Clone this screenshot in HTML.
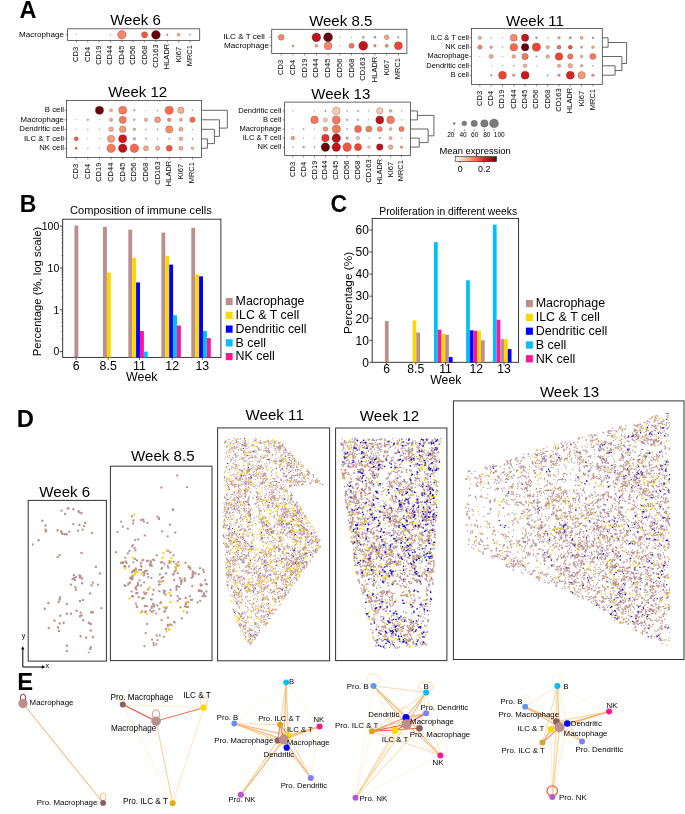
<!DOCTYPE html><html><head><meta charset="utf-8"><style>html,body{margin:0;padding:0;background:#fff;}svg{display:block;will-change:transform;}</style></head><body><svg width="685" height="814" viewBox="0 0 685 814"><g font-family="'Liberation Sans', sans-serif">
<text x="19.5" y="17.8" font-size="23.5" font-weight="bold">A</text>
<text x="135.5" y="24.7" font-size="15" text-anchor="middle">Week 6</text>
<rect x="67.6" y="28.8" width="132.1" height="11.7" fill="none" stroke="#444" stroke-width="0.8"/>
<line x1="65.6" y1="34.8" x2="67.6" y2="34.8" stroke="#444" stroke-width="0.6"/>
<text x="64" y="36.91" font-size="8.1" text-anchor="end">Macrophage</text>
<line x1="76.4" y1="40.5" x2="76.4" y2="42.5" stroke="#444" stroke-width="0.6"/>
<text x="78.4" y="54.4" font-size="7.5" text-anchor="middle" transform="rotate(-90 78.4 54.4)">CD3</text>
<line x1="87.76" y1="40.5" x2="87.76" y2="42.5" stroke="#444" stroke-width="0.6"/>
<text x="89.76" y="54.4" font-size="7.5" text-anchor="middle" transform="rotate(-90 89.76 54.4)">CD4</text>
<line x1="99.12" y1="40.5" x2="99.12" y2="42.5" stroke="#444" stroke-width="0.6"/>
<text x="101.12" y="55.23" font-size="7.5" text-anchor="middle" transform="rotate(-90 101.12 55.23)">CD19</text>
<line x1="110.48" y1="40.5" x2="110.48" y2="42.5" stroke="#444" stroke-width="0.6"/>
<text x="112.48" y="55.23" font-size="7.5" text-anchor="middle" transform="rotate(-90 112.48 55.23)">CD44</text>
<line x1="121.84" y1="40.5" x2="121.84" y2="42.5" stroke="#444" stroke-width="0.6"/>
<text x="123.84" y="55.23" font-size="7.5" text-anchor="middle" transform="rotate(-90 123.84 55.23)">CD45</text>
<line x1="133.2" y1="40.5" x2="133.2" y2="42.5" stroke="#444" stroke-width="0.6"/>
<text x="135.2" y="55.23" font-size="7.5" text-anchor="middle" transform="rotate(-90 135.2 55.23)">CD56</text>
<line x1="144.56" y1="40.5" x2="144.56" y2="42.5" stroke="#444" stroke-width="0.6"/>
<text x="146.56" y="55.23" font-size="7.5" text-anchor="middle" transform="rotate(-90 146.56 55.23)">CD68</text>
<line x1="155.92" y1="40.5" x2="155.92" y2="42.5" stroke="#444" stroke-width="0.6"/>
<text x="157.92" y="56.07" font-size="7.5" text-anchor="middle" transform="rotate(-90 157.92 56.07)">CD163</text>
<line x1="167.28" y1="40.5" x2="167.28" y2="42.5" stroke="#444" stroke-width="0.6"/>
<text x="169.28" y="56.48" font-size="7.5" text-anchor="middle" transform="rotate(-90 169.28 56.48)">HLADR</text>
<line x1="178.64" y1="40.5" x2="178.64" y2="42.5" stroke="#444" stroke-width="0.6"/>
<text x="180.64" y="54.49" font-size="7.5" text-anchor="middle" transform="rotate(-90 180.64 54.49)">KI67</text>
<line x1="190" y1="40.5" x2="190" y2="42.5" stroke="#444" stroke-width="0.6"/>
<text x="192" y="55.65" font-size="7.5" text-anchor="middle" transform="rotate(-90 192 55.65)">MRC1</text>
<circle cx="76.4" cy="34.8" r="0.3" fill="#fcab8f" stroke="#3a3a3a" stroke-width="0.3"/>
<circle cx="110.48" cy="34.8" r="0.4" fill="#fcab8f" stroke="#3a3a3a" stroke-width="0.3"/>
<circle cx="121.84" cy="34.8" r="4.3" fill="#fc8464" stroke="#3a3a3a" stroke-width="0.3"/>
<circle cx="144.56" cy="34.8" r="3.1" fill="#f6583e" stroke="#3a3a3a" stroke-width="0.3"/>
<circle cx="155.92" cy="34.8" r="4.4" fill="#67000d" stroke="#3a3a3a" stroke-width="0.3"/>
<circle cx="167.28" cy="34.8" r="0.8" fill="#fb7a5a" stroke="#3a3a3a" stroke-width="0.3"/>
<circle cx="178.64" cy="34.8" r="1.45" fill="#fcb296" stroke="#3a3a3a" stroke-width="0.3"/>
<circle cx="190" cy="34.8" r="0.55" fill="#fcab8f" stroke="#3a3a3a" stroke-width="0.3"/>
<text x="340.7" y="25.7" font-size="15" text-anchor="middle">Week 8.5</text>
<rect x="271.7" y="29.3" width="135.2" height="24.2" fill="none" stroke="#444" stroke-width="0.8"/>
<line x1="269.7" y1="37.3" x2="271.7" y2="37.3" stroke="#444" stroke-width="0.6"/>
<text x="264.9" y="39.41" font-size="8.1" text-anchor="end">ILC &amp; T cell</text>
<line x1="269.7" y1="45.8" x2="271.7" y2="45.8" stroke="#444" stroke-width="0.6"/>
<text x="269.1" y="47.91" font-size="8.1" text-anchor="end">Macrophage</text>
<line x1="281.2" y1="53.5" x2="281.2" y2="55.5" stroke="#444" stroke-width="0.6"/>
<text x="283.2" y="67.4" font-size="7.5" text-anchor="middle" transform="rotate(-90 283.2 67.4)">CD3</text>
<line x1="292.92" y1="53.5" x2="292.92" y2="55.5" stroke="#444" stroke-width="0.6"/>
<text x="294.92" y="67.4" font-size="7.5" text-anchor="middle" transform="rotate(-90 294.92 67.4)">CD4</text>
<line x1="304.64" y1="53.5" x2="304.64" y2="55.5" stroke="#444" stroke-width="0.6"/>
<text x="306.64" y="68.23" font-size="7.5" text-anchor="middle" transform="rotate(-90 306.64 68.23)">CD19</text>
<line x1="316.36" y1="53.5" x2="316.36" y2="55.5" stroke="#444" stroke-width="0.6"/>
<text x="318.36" y="68.23" font-size="7.5" text-anchor="middle" transform="rotate(-90 318.36 68.23)">CD44</text>
<line x1="328.08" y1="53.5" x2="328.08" y2="55.5" stroke="#444" stroke-width="0.6"/>
<text x="330.08" y="68.23" font-size="7.5" text-anchor="middle" transform="rotate(-90 330.08 68.23)">CD45</text>
<line x1="339.8" y1="53.5" x2="339.8" y2="55.5" stroke="#444" stroke-width="0.6"/>
<text x="341.8" y="68.23" font-size="7.5" text-anchor="middle" transform="rotate(-90 341.8 68.23)">CD56</text>
<line x1="351.52" y1="53.5" x2="351.52" y2="55.5" stroke="#444" stroke-width="0.6"/>
<text x="353.52" y="68.23" font-size="7.5" text-anchor="middle" transform="rotate(-90 353.52 68.23)">CD68</text>
<line x1="363.24" y1="53.5" x2="363.24" y2="55.5" stroke="#444" stroke-width="0.6"/>
<text x="365.24" y="69.07" font-size="7.5" text-anchor="middle" transform="rotate(-90 365.24 69.07)">CD163</text>
<line x1="374.96" y1="53.5" x2="374.96" y2="55.5" stroke="#444" stroke-width="0.6"/>
<text x="376.96" y="69.48" font-size="7.5" text-anchor="middle" transform="rotate(-90 376.96 69.48)">HLADR</text>
<line x1="386.68" y1="53.5" x2="386.68" y2="55.5" stroke="#444" stroke-width="0.6"/>
<text x="388.68" y="67.49" font-size="7.5" text-anchor="middle" transform="rotate(-90 388.68 67.49)">KI67</text>
<line x1="398.4" y1="53.5" x2="398.4" y2="55.5" stroke="#444" stroke-width="0.6"/>
<text x="400.4" y="68.65" font-size="7.5" text-anchor="middle" transform="rotate(-90 400.4 68.65)">MRC1</text>
<circle cx="281.2" cy="37.3" r="2.9" fill="#fc8464" stroke="#3a3a3a" stroke-width="0.3"/>
<circle cx="316.36" cy="37.3" r="4.4" fill="#bc141a" stroke="#3a3a3a" stroke-width="0.3"/>
<circle cx="328.08" cy="37.3" r="4.5" fill="#67000d" stroke="#3a3a3a" stroke-width="0.3"/>
<circle cx="339.8" cy="37.3" r="0.35" fill="#fcab8f" stroke="#3a3a3a" stroke-width="0.3"/>
<circle cx="351.52" cy="37.3" r="0.35" fill="#fcab8f" stroke="#3a3a3a" stroke-width="0.3"/>
<circle cx="363.24" cy="37.3" r="1.1" fill="#fcab8f" stroke="#3a3a3a" stroke-width="0.3"/>
<circle cx="374.96" cy="37.3" r="1" fill="#fc8464" stroke="#3a3a3a" stroke-width="0.3"/>
<circle cx="386.68" cy="37.3" r="2.4" fill="#fca183" stroke="#3a3a3a" stroke-width="0.3"/>
<circle cx="398.4" cy="37.3" r="0.7" fill="#fc8a6a" stroke="#3a3a3a" stroke-width="0.3"/>
<circle cx="292.92" cy="45.8" r="0.9" fill="#fb7a5a" stroke="#3a3a3a" stroke-width="0.3"/>
<circle cx="316.36" cy="45.8" r="1.4" fill="#fca183" stroke="#3a3a3a" stroke-width="0.3"/>
<circle cx="328.08" cy="45.8" r="3.9" fill="#fc8464" stroke="#3a3a3a" stroke-width="0.3"/>
<circle cx="339.8" cy="45.8" r="0.35" fill="#fcab8f" stroke="#3a3a3a" stroke-width="0.3"/>
<circle cx="351.52" cy="45.8" r="2.5" fill="#fb7151" stroke="#3a3a3a" stroke-width="0.3"/>
<circle cx="363.24" cy="45.8" r="4.5" fill="#c2161b" stroke="#3a3a3a" stroke-width="0.3"/>
<circle cx="374.96" cy="45.8" r="1.3" fill="#fc9070" stroke="#3a3a3a" stroke-width="0.3"/>
<circle cx="386.68" cy="45.8" r="1.6" fill="#fc9070" stroke="#3a3a3a" stroke-width="0.3"/>
<circle cx="398.4" cy="45.8" r="4" fill="#f14432" stroke="#3a3a3a" stroke-width="0.3"/>
<text x="535" y="26.3" font-size="15" text-anchor="middle">Week 11</text>
<rect x="471.5" y="28.4" width="130.8" height="56.1" fill="none" stroke="#444" stroke-width="0.8"/>
<line x1="469.5" y1="37.8" x2="471.5" y2="37.8" stroke="#444" stroke-width="0.6"/>
<text x="468.9" y="39.74" font-size="7.45" text-anchor="end">ILC &amp; T cell</text>
<line x1="469.5" y1="47.2" x2="471.5" y2="47.2" stroke="#444" stroke-width="0.6"/>
<text x="468.9" y="49.14" font-size="7.45" text-anchor="end">NK cell</text>
<line x1="469.5" y1="56.5" x2="471.5" y2="56.5" stroke="#444" stroke-width="0.6"/>
<text x="468.9" y="58.44" font-size="7.45" text-anchor="end">Macrophage</text>
<line x1="469.5" y1="65.8" x2="471.5" y2="65.8" stroke="#444" stroke-width="0.6"/>
<text x="468.9" y="67.74" font-size="7.45" text-anchor="end">Dendritic cell</text>
<line x1="469.5" y1="75.2" x2="471.5" y2="75.2" stroke="#444" stroke-width="0.6"/>
<text x="468.9" y="77.14" font-size="7.45" text-anchor="end">B cell</text>
<line x1="479.9" y1="84.5" x2="479.9" y2="86.5" stroke="#444" stroke-width="0.6"/>
<text x="481.9" y="98.4" font-size="7.5" text-anchor="middle" transform="rotate(-90 481.9 98.4)">CD3</text>
<line x1="491.2" y1="84.5" x2="491.2" y2="86.5" stroke="#444" stroke-width="0.6"/>
<text x="493.2" y="98.4" font-size="7.5" text-anchor="middle" transform="rotate(-90 493.2 98.4)">CD4</text>
<line x1="502.5" y1="84.5" x2="502.5" y2="86.5" stroke="#444" stroke-width="0.6"/>
<text x="504.5" y="99.23" font-size="7.5" text-anchor="middle" transform="rotate(-90 504.5 99.23)">CD19</text>
<line x1="513.8" y1="84.5" x2="513.8" y2="86.5" stroke="#444" stroke-width="0.6"/>
<text x="515.8" y="99.23" font-size="7.5" text-anchor="middle" transform="rotate(-90 515.8 99.23)">CD44</text>
<line x1="525.1" y1="84.5" x2="525.1" y2="86.5" stroke="#444" stroke-width="0.6"/>
<text x="527.1" y="99.23" font-size="7.5" text-anchor="middle" transform="rotate(-90 527.1 99.23)">CD45</text>
<line x1="536.4" y1="84.5" x2="536.4" y2="86.5" stroke="#444" stroke-width="0.6"/>
<text x="538.4" y="99.23" font-size="7.5" text-anchor="middle" transform="rotate(-90 538.4 99.23)">CD56</text>
<line x1="547.7" y1="84.5" x2="547.7" y2="86.5" stroke="#444" stroke-width="0.6"/>
<text x="549.7" y="99.23" font-size="7.5" text-anchor="middle" transform="rotate(-90 549.7 99.23)">CD68</text>
<line x1="559" y1="84.5" x2="559" y2="86.5" stroke="#444" stroke-width="0.6"/>
<text x="561" y="100.07" font-size="7.5" text-anchor="middle" transform="rotate(-90 561 100.07)">CD163</text>
<line x1="570.3" y1="84.5" x2="570.3" y2="86.5" stroke="#444" stroke-width="0.6"/>
<text x="572.3" y="100.48" font-size="7.5" text-anchor="middle" transform="rotate(-90 572.3 100.48)">HLADR</text>
<line x1="581.6" y1="84.5" x2="581.6" y2="86.5" stroke="#444" stroke-width="0.6"/>
<text x="583.6" y="98.49" font-size="7.5" text-anchor="middle" transform="rotate(-90 583.6 98.49)">KI67</text>
<line x1="592.9" y1="84.5" x2="592.9" y2="86.5" stroke="#444" stroke-width="0.6"/>
<text x="594.9" y="99.65" font-size="7.5" text-anchor="middle" transform="rotate(-90 594.9 99.65)">MRC1</text>
<circle cx="479.9" cy="37.8" r="1.6" fill="#fcab8f" stroke="#3a3a3a" stroke-width="0.3"/>
<circle cx="491.2" cy="37.8" r="0.4" fill="#fcab8f" stroke="#3a3a3a" stroke-width="0.3"/>
<circle cx="502.5" cy="37.8" r="0.3" fill="#fdcab5" stroke="#3a3a3a" stroke-width="0.3"/>
<circle cx="513.8" cy="37.8" r="3.5" fill="#fc8a6a" stroke="#3a3a3a" stroke-width="0.3"/>
<circle cx="525.1" cy="37.8" r="3.7" fill="#c2161b" stroke="#3a3a3a" stroke-width="0.3"/>
<circle cx="536.4" cy="37.8" r="0.9" fill="#fb7a5a" stroke="#3a3a3a" stroke-width="0.3"/>
<circle cx="547.7" cy="37.8" r="0.4" fill="#fdcab5" stroke="#3a3a3a" stroke-width="0.3"/>
<circle cx="559" cy="37.8" r="1.3" fill="#fcab8f" stroke="#3a3a3a" stroke-width="0.3"/>
<circle cx="570.3" cy="37.8" r="1.2" fill="#fca183" stroke="#3a3a3a" stroke-width="0.3"/>
<circle cx="581.6" cy="37.8" r="1.5" fill="#fcab8f" stroke="#3a3a3a" stroke-width="0.3"/>
<circle cx="592.9" cy="37.8" r="0.9" fill="#fc9070" stroke="#3a3a3a" stroke-width="0.3"/>
<circle cx="479.9" cy="47.2" r="2.1" fill="#fc8464" stroke="#3a3a3a" stroke-width="0.3"/>
<circle cx="491.2" cy="47.2" r="1.3" fill="#fcab8f" stroke="#3a3a3a" stroke-width="0.3"/>
<circle cx="502.5" cy="47.2" r="0.4" fill="#fdcab5" stroke="#3a3a3a" stroke-width="0.3"/>
<circle cx="513.8" cy="47.2" r="3.8" fill="#fb694a" stroke="#3a3a3a" stroke-width="0.3"/>
<circle cx="525.1" cy="47.2" r="3.8" fill="#67000d" stroke="#3a3a3a" stroke-width="0.3"/>
<circle cx="536.4" cy="47.2" r="4.1" fill="#f14432" stroke="#3a3a3a" stroke-width="0.3"/>
<circle cx="547.7" cy="47.2" r="1.6" fill="#fcab8f" stroke="#3a3a3a" stroke-width="0.3"/>
<circle cx="559" cy="47.2" r="2" fill="#fb7151" stroke="#3a3a3a" stroke-width="0.3"/>
<circle cx="570.3" cy="47.2" r="2" fill="#f34c37" stroke="#3a3a3a" stroke-width="0.3"/>
<circle cx="581.6" cy="47.2" r="1.1" fill="#fcab8f" stroke="#3a3a3a" stroke-width="0.3"/>
<circle cx="592.9" cy="47.2" r="1.3" fill="#fcab8f" stroke="#3a3a3a" stroke-width="0.3"/>
<circle cx="479.9" cy="56.5" r="0.3" fill="#fdcab5" stroke="#3a3a3a" stroke-width="0.3"/>
<circle cx="491.2" cy="56.5" r="2" fill="#fcab8f" stroke="#3a3a3a" stroke-width="0.3"/>
<circle cx="502.5" cy="56.5" r="0.3" fill="#fdcab5" stroke="#3a3a3a" stroke-width="0.3"/>
<circle cx="513.8" cy="56.5" r="1.8" fill="#fcab8f" stroke="#3a3a3a" stroke-width="0.3"/>
<circle cx="525.1" cy="56.5" r="3.2" fill="#fb7a5a" stroke="#3a3a3a" stroke-width="0.3"/>
<circle cx="536.4" cy="56.5" r="0.6" fill="#fc9b7c" stroke="#3a3a3a" stroke-width="0.3"/>
<circle cx="547.7" cy="56.5" r="1.8" fill="#fcab8f" stroke="#3a3a3a" stroke-width="0.3"/>
<circle cx="559" cy="56.5" r="3.8" fill="#f14432" stroke="#3a3a3a" stroke-width="0.3"/>
<circle cx="570.3" cy="56.5" r="2.7" fill="#fb7a5a" stroke="#3a3a3a" stroke-width="0.3"/>
<circle cx="581.6" cy="56.5" r="1.3" fill="#fcab8f" stroke="#3a3a3a" stroke-width="0.3"/>
<circle cx="592.9" cy="56.5" r="3" fill="#fb7a5a" stroke="#3a3a3a" stroke-width="0.3"/>
<circle cx="491.2" cy="65.8" r="0.3" fill="#fdcab5" stroke="#3a3a3a" stroke-width="0.3"/>
<circle cx="502.5" cy="65.8" r="0.4" fill="#fdcab5" stroke="#3a3a3a" stroke-width="0.3"/>
<circle cx="513.8" cy="65.8" r="0.6" fill="#fcbba1" stroke="#3a3a3a" stroke-width="0.3"/>
<circle cx="525.1" cy="65.8" r="1.8" fill="#fcab8f" stroke="#3a3a3a" stroke-width="0.3"/>
<circle cx="536.4" cy="65.8" r="0.3" fill="#fdcab5" stroke="#3a3a3a" stroke-width="0.3"/>
<circle cx="559" cy="65.8" r="1.6" fill="#fcab8f" stroke="#3a3a3a" stroke-width="0.3"/>
<circle cx="570.3" cy="65.8" r="2.3" fill="#fcab8f" stroke="#3a3a3a" stroke-width="0.3"/>
<circle cx="581.6" cy="65.8" r="1.2" fill="#fca183" stroke="#3a3a3a" stroke-width="0.3"/>
<circle cx="592.9" cy="65.8" r="0.5" fill="#fcbba1" stroke="#3a3a3a" stroke-width="0.3"/>
<circle cx="491.2" cy="75.2" r="0.8" fill="#fc8a6a" stroke="#3a3a3a" stroke-width="0.3"/>
<circle cx="502.5" cy="75.2" r="4" fill="#f14432" stroke="#3a3a3a" stroke-width="0.3"/>
<circle cx="513.8" cy="75.2" r="1.3" fill="#fcab8f" stroke="#3a3a3a" stroke-width="0.3"/>
<circle cx="525.1" cy="75.2" r="4" fill="#ca181d" stroke="#3a3a3a" stroke-width="0.3"/>
<circle cx="547.7" cy="75.2" r="0.6" fill="#fcab8f" stroke="#3a3a3a" stroke-width="0.3"/>
<circle cx="559" cy="75.2" r="1.3" fill="#fca183" stroke="#3a3a3a" stroke-width="0.3"/>
<circle cx="570.3" cy="75.2" r="4" fill="#d92523" stroke="#3a3a3a" stroke-width="0.3"/>
<circle cx="581.6" cy="75.2" r="3.7" fill="#fc9b7c" stroke="#3a3a3a" stroke-width="0.3"/>
<circle cx="592.9" cy="75.2" r="1.3" fill="#fc9b7c" stroke="#3a3a3a" stroke-width="0.3"/>
<path d="M602.3 37.8H608.1V47.2H602.3 M602.3 65.8H615.1V75.2H602.3 M602.3 56.5H621.9 M615.1 70.5H621.9V56.5 M608.1 42.5H626.6V63.5H621.9" fill="none" stroke="#555" stroke-width="0.9"/>
<text x="137.7" y="97.4" font-size="15" text-anchor="middle">Week 12</text>
<rect x="66.5" y="100.5" width="134.9" height="57" fill="none" stroke="#444" stroke-width="0.8"/>
<line x1="64.5" y1="110.3" x2="66.5" y2="110.3" stroke="#444" stroke-width="0.6"/>
<text x="63.9" y="112.33" font-size="7.8" text-anchor="end">B cell</text>
<line x1="64.5" y1="119.8" x2="66.5" y2="119.8" stroke="#444" stroke-width="0.6"/>
<text x="63.9" y="121.83" font-size="7.8" text-anchor="end">Macrophage</text>
<line x1="64.5" y1="129.3" x2="66.5" y2="129.3" stroke="#444" stroke-width="0.6"/>
<text x="63.9" y="131.33" font-size="7.8" text-anchor="end">Dendritic cell</text>
<line x1="64.5" y1="138.8" x2="66.5" y2="138.8" stroke="#444" stroke-width="0.6"/>
<text x="63.9" y="140.83" font-size="7.8" text-anchor="end">ILC &amp; T cell</text>
<line x1="64.5" y1="148.3" x2="66.5" y2="148.3" stroke="#444" stroke-width="0.6"/>
<text x="63.9" y="150.33" font-size="7.8" text-anchor="end">NK cell</text>
<line x1="76.2" y1="157.5" x2="76.2" y2="159.5" stroke="#444" stroke-width="0.6"/>
<text x="78.2" y="171.4" font-size="7.5" text-anchor="middle" transform="rotate(-90 78.2 171.4)">CD3</text>
<line x1="87.83" y1="157.5" x2="87.83" y2="159.5" stroke="#444" stroke-width="0.6"/>
<text x="89.83" y="171.4" font-size="7.5" text-anchor="middle" transform="rotate(-90 89.83 171.4)">CD4</text>
<line x1="99.46" y1="157.5" x2="99.46" y2="159.5" stroke="#444" stroke-width="0.6"/>
<text x="101.46" y="172.23" font-size="7.5" text-anchor="middle" transform="rotate(-90 101.46 172.23)">CD19</text>
<line x1="111.09" y1="157.5" x2="111.09" y2="159.5" stroke="#444" stroke-width="0.6"/>
<text x="113.09" y="172.23" font-size="7.5" text-anchor="middle" transform="rotate(-90 113.09 172.23)">CD44</text>
<line x1="122.72" y1="157.5" x2="122.72" y2="159.5" stroke="#444" stroke-width="0.6"/>
<text x="124.72" y="172.23" font-size="7.5" text-anchor="middle" transform="rotate(-90 124.72 172.23)">CD45</text>
<line x1="134.35" y1="157.5" x2="134.35" y2="159.5" stroke="#444" stroke-width="0.6"/>
<text x="136.35" y="172.23" font-size="7.5" text-anchor="middle" transform="rotate(-90 136.35 172.23)">CD56</text>
<line x1="145.98" y1="157.5" x2="145.98" y2="159.5" stroke="#444" stroke-width="0.6"/>
<text x="147.98" y="172.23" font-size="7.5" text-anchor="middle" transform="rotate(-90 147.98 172.23)">CD68</text>
<line x1="157.61" y1="157.5" x2="157.61" y2="159.5" stroke="#444" stroke-width="0.6"/>
<text x="159.61" y="173.07" font-size="7.5" text-anchor="middle" transform="rotate(-90 159.61 173.07)">CD163</text>
<line x1="169.24" y1="157.5" x2="169.24" y2="159.5" stroke="#444" stroke-width="0.6"/>
<text x="171.24" y="173.48" font-size="7.5" text-anchor="middle" transform="rotate(-90 171.24 173.48)">HLADR</text>
<line x1="180.87" y1="157.5" x2="180.87" y2="159.5" stroke="#444" stroke-width="0.6"/>
<text x="182.87" y="171.49" font-size="7.5" text-anchor="middle" transform="rotate(-90 182.87 171.49)">KI67</text>
<line x1="192.5" y1="157.5" x2="192.5" y2="159.5" stroke="#444" stroke-width="0.6"/>
<text x="194.5" y="172.65" font-size="7.5" text-anchor="middle" transform="rotate(-90 194.5 172.65)">MRC1</text>
<circle cx="99.46" cy="110.3" r="4.1" fill="#67000d" stroke="#3a3a3a" stroke-width="0.3"/>
<circle cx="111.09" cy="110.3" r="1.5" fill="#fcbba1" stroke="#3a3a3a" stroke-width="0.3"/>
<circle cx="122.72" cy="110.3" r="4" fill="#fb7a5a" stroke="#3a3a3a" stroke-width="0.3"/>
<circle cx="134.35" cy="110.3" r="0.8" fill="#fc9b7c" stroke="#3a3a3a" stroke-width="0.3"/>
<circle cx="145.98" cy="110.3" r="0.3" fill="#fdcab5" stroke="#3a3a3a" stroke-width="0.3"/>
<circle cx="157.61" cy="110.3" r="0.5" fill="#fcbba1" stroke="#3a3a3a" stroke-width="0.3"/>
<circle cx="169.24" cy="110.3" r="4.1" fill="#fb694a" stroke="#3a3a3a" stroke-width="0.3"/>
<circle cx="180.87" cy="110.3" r="3.2" fill="#fcab8f" stroke="#3a3a3a" stroke-width="0.3"/>
<circle cx="192.5" cy="110.3" r="0.5" fill="#fcbba1" stroke="#3a3a3a" stroke-width="0.3"/>
<circle cx="76.2" cy="119.8" r="0.3" fill="#fdcab5" stroke="#3a3a3a" stroke-width="0.3"/>
<circle cx="87.83" cy="119.8" r="0.8" fill="#fc9b7c" stroke="#3a3a3a" stroke-width="0.3"/>
<circle cx="99.46" cy="119.8" r="0.3" fill="#fdcab5" stroke="#3a3a3a" stroke-width="0.3"/>
<circle cx="111.09" cy="119.8" r="1.6" fill="#fcab8f" stroke="#3a3a3a" stroke-width="0.3"/>
<circle cx="122.72" cy="119.8" r="3.6" fill="#fb7a5a" stroke="#3a3a3a" stroke-width="0.3"/>
<circle cx="134.35" cy="119.8" r="0.8" fill="#fc8a6a" stroke="#3a3a3a" stroke-width="0.3"/>
<circle cx="145.98" cy="119.8" r="1.7" fill="#fcbba1" stroke="#3a3a3a" stroke-width="0.3"/>
<circle cx="157.61" cy="119.8" r="3" fill="#fc9b7c" stroke="#3a3a3a" stroke-width="0.3"/>
<circle cx="169.24" cy="119.8" r="1.8" fill="#fc8a6a" stroke="#3a3a3a" stroke-width="0.3"/>
<circle cx="180.87" cy="119.8" r="1.5" fill="#fcab8f" stroke="#3a3a3a" stroke-width="0.3"/>
<circle cx="192.5" cy="119.8" r="2.7" fill="#fb694a" stroke="#3a3a3a" stroke-width="0.3"/>
<circle cx="76.2" cy="129.3" r="0.3" fill="#fdcab5" stroke="#3a3a3a" stroke-width="0.3"/>
<circle cx="87.83" cy="129.3" r="0.4" fill="#fdcab5" stroke="#3a3a3a" stroke-width="0.3"/>
<circle cx="99.46" cy="129.3" r="0.4" fill="#fdcab5" stroke="#3a3a3a" stroke-width="0.3"/>
<circle cx="111.09" cy="129.3" r="2.3" fill="#fcab8f" stroke="#3a3a3a" stroke-width="0.3"/>
<circle cx="122.72" cy="129.3" r="3.3" fill="#fc9b7c" stroke="#3a3a3a" stroke-width="0.3"/>
<circle cx="134.35" cy="129.3" r="1.2" fill="#fcab8f" stroke="#3a3a3a" stroke-width="0.3"/>
<circle cx="145.98" cy="129.3" r="0.5" fill="#fdcab5" stroke="#3a3a3a" stroke-width="0.3"/>
<circle cx="157.61" cy="129.3" r="0.6" fill="#fcbba1" stroke="#3a3a3a" stroke-width="0.3"/>
<circle cx="169.24" cy="129.3" r="3.6" fill="#fc8a6a" stroke="#3a3a3a" stroke-width="0.3"/>
<circle cx="180.87" cy="129.3" r="2" fill="#fcab8f" stroke="#3a3a3a" stroke-width="0.3"/>
<circle cx="192.5" cy="129.3" r="0.4" fill="#fdcab5" stroke="#3a3a3a" stroke-width="0.3"/>
<circle cx="76.2" cy="138.8" r="2" fill="#f6583e" stroke="#3a3a3a" stroke-width="0.3"/>
<circle cx="87.83" cy="138.8" r="0.3" fill="#fdcab5" stroke="#3a3a3a" stroke-width="0.3"/>
<circle cx="99.46" cy="138.8" r="0.3" fill="#fdcab5" stroke="#3a3a3a" stroke-width="0.3"/>
<circle cx="111.09" cy="138.8" r="3.6" fill="#fc9b7c" stroke="#3a3a3a" stroke-width="0.3"/>
<circle cx="122.72" cy="138.8" r="4.1" fill="#ca181d" stroke="#3a3a3a" stroke-width="0.3"/>
<circle cx="134.35" cy="138.8" r="1.3" fill="#fcab8f" stroke="#3a3a3a" stroke-width="0.3"/>
<circle cx="145.98" cy="138.8" r="0.7" fill="#fcbba1" stroke="#3a3a3a" stroke-width="0.3"/>
<circle cx="157.61" cy="138.8" r="0.5" fill="#fcbba1" stroke="#3a3a3a" stroke-width="0.3"/>
<circle cx="169.24" cy="138.8" r="0.6" fill="#fcbba1" stroke="#3a3a3a" stroke-width="0.3"/>
<circle cx="180.87" cy="138.8" r="1.8" fill="#fcab8f" stroke="#3a3a3a" stroke-width="0.3"/>
<circle cx="192.5" cy="138.8" r="0.6" fill="#fcbba1" stroke="#3a3a3a" stroke-width="0.3"/>
<circle cx="76.2" cy="148.3" r="1.1" fill="#f6583e" stroke="#3a3a3a" stroke-width="0.3"/>
<circle cx="87.83" cy="148.3" r="0.4" fill="#fdcab5" stroke="#3a3a3a" stroke-width="0.3"/>
<circle cx="99.46" cy="148.3" r="0.4" fill="#fdcab5" stroke="#3a3a3a" stroke-width="0.3"/>
<circle cx="111.09" cy="148.3" r="4.3" fill="#fb7a5a" stroke="#3a3a3a" stroke-width="0.3"/>
<circle cx="122.72" cy="148.3" r="4.3" fill="#bc141a" stroke="#3a3a3a" stroke-width="0.3"/>
<circle cx="134.35" cy="148.3" r="4.3" fill="#fb694a" stroke="#3a3a3a" stroke-width="0.3"/>
<circle cx="145.98" cy="148.3" r="2.5" fill="#fcab8f" stroke="#3a3a3a" stroke-width="0.3"/>
<circle cx="157.61" cy="148.3" r="2.2" fill="#fcab8f" stroke="#3a3a3a" stroke-width="0.3"/>
<circle cx="169.24" cy="148.3" r="3" fill="#f6583e" stroke="#3a3a3a" stroke-width="0.3"/>
<circle cx="180.87" cy="148.3" r="2" fill="#fcab8f" stroke="#3a3a3a" stroke-width="0.3"/>
<circle cx="192.5" cy="148.3" r="1.3" fill="#fcbba1" stroke="#3a3a3a" stroke-width="0.3"/>
<path d="M201.4 138.9H207.4V148.3H201.4 M201.4 129.3H214.4V143.6H207.4 M201.4 119.8H219.4V136.4H214.4 M201.4 110.3H227.3V128.1H219.4" fill="none" stroke="#555" stroke-width="0.9"/>
<text x="340.8" y="98.8" font-size="15" text-anchor="middle">Week 13</text>
<rect x="284.6" y="102.1" width="125.9" height="53.4" fill="none" stroke="#444" stroke-width="0.8"/>
<line x1="282.6" y1="110.9" x2="284.6" y2="110.9" stroke="#444" stroke-width="0.6"/>
<text x="281.4" y="112.86" font-size="7.55" text-anchor="end">Dendritic cell</text>
<line x1="282.6" y1="119.9" x2="284.6" y2="119.9" stroke="#444" stroke-width="0.6"/>
<text x="281.4" y="121.86" font-size="7.55" text-anchor="end">B cell</text>
<line x1="282.6" y1="129" x2="284.6" y2="129" stroke="#444" stroke-width="0.6"/>
<text x="281.4" y="130.96" font-size="7.55" text-anchor="end">Macrophage</text>
<line x1="282.6" y1="138.1" x2="284.6" y2="138.1" stroke="#444" stroke-width="0.6"/>
<text x="281.4" y="140.06" font-size="7.55" text-anchor="end">ILC &amp; T cell</text>
<line x1="282.6" y1="147.1" x2="284.6" y2="147.1" stroke="#444" stroke-width="0.6"/>
<text x="281.4" y="149.06" font-size="7.55" text-anchor="end">NK cell</text>
<line x1="292.8" y1="155.5" x2="292.8" y2="157.5" stroke="#444" stroke-width="0.6"/>
<text x="294.8" y="169.4" font-size="7.5" text-anchor="middle" transform="rotate(-90 294.8 169.4)">CD3</text>
<line x1="303.67" y1="155.5" x2="303.67" y2="157.5" stroke="#444" stroke-width="0.6"/>
<text x="305.67" y="169.4" font-size="7.5" text-anchor="middle" transform="rotate(-90 305.67 169.4)">CD4</text>
<line x1="314.54" y1="155.5" x2="314.54" y2="157.5" stroke="#444" stroke-width="0.6"/>
<text x="316.54" y="170.23" font-size="7.5" text-anchor="middle" transform="rotate(-90 316.54 170.23)">CD19</text>
<line x1="325.41" y1="155.5" x2="325.41" y2="157.5" stroke="#444" stroke-width="0.6"/>
<text x="327.41" y="170.23" font-size="7.5" text-anchor="middle" transform="rotate(-90 327.41 170.23)">CD44</text>
<line x1="336.28" y1="155.5" x2="336.28" y2="157.5" stroke="#444" stroke-width="0.6"/>
<text x="338.28" y="170.23" font-size="7.5" text-anchor="middle" transform="rotate(-90 338.28 170.23)">CD45</text>
<line x1="347.15" y1="155.5" x2="347.15" y2="157.5" stroke="#444" stroke-width="0.6"/>
<text x="349.15" y="170.23" font-size="7.5" text-anchor="middle" transform="rotate(-90 349.15 170.23)">CD56</text>
<line x1="358.02" y1="155.5" x2="358.02" y2="157.5" stroke="#444" stroke-width="0.6"/>
<text x="360.02" y="170.23" font-size="7.5" text-anchor="middle" transform="rotate(-90 360.02 170.23)">CD68</text>
<line x1="368.89" y1="155.5" x2="368.89" y2="157.5" stroke="#444" stroke-width="0.6"/>
<text x="370.89" y="171.07" font-size="7.5" text-anchor="middle" transform="rotate(-90 370.89 171.07)">CD163</text>
<line x1="379.76" y1="155.5" x2="379.76" y2="157.5" stroke="#444" stroke-width="0.6"/>
<text x="381.76" y="171.48" font-size="7.5" text-anchor="middle" transform="rotate(-90 381.76 171.48)">HLADR</text>
<line x1="390.63" y1="155.5" x2="390.63" y2="157.5" stroke="#444" stroke-width="0.6"/>
<text x="392.63" y="169.49" font-size="7.5" text-anchor="middle" transform="rotate(-90 392.63 169.49)">KI67</text>
<line x1="401.5" y1="155.5" x2="401.5" y2="157.5" stroke="#444" stroke-width="0.6"/>
<text x="403.5" y="170.65" font-size="7.5" text-anchor="middle" transform="rotate(-90 403.5 170.65)">MRC1</text>
<circle cx="292.8" cy="110.9" r="0.3" fill="#fdcab5" stroke="#3a3a3a" stroke-width="0.3"/>
<circle cx="314.54" cy="110.9" r="0.3" fill="#fdcab5" stroke="#3a3a3a" stroke-width="0.3"/>
<circle cx="325.41" cy="110.9" r="0.6" fill="#fc8a6a" stroke="#3a3a3a" stroke-width="0.3"/>
<circle cx="336.28" cy="110.9" r="3.8" fill="#fdcab5" stroke="#3a3a3a" stroke-width="0.3"/>
<circle cx="347.15" cy="110.9" r="0.5" fill="#fcab8f" stroke="#3a3a3a" stroke-width="0.3"/>
<circle cx="358.02" cy="110.9" r="0.6" fill="#fc8a6a" stroke="#3a3a3a" stroke-width="0.3"/>
<circle cx="368.89" cy="110.9" r="0.4" fill="#fdcab5" stroke="#3a3a3a" stroke-width="0.3"/>
<circle cx="379.76" cy="110.9" r="3.2" fill="#fdcab5" stroke="#3a3a3a" stroke-width="0.3"/>
<circle cx="390.63" cy="110.9" r="1.4" fill="#fcbba1" stroke="#3a3a3a" stroke-width="0.3"/>
<circle cx="401.5" cy="110.9" r="0.4" fill="#fdcab5" stroke="#3a3a3a" stroke-width="0.3"/>
<circle cx="314.54" cy="119.9" r="3.8" fill="#fb7a5a" stroke="#3a3a3a" stroke-width="0.3"/>
<circle cx="325.41" cy="119.9" r="2" fill="#fdcab5" stroke="#3a3a3a" stroke-width="0.3"/>
<circle cx="336.28" cy="119.9" r="4" fill="#fb7a5a" stroke="#3a3a3a" stroke-width="0.3"/>
<circle cx="347.15" cy="119.9" r="0.8" fill="#fcab8f" stroke="#3a3a3a" stroke-width="0.3"/>
<circle cx="358.02" cy="119.9" r="0.7" fill="#fc9b7c" stroke="#3a3a3a" stroke-width="0.3"/>
<circle cx="368.89" cy="119.9" r="0.3" fill="#fdcab5" stroke="#3a3a3a" stroke-width="0.3"/>
<circle cx="379.76" cy="119.9" r="4" fill="#bc141a" stroke="#3a3a3a" stroke-width="0.3"/>
<circle cx="390.63" cy="119.9" r="3.8" fill="#fb7a5a" stroke="#3a3a3a" stroke-width="0.3"/>
<circle cx="401.5" cy="119.9" r="0.4" fill="#fdcab5" stroke="#3a3a3a" stroke-width="0.3"/>
<circle cx="292.8" cy="129" r="0.3" fill="#fdcab5" stroke="#3a3a3a" stroke-width="0.3"/>
<circle cx="303.67" cy="129" r="0.6" fill="#fc9b7c" stroke="#3a3a3a" stroke-width="0.3"/>
<circle cx="314.54" cy="129" r="0.3" fill="#fdcab5" stroke="#3a3a3a" stroke-width="0.3"/>
<circle cx="325.41" cy="129" r="2.3" fill="#fc9b7c" stroke="#3a3a3a" stroke-width="0.3"/>
<circle cx="336.28" cy="129" r="4.2" fill="#fb7a5a" stroke="#3a3a3a" stroke-width="0.3"/>
<circle cx="347.15" cy="129" r="0.6" fill="#fcab8f" stroke="#3a3a3a" stroke-width="0.3"/>
<circle cx="358.02" cy="129" r="3.5" fill="#fb694a" stroke="#3a3a3a" stroke-width="0.3"/>
<circle cx="368.89" cy="129" r="3" fill="#fb7a5a" stroke="#3a3a3a" stroke-width="0.3"/>
<circle cx="379.76" cy="129" r="2.6" fill="#fc8a6a" stroke="#3a3a3a" stroke-width="0.3"/>
<circle cx="390.63" cy="129" r="1.5" fill="#fcbba1" stroke="#3a3a3a" stroke-width="0.3"/>
<circle cx="401.5" cy="129" r="2.6" fill="#fb7a5a" stroke="#3a3a3a" stroke-width="0.3"/>
<circle cx="292.8" cy="138.1" r="1.8" fill="#fc9b7c" stroke="#3a3a3a" stroke-width="0.3"/>
<circle cx="303.67" cy="138.1" r="0.4" fill="#fdcab5" stroke="#3a3a3a" stroke-width="0.3"/>
<circle cx="314.54" cy="138.1" r="0.3" fill="#fdcab5" stroke="#3a3a3a" stroke-width="0.3"/>
<circle cx="325.41" cy="138.1" r="3.8" fill="#e83429" stroke="#3a3a3a" stroke-width="0.3"/>
<circle cx="336.28" cy="138.1" r="4.3" fill="#ac1117" stroke="#3a3a3a" stroke-width="0.3"/>
<circle cx="347.15" cy="138.1" r="1.3" fill="#fcbba1" stroke="#3a3a3a" stroke-width="0.3"/>
<circle cx="358.02" cy="138.1" r="1.7" fill="#fdcab5" stroke="#3a3a3a" stroke-width="0.3"/>
<circle cx="368.89" cy="138.1" r="0.4" fill="#fdcab5" stroke="#3a3a3a" stroke-width="0.3"/>
<circle cx="379.76" cy="138.1" r="0.8" fill="#fc9b7c" stroke="#3a3a3a" stroke-width="0.3"/>
<circle cx="390.63" cy="138.1" r="1.6" fill="#fcbba1" stroke="#3a3a3a" stroke-width="0.3"/>
<circle cx="401.5" cy="138.1" r="0.5" fill="#fdcab5" stroke="#3a3a3a" stroke-width="0.3"/>
<circle cx="292.8" cy="147.1" r="0.5" fill="#fdcab5" stroke="#3a3a3a" stroke-width="0.3"/>
<circle cx="303.67" cy="147.1" r="0.9" fill="#fc8a6a" stroke="#3a3a3a" stroke-width="0.3"/>
<circle cx="314.54" cy="147.1" r="0.6" fill="#fcbba1" stroke="#3a3a3a" stroke-width="0.3"/>
<circle cx="325.41" cy="147.1" r="4.3" fill="#67000d" stroke="#3a3a3a" stroke-width="0.3"/>
<circle cx="336.28" cy="147.1" r="4.3" fill="#bc141a" stroke="#3a3a3a" stroke-width="0.3"/>
<circle cx="347.15" cy="147.1" r="4.3" fill="#f6583e" stroke="#3a3a3a" stroke-width="0.3"/>
<circle cx="358.02" cy="147.1" r="3.6" fill="#f14432" stroke="#3a3a3a" stroke-width="0.3"/>
<circle cx="368.89" cy="147.1" r="1.4" fill="#fdcab5" stroke="#3a3a3a" stroke-width="0.3"/>
<circle cx="379.76" cy="147.1" r="3.3" fill="#bc141a" stroke="#3a3a3a" stroke-width="0.3"/>
<circle cx="390.63" cy="147.1" r="2.3" fill="#fcab8f" stroke="#3a3a3a" stroke-width="0.3"/>
<circle cx="401.5" cy="147.1" r="1.2" fill="#fc8a6a" stroke="#3a3a3a" stroke-width="0.3"/>
<path d="M410.5 110.9H417.4V119.9H410.5 M410.5 138.1H419.2V147.1H410.5 M410.5 129.0H428.1V142.6H419.2 M417.4 115.4H433.9V135.8H428.1" fill="none" stroke="#555" stroke-width="0.9"/>
<circle cx="454.2" cy="123.4" r="1" fill="#7a7a7a" stroke="#444" stroke-width="0.3"/>
<line x1="454.2" y1="129.3" x2="454.2" y2="131" stroke="#333" stroke-width="0.6"/>
<text x="450.8" y="136.6" font-size="6.5" text-anchor="middle">20</text>
<circle cx="464.3" cy="123.4" r="2.4" fill="#7a7a7a" stroke="#444" stroke-width="0.3"/>
<line x1="464.3" y1="129.3" x2="464.3" y2="131" stroke="#333" stroke-width="0.6"/>
<text x="463" y="136.6" font-size="6.5" text-anchor="middle">40</text>
<circle cx="474.2" cy="123.4" r="3.2" fill="#7a7a7a" stroke="#444" stroke-width="0.3"/>
<line x1="474.2" y1="129.3" x2="474.2" y2="131" stroke="#333" stroke-width="0.6"/>
<text x="474.7" y="136.6" font-size="6.5" text-anchor="middle">60</text>
<circle cx="484.4" cy="123.4" r="3.75" fill="#7a7a7a" stroke="#444" stroke-width="0.3"/>
<line x1="484.4" y1="129.3" x2="484.4" y2="131" stroke="#333" stroke-width="0.6"/>
<text x="486.8" y="136.6" font-size="6.5" text-anchor="middle">80</text>
<circle cx="494" cy="123.4" r="4.45" fill="#7a7a7a" stroke="#444" stroke-width="0.3"/>
<line x1="494" y1="129.3" x2="494" y2="131" stroke="#333" stroke-width="0.6"/>
<text x="499.2" y="136.6" font-size="6.5" text-anchor="middle">100</text>
<text x="475.1" y="154" font-size="9.4" text-anchor="middle">Mean expression</text>
<defs><linearGradient id="rg" x1="0" x2="1" y1="0" y2="0"><stop offset="0.0" stop-color="#fff5f0"/><stop offset="0.1" stop-color="#fee5d8"/><stop offset="0.2" stop-color="#fdcab5"/><stop offset="0.3" stop-color="#fcab8f"/><stop offset="0.4" stop-color="#fc8a6a"/><stop offset="0.5" stop-color="#fb694a"/><stop offset="0.6" stop-color="#f14432"/><stop offset="0.7" stop-color="#d92523"/><stop offset="0.8" stop-color="#bc141a"/><stop offset="0.9" stop-color="#980c13"/><stop offset="1.0" stop-color="#67000d"/></linearGradient></defs>
<rect x="455.2" y="156.6" width="41.3" height="5" fill="url(#rg)" stroke="#222" stroke-width="0.6"/>
<line x1="460.1" y1="161.6" x2="460.1" y2="163.2" stroke="#222" stroke-width="0.6"/>
<line x1="484.2" y1="161.6" x2="484.2" y2="163.2" stroke="#222" stroke-width="0.6"/>
<text x="460.1" y="171.6" font-size="8.9" text-anchor="middle">0</text>
<text x="484.2" y="171.6" font-size="8.9" text-anchor="middle">0.2</text>
<text x="19.8" y="211.9" font-size="23" font-weight="bold">B</text>
<text x="140.9" y="213.6" font-size="11.1" text-anchor="middle">Composition of immune cells</text>
<rect x="62.7" y="219.2" width="158.2" height="138.2" fill="none" stroke="#222" stroke-width="0.9"/>
<line x1="59.8" y1="226.11" x2="62.7" y2="226.11" stroke="#222" stroke-width="0.8"/>
<text x="59.3" y="229.91" font-size="10.5" text-anchor="end">100</text>
<line x1="59.8" y1="267.94" x2="62.7" y2="267.94" stroke="#222" stroke-width="0.8"/>
<text x="59.3" y="271.74" font-size="10.5" text-anchor="end">10</text>
<line x1="59.8" y1="309.77" x2="62.7" y2="309.77" stroke="#222" stroke-width="0.8"/>
<text x="59.3" y="313.57" font-size="10.5" text-anchor="end">1</text>
<line x1="59.8" y1="351.6" x2="62.7" y2="351.6" stroke="#222" stroke-width="0.8"/>
<text x="59.3" y="355.4" font-size="10.5" text-anchor="end">0</text>
<line x1="61.3" y1="339.01" x2="62.7" y2="339.01" stroke="#222" stroke-width="0.5"/>
<line x1="61.3" y1="331.64" x2="62.7" y2="331.64" stroke="#222" stroke-width="0.5"/>
<line x1="61.3" y1="326.42" x2="62.7" y2="326.42" stroke="#222" stroke-width="0.5"/>
<line x1="61.3" y1="322.36" x2="62.7" y2="322.36" stroke="#222" stroke-width="0.5"/>
<line x1="61.3" y1="319.05" x2="62.7" y2="319.05" stroke="#222" stroke-width="0.5"/>
<line x1="61.3" y1="316.25" x2="62.7" y2="316.25" stroke="#222" stroke-width="0.5"/>
<line x1="61.3" y1="313.82" x2="62.7" y2="313.82" stroke="#222" stroke-width="0.5"/>
<line x1="61.3" y1="311.68" x2="62.7" y2="311.68" stroke="#222" stroke-width="0.5"/>
<line x1="61.3" y1="297.18" x2="62.7" y2="297.18" stroke="#222" stroke-width="0.5"/>
<line x1="61.3" y1="289.81" x2="62.7" y2="289.81" stroke="#222" stroke-width="0.5"/>
<line x1="61.3" y1="284.59" x2="62.7" y2="284.59" stroke="#222" stroke-width="0.5"/>
<line x1="61.3" y1="280.53" x2="62.7" y2="280.53" stroke="#222" stroke-width="0.5"/>
<line x1="61.3" y1="277.22" x2="62.7" y2="277.22" stroke="#222" stroke-width="0.5"/>
<line x1="61.3" y1="274.42" x2="62.7" y2="274.42" stroke="#222" stroke-width="0.5"/>
<line x1="61.3" y1="271.99" x2="62.7" y2="271.99" stroke="#222" stroke-width="0.5"/>
<line x1="61.3" y1="269.85" x2="62.7" y2="269.85" stroke="#222" stroke-width="0.5"/>
<line x1="61.3" y1="255.35" x2="62.7" y2="255.35" stroke="#222" stroke-width="0.5"/>
<line x1="61.3" y1="247.98" x2="62.7" y2="247.98" stroke="#222" stroke-width="0.5"/>
<line x1="61.3" y1="242.76" x2="62.7" y2="242.76" stroke="#222" stroke-width="0.5"/>
<line x1="61.3" y1="238.7" x2="62.7" y2="238.7" stroke="#222" stroke-width="0.5"/>
<line x1="61.3" y1="235.39" x2="62.7" y2="235.39" stroke="#222" stroke-width="0.5"/>
<line x1="61.3" y1="232.59" x2="62.7" y2="232.59" stroke="#222" stroke-width="0.5"/>
<line x1="61.3" y1="230.16" x2="62.7" y2="230.16" stroke="#222" stroke-width="0.5"/>
<line x1="61.3" y1="228.02" x2="62.7" y2="228.02" stroke="#222" stroke-width="0.5"/>
<rect x="74.4" y="225.57" width="3.9" height="131.83" fill="#bc8f8f"/>
<rect x="103" y="226.85" width="3.9" height="130.55" fill="#bc8f8f"/>
<rect x="106.9" y="272.45" width="3.9" height="84.95" fill="#ffd700"/>
<rect x="128.3" y="229.72" width="3.9" height="127.68" fill="#bc8f8f"/>
<rect x="132.2" y="257.77" width="3.9" height="99.63" fill="#ffd700"/>
<rect x="136.1" y="282.45" width="3.9" height="74.95" fill="#0000ff"/>
<rect x="140" y="331.05" width="3.9" height="26.35" fill="#ff1493"/>
<rect x="143.9" y="351.6" width="3.9" height="5.8" fill="#00bfff"/>
<rect x="161.4" y="232.59" width="3.9" height="124.81" fill="#bc8f8f"/>
<rect x="165.3" y="255.81" width="3.9" height="101.59" fill="#ffd700"/>
<rect x="169.2" y="264.63" width="3.9" height="92.77" fill="#0000ff"/>
<rect x="173.1" y="315.24" width="3.9" height="42.16" fill="#00bfff"/>
<rect x="177" y="325.53" width="3.9" height="31.87" fill="#ff1493"/>
<rect x="191.3" y="227.82" width="3.9" height="129.58" fill="#bc8f8f"/>
<rect x="195.2" y="274.42" width="3.9" height="82.98" fill="#ffd700"/>
<rect x="199.1" y="276.33" width="3.9" height="81.07" fill="#0000ff"/>
<rect x="203" y="331.05" width="3.9" height="26.35" fill="#00bfff"/>
<rect x="206.9" y="338.12" width="3.9" height="19.28" fill="#ff1493"/>
<line x1="76.1" y1="357.4" x2="76.1" y2="359.8" stroke="#222" stroke-width="0.8"/>
<text x="76.1" y="369.6" font-size="12.4" text-anchor="middle">6</text>
<line x1="108.2" y1="357.4" x2="108.2" y2="359.8" stroke="#222" stroke-width="0.8"/>
<text x="108.2" y="369.6" font-size="12.4" text-anchor="middle">8.5</text>
<line x1="139.5" y1="357.4" x2="139.5" y2="359.8" stroke="#222" stroke-width="0.8"/>
<text x="139.5" y="369.6" font-size="12.4" text-anchor="middle">11</text>
<line x1="172.2" y1="357.4" x2="172.2" y2="359.8" stroke="#222" stroke-width="0.8"/>
<text x="172.2" y="369.6" font-size="12.4" text-anchor="middle">12</text>
<line x1="202.3" y1="357.4" x2="202.3" y2="359.8" stroke="#222" stroke-width="0.8"/>
<text x="202.3" y="369.6" font-size="12.4" text-anchor="middle">13</text>
<text x="141.8" y="380.9" font-size="12.4" text-anchor="middle">Week</text>
<text x="41.3" y="291.5" font-size="11.3" text-anchor="middle" transform="rotate(-90 41.3 291.5)">Percentage (%, log scale)</text>
<rect x="225.8" y="298" width="6.8" height="7.2" fill="#bc8f8f"/>
<text x="235.6" y="305.3" font-size="12.4">Macrophage</text>
<rect x="225.8" y="311.75" width="6.8" height="7.2" fill="#ffd700"/>
<text x="235.6" y="319.05" font-size="12.4">ILC &amp; T cell</text>
<rect x="225.8" y="325.5" width="6.8" height="7.2" fill="#0000ff"/>
<text x="235.6" y="332.8" font-size="12.4">Dendritic cell</text>
<rect x="225.8" y="339.25" width="6.8" height="7.2" fill="#00bfff"/>
<text x="235.6" y="346.55" font-size="12.4">B cell</text>
<rect x="225.8" y="353" width="6.8" height="7.2" fill="#ff1493"/>
<text x="235.6" y="360.3" font-size="12.4">NK cell</text>
<text x="330.6" y="211.9" font-size="23" font-weight="bold">C</text>
<text x="448.2" y="214.8" font-size="10.3" text-anchor="middle">Proliferation in different weeks</text>
<rect x="372.2" y="218.4" width="146.4" height="143.9" fill="none" stroke="#222" stroke-width="0.9"/>
<line x1="369.4" y1="362.3" x2="372.2" y2="362.3" stroke="#222" stroke-width="0.8"/>
<text x="368.9" y="366.6" font-size="12" text-anchor="end">0</text>
<line x1="369.4" y1="340.25" x2="372.2" y2="340.25" stroke="#222" stroke-width="0.8"/>
<text x="368.9" y="344.55" font-size="12" text-anchor="end">10</text>
<line x1="369.4" y1="318.2" x2="372.2" y2="318.2" stroke="#222" stroke-width="0.8"/>
<text x="368.9" y="322.5" font-size="12" text-anchor="end">20</text>
<line x1="369.4" y1="296.15" x2="372.2" y2="296.15" stroke="#222" stroke-width="0.8"/>
<text x="368.9" y="300.45" font-size="12" text-anchor="end">30</text>
<line x1="369.4" y1="274.1" x2="372.2" y2="274.1" stroke="#222" stroke-width="0.8"/>
<text x="368.9" y="278.4" font-size="12" text-anchor="end">40</text>
<line x1="369.4" y1="252.05" x2="372.2" y2="252.05" stroke="#222" stroke-width="0.8"/>
<text x="368.9" y="256.35" font-size="12" text-anchor="end">50</text>
<line x1="369.4" y1="230" x2="372.2" y2="230" stroke="#222" stroke-width="0.8"/>
<text x="368.9" y="234.3" font-size="12" text-anchor="end">60</text>
<rect x="384.9" y="321.07" width="3.72" height="41.23" fill="#bc8f8f"/>
<rect x="412.6" y="320.41" width="3.72" height="41.89" fill="#ffd700"/>
<rect x="416.32" y="332.53" width="3.72" height="29.77" fill="#bc8f8f"/>
<rect x="434" y="242.13" width="3.72" height="120.17" fill="#00bfff"/>
<rect x="437.72" y="329.67" width="3.72" height="32.63" fill="#ff1493"/>
<rect x="441.44" y="333.63" width="3.72" height="28.67" fill="#ffd700"/>
<rect x="445.16" y="334.74" width="3.72" height="27.56" fill="#bc8f8f"/>
<rect x="448.88" y="357.01" width="3.72" height="5.29" fill="#0000ff"/>
<rect x="466.1" y="280.27" width="3.72" height="82.03" fill="#00bfff"/>
<rect x="469.82" y="330.33" width="3.72" height="31.97" fill="#0000ff"/>
<rect x="473.54" y="330.77" width="3.72" height="31.53" fill="#ff1493"/>
<rect x="477.26" y="330.77" width="3.72" height="31.53" fill="#ffd700"/>
<rect x="480.98" y="340.25" width="3.72" height="22.05" fill="#bc8f8f"/>
<rect x="492.9" y="224.71" width="3.72" height="137.59" fill="#00bfff"/>
<rect x="496.62" y="319.74" width="3.72" height="42.56" fill="#ff1493"/>
<rect x="500.34" y="339.15" width="3.72" height="23.15" fill="#bc8f8f"/>
<rect x="504.06" y="339.15" width="3.72" height="23.15" fill="#ffd700"/>
<rect x="507.78" y="349.07" width="3.72" height="13.23" fill="#0000ff"/>
<line x1="386.6" y1="362.3" x2="386.6" y2="364.7" stroke="#222" stroke-width="0.8"/>
<text x="386.6" y="372.6" font-size="12.2" text-anchor="middle">6</text>
<line x1="415.8" y1="362.3" x2="415.8" y2="364.7" stroke="#222" stroke-width="0.8"/>
<text x="415.8" y="372.6" font-size="12.2" text-anchor="middle">8.5</text>
<line x1="445.5" y1="362.3" x2="445.5" y2="364.7" stroke="#222" stroke-width="0.8"/>
<text x="445.5" y="372.6" font-size="12.2" text-anchor="middle">11</text>
<line x1="476.2" y1="362.3" x2="476.2" y2="364.7" stroke="#222" stroke-width="0.8"/>
<text x="476.2" y="372.6" font-size="12.2" text-anchor="middle">12</text>
<line x1="504" y1="362.3" x2="504" y2="364.7" stroke="#222" stroke-width="0.8"/>
<text x="504" y="372.6" font-size="12.2" text-anchor="middle">13</text>
<text x="445.8" y="383.6" font-size="12.2" text-anchor="middle">Week</text>
<text x="352.3" y="292.9" font-size="11.8" text-anchor="middle" transform="rotate(-90 352.3 292.9)">Percentage (%)</text>
<rect x="525.9" y="300" width="7" height="7.2" fill="#bc8f8f"/>
<text x="535.7" y="307.4" font-size="12.5">Macrophage</text>
<rect x="525.9" y="313.8" width="7" height="7.2" fill="#ffd700"/>
<text x="535.7" y="321.2" font-size="12.5">ILC &amp; T cell</text>
<rect x="525.9" y="327.6" width="7" height="7.2" fill="#0000ff"/>
<text x="535.7" y="335" font-size="12.5">Dendritic cell</text>
<rect x="525.9" y="341.4" width="7" height="7.2" fill="#00bfff"/>
<text x="535.7" y="348.8" font-size="12.5">B cell</text>
<rect x="525.9" y="355.2" width="7" height="7.2" fill="#ff1493"/>
<text x="535.7" y="362.6" font-size="12.5">NK cell</text>
<text x="16.7" y="427.3" font-size="23.8" font-weight="bold">D</text>
<rect x="28.2" y="500.4" width="78.2" height="160.7" fill="none" stroke="#333" stroke-width="1"/>
<text x="64.75" y="497" font-size="15.1" text-anchor="middle">Week 6</text>
<rect x="110.4" y="466.2" width="101.6" height="194.4" fill="none" stroke="#333" stroke-width="1"/>
<text x="162.8" y="461.3" font-size="15.1" text-anchor="middle">Week 8.5</text>
<rect x="217.6" y="427.9" width="112" height="232.9" fill="none" stroke="#333" stroke-width="1"/>
<text x="274.7" y="420.3" font-size="15.1" text-anchor="middle">Week 11</text>
<rect x="335.6" y="428" width="111.3" height="232.6" fill="none" stroke="#333" stroke-width="1"/>
<text x="389.45" y="420.9" font-size="15.1" text-anchor="middle">Week 12</text>
<rect x="453.4" y="400.9" width="230.6" height="258.6" fill="none" stroke="#333" stroke-width="1"/>
<text x="569.55" y="396.8" font-size="15.1" text-anchor="middle">Week 13</text>
<path d="M22.8 667H43.5M22.8 667V648" fill="none" stroke="#000" stroke-width="1"/>
<path d="M22.8 646.2L21.1 649.6H24.5Z M45.3 667L41.9 665.3V668.7Z" fill="#000"/>
<text x="23.6" y="638.2" font-size="7.2" text-anchor="middle">y</text>
<text x="47.4" y="668.4" font-size="7.2" text-anchor="middle">x</text>
<defs><filter id="soft" x="0" y="0" width="1" height="1"><feGaussianBlur stdDeviation="0.35"/></filter></defs><g fill="none" filter="url(#soft)"><path d="M67.8 508.6h0M61.7 510.6h0M73.3 509.2h0M78.6 511.3h0M81.5 513.3h0M65.1 513.9h0M42.3 520.8h0M45.4 525.5h0M45.4 529.6h0M45.8 531.6h0M73.3 524.1h0M79.4 524.9h0M85.1 522.9h0M84.1 526.1h0M82.7 529.6h0M57.6 530.2h0M61.1 531.2h0M62.3 533.7h0M64.7 534.3h0M66.8 534.3h0M69.2 531.6h0M78.0 530.6h0M91.9 533.1h0M38.6 540.2h0M32.5 544.5h0M59.6 555.1h0M57.6 557.1h0M81.5 553.0h0M95.9 566.7h0M99.8 573.4h0M73.9 575.1h0M79.4 575.5h0M75.9 577.1h0M72.5 579.1h0M74.9 580.0h0M80.0 577.5h0M82.1 578.5h0M70.9 584.6h0M75.3 587.1h0M75.9 589.7h0M82.1 583.2h0M92.9 582.6h0M91.6 585.3h0M98.0 584.6h0M90.2 593.4h0M60.0 597.5h0M59.6 599.5h0M58.6 602.0h0M48.4 603.0h0M44.8 608.7h0M66.8 604.0h0M80.0 601.0h0M83.1 599.9h0M101.4 608.1h0M76.6 610.7h0M80.6 612.6h0M81.5 615.2h0M80.0 616.2h0M92.3 612.6h0M92.9 612.2h0M66.8 613.8h0M70.9 613.8h0M60.3 615.8h0M54.5 620.7h0M59.6 623.4h0M63.7 622.8h0M83.1 620.3h0M88.8 622.8h0M90.8 624.0h0M48.8 628.1h0M58.0 627.5h0M59.0 630.9h0M90.8 630.5h0M80.6 636.2h0M86.1 637.7h0M92.9 637.0h0M66.8 645.8h0M90.8 647.2h0M90.2 648.9h0M66.8 650.9h0M88.8 652.9h0M68.4 508.2h0M79.4 512.3h0M46.0 530.6h0M61.7 532.7h0M74.1 577.9h0M80.6 576.3h0M91.2 612.2h0M89.6 623.4h0" stroke="#bc8f8f" stroke-width="2.4" stroke-linecap="round"/>
<path d="M177.2 475.6h0M161.4 487.5h0M186.9 487.2h0M172.7 509.2h0M173.3 510.1h0M132.0 516.3h0M133.5 520.5h0M133.1 523.4h0M121.2 521.7h0M122.7 526.7h0M127.8 528.7h0M117.6 532.1h0M141.3 520.0h0M143.3 519.7h0M143.9 521.6h0M147.5 522.8h0M157.2 516.6h0M158.8 517.9h0M159.1 519.2h0M169.9 524.7h0M162.2 531.3h0M175.3 532.6h0M167.6 536.4h0M144.8 535.5h0M138.2 539.5h0M135.1 540.1h0M132.8 545.2h0M132.0 546.3h0M134.6 548.0h0M135.5 550.4h0M129.4 551.0h0M127.8 553.4h0M116.0 552.2h0M168.0 551.0h0M170.2 552.5h0M173.5 555.3h0M156.9 555.3h0M125.3 557.8h0M135.1 559.0h0M169.9 562.1h0M173.8 561.8h0M143.3 559.9h0M146.7 561.2h0M148.5 560.7h0M151.0 561.5h0M152.9 559.6h0M154.4 560.3h0M140.8 563.0h0M125.8 561.5h0M126.6 563.0h0M147.8 573.9h0M151.5 565.3h0M192.6 571.4h0M190.4 569.1h0M144.8 573.3h0M143.9 575.5h0M143.2 572.4h0M167.7 565.8h0M168.3 567.7h0M145.7 633.1h0M187.0 612.7h0M146.9 624.0h0M178.1 565.6h0M192.2 586.2h0M178.5 562.1h0M134.0 570.8h0M134.0 570.1h0M131.9 572.4h0M132.4 571.3h0M143.8 598.2h0M132.4 576.2h0M132.6 577.7h0M142.4 560.4h0M151.9 612.1h0M180.5 607.4h0M190.0 596.1h0M124.5 566.2h0M125.2 567.2h0M125.3 566.2h0M124.3 566.4h0M173.7 573.7h0M172.9 574.7h0M176.0 570.3h0M162.1 567.9h0M161.5 568.8h0M133.4 562.1h0M166.0 573.5h0M181.0 584.0h0M184.8 580.9h0M150.6 562.7h0M150.5 563.7h0M204.0 593.5h0M204.1 594.4h0M202.0 591.6h0M161.7 620.1h0M185.8 604.0h0M186.0 602.8h0M205.5 596.4h0M134.1 571.7h0M136.1 570.4h0M135.8 568.5h0M150.2 610.5h0M153.6 610.8h0M157.6 640.2h0M137.8 583.2h0M142.1 598.5h0M143.1 597.9h0M156.4 644.4h0M166.3 608.2h0M165.6 608.5h0M166.6 607.4h0M165.1 611.1h0M141.1 585.5h0M164.2 611.7h0M200.2 600.8h0M159.3 609.1h0M142.1 611.5h0M193.8 572.6h0M193.3 572.8h0M195.5 573.5h0M198.8 574.2h0M177.8 573.2h0M205.1 580.2h0M154.4 604.8h0M193.1 574.9h0M164.9 591.2h0M164.0 593.1h0M163.6 590.7h0M164.0 592.8h0M128.3 584.4h0M128.5 583.4h0M125.8 585.8h0M169.8 624.4h0M171.6 625.1h0M159.4 591.2h0M201.5 584.6h0M200.5 584.5h0M201.7 585.0h0M201.1 585.7h0M144.8 606.0h0M144.7 606.2h0M146.9 606.2h0M135.9 603.7h0M157.5 605.5h0M154.0 606.6h0M206.4 591.5h0M181.9 618.5h0M149.9 565.0h0M151.9 565.9h0M150.2 565.5h0M144.1 582.3h0M159.9 574.5h0M146.5 592.8h0M145.5 593.8h0M136.9 606.4h0M136.8 607.0h0M122.7 562.1h0M166.1 629.0h0M153.7 590.0h0M176.2 564.0h0M163.9 636.8h0M180.7 581.2h0M181.5 582.1h0M181.6 579.7h0M174.7 622.6h0M185.6 606.3h0M177.7 566.1h0M141.4 566.8h0M141.3 566.0h0M153.0 604.1h0M169.5 561.1h0M169.3 563.1h0M179.1 586.8h0M160.4 602.9h0M161.0 602.4h0M159.8 635.4h0M159.0 584.7h0M159.8 584.4h0M203.8 572.2h0M181.6 581.3h0M162.3 562.3h0M160.8 562.4h0M131.5 591.6h0M144.8 594.2h0M151.1 599.4h0M151.7 599.6h0M144.4 646.1h0M167.9 626.2h0M167.7 624.8h0M176.4 586.3h0M177.0 586.0h0M205.9 583.9h0M145.8 611.3h0M131.4 577.7h0M131.1 578.2h0M131.3 579.4h0M185.7 598.0h0M165.7 594.7h0M124.5 585.5h0M138.2 584.9h0M137.1 585.8h0M120.9 563.0h0M153.8 645.3h0M141.1 570.0h0M139.2 569.8h0M176.5 587.9h0M176.4 589.8h0M129.0 566.5h0M170.9 595.7h0M170.7 595.6h0M161.3 581.6h0M163.3 581.1h0M179.0 598.6h0M177.6 596.1h0M180.2 598.9h0M179.7 578.2h0M184.8 606.4h0M185.9 606.2h0M139.5 580.4h0M163.1 577.2h0M161.5 578.2h0M132.0 596.2h0M132.7 596.1h0M133.2 596.7h0M148.3 577.1h0M185.4 562.9h0M152.7 594.4h0M143.9 592.3h0M137.5 592.8h0M192.2 599.8h0M190.9 600.0h0M136.2 593.5h0M122.6 563.2h0M123.5 562.7h0M199.0 591.2h0M200.7 590.7h0M198.7 590.1h0M201.2 591.2h0M203.9 595.6h0M202.5 596.2h0M148.2 589.4h0M188.6 567.3h0M188.6 566.3h0M190.2 567.6h0M206.9 584.4h0M158.8 581.5h0M174.2 622.0h0M145.1 612.2h0M184.7 578.3h0M184.7 579.1h0M170.5 590.0h0M145.1 571.0h0M146.8 570.7h0M152.1 639.7h0M203.2 569.7h0M174.2 580.0h0M131.6 578.8h0M130.1 577.7h0M132.7 578.8h0M135.5 588.7h0M135.9 587.1h0M136.5 589.5h0M175.9 568.4h0M175.4 567.1h0M174.7 571.4h0M151.4 578.1h0M137.1 560.5h0M156.7 635.5h0M197.6 602.4h0M200.0 568.2h0M152.0 606.4h0M151.7 608.0h0M153.5 643.2h0M192.4 574.7h0M138.8 597.2h0M192.8 576.8h0M191.5 577.8h0M130.0 582.7h0M168.0 617.7h0M156.4 613.6h0M177.6 601.1h0M188.4 602.2h0M187.8 602.3h0M187.9 602.4h0M164.4 563.8h0M188.2 607.1h0M186.9 607.0h0" stroke="#bc8f8f" stroke-width="2.3" stroke-linecap="round"/>
<path d="M134.3 514.8h0M166.8 550.4h0M163.4 553.0h0M133.1 557.8h0M162.5 557.8h0M171.4 557.9h0M171.4 561.5h0M125.2 568.3h0M147.0 613.9h0M140.7 612.8h0M129.5 598.5h0M170.6 602.0h0M179.2 565.0h0M166.4 631.7h0M183.5 611.2h0M164.0 607.1h0M142.0 573.7h0M176.2 567.1h0M176.2 569.3h0M149.6 587.4h0M133.9 574.9h0M135.2 574.0h0M137.5 572.4h0M187.1 602.1h0M169.4 592.9h0M136.6 571.7h0M169.0 629.7h0M169.4 629.1h0M162.6 581.6h0" stroke="#ffcf00" stroke-width="2.3" stroke-linecap="round"/>
<path d="M244.6 585.2h0M244.3 584.9h0M246.5 534.8h0M297.6 473.3h0M281.2 464.1h0M246.9 478.0h0M307.8 470.2h0M307.2 471.2h0M307.5 470.7h0M266.7 478.9h0M267.0 479.9h0M265.3 480.0h0M280.7 595.7h0M280.3 593.7h0M291.3 573.0h0M291.0 572.7h0M291.6 571.4h0M248.1 527.0h0M306.3 547.7h0M244.1 582.0h0M258.7 449.5h0M259.8 449.5h0M258.4 448.6h0M259.0 451.1h0M262.4 482.3h0M270.2 556.2h0M305.0 536.4h0M235.6 613.6h0M266.1 572.1h0M267.8 571.2h0M267.1 570.2h0M248.1 458.9h0M248.3 458.0h0M249.6 457.9h0M249.2 458.1h0M242.8 583.8h0M230.6 572.0h0M229.4 571.1h0M244.2 529.4h0M306.2 522.8h0M303.5 522.7h0M288.9 515.4h0M279.5 492.0h0M279.0 493.0h0M267.9 440.5h0M270.8 524.6h0M244.3 469.6h0M244.1 469.1h0M247.3 592.4h0M247.6 590.9h0M239.7 619.3h0M238.8 620.3h0M239.4 618.8h0M259.5 573.7h0M258.2 574.9h0M306.5 564.5h0M307.3 563.8h0M246.5 565.7h0M246.7 566.4h0M302.6 534.6h0M312.0 547.7h0M242.0 478.1h0M259.5 556.7h0M259.6 557.0h0M260.6 459.9h0M238.7 563.6h0M239.0 563.7h0M310.0 540.2h0M310.2 539.2h0M283.1 521.4h0M233.6 505.9h0M233.0 506.0h0M234.5 507.1h0M233.5 505.3h0M234.2 505.6h0M237.0 532.0h0M271.0 570.2h0M272.5 570.7h0M290.2 482.1h0M290.1 482.8h0M293.7 481.9h0M228.8 590.9h0M257.3 467.1h0M275.9 476.7h0M244.9 558.2h0M245.1 556.6h0M245.3 558.4h0M281.6 480.2h0M264.0 589.9h0M259.9 472.0h0M255.3 587.7h0M318.9 542.0h0M318.7 542.0h0M245.5 476.0h0M245.6 475.8h0M245.3 475.4h0M244.4 475.3h0M245.3 475.6h0M265.3 614.8h0M266.9 614.2h0M265.3 615.8h0M267.1 614.6h0M265.4 571.1h0M266.4 571.6h0M266.0 571.2h0M285.4 490.4h0M286.2 490.2h0M285.1 490.0h0M280.3 574.9h0M269.3 553.2h0M269.0 553.9h0M268.3 553.2h0M267.2 450.6h0M267.2 450.1h0M268.8 450.2h0M266.7 451.4h0M299.3 537.9h0M300.0 561.2h0M273.2 531.3h0M274.0 532.3h0M275.0 546.7h0M274.2 547.8h0M276.4 546.3h0M275.8 547.3h0M273.8 546.3h0M319.9 540.3h0M276.3 609.8h0M281.9 578.6h0M281.2 578.3h0M280.7 524.3h0M280.8 523.9h0M281.3 525.4h0M281.5 511.2h0M283.5 511.9h0M285.3 490.2h0M261.8 522.7h0M262.2 521.8h0M262.0 523.4h0M263.2 523.0h0M262.6 524.0h0M273.7 485.5h0M273.5 484.8h0M282.1 515.2h0M234.0 556.2h0M233.8 556.5h0M234.0 556.7h0M289.7 511.7h0M286.2 475.9h0M248.6 529.4h0M250.5 529.4h0M284.0 447.5h0M284.2 446.8h0M235.8 598.4h0M287.1 552.4h0M286.4 553.2h0M286.9 552.9h0M247.3 546.3h0M237.3 556.5h0M234.5 498.6h0M235.3 498.9h0M234.2 497.6h0M234.0 499.6h0M234.7 498.9h0M279.6 460.5h0M280.1 461.6h0M280.9 459.8h0M248.3 489.5h0M248.6 487.6h0M248.8 490.8h0M297.6 506.5h0M227.1 557.2h0M318.0 541.9h0M317.6 543.2h0M317.7 541.4h0M318.4 541.8h0M317.4 542.2h0M265.8 497.3h0M265.0 497.8h0M264.8 495.7h0M258.0 478.8h0M255.4 479.4h0M291.0 566.2h0M318.8 539.0h0M317.6 540.8h0M319.3 540.4h0M320.0 539.8h0M317.9 538.5h0M279.8 521.2h0M280.7 520.4h0M280.3 520.6h0M279.0 521.1h0M279.1 521.0h0M228.8 487.5h0M228.2 487.1h0M228.5 486.5h0M283.7 458.5h0M281.4 461.5h0M281.6 460.9h0M252.1 582.6h0M253.0 581.8h0M224.4 509.8h0M225.6 508.5h0M225.1 511.5h0M282.2 446.7h0M280.9 447.0h0M282.2 446.8h0M274.1 571.7h0M263.8 450.3h0M264.9 450.2h0M263.8 451.0h0M263.9 450.4h0M268.5 531.6h0M268.7 531.9h0M268.0 533.1h0M231.0 475.3h0M250.7 491.9h0M250.5 491.2h0M251.1 493.2h0M236.7 477.2h0M244.3 506.5h0M263.7 580.9h0M263.5 581.1h0M265.5 551.3h0M289.1 564.6h0M268.5 496.3h0M236.3 439.4h0M245.9 597.3h0M246.2 597.6h0M245.3 597.1h0M259.7 469.0h0M233.8 592.4h0M245.5 490.7h0M245.6 491.4h0M244.8 557.8h0M239.2 581.7h0M237.4 580.7h0M239.9 581.1h0M238.2 592.9h0M238.0 592.5h0M239.5 592.2h0M226.8 544.1h0M227.0 544.2h0M254.8 623.1h0M255.5 623.9h0M254.6 622.5h0M273.3 461.2h0M274.1 460.8h0M275.4 460.8h0M250.4 474.9h0M251.6 475.2h0M249.5 474.6h0M249.9 473.6h0M249.0 474.5h0M263.1 504.7h0M261.9 518.9h0M262.0 518.9h0M292.8 506.0h0M261.1 587.9h0M259.9 586.9h0M260.2 587.0h0M260.5 587.4h0M238.5 490.6h0M238.9 489.5h0M239.3 491.1h0M292.8 532.4h0M280.3 449.7h0M285.1 516.0h0M284.0 517.2h0M283.9 516.8h0M294.5 516.1h0M296.1 516.9h0M293.4 516.0h0M267.2 541.3h0M234.9 484.1h0M294.5 539.5h0M237.6 508.1h0M238.4 508.1h0M237.3 508.8h0M278.8 545.4h0M278.2 547.3h0M259.8 606.8h0M278.9 448.3h0M277.8 449.0h0M278.6 450.1h0M278.4 446.6h0M267.7 622.9h0M267.5 622.7h0M273.1 579.8h0M273.5 581.7h0M273.7 579.5h0M274.5 580.8h0M291.9 470.2h0M255.6 615.2h0M226.3 517.8h0M225.9 517.6h0M226.2 516.7h0M275.9 498.9h0M283.1 551.7h0M282.8 553.8h0M245.8 632.8h0M228.0 507.9h0M228.0 507.2h0M253.0 452.2h0M251.3 451.6h0M258.5 516.6h0M259.6 518.7h0M259.6 514.9h0M258.7 517.0h0M238.4 493.3h0M237.6 493.2h0M231.5 559.7h0M257.4 608.7h0M264.4 523.5h0M264.2 522.0h0M264.1 523.9h0M264.6 524.4h0M287.0 479.5h0M295.1 511.3h0M242.9 534.2h0M244.2 533.4h0M306.0 523.3h0M272.1 441.0h0M285.2 499.2h0M284.9 498.2h0M242.0 612.9h0M242.7 612.9h0M268.7 608.4h0M269.7 609.2h0M230.6 569.3h0M259.4 577.1h0M257.9 576.9h0M291.7 555.2h0M282.0 559.3h0M282.0 557.9h0M282.1 558.5h0M279.6 560.6h0M294.3 583.4h0M292.7 582.6h0M239.3 593.4h0M240.1 593.7h0M241.8 592.9h0M238.4 595.7h0M238.8 594.4h0M249.2 520.7h0M268.2 614.3h0M270.3 555.5h0M264.5 608.1h0M262.9 606.0h0M297.6 509.7h0M276.4 547.6h0M236.4 509.0h0M234.5 509.0h0M281.1 522.8h0M282.1 521.3h0M238.2 579.3h0M239.9 578.1h0M284.5 495.6h0M244.4 484.8h0M255.7 438.2h0M255.6 438.6h0M263.2 545.7h0M265.4 543.2h0M229.3 480.9h0M295.6 570.6h0M296.3 571.8h0M296.6 518.6h0M236.4 440.2h0M302.0 535.4h0M276.7 452.5h0M312.0 539.8h0M312.1 542.0h0M313.0 540.6h0M312.3 540.9h0M287.0 586.8h0M286.9 586.5h0M285.7 587.7h0M283.2 450.8h0M249.4 469.9h0M239.4 545.7h0M273.5 568.4h0M230.8 449.0h0M230.7 449.0h0M304.6 534.2h0M243.8 528.1h0M277.9 512.0h0M233.2 515.1h0M283.2 547.4h0M282.1 546.4h0M266.3 623.0h0M267.4 586.7h0M266.9 587.4h0M264.8 587.7h0M302.9 549.9h0M254.5 569.9h0M255.1 569.8h0M253.8 568.9h0M232.0 482.4h0M267.0 582.6h0M292.8 501.7h0M293.8 501.8h0M293.7 502.4h0M292.1 495.3h0M292.8 495.8h0M291.7 494.2h0M257.4 613.3h0M290.4 496.1h0M290.9 495.8h0M282.0 577.1h0M284.3 578.8h0M281.2 576.1h0M282.2 577.2h0M259.5 590.1h0M275.7 488.1h0M244.3 455.0h0M269.3 592.0h0M269.0 592.6h0M271.4 475.5h0M274.7 442.7h0M277.0 486.9h0M313.7 475.9h0M244.8 445.1h0M245.4 446.6h0M225.3 516.5h0M246.5 472.9h0M244.8 474.0h0M250.0 636.5h0M250.4 636.2h0M249.8 637.3h0M310.5 526.2h0M274.5 462.1h0M248.7 487.5h0M248.5 487.1h0M224.0 537.9h0M296.9 513.5h0M235.8 484.5h0M236.3 484.6h0M235.5 484.7h0M287.5 571.5h0M242.7 599.3h0M242.9 440.7h0M250.4 452.3h0M250.4 452.2h0M250.2 453.9h0M271.1 492.1h0M271.4 492.5h0M279.3 448.3h0M261.7 588.9h0M279.8 466.7h0M233.8 571.4h0M232.3 571.1h0M233.7 570.7h0M232.9 570.2h0M313.6 480.7h0M249.2 470.7h0M254.1 504.1h0M232.0 447.9h0M233.8 447.0h0M232.1 448.3h0M231.0 447.7h0M276.2 601.3h0M275.3 602.0h0M275.8 600.7h0M274.6 601.5h0M233.5 533.7h0M236.3 534.4h0M236.0 535.9h0M237.5 536.6h0M267.0 455.6h0M267.3 455.5h0M267.0 455.1h0M267.5 455.9h0M267.3 455.1h0M283.7 498.5h0M296.8 464.9h0M233.8 609.3h0M233.7 610.4h0M299.7 565.6h0M249.7 514.8h0M249.4 515.1h0M250.6 514.2h0M236.4 551.4h0M291.0 575.3h0M278.1 533.7h0M244.5 509.4h0M244.4 509.6h0M245.8 452.4h0M296.7 503.3h0M289.9 481.4h0M291.4 481.0h0M290.1 481.3h0M266.5 589.0h0M264.6 588.8h0M243.3 501.2h0M259.4 632.6h0M257.2 632.6h0M265.6 564.7h0M264.5 565.2h0M265.7 564.7h0M265.3 563.0h0M265.6 565.9h0M243.3 561.2h0M243.0 471.6h0M253.5 471.7h0M253.8 472.5h0M253.9 472.7h0M254.6 471.5h0M263.4 528.9h0M278.2 522.5h0M279.6 521.4h0M277.7 523.5h0M276.8 524.1h0M276.0 522.1h0M270.9 507.7h0M260.2 519.4h0M298.7 563.6h0M299.2 563.8h0M298.4 562.2h0M299.1 564.1h0M240.6 475.5h0M240.6 475.1h0M240.5 475.3h0M240.9 474.2h0M241.6 474.6h0M279.4 467.6h0M284.8 504.3h0M286.3 503.3h0M292.1 504.7h0M291.7 504.3h0M288.2 458.1h0M277.4 593.9h0M226.3 538.4h0M235.1 476.8h0M236.3 478.7h0M235.2 476.0h0M291.7 554.5h0M292.5 555.4h0M291.6 555.5h0M290.3 513.6h0M291.1 513.5h0M229.5 439.6h0M229.0 439.6h0M254.5 557.6h0M255.5 556.8h0M224.3 480.3h0M234.1 595.1h0M233.1 596.2h0M285.6 575.5h0M247.3 611.5h0M246.6 612.1h0M283.7 475.7h0M283.5 476.1h0M265.6 502.7h0M247.6 470.2h0M248.9 469.3h0M247.7 470.4h0M248.4 469.0h0M247.3 469.9h0M266.5 577.2h0M263.0 479.4h0M292.2 528.5h0M289.2 527.7h0M270.6 467.3h0M295.7 511.0h0M295.5 510.2h0M309.9 561.7h0M242.8 547.1h0M241.9 547.9h0M274.3 516.7h0M273.9 515.0h0M274.3 516.0h0M273.8 517.4h0M274.4 515.1h0M297.1 540.5h0M295.5 540.6h0M267.1 526.5h0M228.5 517.8h0M232.1 535.0h0M232.5 535.3h0M231.1 535.5h0M231.8 533.9h0M259.0 508.4h0M276.5 506.7h0M259.3 522.4h0M289.8 531.8h0M290.1 530.7h0M273.0 537.3h0M272.0 536.0h0M272.6 536.8h0M240.3 545.1h0M236.5 539.6h0M235.9 541.0h0M280.0 596.6h0M281.8 596.2h0M243.4 627.3h0M243.2 627.6h0M243.0 626.9h0M243.2 628.1h0M296.6 485.6h0M237.4 585.2h0M258.9 481.8h0M262.0 469.0h0M242.1 537.8h0M240.2 537.8h0M242.7 537.5h0M242.2 536.5h0M242.4 539.5h0M296.1 485.7h0M292.5 469.9h0M262.4 503.5h0M274.5 530.6h0M306.5 538.0h0M307.3 537.4h0M296.2 480.7h0M267.4 506.1h0M268.4 507.2h0M267.6 505.3h0M295.8 515.4h0M294.7 515.4h0M294.9 515.2h0M262.5 597.0h0M263.6 597.3h0M250.8 469.7h0M252.7 468.9h0M249.8 469.4h0M248.7 470.5h0M249.4 468.9h0M253.3 588.7h0M254.1 589.5h0M253.7 589.3h0M253.9 589.0h0M254.5 590.1h0M282.1 589.8h0M282.5 590.8h0M281.3 589.3h0M281.8 589.4h0M272.8 485.8h0M271.2 485.8h0M271.0 486.9h0M274.9 485.6h0M240.1 470.4h0M239.9 470.8h0M240.0 469.7h0M256.1 616.8h0M256.0 616.9h0M256.0 616.9h0M292.9 553.6h0M292.1 553.4h0M293.5 555.1h0M301.3 570.2h0M301.2 531.6h0M254.9 460.7h0M235.8 466.2h0M239.0 465.1h0M236.2 464.8h0M236.4 466.1h0M235.6 466.2h0M281.9 487.7h0M280.8 488.6h0M281.3 488.9h0M243.4 508.4h0M244.3 508.7h0M307.1 561.2h0M306.5 561.8h0M303.4 563.8h0M281.0 517.5h0M285.0 507.6h0M225.9 534.6h0M271.0 571.5h0M255.2 622.6h0M226.1 574.4h0M256.1 470.4h0M255.7 469.1h0M256.5 469.3h0M256.9 468.7h0M257.8 469.7h0M280.0 495.7h0M281.3 497.2h0M269.9 609.7h0M268.7 611.4h0M271.4 610.4h0M269.7 609.3h0M268.9 608.0h0M268.2 444.1h0M268.6 442.5h0M276.4 585.2h0M276.2 586.0h0M244.5 506.2h0M300.2 470.6h0M289.3 502.5h0M288.3 502.9h0M305.4 516.5h0M305.4 515.4h0M305.9 518.2h0M245.2 516.7h0M286.6 514.7h0M285.3 514.6h0M287.7 514.6h0M286.1 515.0h0M282.4 552.1h0M281.9 553.2h0M283.7 552.0h0M282.9 552.3h0M282.8 550.1h0M245.6 446.8h0M245.4 445.4h0M244.9 447.0h0M246.3 448.4h0M245.4 445.9h0M290.6 550.0h0M290.2 550.6h0M253.0 590.2h0M278.3 597.1h0M278.4 596.4h0M279.1 597.1h0M290.2 481.0h0M296.2 479.3h0M297.0 479.8h0M234.7 596.2h0M234.7 597.4h0M236.5 594.6h0M234.7 594.6h0M224.3 507.2h0M224.8 506.5h0M225.0 506.7h0M225.0 507.9h0M241.1 490.3h0M240.6 491.5h0M295.8 510.1h0M279.5 537.9h0M280.5 537.0h0M281.3 537.0h0M279.2 537.2h0M279.9 537.1h0M312.5 479.8h0M298.3 564.4h0M231.3 586.2h0M250.2 446.2h0M297.3 481.8h0M289.8 560.6h0M289.9 560.6h0M293.1 561.9h0M291.7 560.1h0M227.2 584.4h0M228.0 585.3h0M244.6 441.0h0M245.4 441.7h0M245.6 440.5h0M296.3 481.0h0M300.9 472.9h0M234.9 481.9h0M297.9 574.4h0M295.8 573.5h0M280.5 464.7h0M279.4 465.3h0M279.7 465.4h0M281.0 464.7h0M280.4 463.8h0M282.5 515.0h0M284.1 513.3h0M281.6 515.2h0M284.0 513.8h0M282.4 516.6h0M294.9 534.5h0M294.8 534.1h0M233.0 561.8h0M234.5 561.1h0M233.1 562.7h0M241.3 589.6h0M287.1 509.9h0M286.6 509.6h0M285.6 508.4h0M287.1 511.2h0M287.3 509.3h0M239.6 478.1h0M239.1 479.0h0M248.0 499.0h0M248.4 497.3h0M258.8 625.2h0M259.4 627.0h0M287.6 581.5h0M290.1 583.0h0M286.9 580.9h0M285.5 582.4h0M288.3 582.7h0M234.1 474.3h0M232.9 474.5h0M312.8 536.4h0M224.9 504.7h0M301.6 464.7h0M302.8 523.8h0M234.8 491.4h0M255.4 523.6h0M260.3 510.0h0M299.4 554.8h0M300.7 553.6h0M300.0 555.1h0M298.1 521.6h0M299.8 521.1h0M235.4 453.6h0M235.3 454.7h0M237.0 452.6h0M235.4 510.5h0M237.3 510.3h0M245.3 484.3h0M246.4 484.8h0M244.7 483.2h0M272.1 474.6h0M223.6 512.1h0M234.3 615.7h0M248.6 515.1h0M248.2 513.7h0M248.9 514.9h0M258.0 467.8h0M303.4 534.4h0M307.7 523.9h0M243.0 618.9h0M242.5 618.6h0M232.3 588.1h0M233.0 586.3h0M283.2 514.5h0M283.3 515.8h0M233.8 484.6h0M255.6 504.2h0M255.3 503.4h0M241.5 458.9h0M241.9 458.7h0M290.3 515.7h0M299.2 537.3h0M229.6 502.2h0M259.0 568.4h0M259.0 568.3h0M258.1 570.3h0M259.8 568.6h0M301.3 520.0h0M298.5 521.1h0M293.4 467.4h0M290.6 570.7h0M291.7 570.1h0M290.1 571.5h0M292.8 570.4h0M223.4 525.7h0M235.1 506.1h0M298.4 485.3h0M298.8 485.3h0M298.1 484.1h0M280.6 523.7h0M281.3 524.2h0M282.1 524.2h0M245.9 556.7h0M247.0 558.4h0M281.0 572.1h0M235.7 461.1h0M236.2 441.7h0M236.1 442.7h0M236.9 441.7h0M235.7 442.6h0M236.1 441.9h0M297.2 541.6h0M298.1 541.0h0M298.1 539.7h0M295.9 541.6h0M296.6 542.9h0M286.2 568.5h0M288.1 568.7h0M300.3 473.8h0M301.5 472.4h0M298.6 481.8h0M298.6 482.4h0M297.4 483.5h0M231.8 483.8h0M232.3 483.8h0M277.1 588.9h0M272.2 527.7h0M258.4 505.0h0M258.4 504.9h0M258.6 505.9h0M256.4 506.7h0M256.1 503.8h0M276.7 560.4h0M245.4 494.7h0M271.0 491.9h0M271.6 492.1h0M239.6 488.2h0M238.6 487.7h0M240.6 489.5h0M238.9 490.0h0M268.3 459.6h0M268.4 459.0h0M268.5 459.6h0M232.5 596.0h0M245.4 622.8h0M245.8 623.0h0M246.4 622.7h0M226.4 546.4h0M225.5 545.9h0M227.2 545.1h0M226.7 546.6h0M224.7 544.5h0M283.2 462.5h0M282.1 461.6h0M313.1 556.3h0M312.0 555.4h0M275.0 461.6h0M231.0 460.1h0M281.4 487.9h0M287.2 475.8h0M285.6 476.0h0M286.3 475.7h0M305.5 536.2h0M305.4 537.4h0M305.8 537.9h0M305.0 536.8h0M281.8 459.3h0M283.2 459.6h0M315.3 536.5h0M313.0 537.0h0M316.2 536.5h0M314.4 535.7h0M316.8 535.8h0M233.6 559.1h0M234.2 560.0h0M232.8 557.9h0M272.5 506.4h0M269.2 495.7h0M246.0 470.8h0M249.8 600.5h0M247.8 600.7h0M227.8 586.1h0M227.2 585.0h0M227.7 585.6h0M228.6 585.0h0M227.5 584.9h0M278.5 442.2h0M280.7 442.1h0M238.9 618.1h0M288.4 565.3h0M289.1 564.2h0M230.0 513.1h0M229.2 513.1h0M229.6 512.3h0M299.6 514.3h0M295.0 553.1h0M286.2 578.8h0M285.3 580.5h0M228.9 450.5h0M229.8 450.2h0M229.7 449.5h0M250.9 548.5h0M251.6 549.4h0M227.5 574.7h0M226.7 575.2h0M227.1 577.1h0M228.4 575.6h0M252.3 533.9h0M288.6 528.1h0M289.0 528.6h0M288.1 527.3h0M246.5 489.4h0M246.0 488.2h0M247.1 488.0h0M245.4 488.5h0M247.3 489.9h0M235.9 582.6h0M285.3 529.7h0M284.5 529.4h0M286.2 528.7h0M252.5 559.3h0M243.4 476.7h0M246.3 571.4h0M246.0 570.3h0M244.0 571.8h0M245.4 571.0h0M248.3 571.9h0M257.9 497.6h0M224.7 442.1h0M289.3 547.8h0M270.8 483.3h0M270.2 482.9h0M240.5 583.2h0M291.6 521.4h0M226.2 440.3h0M318.3 544.7h0M317.0 545.5h0M317.5 542.5h0M277.6 512.1h0M275.6 511.6h0M241.8 508.4h0M262.4 526.1h0M262.1 525.2h0M243.8 451.0h0M244.5 450.0h0M243.6 452.2h0M243.0 453.0h0M243.9 452.3h0M275.3 574.3h0M254.1 594.8h0M284.0 476.2h0M264.9 497.2h0M239.2 596.4h0M239.0 596.7h0M238.3 597.7h0M241.1 595.9h0M241.1 595.3h0M263.8 589.9h0M263.3 591.5h0M263.0 589.0h0M230.3 545.3h0M286.4 461.3h0M286.0 460.5h0M296.9 579.1h0M296.2 579.1h0M297.9 577.5h0M243.7 536.2h0M243.8 536.0h0M248.8 634.2h0M250.0 633.9h0M234.1 438.5h0M302.1 560.2h0M302.7 560.8h0M249.1 639.3h0M248.5 640.6h0M295.6 544.4h0M271.1 494.3h0M269.9 494.6h0M250.6 476.5h0M253.5 451.5h0M254.3 451.6h0M253.3 451.0h0M253.3 451.9h0M255.0 452.6h0M253.1 610.7h0M253.8 610.5h0M290.6 486.4h0M291.6 485.4h0M295.3 481.7h0M235.0 492.2h0M234.2 492.3h0M296.8 515.9h0M264.8 511.5h0M300.0 474.6h0M300.3 475.5h0M299.5 474.7h0M264.3 489.7h0M266.2 489.9h0M298.3 475.5h0M297.9 475.3h0M299.3 477.5h0M251.7 642.5h0M250.4 643.8h0M252.0 641.3h0M256.8 446.4h0M274.0 598.8h0M274.4 600.7h0M291.7 479.2h0M288.3 546.4h0M289.5 546.7h0M287.8 547.3h0M287.7 547.9h0M268.9 616.1h0M268.8 614.3h0M270.1 618.3h0M288.6 510.6h0M298.9 557.8h0M300.3 557.8h0M296.0 578.3h0M296.2 576.9h0M244.0 468.2h0M243.4 465.9h0M234.5 500.8h0M235.0 500.9h0M263.7 457.0h0M264.0 457.0h0M264.8 457.6h0M294.1 565.1h0M293.1 564.9h0M261.3 587.8h0M224.6 478.2h0M224.6 478.0h0M238.0 455.1h0M292.1 475.3h0M290.6 530.5h0M290.9 530.8h0M291.6 532.4h0M291.5 529.6h0M268.1 489.0h0M268.2 488.7h0M285.7 584.3h0M285.3 584.4h0M286.6 584.2h0M285.3 584.4h0M245.9 483.4h0M281.5 540.3h0M280.8 541.3h0M282.4 540.3h0M234.8 485.0h0M232.4 485.7h0M263.8 542.3h0M227.3 478.2h0M256.8 633.7h0M256.1 635.5h0M255.8 631.9h0M248.6 477.9h0M298.0 563.4h0M297.9 562.3h0M297.2 563.1h0M298.9 562.4h0M305.1 529.7h0M304.0 531.1h0M252.9 587.7h0M252.3 586.1h0M254.5 587.7h0M253.1 585.8h0M253.9 587.2h0M261.0 549.1h0M262.3 549.7h0M292.9 521.2h0M293.0 521.4h0M275.6 485.6h0M278.1 486.1h0M230.0 576.0h0M230.7 574.8h0M234.7 611.2h0M298.9 520.0h0M228.8 551.4h0M273.6 591.8h0M272.6 592.6h0M274.9 591.6h0M274.3 591.9h0M273.2 591.3h0M298.4 569.0h0M258.3 617.0h0M267.8 533.5h0M268.0 535.0h0M236.0 485.0h0M235.7 486.5h0M265.3 573.3h0M266.0 530.9h0M276.4 519.4h0M276.4 519.4h0M253.9 634.3h0M254.2 632.9h0M299.5 538.4h0M296.9 508.2h0M296.5 507.3h0M261.3 511.7h0M244.9 543.0h0M243.8 543.0h0M300.5 518.0h0M291.1 515.6h0M289.0 512.9h0M293.3 515.6h0M290.0 514.1h0M264.4 616.6h0M302.5 555.7h0M302.6 553.6h0M301.8 555.7h0M303.3 554.5h0M302.0 555.2h0M258.9 559.0h0M258.5 559.7h0M278.4 560.0h0M258.6 579.0h0M257.1 578.2h0M260.0 579.4h0M259.9 578.3h0M258.3 579.2h0M291.1 484.2h0M290.1 486.1h0M302.5 520.7h0M300.2 521.3h0M302.0 521.1h0M253.3 540.4h0M248.2 563.7h0M300.7 462.3h0M270.2 604.7h0M276.9 561.4h0M248.4 544.1h0M228.6 507.9h0M245.1 443.5h0M244.0 443.2h0M246.3 443.6h0M245.3 443.7h0M244.6 443.8h0M231.5 574.8h0M231.9 574.4h0M266.6 459.8h0M267.6 459.4h0M242.5 457.6h0M244.0 458.8h0M244.1 457.6h0M242.9 458.6h0M290.0 457.4h0M253.8 635.4h0M251.4 635.4h0M255.0 634.4h0M298.3 552.7h0M298.0 552.3h0M293.0 455.2h0M244.4 635.1h0M287.7 479.5h0M284.9 476.6h0M285.1 489.0h0M268.7 499.1h0M270.4 500.0h0M263.9 554.7h0M263.4 555.6h0M232.6 563.9h0M249.7 628.2h0M285.3 521.1h0M291.7 455.5h0M292.7 457.2h0M290.9 455.0h0M290.4 562.7h0M289.1 563.6h0M289.9 560.8h0M292.7 563.0h0M290.8 561.8h0M263.5 525.5h0M262.8 526.4h0M262.0 526.2h0M264.4 525.8h0M255.1 450.2h0M283.2 596.8h0M282.7 595.6h0M239.1 510.0h0M248.8 589.1h0M249.5 589.3h0M250.2 518.1h0M250.9 519.4h0M233.7 484.6h0M231.5 484.7h0M232.4 484.0h0M233.0 485.5h0M301.1 538.8h0M301.5 537.9h0M300.9 538.6h0M291.9 461.3h0M249.4 549.5h0M259.9 581.1h0M259.6 583.3h0M261.1 580.7h0M257.7 580.4h0M253.5 598.6h0M255.3 598.6h0M266.7 543.2h0M306.5 563.1h0M286.5 565.1h0M263.7 599.3h0M263.2 598.2h0M265.3 599.5h0M262.7 598.6h0M241.5 589.6h0M256.4 624.9h0M255.8 624.5h0M256.9 626.5h0M292.0 465.9h0M231.2 588.7h0M306.2 544.7h0M305.7 543.3h0M246.5 590.6h0M245.8 590.7h0M239.0 442.9h0M249.3 522.3h0M249.3 521.5h0M247.2 521.8h0M234.1 528.7h0M286.2 526.5h0M296.0 558.5h0M296.6 559.3h0M297.7 558.7h0M294.5 558.7h0M297.2 559.7h0M274.6 594.2h0M279.1 459.3h0M247.4 601.1h0M275.6 489.1h0M297.5 475.1h0M296.8 474.4h0M296.1 515.2h0M295.0 514.3h0M295.8 514.7h0M284.8 517.4h0M314.4 529.2h0M257.6 477.9h0M258.1 478.5h0M264.0 587.5h0M264.0 587.6h0M277.8 515.5h0M277.0 514.8h0M277.9 514.9h0M265.4 529.8h0M266.0 529.2h0M278.3 482.2h0M265.2 465.0h0M264.9 463.8h0M265.3 466.6h0M258.3 561.1h0M257.6 560.7h0M277.5 446.7h0M278.2 447.7h0M306.2 553.7h0M304.6 553.9h0M260.4 441.4h0M260.5 440.7h0M260.3 440.8h0M279.9 466.2h0M315.8 480.0h0M315.2 480.8h0M316.4 479.5h0M248.7 501.0h0M231.8 484.6h0M254.1 639.5h0M266.6 532.1h0M267.1 531.6h0M291.2 497.9h0M291.1 498.6h0M226.0 555.2h0M225.1 554.4h0M227.4 552.9h0M239.9 485.3h0M240.8 485.3h0M238.3 486.7h0M238.5 485.2h0M291.4 580.1h0M258.3 486.6h0M240.1 497.1h0M237.8 498.4h0M239.1 496.8h0M304.8 547.9h0M305.1 548.5h0M304.8 548.2h0M304.4 547.7h0M291.3 463.0h0M291.3 462.1h0M294.2 463.6h0M291.3 465.3h0M290.4 463.6h0M255.0 455.3h0M254.9 456.7h0M296.9 580.8h0M296.2 580.0h0M276.2 561.2h0M274.7 561.2h0M304.9 554.5h0M303.9 555.1h0M304.8 555.7h0M233.3 576.7h0M234.4 576.9h0M294.0 531.6h0M292.9 530.3h0M294.7 532.0h0M300.5 522.0h0M301.1 522.1h0M276.4 493.2h0M254.3 560.4h0M256.1 561.2h0M301.3 478.7h0M232.9 561.4h0M287.4 500.6h0M287.8 499.3h0M261.6 496.3h0M266.0 520.8h0M266.6 520.3h0M285.8 509.6h0M286.5 511.5h0M286.0 508.9h0M285.9 511.4h0M262.5 518.7h0M262.2 517.9h0M261.7 519.4h0M233.6 538.1h0M263.7 518.3h0M262.3 517.1h0M265.8 518.0h0M262.2 517.9h0M262.6 519.5h0M266.9 556.4h0M266.7 556.9h0M266.6 555.2h0M266.4 555.4h0M244.5 439.2h0M261.4 521.8h0M262.0 519.9h0M260.4 521.4h0M261.3 520.6h0M233.9 582.7h0M256.1 612.9h0M255.0 613.9h0M257.8 612.3h0M273.2 530.7h0M276.1 441.4h0M241.7 449.1h0M241.4 450.3h0M251.7 546.3h0M268.8 553.6h0M266.1 553.4h0M268.7 552.7h0M249.7 589.3h0M249.6 589.4h0M250.0 589.1h0M249.6 589.1h0M266.6 561.3h0M264.9 561.2h0M235.9 523.9h0M235.9 523.5h0M285.3 592.2h0M261.0 483.7h0M261.7 483.4h0M262.4 482.9h0M259.9 484.9h0M260.9 483.0h0M303.5 560.0h0M287.5 466.7h0M284.3 466.7h0M250.5 644.2h0M274.5 546.3h0M274.6 545.1h0M236.4 593.1h0M264.7 487.7h0M265.7 486.2h0M238.0 473.6h0M266.2 474.1h0M265.5 475.0h0M265.5 475.0h0M264.3 474.0h0M304.0 532.4h0M304.7 531.0h0M303.9 531.9h0M304.5 533.5h0M296.7 506.2h0M297.8 505.6h0M299.9 572.3h0M240.2 576.4h0M240.1 577.4h0M286.7 567.9h0M298.0 571.5h0M297.6 569.6h0M298.2 572.6h0M298.9 465.1h0M298.9 464.3h0M264.4 478.3h0M264.5 478.1h0M264.2 478.5h0M266.3 478.1h0M265.9 476.7h0M296.0 557.3h0M267.5 616.6h0M265.1 615.4h0M268.3 615.4h0M278.5 478.1h0M289.7 511.2h0M229.0 488.0h0M229.0 487.2h0M287.7 565.2h0M315.7 549.7h0M315.6 552.3h0M315.5 550.9h0M316.2 548.0h0M317.8 550.1h0M241.5 625.6h0M224.4 478.4h0M256.4 635.6h0M248.7 590.2h0M248.4 588.4h0M249.1 590.8h0M290.7 589.0h0M290.6 589.0h0M290.1 588.5h0M307.2 563.2h0M307.3 563.7h0M306.6 563.8h0M242.3 562.1h0M242.4 562.7h0M244.1 562.3h0M260.7 510.4h0M260.4 510.9h0M260.1 508.3h0M260.9 511.6h0M259.5 510.5h0M253.1 539.7h0M285.3 553.7h0M258.5 465.2h0M260.8 466.8h0M303.2 533.4h0M304.0 532.8h0M303.1 531.4h0M265.7 480.3h0M265.6 482.0h0M265.1 479.7h0M266.0 478.6h0M284.3 474.3h0M301.8 562.3h0M303.6 562.9h0M301.8 563.3h0M248.0 463.3h0M249.3 463.0h0M250.1 464.1h0M248.1 462.6h0M248.8 464.3h0M280.4 588.5h0M279.4 588.4h0M280.0 589.0h0M280.2 587.1h0M276.5 534.2h0M277.6 534.1h0M235.5 564.0h0M235.2 565.0h0M263.9 619.4h0M266.9 604.9h0M268.0 604.0h0M309.4 541.8h0M307.7 540.9h0M310.6 543.1h0M308.9 541.9h0M267.3 452.6h0M267.7 452.6h0M267.3 452.6h0M268.4 451.9h0M284.7 502.2h0M284.6 502.5h0M285.2 502.7h0M285.9 503.0h0M283.2 502.1h0M245.7 624.8h0M317.1 535.9h0M294.1 484.8h0M295.2 484.2h0M259.9 580.3h0M247.2 536.1h0M266.3 494.7h0M266.6 493.8h0M278.2 485.9h0M238.5 492.2h0M237.3 493.3h0M282.4 468.2h0M282.1 469.5h0M282.8 468.9h0M286.4 564.5h0M286.4 564.4h0M241.6 526.6h0M258.4 611.4h0M259.3 611.7h0M259.1 610.5h0M272.0 516.1h0M269.7 516.8h0M267.4 613.6h0M267.6 614.0h0M241.8 576.6h0M242.1 577.0h0M239.9 576.1h0M241.6 576.9h0M225.6 527.8h0M223.5 526.6h0M224.1 527.3h0M240.8 631.1h0M237.7 604.2h0M238.4 604.8h0M236.5 602.2h0M236.8 603.7h0M237.7 604.3h0M291.9 530.6h0M292.1 534.1h0M263.6 550.5h0M262.7 551.0h0M236.7 539.2h0M236.5 539.2h0M235.6 539.2h0M237.5 539.5h0M237.8 540.0h0M239.8 542.3h0M240.5 542.1h0M241.5 543.8h0M240.3 541.6h0M239.8 543.6h0M280.6 560.9h0M288.1 567.9h0M254.7 625.9h0M234.6 595.2h0M234.1 595.4h0M233.0 571.7h0M234.2 571.2h0M249.5 470.0h0M249.8 471.1h0M249.5 469.4h0M248.0 469.8h0M249.6 470.5h0M261.1 605.8h0M261.1 605.1h0M263.3 605.4h0M260.9 606.9h0M261.6 603.8h0M241.5 578.7h0M303.0 524.0h0M304.1 524.5h0M301.1 524.6h0M249.7 482.3h0M250.2 481.9h0M248.8 482.6h0M248.8 483.1h0M249.2 483.4h0M286.5 450.8h0M285.5 450.0h0M285.6 452.1h0M285.8 450.6h0M293.6 536.1h0M265.1 505.7h0M238.3 480.8h0M240.1 479.3h0M257.7 574.7h0M283.6 583.0h0M282.9 582.8h0M273.0 496.8h0M271.8 496.5h0M272.6 496.8h0M272.7 496.3h0M274.4 498.4h0M226.7 466.7h0M228.3 466.1h0M226.8 466.6h0M226.4 467.0h0M261.3 618.0h0M260.6 617.9h0M261.0 616.3h0M288.8 511.5h0M271.0 531.7h0M270.9 531.8h0M271.6 532.3h0M282.1 540.2h0M281.0 540.0h0M229.6 567.0h0M227.5 566.0h0M296.7 561.1h0M295.9 562.3h0M295.8 561.4h0M295.3 559.6h0M296.0 560.1h0M272.2 533.3h0M272.7 533.3h0M271.6 532.9h0M273.4 533.3h0M271.7 533.8h0M296.9 513.5h0M223.7 543.5h0M223.5 542.9h0M240.0 623.0h0M240.4 623.6h0M239.0 625.5h0M238.7 624.1h0M241.8 624.1h0M284.8 575.3h0M286.3 573.0h0M285.1 574.6h0M284.4 575.0h0M274.4 574.1h0M273.4 573.8h0M276.2 571.7h0M230.5 484.5h0M314.0 551.2h0M238.0 600.0h0M238.9 600.9h0M273.1 542.9h0M270.3 541.4h0M272.9 542.7h0M243.3 584.0h0M242.3 584.3h0M243.0 584.3h0M228.3 576.7h0M294.8 458.1h0M295.2 459.8h0M238.2 485.6h0M238.1 483.7h0M255.5 560.0h0M304.2 567.9h0M304.3 569.0h0M302.9 569.1h0M303.8 566.6h0M302.2 567.8h0M252.6 577.9h0M244.5 587.7h0M246.2 586.2h0M243.3 551.1h0M263.3 521.4h0M264.2 522.5h0M261.8 522.1h0M263.7 522.1h0M290.0 571.3h0M290.1 570.0h0M291.0 572.3h0M305.7 562.1h0M306.2 561.5h0M305.5 562.0h0M306.3 563.8h0M239.7 606.4h0M252.4 535.6h0M275.6 458.3h0M274.1 459.0h0M229.9 595.7h0M230.1 595.7h0M238.1 447.5h0M238.8 449.2h0M237.7 447.1h0M249.8 532.8h0M291.7 560.9h0M229.4 552.9h0M304.1 481.2h0M302.4 480.0h0M249.8 590.7h0M251.1 590.8h0M229.1 541.1h0M229.5 542.0h0M229.9 540.8h0M230.0 541.5h0M285.0 573.5h0M269.8 575.3h0M280.8 509.5h0M290.2 500.6h0M236.0 522.9h0M312.4 540.1h0M261.9 502.1h0M303.6 548.8h0M290.2 460.4h0M270.8 527.7h0M271.0 529.2h0M234.4 577.9h0M233.9 579.4h0M233.5 578.9h0M242.2 555.6h0M283.0 518.4h0M274.3 610.0h0M275.4 609.9h0M272.8 608.9h0M275.6 609.1h0M273.7 609.4h0M271.8 447.2h0M239.7 512.1h0M239.9 511.6h0M239.5 513.5h0M237.7 512.2h0M239.8 512.5h0M272.1 591.7h0M272.7 591.8h0M301.9 533.1h0M245.6 491.9h0M286.9 468.3h0M298.8 526.0h0M298.5 526.6h0M298.3 525.8h0M257.9 635.6h0M257.5 634.7h0M280.2 447.6h0M281.2 448.2h0M279.7 449.2h0M246.4 484.2h0M246.8 484.8h0M247.0 482.6h0M246.5 482.7h0M248.4 484.2h0M248.5 501.7h0M308.0 537.2h0M308.3 537.6h0M307.8 537.5h0M308.4 536.6h0M308.1 537.1h0M286.8 482.4h0M265.0 553.2h0M265.6 551.9h0M290.4 500.3h0M290.9 499.1h0M291.4 499.6h0M288.6 592.7h0M271.2 579.8h0M271.6 580.6h0M271.2 579.2h0M270.5 578.9h0M298.9 512.0h0M299.3 512.0h0M299.3 511.6h0M297.4 511.5h0M271.1 442.9h0M271.7 444.7h0M255.0 606.9h0M242.5 629.5h0M270.7 559.2h0M271.1 561.9h0M286.2 582.2h0M302.9 563.6h0M301.5 562.2h0M293.1 468.3h0M292.9 468.1h0M235.1 478.4h0M294.9 465.0h0M294.1 465.2h0M296.8 514.2h0M257.1 537.9h0M254.0 585.8h0M248.8 480.7h0M250.0 479.7h0M247.6 481.2h0M248.4 482.0h0M303.0 484.5h0M303.1 483.8h0M279.7 488.8h0M280.6 524.3h0M280.5 524.2h0M237.0 465.1h0M236.5 466.3h0M264.7 446.8h0M266.5 450.4h0M266.0 451.1h0M230.6 580.1h0M307.8 536.2h0M284.9 512.9h0M284.5 513.0h0M284.4 512.0h0M285.7 512.6h0M284.3 512.9h0M228.1 535.6h0M263.6 594.0h0M323.1 484.5h0M322.2 484.2h0M261.4 577.9h0M263.9 576.6h0M260.4 577.9h0M246.4 586.6h0M246.1 587.3h0M246.2 587.8h0M247.5 587.7h0M247.4 586.3h0M260.2 592.4h0M253.2 445.2h0M252.6 444.7h0M252.4 445.8h0M251.7 444.8h0M253.7 444.7h0M244.9 579.7h0M298.9 563.1h0M239.3 518.4h0M239.3 518.2h0M237.3 519.3h0M240.9 518.5h0M305.8 553.0h0M305.2 552.2h0M305.6 553.3h0M274.6 442.3h0M275.4 442.1h0M274.4 444.5h0M274.3 443.0h0M238.4 507.3h0M264.4 588.4h0M264.7 589.8h0M265.7 587.0h0M263.2 468.2h0M263.5 468.4h0M262.4 467.5h0M262.1 467.1h0M227.1 481.0h0M285.5 458.6h0M250.2 518.8h0M274.7 460.8h0M276.2 461.9h0M274.5 461.0h0M245.9 478.9h0M246.6 481.0h0M252.0 485.3h0M251.0 483.9h0M231.1 478.8h0M231.1 496.8h0M241.7 602.2h0M240.2 602.6h0M242.6 600.9h0M240.7 602.1h0M253.5 475.7h0M254.1 474.2h0M251.7 476.7h0M255.2 639.1h0M310.1 484.2h0M231.9 503.3h0M229.7 503.2h0M240.2 456.7h0M231.6 530.0h0M230.2 529.5h0M255.2 486.6h0M255.2 486.6h0M254.1 486.3h0M246.6 510.5h0M246.5 511.0h0M248.6 508.6h0M251.7 482.4h0M310.6 540.6h0M265.3 475.4h0M274.3 551.2h0M269.3 550.0h0M237.9 498.4h0M238.8 497.1h0M238.7 498.3h0M237.7 499.7h0M238.7 499.2h0M309.7 540.2h0M245.4 493.4h0M245.5 494.0h0M244.1 493.9h0M291.6 567.1h0M307.7 556.2h0M256.3 496.4h0M270.1 513.9h0M271.0 513.5h0M228.6 574.4h0M228.1 575.4h0M229.1 574.8h0M230.4 574.6h0M228.5 575.2h0M283.2 588.5h0M225.4 511.7h0M241.6 514.3h0M265.9 542.3h0M272.0 610.9h0M272.8 609.9h0M283.2 492.0h0M272.7 599.6h0M272.8 598.1h0M247.4 501.4h0M246.9 501.7h0M247.1 501.8h0M283.2 596.8h0M283.1 596.2h0M283.8 598.7h0M262.9 603.5h0M239.7 591.3h0M238.6 592.6h0M242.7 620.2h0M309.5 482.6h0M224.6 520.2h0M224.4 519.4h0M224.1 520.3h0M225.1 521.1h0M267.6 565.1h0M268.1 564.3h0M266.3 565.7h0M267.5 564.2h0M229.3 526.2h0M229.8 527.4h0M229.8 527.1h0M290.6 574.0h0M297.3 537.2h0M226.2 572.7h0M247.9 627.8h0M267.7 598.3h0M267.9 599.2h0M267.7 599.1h0M299.3 566.2h0M299.4 566.4h0M298.1 566.5h0M279.5 591.5h0M278.8 591.1h0M277.5 592.8h0M300.4 537.0h0M288.0 462.4h0M287.9 462.7h0M288.6 462.8h0M308.7 547.7h0M272.6 440.7h0M251.5 642.7h0M251.3 643.6h0M240.9 524.5h0M270.4 612.9h0M298.0 509.7h0M297.3 509.0h0M297.6 510.5h0M297.5 509.4h0M296.1 512.0h0M256.2 605.9h0M243.0 558.6h0M243.8 559.0h0M243.5 560.0h0M306.7 552.9h0M296.2 504.5h0M247.8 513.2h0M297.2 561.6h0M304.5 477.7h0M304.8 478.3h0M230.3 558.1h0M231.9 557.7h0M250.6 516.6h0M241.7 484.3h0M242.2 484.8h0M242.1 483.7h0M241.4 484.2h0M286.4 590.5h0M284.9 590.4h0M286.3 588.9h0M229.0 574.6h0M228.3 574.0h0M230.1 576.0h0M229.3 573.3h0M228.3 575.7h0M255.6 576.6h0M245.8 444.1h0M240.7 537.7h0M240.9 537.9h0M240.9 537.9h0M240.3 536.3h0M240.8 537.4h0M238.0 538.8h0M238.9 537.3h0M264.9 555.1h0M255.2 609.6h0M253.7 608.7h0M254.6 610.8h0M241.3 624.7h0M239.7 624.5h0M241.8 625.7h0M240.9 624.9h0M239.9 626.3h0M274.6 517.8h0M310.3 560.8h0M309.9 561.2h0M249.3 564.4h0M249.9 564.3h0M247.8 565.6h0M268.6 522.8h0M256.2 488.4h0M241.5 620.6h0M256.3 451.5h0M304.2 528.0h0M305.0 527.7h0M303.1 528.1h0M304.1 527.4h0M302.8 526.9h0M303.1 526.3h0M279.0 549.8h0M279.0 549.8h0M278.7 551.4h0M279.6 550.0h0M278.1 548.6h0M227.7 578.1h0M240.6 521.4h0M259.0 494.1h0M257.6 494.2h0M258.0 610.5h0M299.8 549.8h0M269.6 561.1h0M235.6 611.6h0M290.6 492.3h0M303.2 481.4h0M279.8 568.8h0M260.5 482.3h0M261.2 483.3h0M262.3 483.7h0M275.0 495.3h0M263.1 617.7h0M235.2 495.2h0M294.7 569.4h0M295.1 569.5h0M238.7 495.3h0M250.5 630.2h0M249.7 629.5h0M249.8 630.8h0M247.1 572.6h0M248.3 572.9h0M247.2 574.8h0M247.7 572.4h0M249.0 572.9h0M250.4 510.4h0M247.7 596.8h0M232.6 548.6h0M245.5 586.2h0M286.6 463.7h0M286.3 463.6h0M313.4 530.4h0M268.7 552.9h0M297.4 482.6h0M266.4 623.5h0M264.9 557.1h0M264.5 557.5h0M282.2 519.9h0M283.8 520.3h0M281.9 521.1h0M281.2 519.3h0M281.5 518.6h0M256.7 601.4h0M226.7 502.5h0M228.2 503.6h0M226.0 502.2h0M226.1 503.0h0M226.3 504.9h0M235.8 594.2h0M304.9 565.4h0M278.7 541.8h0M280.0 539.8h0M277.1 541.1h0M249.2 528.8h0M250.8 528.7h0M249.0 529.4h0M249.0 529.9h0M263.7 562.8h0M261.8 563.0h0M281.8 597.7h0M281.6 598.2h0M313.5 477.4h0M262.0 599.5h0M261.8 599.7h0M262.1 600.4h0M262.2 599.2h0M262.7 600.3h0M250.0 465.3h0M304.0 562.3h0M304.9 561.6h0M248.7 582.1h0M234.7 486.0h0M262.8 481.3h0M264.4 482.2h0M263.1 480.9h0M264.3 482.6h0M262.6 481.1h0M262.0 586.2h0M236.4 478.4h0M236.0 479.1h0M237.1 477.3h0M260.4 609.5h0M292.6 557.0h0M291.6 557.5h0M279.0 519.8h0M266.6 500.7h0M278.5 587.5h0M280.0 586.8h0M294.8 459.8h0M294.2 460.0h0M294.0 458.5h0M317.4 545.2h0M278.3 442.9h0M279.0 443.6h0M276.1 443.3h0M279.0 442.4h0M266.0 486.4h0M229.3 535.2h0M228.6 534.0h0M229.0 535.9h0M229.1 535.8h0M227.2 535.3h0M242.5 570.8h0M242.1 570.4h0M243.5 569.3h0M242.5 570.9h0M243.0 570.8h0M267.3 591.3h0M301.0 517.8h0M274.5 446.2h0M273.6 446.5h0M260.1 457.9h0M237.0 505.4h0M294.5 505.4h0M238.5 537.4h0M312.4 553.7h0M304.7 515.7h0M304.8 516.5h0M304.3 517.0h0M304.1 517.0h0M302.1 528.5h0M303.5 527.8h0M233.7 524.9h0M243.7 465.8h0M243.9 465.7h0M294.7 504.6h0M226.2 499.3h0M228.1 499.2h0M287.8 570.9h0M248.9 549.2h0M249.2 548.6h0M248.3 550.0h0M248.7 549.6h0M272.4 566.7h0M300.8 554.8h0M266.8 525.6h0M266.4 525.6h0M244.3 577.9h0M243.7 578.3h0M244.6 578.1h0M245.0 578.1h0M243.4 579.0h0M279.2 598.3h0M278.8 598.7h0M250.9 467.0h0M251.5 468.4h0M253.3 467.2h0M252.9 464.8h0M235.0 493.9h0M287.5 511.3h0M287.4 512.6h0M287.0 508.9h0M286.2 511.9h0M298.6 513.4h0M296.7 512.5h0M297.7 513.4h0M298.7 512.8h0M299.7 514.7h0M255.2 585.5h0M254.0 584.4h0M239.8 558.4h0M239.9 557.5h0M237.1 559.3h0M239.6 559.0h0M240.1 557.1h0M284.4 509.5h0M299.6 559.0h0M299.2 559.2h0M299.0 559.1h0M301.6 558.4h0M253.5 486.7h0M231.6 535.1h0M232.2 535.7h0M232.5 534.8h0M225.1 536.2h0M224.7 537.7h0M282.5 508.2h0M282.5 507.1h0M282.1 513.1h0M282.6 513.7h0M289.9 579.0h0M290.4 577.1h0M291.8 579.6h0M287.6 578.5h0M289.5 579.0h0M309.5 529.7h0M310.1 528.0h0M226.4 500.5h0M272.5 582.6h0M276.6 574.0h0M275.2 574.4h0M276.4 572.1h0M276.1 574.0h0M274.9 573.1h0M254.6 568.5h0M253.8 569.6h0M238.6 592.3h0M238.1 593.2h0M236.8 592.4h0M263.2 599.9h0M264.2 598.1h0M228.5 546.5h0M228.0 546.1h0M227.0 546.6h0M230.0 543.2h0M272.9 505.6h0M273.9 503.9h0M271.9 505.5h0M246.7 445.7h0M285.3 592.4h0M266.1 548.4h0M305.9 471.6h0M229.5 534.5h0M228.8 536.5h0M230.7 532.3h0M230.0 533.2h0M229.0 534.4h0M234.9 503.7h0M239.7 556.4h0M271.6 472.1h0M271.8 472.3h0M271.4 471.2h0M285.0 555.0h0M290.8 531.2h0M257.4 593.4h0M258.5 593.2h0M257.5 593.6h0M258.9 592.7h0M256.9 595.1h0M271.0 579.9h0M297.9 511.8h0M280.7 457.2h0M282.3 458.4h0M256.1 572.5h0M254.2 572.3h0M256.2 571.2h0M233.6 500.1h0M232.6 499.8h0M234.0 500.6h0M233.1 450.2h0M233.4 451.1h0M246.2 479.4h0M269.1 485.4h0M267.5 485.2h0M270.8 484.2h0M269.1 485.6h0M269.9 485.8h0M303.1 512.5h0M302.6 513.1h0M303.2 513.2h0M275.5 454.2h0M290.2 486.4h0M289.5 486.9h0M291.8 485.1h0M305.1 482.1h0M305.8 481.8h0M305.2 481.3h0M224.7 523.3h0M291.8 526.3h0M291.1 527.2h0M278.8 549.1h0M280.1 549.4h0M279.3 548.5h0M278.8 550.5h0M233.1 518.9h0M262.2 581.3h0M261.8 582.3h0M262.1 580.7h0M224.3 485.2h0M273.1 498.1h0M273.8 497.6h0M273.9 496.7h0M272.7 489.0h0M272.8 487.0h0M229.9 554.2h0M229.9 554.3h0M250.0 582.4h0M262.1 501.2h0M261.7 499.5h0M230.9 474.9h0M249.7 633.9h0M249.5 632.3h0M224.0 515.7h0M268.4 504.8h0M269.3 505.0h0M268.3 505.7h0M267.4 505.9h0M268.8 504.7h0M296.0 575.6h0M295.8 574.7h0M290.7 486.7h0M257.1 497.6h0M256.4 497.5h0M256.8 497.3h0M258.4 498.4h0M256.8 499.6h0M269.9 506.8h0M259.2 466.6h0M245.2 588.2h0M245.0 587.4h0M244.2 588.6h0M246.2 588.1h0M245.6 588.6h0M230.2 553.3h0M228.8 479.2h0M247.3 471.7h0M249.1 471.1h0M247.2 472.9h0M247.5 471.1h0M300.8 462.0h0M253.8 439.7h0M289.5 472.6h0M289.3 472.6h0M288.6 472.6h0M236.5 546.5h0M238.4 545.3h0M252.9 607.7h0M272.0 583.6h0M230.7 497.1h0M259.7 533.8h0M263.1 574.4h0M263.5 576.1h0M262.3 573.1h0M291.4 478.4h0M291.7 477.8h0M249.9 533.1h0M292.0 546.5h0M291.8 546.3h0M251.3 636.2h0M261.6 615.6h0M257.4 502.5h0M256.7 503.0h0M258.2 502.1h0M286.0 460.7h0M286.1 461.2h0M272.4 469.7h0M307.1 529.4h0M306.0 528.8h0M247.9 448.8h0M253.6 603.1h0M239.0 485.1h0M238.4 485.3h0M264.2 510.5h0M288.3 524.4h0M286.3 526.1h0M227.6 442.3h0M237.0 602.4h0M267.7 608.2h0M268.2 608.2h0M240.5 517.6h0M234.0 534.0h0M233.8 533.3h0M234.9 533.2h0M234.1 533.6h0M232.0 534.1h0M260.6 476.9h0M260.7 478.4h0M260.7 477.0h0M246.2 541.8h0M245.1 541.1h0M269.5 523.6h0M269.7 523.6h0M234.2 565.5h0M233.6 590.1h0M233.5 591.9h0M276.9 483.1h0M278.7 482.4h0M271.4 554.4h0M270.0 555.0h0M271.1 555.6h0M248.7 544.8h0M247.2 543.6h0M247.8 544.0h0M249.0 544.4h0M250.4 584.6h0M267.3 562.6h0M266.4 563.7h0M266.3 562.3h0M255.2 452.5h0M266.6 447.2h0M266.2 447.0h0M266.6 447.2h0M265.1 448.5h0M267.0 447.7h0M259.9 568.3h0M258.6 569.9h0M296.4 467.7h0M296.6 466.5h0M297.5 467.5h0M267.1 581.1h0M268.8 581.1h0M279.1 549.1h0M278.8 549.2h0M292.1 474.2h0M238.8 550.6h0M265.9 495.1h0M309.7 550.4h0M279.6 461.4h0M297.4 579.7h0M269.5 534.1h0M270.1 532.6h0M301.6 466.3h0M302.9 466.5h0M299.9 466.3h0M303.2 465.7h0M302.9 467.2h0M284.7 509.0h0M284.9 510.2h0M284.4 507.0h0M254.1 520.6h0M263.3 612.0h0M272.1 613.0h0M271.1 613.3h0M272.2 613.3h0M272.5 613.6h0M289.8 556.0h0M291.8 555.3h0M259.2 574.7h0M276.6 561.5h0M276.3 562.7h0M275.8 562.4h0M259.0 510.6h0M297.4 570.4h0M296.4 569.2h0M296.5 563.9h0M295.6 563.5h0M296.9 566.3h0M253.8 546.1h0M292.4 563.3h0M277.3 475.7h0M265.2 455.1h0M239.5 541.2h0M250.9 477.3h0M250.0 476.9h0M241.6 549.3h0M242.4 550.3h0M240.5 548.3h0M243.9 548.9h0M242.4 550.9h0M236.5 541.2h0M236.1 539.5h0M237.1 541.2h0M236.5 542.0h0M288.2 465.5h0M289.4 464.9h0M248.1 504.0h0M248.3 503.7h0M248.6 503.6h0M248.3 504.5h0M283.2 481.6h0M227.9 547.9h0M228.7 547.4h0M261.4 536.1h0M260.8 538.6h0M240.8 443.3h0M242.4 442.1h0M234.6 460.8h0M236.1 459.2h0M293.3 528.8h0M293.7 529.0h0M293.0 528.7h0M273.1 501.9h0M274.1 500.5h0M231.6 535.1h0M232.4 535.3h0M315.6 552.4h0M308.7 544.5h0M234.5 448.7h0M236.1 449.1h0M297.5 571.1h0M295.3 571.1h0M253.0 549.9h0M228.1 505.6h0M230.0 504.3h0M316.9 543.2h0M316.8 542.5h0M246.3 545.7h0M275.6 599.4h0M274.7 599.3h0M276.1 599.5h0M275.0 598.2h0M236.7 474.2h0M238.1 472.8h0M240.3 627.0h0M239.9 625.5h0M276.2 452.3h0M299.5 510.6h0M298.0 511.0h0M286.3 562.8h0M270.5 498.6h0M270.9 497.5h0M288.2 553.6h0M287.7 553.6h0M246.6 632.1h0M247.6 630.9h0M245.6 633.2h0M257.9 616.9h0M256.2 554.7h0M257.0 555.1h0M254.6 552.7h0M235.7 587.1h0M237.4 588.4h0M275.2 559.5h0M273.1 559.8h0M275.1 559.1h0M275.4 559.8h0M272.8 560.7h0M267.3 502.2h0M265.1 503.9h0M268.2 500.6h0M266.9 501.0h0M284.5 595.1h0M285.2 593.7h0M285.5 593.1h0M284.6 596.9h0M261.2 456.2h0M260.8 456.4h0M262.3 455.0h0M263.1 457.6h0M291.7 494.6h0M291.5 495.2h0M291.6 493.5h0M313.8 476.7h0M313.6 475.0h0M313.6 477.0h0M283.9 489.6h0M225.3 515.4h0M256.3 616.4h0M249.7 464.6h0M237.3 479.9h0M236.6 478.3h0M231.2 482.9h0M231.2 483.3h0M248.4 566.6h0M249.2 566.5h0M248.7 565.5h0M250.5 566.5h0M248.4 566.7h0M307.7 550.5h0M306.5 548.1h0M245.6 486.6h0M249.8 511.6h0M250.4 513.3h0M284.6 498.7h0M283.5 500.8h0M226.4 495.3h0M226.2 494.4h0M224.9 496.2h0M224.9 496.6h0M226.9 495.3h0M295.5 554.6h0M227.0 581.3h0M226.9 581.1h0M226.9 581.6h0M263.6 509.0h0M262.3 471.4h0M279.6 497.5h0M242.8 445.1h0M245.9 445.1h0M244.4 445.2h0M225.3 471.1h0M225.2 471.3h0M285.9 557.1h0M286.8 556.4h0M284.9 558.4h0M227.4 562.5h0M305.9 562.5h0M305.1 562.2h0M306.6 562.2h0M306.6 561.5h0M240.5 628.0h0M284.4 509.3h0M284.0 509.2h0M248.9 505.0h0M249.3 504.8h0M247.7 504.7h0M277.3 578.5h0M276.7 578.7h0M278.8 578.1h0M277.9 577.6h0M277.5 577.7h0M268.2 504.7h0M290.5 581.2h0M290.4 581.8h0M290.8 583.1h0M284.2 505.5h0M250.5 639.1h0M249.6 640.9h0M284.3 549.3h0M285.2 548.9h0M283.4 548.8h0M285.6 548.8h0M284.8 549.0h0M295.3 505.6h0M226.8 512.0h0M227.0 510.9h0M226.3 511.9h0M248.8 484.5h0M248.7 484.0h0M250.5 484.7h0M282.5 561.2h0M282.5 561.3h0M281.6 561.4h0M287.1 581.8h0M286.8 580.5h0M236.5 440.7h0M252.3 461.7h0M244.7 512.0h0M243.3 510.2h0M245.0 511.3h0M224.6 525.8h0M225.6 527.4h0M223.8 525.0h0M227.0 525.6h0M226.1 525.5h0M226.8 525.9h0M278.9 558.0h0M277.6 558.3h0M280.5 461.1h0M230.1 566.8h0M246.9 549.3h0M315.5 545.8h0M235.3 468.2h0M235.8 468.6h0M235.7 467.8h0M235.3 468.4h0M238.9 595.8h0M260.5 622.4h0M298.7 481.0h0M256.9 534.7h0M297.5 525.6h0M298.5 526.6h0M297.5 525.9h0M298.8 524.9h0M298.5 526.7h0M282.6 445.3h0M263.2 505.3h0M278.7 588.4h0M278.7 588.5h0M277.5 588.2h0M268.2 537.1h0M268.3 538.2h0M243.4 475.4h0M242.2 475.3h0M241.9 595.8h0M241.1 596.2h0M241.1 597.1h0M223.3 527.3h0M266.3 463.2h0M267.1 465.0h0M306.0 561.8h0M265.5 517.2h0M282.6 445.9h0M281.9 445.9h0M280.1 533.1h0M264.9 584.8h0M230.9 574.9h0M231.6 575.7h0M227.7 574.5h0M311.3 533.4h0M310.3 533.0h0M268.3 600.1h0M268.4 599.9h0M260.3 465.3h0M261.7 465.1h0M261.1 465.7h0M261.0 466.2h0M258.8 465.5h0M240.8 448.7h0M240.3 449.5h0M264.3 472.9h0M265.3 473.4h0M264.2 475.0h0M265.4 620.0h0M264.5 621.9h0M282.0 508.2h0M300.9 468.5h0M300.6 470.2h0M300.0 470.1h0M298.5 469.6h0M285.5 524.1h0M285.9 524.1h0M286.3 523.5h0M286.4 525.1h0M247.0 536.1h0M231.7 504.3h0M281.0 480.4h0M280.5 478.9h0M279.5 482.5h0M277.5 561.6h0M278.7 561.1h0M243.7 502.6h0M244.9 504.4h0M243.9 503.1h0M244.7 503.1h0M243.2 502.7h0M315.3 551.3h0M313.4 550.4h0M314.7 549.7h0M315.7 552.4h0M316.4 552.2h0M241.2 458.8h0M239.7 459.4h0M265.3 622.7h0M266.9 623.5h0M263.9 622.1h0M266.3 623.3h0M288.0 474.0h0M288.1 474.0h0M247.1 591.2h0M249.1 591.6h0M251.4 535.8h0M252.3 535.0h0M267.1 466.9h0M293.6 563.3h0M252.2 636.5h0M253.5 636.8h0M253.3 637.1h0M254.2 636.6h0M243.5 548.4h0M256.1 475.9h0M234.1 560.6h0M232.1 560.9h0M291.4 499.0h0M291.5 499.9h0M292.1 498.1h0M290.6 498.2h0M290.6 499.7h0M284.1 449.2h0M305.1 479.3h0M248.3 601.2h0M249.7 600.7h0M250.4 600.7h0M275.9 463.4h0M275.8 464.0h0M233.1 445.1h0M233.2 443.7h0M233.8 443.7h0M283.9 449.4h0M292.4 550.4h0M299.6 481.8h0M299.8 481.1h0M231.7 504.7h0M231.7 504.5h0M249.2 498.2h0M248.8 497.7h0M288.4 564.7h0M290.1 566.1h0M286.7 566.0h0M287.9 565.6h0M287.2 563.6h0M274.3 557.7h0M232.2 537.4h0M237.0 509.5h0M244.9 484.8h0M236.0 535.8h0M236.9 535.0h0M287.4 517.1h0M287.3 515.9h0M287.1 517.4h0M264.9 442.4h0M264.9 444.3h0M266.4 442.0h0M263.8 443.1h0M265.4 442.1h0M231.8 466.9h0M231.8 467.8h0M258.4 577.1h0M291.0 534.2h0M312.2 541.5h0M311.8 543.1h0M312.0 541.3h0M246.2 567.7h0M245.5 566.9h0M285.7 491.2h0M278.1 570.9h0M260.3 442.0h0M264.4 567.7h0M264.7 569.4h0M263.5 567.6h0M263.0 566.5h0M275.8 589.3h0M228.4 508.3h0M228.7 509.1h0M227.6 508.3h0M228.6 508.2h0M228.7 509.5h0M271.5 460.0h0M259.0 468.2h0M259.2 467.7h0M257.4 469.2h0M259.1 468.3h0M258.2 468.9h0M230.5 461.1h0M231.0 461.5h0M287.0 560.1h0M286.1 559.1h0M300.3 541.4h0M300.3 541.9h0M242.3 450.4h0M282.4 498.9h0M282.6 499.3h0M233.6 480.2h0M257.8 492.4h0M257.5 492.7h0M257.8 492.3h0M257.5 493.8h0M256.4 492.6h0M236.9 544.0h0M237.3 544.5h0M237.5 544.0h0M237.6 541.5h0M232.7 457.2h0M233.5 458.0h0M254.2 451.3h0M254.1 451.1h0M263.8 563.4h0M263.1 564.5h0M237.7 472.8h0M265.6 525.0h0M297.1 570.1h0M297.8 568.5h0M295.0 572.1h0M277.5 557.7h0M238.2 576.7h0M237.3 575.6h0M236.4 575.6h0M268.3 446.0h0M269.8 446.3h0M311.5 536.8h0M311.5 534.6h0M311.4 534.8h0M309.4 536.2h0M247.8 617.4h0M249.9 617.6h0M248.3 617.0h0M247.2 616.3h0M247.5 618.3h0M314.6 553.0h0M256.8 466.3h0M225.3 513.9h0M226.5 513.7h0M242.2 613.9h0M241.6 614.2h0M243.1 613.4h0M242.1 613.0h0M268.9 459.3h0M269.8 460.3h0M270.1 458.6h0M258.8 442.8h0M259.5 443.3h0M271.3 500.8h0M311.4 532.1h0M228.9 463.3h0M296.6 558.5h0M297.2 557.6h0M289.5 531.8h0M289.6 532.8h0M288.7 532.3h0M255.3 594.0h0M236.6 496.8h0M263.3 522.6h0M303.8 547.8h0M303.7 547.2h0M300.1 512.6h0M299.9 512.4h0M300.6 513.3h0M227.0 524.7h0M227.6 525.5h0M226.4 525.7h0M224.9 524.4h0M225.9 525.7h0M286.6 468.7h0M306.5 566.0h0M307.3 564.9h0M242.1 524.5h0M244.3 587.2h0M241.9 585.9h0M250.1 461.6h0M238.2 612.4h0M236.4 611.0h0M245.1 612.3h0M244.2 613.1h0M243.8 611.2h0M265.1 560.4h0M265.6 560.0h0M265.9 560.5h0M264.2 560.1h0M225.0 509.5h0M228.3 562.1h0M228.7 561.4h0M228.3 560.9h0M229.6 455.6h0M228.5 457.5h0M227.4 456.9h0M260.0 519.6h0M282.9 588.3h0M283.4 555.7h0M306.0 546.9h0M305.8 547.9h0M304.7 546.5h0M304.5 547.2h0M257.1 453.3h0M251.9 591.0h0M253.0 590.9h0M286.9 504.0h0M285.4 580.7h0M283.6 579.8h0M285.9 579.5h0M301.3 481.2h0M301.0 481.4h0M290.2 451.6h0M289.7 453.2h0M267.9 575.9h0M267.7 574.8h0M266.2 577.5h0M227.0 582.3h0M228.7 581.9h0M293.5 568.6h0M276.9 577.4h0M270.2 563.6h0M294.5 485.5h0M294.6 485.2h0M265.1 625.0h0M265.3 623.4h0M265.5 625.4h0M263.8 624.5h0M315.6 549.8h0M315.9 550.4h0M315.2 549.5h0M317.0 548.3h0M306.5 537.7h0M307.5 537.5h0M307.6 536.4h0M245.1 451.8h0M243.6 451.5h0M246.0 450.0h0M257.4 591.7h0M258.4 591.7h0M256.9 591.5h0M259.5 590.0h0M292.8 526.6h0M292.1 527.1h0M294.5 526.7h0M269.4 550.2h0M268.5 551.0h0M270.2 548.8h0M289.2 508.7h0M290.0 508.2h0M236.5 446.7h0M236.2 447.4h0M236.1 478.3h0M236.7 477.1h0M258.0 496.3h0M257.4 496.0h0M277.9 491.2h0M304.0 476.4h0M306.0 475.7h0M251.5 625.2h0M264.0 620.8h0M248.3 621.9h0M246.2 622.4h0M295.9 532.1h0M295.9 481.9h0M295.7 482.3h0M249.4 452.5h0M249.9 452.0h0M250.5 452.2h0M250.0 451.5h0M248.0 452.6h0M292.1 510.2h0M232.4 466.9h0M280.8 555.9h0M293.6 480.3h0M294.0 480.1h0M294.3 479.3h0M293.0 542.1h0M230.1 524.8h0M229.5 523.6h0M282.7 488.6h0M250.3 572.3h0M310.9 552.1h0M311.8 552.7h0M309.9 552.3h0M310.0 551.8h0M248.8 447.1h0M258.9 576.0h0M258.5 576.6h0M258.5 574.7h0M259.4 575.2h0M259.6 575.1h0M304.3 527.6h0M238.1 555.0h0M238.7 554.5h0M288.4 565.4h0M289.6 564.5h0M254.1 495.6h0M300.5 556.4h0M299.6 556.2h0M300.2 556.6h0M299.9 556.5h0M268.4 507.0h0M267.2 507.5h0M268.8 507.4h0M283.4 558.6h0M282.8 558.6h0M313.4 551.2h0M312.7 550.2h0M247.5 465.5h0M247.5 467.8h0M264.8 586.0h0M236.0 560.2h0M238.8 559.6h0M296.8 532.2h0M236.7 465.6h0M244.8 550.2h0M293.9 555.4h0M286.9 480.5h0M287.7 480.2h0M288.9 480.4h0M286.7 480.1h0M264.2 485.8h0M286.1 456.5h0M287.8 455.1h0M235.9 601.4h0M236.3 599.8h0M237.5 601.3h0M273.1 470.3h0M282.8 503.9h0M285.4 504.7h0M307.6 550.0h0M307.3 553.0h0M306.9 550.3h0M282.9 533.8h0M298.0 521.3h0M297.3 519.7h0M290.2 536.3h0M288.4 549.0h0M291.3 548.5h0M249.7 573.4h0M301.9 570.1h0M301.3 570.9h0M300.6 568.5h0M299.4 516.2h0M268.8 557.1h0M283.0 532.4h0M282.1 533.2h0M312.3 543.0h0M311.6 543.9h0M245.6 542.2h0M244.7 542.5h0M245.7 542.1h0M245.8 542.3h0M245.5 543.9h0M295.2 545.1h0M294.6 545.3h0M247.3 491.6h0M275.4 594.7h0M275.3 594.7h0M282.0 489.3h0M247.7 500.0h0M248.6 500.8h0M247.5 502.1h0M247.9 499.3h0M315.3 538.1h0M315.7 537.8h0M237.0 554.0h0M238.1 553.3h0M290.6 502.2h0M242.0 579.8h0M242.5 580.1h0M260.7 567.8h0M260.0 568.4h0M289.2 556.3h0M228.4 503.0h0M236.1 455.6h0M237.3 456.1h0M228.7 507.8h0M248.8 504.0h0M291.8 575.8h0M291.9 574.3h0M291.0 577.6h0M268.0 438.8h0M282.1 509.7h0M283.4 509.8h0M281.4 509.2h0M270.9 482.7h0M270.5 482.9h0M273.6 555.7h0M230.2 481.5h0M232.1 481.2h0M295.2 578.1h0M277.8 524.6h0M279.2 525.3h0M246.7 502.5h0M241.7 571.0h0M276.2 572.5h0M295.4 469.9h0M293.3 472.3h0M295.4 470.6h0M295.2 469.8h0M295.6 469.6h0M266.1 619.2h0M281.7 516.5h0M279.7 516.7h0M277.1 461.1h0M276.2 460.7h0M297.5 550.9h0M248.3 552.9h0M248.8 555.0h0M248.5 552.2h0M243.5 625.5h0M244.8 625.3h0M244.7 625.9h0M228.2 550.9h0M230.0 549.8h0M287.9 592.6h0M288.2 591.3h0M288.1 593.0h0M288.1 590.6h0M250.8 584.0h0M251.9 585.4h0M251.1 584.7h0M248.9 583.9h0M291.5 565.2h0M292.5 564.5h0M291.7 566.0h0M272.5 596.6h0M288.9 470.0h0M289.2 470.1h0M283.4 466.0h0M240.0 494.2h0M241.0 494.1h0M252.5 543.1h0M251.7 541.5h0M251.6 543.8h0M256.2 456.9h0M256.1 457.1h0M255.0 457.7h0M303.1 530.0h0M303.6 529.3h0M304.8 531.0h0M230.1 566.1h0M227.7 565.2h0M230.9 566.8h0M300.6 561.4h0M299.0 563.1h0M301.3 559.6h0M302.6 560.9h0M313.4 537.6h0M312.0 539.5h0M230.8 452.4h0M228.4 452.0h0M292.9 539.0h0M293.9 537.5h0M293.6 539.5h0M293.5 539.0h0M292.5 538.9h0M244.7 480.0h0M245.2 481.1h0M254.2 619.7h0M279.3 446.3h0M277.5 446.8h0M281.1 446.4h0M280.4 445.4h0M278.8 446.9h0M316.0 480.6h0M315.9 481.8h0M317.3 481.4h0M281.8 580.4h0M281.2 579.7h0M283.7 581.2h0M263.9 611.5h0M266.1 611.1h0M265.8 611.2h0M303.5 477.1h0M303.2 477.9h0M248.1 639.7h0M279.3 523.8h0M278.2 523.9h0M279.7 525.1h0M279.5 524.5h0M280.9 524.0h0M291.3 517.0h0M291.2 516.1h0M268.9 607.0h0M285.4 449.0h0M285.6 450.8h0M285.3 449.6h0M285.6 448.8h0M285.5 448.1h0M266.1 624.2h0M259.8 485.9h0M244.4 510.4h0M245.1 508.8h0M256.2 476.2h0M255.6 475.7h0M298.1 506.7h0M288.6 455.1h0M289.5 455.2h0M267.6 586.1h0M267.2 585.8h0M268.0 586.7h0M266.3 587.0h0M263.2 517.4h0M264.0 516.7h0M270.7 577.5h0M292.7 572.6h0M233.7 512.1h0M232.6 512.4h0M233.5 509.8h0M269.2 606.7h0M248.4 555.3h0M283.6 558.0h0M295.1 548.7h0M294.4 549.4h0M295.6 547.5h0M247.0 446.1h0M306.4 567.3h0M303.4 567.4h0M264.1 617.9h0M262.7 616.7h0M263.4 615.8h0M227.9 510.9h0M227.0 510.8h0M227.6 512.6h0M227.3 509.5h0M231.2 459.2h0M232.9 457.7h0M239.2 546.1h0M238.5 547.0h0M239.2 545.9h0M259.2 513.0h0M259.7 513.4h0M288.0 585.2h0M226.4 446.2h0M227.4 446.9h0M227.5 447.1h0M301.1 564.3h0M301.3 564.6h0M297.1 524.9h0M297.0 524.6h0M235.8 560.1h0M277.8 531.9h0M226.8 452.1h0M225.8 547.3h0M226.7 546.0h0M265.5 456.8h0M283.4 581.0h0M236.1 560.8h0M235.4 561.8h0M235.2 559.7h0M237.2 560.7h0M237.1 560.5h0M279.2 505.5h0M295.4 571.0h0M294.0 571.9h0M261.8 560.5h0M262.5 559.3h0M260.1 536.7h0M252.5 635.8h0M267.5 578.7h0M271.3 499.4h0M271.2 499.8h0M300.0 510.6h0M299.9 510.2h0M272.7 530.7h0M271.9 531.5h0M272.5 531.9h0M273.8 530.9h0M272.5 531.0h0M311.7 482.9h0M310.5 483.4h0M311.9 481.4h0M271.8 562.6h0M311.8 554.8h0M286.3 559.0h0M286.8 558.8h0M286.2 559.5h0M286.3 557.9h0M286.6 558.0h0M248.7 631.0h0M248.4 630.6h0M245.0 632.6h0M248.0 630.2h0M247.1 630.7h0M289.2 559.2h0M288.2 558.6h0M288.5 559.6h0M268.1 479.1h0M310.6 554.9h0M245.6 483.5h0M252.1 575.7h0M257.7 461.7h0M257.1 459.1h0M257.9 461.1h0M302.5 526.4h0M248.5 553.5h0M248.9 553.8h0M297.1 554.2h0M269.6 452.0h0M269.6 451.0h0M269.6 452.0h0M269.2 453.6h0M269.9 452.4h0M273.8 442.5h0M245.0 625.2h0M243.8 626.4h0M245.9 626.1h0M244.6 625.2h0M267.2 571.2h0M266.0 570.6h0M256.5 566.8h0M256.3 568.2h0M257.1 565.7h0M254.9 567.6h0M255.2 567.3h0M281.4 589.2h0M280.6 589.1h0M282.1 588.7h0M281.7 589.9h0M281.3 588.9h0M285.5 575.1h0M284.6 575.0h0M285.0 574.1h0M293.5 572.1h0M294.8 572.8h0M293.2 572.9h0M293.1 572.4h0M293.2 572.5h0M250.4 478.6h0M249.3 478.3h0M248.5 477.2h0M285.8 514.3h0M286.0 513.4h0M263.1 540.9h0M262.6 538.8h0M262.4 542.0h0M229.3 528.9h0M229.1 529.1h0M227.2 528.7h0M228.3 529.9h0M284.5 596.6h0M285.4 595.5h0M284.5 596.2h0M225.3 543.8h0M226.2 546.9h0M226.2 543.4h0M253.8 557.6h0M253.9 557.7h0M249.8 635.7h0M226.1 564.8h0M317.3 478.5h0M316.7 479.3h0M275.7 449.2h0M275.8 448.6h0M275.3 450.6h0M297.4 512.5h0M248.0 543.9h0M247.8 543.3h0M302.7 548.9h0M302.2 548.8h0M303.9 549.5h0M302.9 549.0h0M303.7 548.4h0M295.2 520.4h0M287.0 465.4h0M286.4 467.7h0M303.3 549.1h0M304.6 549.6h0M303.4 547.9h0M304.3 547.9h0M303.7 550.3h0M261.5 457.7h0M263.6 457.8h0M263.0 458.4h0M228.0 503.8h0M226.5 503.9h0M230.5 504.4h0M226.9 503.8h0M228.5 503.2h0M281.8 529.3h0M302.0 515.4h0M301.8 514.9h0M244.9 445.7h0M243.1 444.6h0M300.1 542.0h0M299.4 541.7h0M302.0 473.5h0M301.8 473.1h0M302.1 472.5h0M302.4 474.3h0M302.4 475.0h0M293.4 563.6h0M294.6 562.3h0M293.4 564.1h0M255.1 517.0h0M256.6 516.4h0M253.8 518.4h0M254.1 518.3h0M271.2 529.6h0M271.4 529.1h0M257.0 463.9h0M286.9 535.3h0M287.7 536.9h0M245.7 573.1h0M260.9 575.7h0M267.0 576.4h0M266.9 576.5h0M268.1 576.8h0M267.0 577.7h0M280.7 486.0h0M237.2 576.0h0M290.6 584.5h0M291.6 585.5h0M289.4 584.5h0M236.9 558.3h0M238.1 557.8h0M291.6 463.7h0M243.1 617.8h0M243.5 618.6h0M243.9 617.2h0M244.3 616.9h0M294.9 539.4h0M295.7 539.2h0M294.9 539.5h0M293.9 539.2h0M296.1 540.6h0M253.1 591.0h0M252.2 590.8h0M253.4 589.8h0M253.7 591.8h0M272.0 494.3h0M239.3 530.4h0M240.1 530.3h0M297.3 471.7h0M260.9 556.6h0M285.9 516.0h0M300.3 533.8h0M236.1 534.4h0M302.1 562.6h0M259.2 582.4h0M231.1 550.6h0M300.1 530.3h0M320.2 483.8h0M232.5 515.3h0M264.8 575.7h0M262.9 575.6h0M265.6 575.2h0M264.7 575.1h0M299.0 559.7h0M232.8 608.2h0M229.7 561.7h0M230.1 562.7h0M235.4 591.3h0M234.7 592.5h0M234.7 590.4h0M235.4 591.6h0M235.5 591.9h0M249.8 515.6h0M249.8 516.2h0M250.5 516.2h0M274.9 478.5h0M274.9 479.5h0M278.6 457.2h0M308.4 471.9h0M308.6 471.0h0M309.2 472.2h0M263.2 474.9h0M263.5 476.2h0M263.0 473.7h0M289.8 523.7h0M288.7 524.0h0M289.9 522.3h0M288.0 523.7h0M255.0 631.1h0M287.0 544.1h0M225.4 441.4h0M224.9 442.5h0M225.3 441.9h0M257.4 572.8h0M256.9 571.8h0M256.7 573.6h0M262.6 483.4h0M261.4 482.7h0M262.9 482.4h0M262.2 484.5h0M264.0 482.3h0M252.9 635.6h0M234.5 468.0h0M228.7 570.1h0M231.9 535.1h0M294.1 524.3h0M274.2 489.5h0M273.0 490.7h0M274.2 490.8h0M276.1 489.5h0M248.9 642.4h0M247.3 641.4h0M250.1 642.1h0M249.0 642.9h0M250.0 641.9h0M294.2 548.9h0M295.0 547.7h0M292.8 547.9h0M292.5 548.8h0M269.9 528.8h0M269.8 528.3h0M242.1 479.0h0M242.5 479.4h0M288.1 582.8h0M231.5 541.2h0M249.9 546.4h0M314.5 541.6h0M315.7 539.5h0M313.6 542.3h0M314.7 541.3h0M275.1 499.4h0M275.6 498.9h0M277.5 498.6h0M243.7 448.8h0M282.4 506.8h0M252.8 575.0h0M236.1 506.4h0M241.9 444.7h0M239.4 445.3h0M241.4 444.7h0M242.1 446.0h0M242.5 444.3h0M293.3 562.8h0M293.5 563.3h0M293.9 562.8h0M292.7 562.5h0M282.5 567.4h0M307.4 532.6h0M307.7 533.0h0M308.3 533.6h0M227.5 493.5h0M286.1 570.8h0M278.3 548.4h0M278.0 547.9h0M279.5 548.0h0M261.3 539.8h0M261.8 539.3h0M260.5 540.0h0M261.4 538.1h0M260.1 539.9h0M267.4 537.6h0M290.6 453.3h0M299.6 474.9h0M226.4 567.7h0M227.0 567.4h0M226.1 567.8h0M299.3 473.7h0M300.2 474.8h0M241.7 515.1h0M305.6 545.7h0M235.7 533.0h0M234.2 532.5h0M251.4 548.7h0M249.8 549.7h0M251.4 548.6h0M267.6 525.9h0M268.4 526.8h0M266.6 525.9h0M253.2 474.3h0M254.5 474.6h0M252.8 474.7h0M271.4 567.2h0M270.5 565.4h0M272.0 568.2h0M275.6 539.6h0M245.7 597.1h0M246.0 596.3h0M286.2 570.5h0M286.6 568.9h0M239.6 608.1h0M238.6 607.2h0M249.2 498.3h0M248.9 496.8h0M249.1 499.1h0M248.9 498.4h0M249.7 495.9h0M267.4 554.5h0M266.2 554.6h0M266.6 553.7h0M246.0 555.4h0M246.7 556.2h0M246.4 557.1h0M266.1 450.6h0M287.2 492.9h0M287.1 491.2h0M305.3 540.4h0M306.0 539.9h0M307.2 538.9h0M284.4 579.4h0M264.1 442.5h0M277.7 506.6h0M277.8 507.5h0M278.0 507.1h0M248.8 545.2h0M272.9 503.2h0M262.4 476.7h0M263.1 478.9h0M263.9 475.7h0M262.7 476.5h0M263.2 476.6h0M291.0 517.6h0M249.8 488.5h0M300.2 521.0h0M279.5 445.9h0M279.8 444.7h0M287.9 569.9h0M250.1 509.1h0M251.1 508.7h0M252.2 510.2h0M250.8 509.1h0M248.2 508.4h0M239.8 525.8h0M238.8 526.2h0M274.5 448.3h0M240.5 556.8h0M274.2 524.2h0M282.7 455.1h0M281.5 454.6h0M277.2 487.8h0M270.4 529.1h0M269.7 529.8h0M273.0 540.6h0M271.6 541.9h0M274.7 538.5h0M273.7 540.2h0M269.4 541.2h0M224.7 497.4h0M226.4 497.7h0M225.0 498.4h0M224.3 497.5h0M285.3 486.0h0M293.1 513.5h0M293.2 514.9h0M292.9 512.7h0M293.4 513.6h0M306.4 554.4h0M238.8 486.4h0M262.7 611.2h0M291.9 585.8h0M274.2 561.8h0M306.9 474.7h0M308.3 475.3h0M307.5 473.6h0M307.5 474.0h0M294.5 577.5h0M293.4 578.6h0M294.4 577.0h0M252.5 584.3h0M274.5 501.0h0M244.2 516.2h0M245.4 515.3h0M243.7 516.6h0M244.2 518.3h0M246.1 517.2h0M294.0 519.6h0M293.2 518.5h0M298.8 519.7h0M248.7 582.9h0M247.5 582.4h0M249.4 581.5h0M251.2 634.8h0M298.2 552.7h0M298.7 551.7h0M274.6 590.1h0M273.9 590.0h0M248.7 536.9h0M248.7 536.9h0M248.9 535.5h0M294.2 516.5h0M294.9 515.1h0M295.4 515.4h0M294.6 515.4h0M273.0 545.0h0M301.2 522.9h0M301.7 522.1h0M301.5 520.9h0M258.9 474.3h0M258.1 474.0h0M258.5 473.3h0M259.9 475.9h0M257.7 474.2h0M261.1 576.4h0M232.3 447.6h0M293.0 562.2h0M293.4 562.6h0M292.2 561.2h0M258.2 476.7h0M231.0 505.5h0M230.0 505.8h0M255.3 638.7h0M287.8 464.6h0M288.0 464.6h0M288.9 465.6h0M288.0 463.8h0M286.8 465.9h0M246.5 455.5h0M247.3 455.4h0M246.4 461.2h0M246.3 461.1h0M240.1 614.6h0M238.7 613.3h0M272.6 504.0h0M304.8 531.2h0M305.6 532.3h0M306.8 533.9h0M307.2 530.3h0M306.5 529.7h0M314.9 533.1h0M315.4 532.4h0M260.9 449.9h0M294.7 549.5h0M293.6 549.6h0M294.2 549.6h0M287.5 532.9h0M287.8 532.8h0M287.0 533.4h0M291.5 476.4h0M291.9 476.8h0M280.6 503.3h0M281.5 502.9h0M279.8 503.7h0M265.7 597.2h0M266.8 596.9h0M267.7 597.8h0M266.1 597.0h0M267.1 595.5h0M295.4 475.5h0M296.7 475.7h0M307.6 542.4h0M306.0 542.6h0M308.5 542.6h0M274.9 551.9h0M304.6 566.9h0M279.5 448.1h0M280.6 448.3h0M279.4 447.8h0M300.5 525.6h0M301.8 525.3h0M301.1 526.1h0M299.9 524.9h0M299.2 526.4h0M275.2 548.9h0M273.9 549.0h0M298.1 547.5h0M268.9 448.5h0M244.7 626.8h0M261.9 621.2h0M261.1 620.1h0M262.0 622.6h0M262.0 620.7h0M263.8 560.8h0M282.1 460.2h0M282.2 461.3h0M283.0 460.6h0M269.1 462.1h0M270.2 462.1h0M269.2 463.8h0M240.8 504.5h0M240.5 504.9h0M240.2 505.0h0M242.1 505.5h0M281.8 460.3h0M280.6 460.3h0M303.4 566.8h0M303.6 566.9h0M302.6 567.5h0M301.9 566.5h0M303.7 564.8h0M231.2 459.6h0M277.8 527.4h0M261.4 559.8h0M261.3 559.2h0M260.5 558.6h0M262.1 561.9h0M246.1 513.5h0M291.4 563.7h0M226.9 562.9h0M227.3 468.7h0M294.9 562.2h0M296.2 561.4h0M294.9 563.5h0M294.8 562.7h0M288.0 568.1h0M277.6 579.0h0M277.5 579.4h0M301.4 537.8h0M263.0 537.2h0M262.7 535.5h0M261.9 537.5h0M264.6 537.3h0M288.8 531.5h0M288.7 532.2h0M288.8 531.4h0M290.2 532.6h0M313.0 557.0h0M312.6 557.1h0M245.9 549.1h0M245.6 546.1h0M245.8 548.2h0M246.9 549.1h0M267.5 567.5h0M266.3 568.6h0M265.8 568.8h0M255.7 456.7h0M254.8 455.7h0M268.4 449.3h0M268.9 451.6h0M269.6 612.5h0M274.0 526.8h0M241.3 475.0h0M240.4 474.8h0M242.0 475.6h0M240.1 475.9h0M240.6 474.9h0M251.8 607.2h0M252.2 607.0h0M276.7 506.0h0M276.9 504.9h0M275.6 506.9h0M276.1 505.3h0M240.0 502.0h0M239.5 502.6h0M257.1 484.0h0M273.6 533.1h0M237.9 577.5h0M239.3 577.8h0M238.1 578.2h0M239.1 577.3h0M238.3 578.1h0M234.6 563.5h0M270.6 443.8h0M258.9 500.0h0M224.1 509.6h0M265.6 480.4h0M234.8 464.4h0M236.0 464.4h0M244.7 638.7h0M300.0 509.2h0M299.3 510.4h0M301.4 510.1h0M275.3 542.5h0M255.8 473.2h0M256.4 474.9h0M256.5 471.9h0M292.0 558.4h0M293.2 556.9h0M293.4 558.0h0M301.0 563.0h0M300.8 562.6h0M302.4 563.2h0M302.6 562.5h0M303.5 563.1h0M301.7 538.5h0M231.4 537.2h0M276.9 484.5h0M277.0 484.5h0M316.9 540.6h0M263.8 517.8h0M265.2 518.4h0M223.0 527.7h0M255.0 563.9h0M307.0 529.5h0M262.2 487.7h0M293.5 458.0h0M240.0 544.9h0M244.5 583.3h0M244.4 482.9h0M309.4 473.0h0M309.3 471.9h0M308.6 474.3h0M274.6 481.6h0M275.3 481.3h0M289.7 564.5h0M231.7 524.8h0M230.0 523.8h0M248.6 511.4h0M248.4 511.0h0M249.2 511.7h0M248.7 512.4h0M240.5 516.6h0M228.1 529.4h0M230.1 578.0h0M231.4 576.0h0M231.4 577.8h0M264.3 483.4h0M268.8 534.5h0M241.7 616.3h0M240.3 617.4h0M241.1 616.8h0M240.8 615.8h0M240.5 616.2h0M248.2 465.8h0M278.6 544.8h0M278.7 545.6h0M262.0 591.1h0M261.6 590.9h0M255.4 550.1h0M308.9 478.6h0M225.8 442.6h0M224.9 441.9h0M247.1 570.3h0M235.2 554.2h0M236.8 555.2h0M234.0 553.2h0M266.3 569.2h0M229.6 472.1h0M267.0 611.3h0M265.4 611.8h0M274.0 507.7h0M274.4 508.4h0M254.3 628.0h0M245.7 614.4h0M259.8 442.7h0M280.3 448.1h0M280.6 515.0h0M285.9 534.1h0M286.3 534.8h0M285.8 535.8h0M311.1 480.0h0M235.5 552.8h0M236.9 552.5h0M280.1 542.3h0M280.0 542.3h0M252.1 548.8h0M281.3 479.3h0M307.0 537.7h0M307.3 537.6h0M273.3 531.2h0M272.6 530.6h0M273.6 532.0h0M232.2 543.9h0M231.6 543.8h0M249.4 567.9h0M251.6 568.9h0M249.2 567.0h0M248.6 567.1h0M248.4 569.2h0M295.2 503.7h0M236.8 497.4h0M232.3 543.7h0M269.8 570.4h0M270.0 569.6h0M242.3 529.2h0M241.9 529.0h0M242.5 528.8h0M296.6 575.1h0M297.1 574.0h0M299.5 574.8h0M295.4 575.1h0M285.2 480.9h0M256.0 450.6h0M312.2 533.5h0M269.5 613.4h0M287.3 452.6h0M272.2 512.3h0M233.6 569.3h0M235.1 570.1h0M234.4 568.9h0M233.3 567.7h0M233.1 569.2h0M295.3 505.9h0M293.5 508.0h0M295.1 505.1h0M295.8 504.5h0M248.0 607.6h0M247.9 607.8h0M247.4 607.1h0M248.8 609.4h0M245.6 606.2h0M256.4 439.8h0M228.0 572.6h0M231.6 595.0h0M280.9 470.3h0M283.9 470.7h0M280.4 470.4h0M283.0 472.5h0M280.8 469.5h0M284.9 564.8h0M284.9 565.0h0M289.5 458.7h0M289.0 457.6h0M289.3 459.9h0M291.7 575.3h0M291.3 575.2h0M292.2 574.5h0M292.0 573.7h0M290.5 574.7h0M274.8 445.8h0M273.5 444.9h0M278.1 592.6h0M241.7 614.3h0M231.7 518.0h0M231.9 519.4h0M234.5 529.5h0M287.2 524.4h0M287.0 523.7h0M286.0 524.6h0M287.7 523.7h0M287.6 524.9h0M256.1 623.0h0M257.0 622.7h0M255.7 623.4h0M254.6 624.0h0M258.2 623.8h0M301.2 508.5h0M300.6 508.8h0M225.1 457.9h0M265.4 550.0h0M267.1 470.7h0M260.0 468.3h0M299.5 551.2h0M299.3 552.5h0M300.3 550.6h0M300.9 550.7h0M269.4 443.0h0M262.4 558.0h0M270.1 544.0h0M251.4 525.2h0M237.6 479.3h0M251.6 482.3h0M238.4 450.5h0M304.0 526.9h0M292.4 477.9h0M290.6 477.3h0M240.0 542.2h0M242.5 470.4h0M242.5 471.4h0M229.5 563.6h0M296.2 564.4h0M296.7 564.4h0M297.0 565.2h0M293.0 482.1h0M295.1 480.3h0M283.2 484.2h0M307.8 532.3h0M308.3 531.3h0M271.5 593.2h0M271.1 592.9h0M271.5 592.9h0M316.3 539.3h0M316.0 541.1h0M315.1 541.0h0M290.9 560.4h0M236.9 595.4h0M268.4 551.4h0M242.9 519.3h0M242.8 518.4h0M298.5 462.4h0M296.9 461.4h0M298.6 462.7h0M296.1 463.5h0M298.5 463.5h0M300.4 544.0h0M301.1 542.0h0M300.2 544.2h0M230.3 564.4h0M255.5 440.8h0M255.0 440.7h0M255.0 440.2h0M256.1 439.9h0M254.3 441.7h0M226.6 513.6h0M228.0 514.5h0M226.1 513.6h0M283.7 567.1h0M283.8 566.7h0M284.5 566.1h0M283.9 567.8h0M244.7 461.2h0M245.6 460.2h0M243.8 461.0h0M244.6 461.6h0M244.1 459.2h0M282.1 551.8h0M264.4 597.9h0M311.4 538.6h0M249.6 551.7h0M250.0 551.7h0M230.1 526.0h0M243.9 538.4h0M243.9 539.1h0M243.3 537.3h0M288.1 578.8h0M286.0 578.9h0M260.4 496.0h0M259.8 497.0h0M281.2 544.5h0M281.3 545.3h0M285.8 491.4h0M284.9 491.8h0M228.9 531.2h0M252.1 605.3h0M265.7 530.9h0M266.3 533.1h0M265.4 530.2h0M242.2 536.8h0M244.5 454.2h0M304.3 528.4h0M304.4 527.9h0M302.4 527.0h0M306.3 529.6h0M305.5 528.9h0M249.9 562.0h0M248.6 562.9h0M250.8 562.3h0M249.2 563.7h0M238.4 491.9h0M238.3 492.1h0M238.7 490.9h0M238.0 491.3h0M240.0 493.0h0M232.2 448.9h0M234.0 448.5h0M239.5 469.4h0M240.3 469.7h0M262.1 552.2h0M263.0 552.5h0M285.3 560.1h0M227.1 483.1h0M227.7 483.3h0M286.8 522.7h0M288.0 522.5h0M261.2 468.0h0M260.6 467.5h0M260.9 467.5h0M239.0 478.2h0M230.2 574.1h0M229.8 573.2h0M252.2 545.5h0M244.3 492.6h0M245.9 493.1h0M258.9 628.1h0M258.6 627.8h0M257.7 627.6h0M288.7 462.9h0M246.7 566.1h0M230.8 542.8h0M293.4 551.7h0M263.2 499.9h0M264.0 500.1h0M268.2 585.1h0M267.7 585.6h0M265.4 587.9h0M269.7 585.8h0M267.8 586.2h0M264.0 533.3h0M289.2 590.0h0M285.6 508.2h0M257.6 599.4h0M257.3 598.7h0M252.9 534.5h0M254.2 534.2h0M266.5 623.6h0M266.3 623.0h0M259.2 462.2h0M258.9 461.6h0M259.5 462.1h0M259.8 460.7h0M262.0 461.7h0M284.1 593.3h0M285.1 591.6h0M278.5 576.3h0M279.2 574.4h0M267.5 506.8h0M295.8 570.1h0M315.7 539.3h0M315.0 540.9h0M316.9 538.7h0M316.1 536.8h0M308.8 552.6h0M237.1 476.8h0M234.7 487.2h0M234.3 486.7h0M251.7 629.9h0M249.8 628.9h0M252.7 630.4h0M235.0 522.2h0M226.5 550.7h0M249.9 478.0h0M250.5 477.5h0M248.8 479.2h0M251.3 478.5h0M250.6 481.0h0M231.7 441.7h0M233.0 440.4h0M260.4 491.2h0M309.3 541.9h0M277.1 564.8h0M277.3 564.9h0M293.1 572.0h0M293.6 573.6h0M292.1 571.3h0M294.4 571.3h0M240.9 478.7h0M240.4 477.0h0M240.1 481.4h0M240.4 477.6h0M242.0 477.7h0M250.9 548.6h0M250.8 548.9h0M250.5 548.4h0M257.4 499.4h0M258.2 500.3h0M275.2 498.5h0M258.7 449.9h0M258.5 448.8h0M297.8 537.3h0M301.3 533.0h0M302.9 533.9h0M300.9 532.6h0M263.6 610.1h0M281.7 562.6h0M259.9 443.1h0M259.8 442.5h0M250.9 629.4h0M250.8 629.6h0M250.1 629.6h0M251.7 630.5h0M231.8 587.3h0M232.0 585.2h0M231.6 586.8h0M231.7 586.0h0M281.0 597.3h0M245.3 531.0h0M247.3 532.0h0M245.0 530.2h0M244.5 531.3h0M244.7 546.9h0M244.3 545.3h0M244.3 545.0h0M289.3 577.8h0M289.9 577.5h0M291.8 575.4h0M289.4 577.4h0M276.6 446.6h0M277.2 447.8h0M277.0 446.7h0M258.2 581.2h0M259.1 558.1h0M258.8 558.7h0M259.5 557.7h0M258.0 558.7h0M232.0 459.4h0M230.8 458.9h0M245.7 530.9h0M246.2 529.9h0M243.8 533.9h0M245.1 529.9h0M305.5 481.6h0M289.8 531.0h0M300.2 531.8h0M300.0 531.6h0M300.5 530.6h0M301.0 534.6h0M298.4 532.7h0M296.6 535.5h0M263.9 595.4h0M263.6 595.2h0M230.1 481.0h0M229.2 479.5h0M231.3 481.1h0M270.8 575.5h0M280.5 604.3h0M279.2 605.3h0M275.0 525.4h0M269.2 460.2h0M262.4 584.0h0M263.5 584.4h0M281.1 530.1h0M282.2 527.6h0M264.3 474.4h0M265.4 475.4h0M263.4 474.4h0M264.4 474.9h0M263.2 475.0h0M280.5 539.3h0M266.5 566.7h0M264.7 566.1h0M294.7 549.1h0M294.9 547.8h0M280.0 555.4h0M234.3 558.2h0M233.2 556.6h0M232.8 560.4h0M227.8 559.4h0M227.5 559.9h0M241.8 559.4h0M241.8 561.1h0M241.5 560.5h0M276.8 484.8h0M276.5 483.8h0M240.5 580.8h0M266.9 448.5h0M279.7 551.7h0M272.6 491.9h0M240.7 546.8h0M224.2 472.8h0M258.2 606.9h0M256.0 608.9h0M258.3 607.0h0M248.6 486.8h0M249.0 486.8h0M271.6 497.6h0M270.6 498.8h0M272.1 497.7h0M272.0 496.9h0M275.7 582.4h0M274.3 582.6h0M276.1 583.9h0M274.9 583.3h0M276.3 582.5h0M241.7 528.9h0M264.2 579.7h0M284.4 530.4h0M286.2 528.1h0M233.5 451.6h0M284.8 572.9h0M285.5 571.4h0M279.2 516.1h0M245.8 477.9h0M234.9 580.7h0M229.8 569.3h0M228.3 570.6h0M237.5 530.4h0M229.1 566.2h0M290.6 495.2h0M290.2 495.5h0M242.8 494.1h0M250.1 514.2h0M243.3 560.3h0M242.9 560.9h0M244.4 561.1h0M243.6 559.5h0M237.4 444.4h0M232.9 463.2h0M233.6 463.0h0M240.5 438.2h0M240.0 439.2h0M301.2 529.0h0M300.4 529.1h0M231.6 586.6h0M231.9 585.8h0M243.4 577.8h0M230.5 445.2h0M273.5 478.7h0M274.2 478.3h0M272.2 478.6h0M275.8 481.4h0M236.7 519.6h0M236.0 520.6h0M234.2 552.6h0M226.8 479.5h0M227.4 519.1h0M227.8 519.4h0M256.0 485.5h0M239.4 581.0h0M237.9 582.3h0M306.9 535.0h0M309.0 545.3h0M308.6 544.8h0M235.6 581.7h0M286.6 580.9h0M225.7 467.1h0M236.4 503.5h0M235.8 503.0h0M235.9 502.9h0M236.3 504.7h0M277.9 574.6h0M228.9 575.8h0M228.1 574.3h0M275.0 555.7h0M275.0 556.1h0M239.6 567.6h0M241.2 517.4h0M276.1 463.6h0M276.7 463.8h0M307.4 526.6h0M252.7 546.9h0M251.3 547.1h0M226.5 481.8h0M257.0 491.9h0M257.0 491.8h0M226.6 558.6h0M226.9 559.1h0M254.9 476.5h0M265.3 448.2h0M268.4 530.3h0M268.9 528.8h0M267.2 530.6h0M268.1 530.5h0M265.8 500.3h0M266.3 501.6h0M266.3 500.1h0M243.0 481.9h0M319.2 546.8h0M320.5 546.4h0M318.9 547.0h0M320.6 546.7h0M270.7 535.4h0M241.3 603.8h0M239.8 602.2h0M277.8 520.2h0M278.6 521.0h0M226.7 453.4h0M275.4 548.3h0M276.8 546.7h0M253.9 580.0h0M248.7 556.1h0M249.0 556.1h0M256.5 446.2h0M252.2 522.5h0M250.2 522.4h0M279.8 452.0h0M279.7 451.0h0M231.8 507.4h0M231.6 507.9h0M230.4 507.5h0M232.0 507.5h0M232.1 509.2h0M274.1 495.3h0M274.6 496.7h0M275.2 497.4h0M272.5 496.2h0M273.2 495.5h0M237.9 501.7h0M239.7 500.9h0M238.2 501.5h0M237.3 500.8h0M243.0 451.7h0M251.3 455.2h0M274.4 527.6h0M274.3 526.3h0M274.2 526.5h0M274.7 527.1h0M292.4 455.9h0M253.7 566.5h0M253.0 565.5h0M253.6 566.7h0M251.9 568.4h0M283.6 487.5h0M269.8 534.6h0M314.2 532.2h0M313.6 532.3h0M293.8 516.4h0M292.6 516.9h0M298.6 518.8h0M298.7 518.9h0M299.8 519.2h0M299.1 519.0h0M292.6 574.4h0M237.2 595.0h0M242.4 520.1h0M244.2 496.2h0M240.6 537.3h0M233.6 508.8h0M250.7 457.1h0M251.2 457.8h0M301.2 509.8h0M299.3 511.0h0M275.5 576.0h0M224.4 472.7h0M312.2 547.3h0M272.2 493.6h0M268.4 585.1h0M260.4 585.0h0M282.7 523.7h0M281.9 523.9h0M282.2 524.5h0M281.1 524.8h0M318.5 481.1h0M318.5 481.7h0M318.1 482.1h0M319.2 480.6h0M317.7 480.7h0M277.1 500.4h0M278.4 500.3h0M282.1 577.1h0M281.1 576.7h0M282.5 577.8h0M282.2 578.0h0M280.7 537.6h0M249.4 512.9h0M248.1 512.1h0M249.2 512.3h0M249.1 511.3h0M247.8 514.1h0M298.0 469.6h0M241.3 496.4h0M241.1 495.8h0M223.0 534.9h0M223.7 535.2h0M281.2 455.6h0M281.3 456.5h0M281.1 455.4h0M241.9 584.9h0M283.2 584.6h0M282.0 583.9h0M261.4 585.2h0M251.0 610.7h0M251.9 612.0h0M245.3 457.0h0M246.4 456.7h0M279.8 497.5h0M279.6 495.9h0M229.4 538.9h0M229.2 540.3h0M229.2 539.1h0M230.6 537.3h0M263.8 607.1h0M281.6 487.1h0M280.3 488.0h0M241.4 615.1h0M229.0 534.9h0M229.2 532.9h0M288.9 463.0h0M258.8 510.1h0M259.5 511.0h0M250.3 521.3h0M228.8 560.8h0M230.4 560.4h0M227.1 559.9h0M229.8 560.0h0M227.9 561.5h0M282.6 444.2h0M283.2 444.6h0M282.3 444.0h0M282.9 444.3h0M248.3 471.8h0M247.0 473.9h0M279.1 525.6h0M309.9 474.0h0M308.5 472.9h0M291.9 538.0h0M289.9 537.4h0M297.5 469.5h0M297.7 470.0h0M296.0 470.6h0M239.1 506.4h0M287.7 490.5h0M244.1 622.3h0M244.7 621.7h0M245.4 620.5h0M283.8 451.7h0M283.8 453.0h0M284.6 452.7h0M238.3 442.1h0M237.2 441.8h0M237.2 550.5h0M236.9 551.7h0M238.2 549.7h0M238.3 552.1h0M237.6 550.5h0M231.8 494.3h0M232.9 494.4h0M231.1 494.5h0M233.1 494.9h0M245.5 603.4h0M289.5 547.3h0M272.3 530.4h0M237.5 468.1h0M279.7 538.6h0M271.8 549.2h0M270.4 549.5h0M271.6 550.8h0M248.6 515.9h0M248.3 515.6h0M281.7 579.3h0M312.2 474.8h0M313.4 474.5h0M285.1 546.8h0M301.7 481.3h0M289.9 584.8h0M292.0 585.6h0M275.2 568.0h0M274.0 569.6h0M275.6 568.6h0M252.3 525.8h0M290.7 503.6h0M244.6 558.0h0M243.7 560.2h0M233.3 564.6h0M257.6 447.9h0M257.9 447.4h0M307.8 478.3h0M224.1 503.1h0M309.5 545.1h0M261.0 474.6h0M262.0 475.5h0M264.1 473.6h0M237.7 497.4h0M236.8 496.7h0M239.2 496.5h0M271.2 489.2h0M271.0 490.3h0M269.8 487.5h0M307.9 478.8h0M243.8 634.0h0M291.0 532.6h0M289.9 533.0h0M292.6 530.8h0M291.6 534.2h0M277.4 477.3h0M294.5 510.1h0M295.1 550.9h0M294.7 552.3h0M294.0 550.9h0M269.6 611.7h0M304.2 549.4h0M303.8 548.7h0M247.0 490.8h0M247.8 491.7h0M246.0 490.3h0M257.0 601.4h0M289.3 567.5h0M290.3 566.8h0M253.4 599.3h0M278.4 498.9h0M239.1 598.0h0M230.2 516.9h0M228.4 517.0h0M230.2 515.4h0M241.2 556.2h0M241.7 556.6h0M227.7 485.5h0M227.0 485.5h0M228.8 484.6h0M320.0 482.7h0M320.0 483.4h0M298.4 557.1h0M298.1 558.2h0M227.9 588.2h0M267.8 525.1h0M269.9 526.0h0M267.1 526.9h0M247.9 526.0h0M249.1 525.7h0M248.0 527.0h0M247.4 526.8h0M268.4 599.6h0M289.9 547.2h0M261.6 523.4h0M293.4 475.9h0M279.0 540.4h0M279.9 541.2h0M279.0 540.6h0" stroke="#bc8f8f" stroke-width="1.1" stroke-linecap="round"/>
<path d="M286.1 512.6h0M286.4 512.3h0M225.5 481.0h0M298.7 574.0h0M299.8 575.6h0M273.3 571.1h0M272.5 570.4h0M317.5 547.2h0M277.4 589.0h0M249.9 516.9h0M249.9 517.0h0M237.1 613.1h0M239.6 613.3h0M267.1 623.9h0M265.9 624.0h0M270.0 556.3h0M277.8 448.0h0M278.6 450.1h0M285.0 569.9h0M291.4 482.4h0M291.5 481.9h0M293.1 482.8h0M280.0 445.8h0M310.2 558.3h0M290.3 520.5h0M293.3 519.9h0M291.1 520.7h0M292.1 519.3h0M237.5 621.4h0M238.0 622.1h0M256.6 472.9h0M257.0 472.7h0M272.8 495.3h0M267.8 546.4h0M235.4 541.7h0M236.1 542.5h0M233.7 540.7h0M233.9 541.0h0M319.1 546.0h0M318.5 545.9h0M319.7 546.6h0M318.9 546.7h0M305.5 546.9h0M319.4 480.7h0M312.3 526.4h0M311.1 526.3h0M312.8 527.7h0M264.3 603.8h0M247.4 519.8h0M246.7 521.7h0M247.6 519.1h0M247.0 520.3h0M244.4 621.7h0M243.6 621.5h0M261.7 576.4h0M261.3 576.6h0M262.2 575.7h0M227.1 445.9h0M226.7 446.9h0M226.5 447.3h0M227.8 444.8h0M292.8 520.6h0M239.5 500.0h0M234.4 545.9h0M234.0 546.1h0M235.2 544.9h0M262.5 621.9h0M262.2 622.5h0M256.5 441.8h0M300.8 571.2h0M300.5 573.0h0M258.9 601.1h0M228.6 567.2h0M229.1 567.5h0M228.7 566.7h0M273.1 571.8h0M263.4 620.0h0M308.8 545.2h0M276.1 548.2h0M230.2 563.4h0M269.4 444.6h0M269.0 444.2h0M234.8 542.3h0M234.2 542.4h0M233.8 542.2h0M234.2 542.7h0M317.8 540.7h0M227.1 568.1h0M253.0 640.4h0M305.7 476.4h0M257.9 467.0h0M276.2 498.4h0M276.2 498.1h0M259.2 585.2h0M225.9 544.1h0M224.8 542.9h0M294.2 533.5h0M293.5 534.0h0M294.1 532.3h0M294.7 535.0h0M253.7 446.8h0M255.2 445.8h0M254.1 447.1h0M253.9 445.7h0M270.9 611.1h0M269.8 610.6h0M270.9 611.3h0M248.1 524.6h0M249.8 523.1h0M248.3 522.9h0M248.3 514.8h0M248.3 516.6h0M247.0 516.0h0M248.5 515.5h0M246.6 443.7h0M245.1 444.1h0M247.4 444.5h0M246.7 444.8h0M248.9 533.4h0M236.8 488.3h0M238.0 466.5h0M258.7 586.3h0M258.6 586.3h0M299.9 527.4h0M300.0 530.1h0M299.8 529.1h0M237.9 618.0h0M237.9 617.1h0M236.3 618.9h0M242.9 535.1h0M275.1 539.7h0M267.5 455.7h0M270.4 479.3h0M270.6 479.6h0M282.3 580.5h0M277.2 495.8h0M239.1 583.2h0M240.8 583.9h0M239.2 583.6h0M238.9 581.6h0M266.7 520.1h0M269.9 519.5h0M264.6 578.9h0M231.8 601.6h0M233.3 602.9h0M231.7 600.9h0M300.5 570.7h0M299.6 562.0h0M261.7 553.1h0M261.8 553.6h0M260.8 552.2h0M264.5 552.3h0M263.8 552.6h0M233.0 543.6h0M232.5 542.6h0M234.3 505.5h0M295.0 461.8h0M291.0 571.7h0M291.8 572.0h0M292.1 571.4h0M267.2 521.4h0M268.2 521.6h0M268.1 521.5h0M256.5 581.0h0M257.9 581.2h0M274.3 463.3h0M273.4 463.8h0M240.0 545.3h0M240.4 544.8h0M260.7 592.4h0M262.2 592.0h0M280.4 484.4h0M247.9 584.3h0M248.4 586.7h0M246.7 584.2h0M247.9 582.6h0M258.5 609.1h0M257.8 608.2h0M257.9 608.8h0M260.3 609.1h0M242.0 458.8h0M242.4 459.3h0M295.6 461.6h0M295.4 462.0h0M279.3 534.9h0M277.4 534.2h0M277.8 536.4h0M261.5 529.4h0M240.6 492.2h0M239.1 492.6h0M240.4 491.8h0M239.7 491.0h0M288.3 522.5h0M289.3 524.7h0M269.8 614.7h0M248.4 442.6h0M281.5 544.0h0M282.4 543.8h0M304.7 557.2h0M260.3 459.1h0M229.6 552.0h0M229.2 552.3h0M239.4 615.1h0M247.3 584.8h0M247.7 583.1h0M248.0 585.2h0M301.4 530.8h0M301.8 530.9h0M292.3 517.8h0M299.8 571.9h0M227.1 495.4h0M226.5 495.3h0M254.9 582.1h0M236.2 622.5h0M288.9 561.9h0M283.9 460.9h0M263.6 537.8h0M291.5 518.0h0M292.2 517.4h0M269.3 548.7h0M268.5 550.0h0M270.9 548.8h0M270.0 549.1h0M298.7 509.6h0M269.3 609.0h0M267.6 608.9h0M258.5 584.0h0M276.2 554.5h0M275.8 554.3h0M228.2 439.7h0M294.8 540.9h0M293.9 542.2h0M267.7 502.6h0M270.1 502.3h0M294.8 537.0h0M295.9 537.3h0M267.2 476.6h0M279.0 506.9h0M230.2 445.2h0M228.8 445.0h0M230.8 444.4h0M249.6 545.1h0M248.4 544.8h0M249.1 558.8h0M250.6 559.8h0M249.7 559.4h0M244.8 557.6h0M244.9 556.9h0M276.5 502.6h0M277.1 502.9h0M275.8 503.6h0M276.1 503.0h0M258.9 609.5h0M238.2 538.9h0M238.0 541.2h0M229.9 519.6h0M229.8 517.4h0M227.3 519.5h0M260.0 529.3h0M247.9 452.5h0M248.9 451.4h0M246.5 453.1h0M246.8 453.9h0M283.0 575.3h0M281.2 575.9h0M262.1 527.3h0M263.5 525.7h0M263.8 527.4h0M260.5 572.4h0M283.6 554.2h0M283.6 553.6h0M299.7 564.2h0M276.0 473.4h0M276.4 474.7h0M276.1 472.1h0M274.0 571.0h0M249.1 481.0h0M279.6 465.9h0M279.9 466.0h0M281.0 467.5h0M279.6 464.2h0M311.6 546.4h0M249.5 584.6h0M238.6 590.8h0M238.5 592.5h0M232.0 601.2h0M276.7 453.2h0M274.2 605.5h0M265.1 442.3h0M268.0 618.3h0M275.9 556.5h0M271.6 483.6h0M271.4 482.3h0M271.5 483.9h0M275.1 601.0h0M273.9 598.8h0M274.5 601.0h0M229.8 568.1h0M308.9 522.1h0M272.7 537.9h0M298.7 526.5h0M236.2 615.8h0M236.7 616.0h0M236.0 616.8h0M298.7 572.1h0M298.0 571.2h0M299.1 571.4h0M297.6 569.8h0M258.7 604.3h0M258.4 605.5h0M234.6 540.2h0M295.4 541.7h0M308.3 529.7h0M261.2 491.4h0M262.6 493.2h0M259.5 493.6h0M292.1 574.2h0M259.8 472.7h0M259.3 472.8h0M242.8 504.6h0M241.1 504.3h0M244.9 501.6h0M240.5 511.2h0M294.8 525.3h0M244.8 547.5h0M244.7 547.8h0M224.2 528.0h0M225.1 528.1h0M246.3 519.4h0M247.1 521.2h0M246.7 519.1h0M269.9 603.8h0M223.2 522.2h0M223.6 521.8h0M305.8 557.1h0M306.5 555.9h0M225.1 522.0h0M270.1 530.7h0M272.2 530.7h0M269.6 531.8h0M232.4 500.0h0M232.5 500.2h0M276.6 511.8h0M277.2 513.2h0M309.3 523.7h0M309.5 522.6h0M260.2 551.8h0M261.5 550.5h0M246.0 470.7h0M245.5 639.4h0M292.7 514.6h0M256.9 553.8h0M258.7 554.3h0M260.0 438.2h0M268.4 569.2h0M293.9 455.8h0M293.7 455.8h0M259.1 583.3h0M259.3 583.8h0M267.4 547.4h0M266.8 548.2h0M271.5 561.9h0M271.4 560.4h0M270.4 561.4h0M272.9 562.8h0M292.9 535.5h0M299.3 576.9h0M298.7 575.8h0M261.7 535.5h0M261.5 536.2h0M262.4 534.8h0M304.3 518.8h0M305.2 519.2h0M265.9 581.7h0M263.5 581.3h0M265.9 582.9h0M236.0 570.8h0M236.3 571.6h0M236.4 570.5h0M241.3 599.2h0M241.8 599.1h0M250.6 597.1h0M248.9 639.7h0M297.7 517.9h0M244.3 530.9h0M243.8 530.0h0M245.5 531.8h0M243.4 472.6h0M242.5 473.1h0M244.2 472.8h0M244.4 473.0h0M292.5 519.3h0M292.9 517.9h0M293.2 520.5h0M316.3 480.4h0M316.5 481.1h0M316.4 481.9h0M316.2 481.5h0M268.0 482.3h0M259.9 498.9h0M260.8 498.2h0M304.2 531.0h0M233.9 467.4h0M257.6 454.3h0M248.2 579.6h0M248.9 579.4h0M250.7 578.4h0M288.3 578.7h0M287.2 576.3h0M288.8 577.9h0M287.2 577.1h0M276.4 587.4h0M275.1 585.8h0M247.8 636.7h0M271.5 510.6h0M271.2 511.0h0M270.8 510.0h0M245.2 626.7h0M244.5 626.2h0M285.1 458.8h0M283.8 458.9h0M284.6 457.9h0M287.3 568.7h0M288.3 567.9h0M269.2 513.1h0M269.4 513.5h0M269.3 509.9h0M285.0 547.5h0M284.7 546.5h0M289.7 522.0h0M288.3 521.8h0M289.1 575.4h0M247.0 623.6h0M259.2 493.0h0M258.9 493.9h0M235.4 517.3h0M234.6 517.2h0M228.6 539.3h0M242.5 554.2h0M243.1 554.7h0M263.2 546.1h0M292.5 459.4h0M292.4 459.3h0M238.3 588.6h0M236.0 589.2h0M237.9 587.5h0M233.9 583.0h0M234.8 584.6h0M234.4 582.7h0M256.1 490.9h0M231.2 550.4h0M231.9 549.0h0M232.5 552.3h0M261.5 563.4h0M262.6 563.3h0M261.6 563.5h0M300.2 562.4h0M269.7 554.5h0M268.8 553.9h0M270.7 553.9h0M228.8 475.6h0M227.8 571.6h0M306.6 517.7h0M306.2 516.7h0M252.7 530.7h0M251.2 532.1h0M237.1 529.8h0M237.5 531.1h0M237.5 530.3h0M238.7 455.1h0M282.2 600.5h0M282.8 599.1h0M228.7 472.5h0M264.0 544.8h0M252.6 604.6h0M251.9 604.2h0M254.9 604.4h0M253.1 603.2h0M260.4 619.5h0M260.0 619.6h0M259.1 619.3h0M260.9 620.6h0M267.4 524.3h0M223.6 503.8h0M302.8 484.6h0M302.7 483.6h0M302.9 483.1h0M302.6 483.9h0M252.7 465.9h0M271.8 455.9h0M276.0 486.9h0M276.4 487.9h0M292.6 531.1h0M242.1 534.9h0M243.4 534.7h0M241.1 534.0h0M233.8 464.7h0M247.5 609.2h0M237.2 495.5h0M248.4 472.4h0M253.9 547.1h0M254.9 547.0h0M230.1 452.5h0M231.7 451.8h0M229.6 452.2h0M229.8 453.2h0M245.8 619.9h0M226.7 568.8h0M240.6 474.8h0M241.5 474.0h0M240.1 474.4h0M240.2 475.0h0M266.6 468.4h0M266.3 468.2h0M267.3 469.4h0M266.8 468.1h0M279.5 507.2h0M299.2 483.5h0M285.6 520.9h0M285.4 520.2h0M285.7 519.9h0M284.9 519.5h0M264.5 535.0h0M264.3 535.6h0M284.9 549.3h0M284.5 550.1h0M283.7 549.7h0M284.2 560.4h0M284.4 563.2h0M284.6 559.3h0M283.3 562.7h0M237.2 520.6h0M304.9 544.4h0M273.1 461.1h0M253.5 536.4h0M254.5 537.5h0M243.4 521.0h0M289.1 509.3h0M287.7 509.2h0M229.0 539.3h0M228.9 541.2h0M228.5 539.2h0M292.9 509.0h0M292.5 508.0h0M294.0 510.4h0M293.5 510.1h0M262.9 581.5h0M264.7 580.8h0M288.2 499.4h0M233.3 481.8h0M250.8 593.4h0M251.1 592.9h0M253.6 617.8h0M262.7 500.0h0M296.9 543.4h0M296.7 544.4h0M235.7 620.5h0M242.6 631.6h0M243.0 632.3h0M243.2 632.2h0M278.6 505.4h0M278.1 505.3h0M278.1 506.2h0M280.6 505.9h0M273.5 547.5h0M272.2 545.6h0M272.8 548.6h0M273.4 548.1h0M277.9 509.0h0M278.7 509.2h0M278.1 508.0h0M264.0 517.3h0M264.2 515.6h0M262.8 517.8h0M262.1 517.0h0M240.3 505.1h0M279.4 525.5h0M279.0 525.6h0M226.1 486.7h0M225.0 485.3h0M224.6 478.6h0M309.4 535.0h0M308.2 534.5h0M308.5 535.8h0M246.6 495.7h0M280.8 495.5h0M282.6 495.8h0M284.6 586.8h0M258.1 582.9h0M257.7 583.2h0M258.3 582.8h0M249.1 567.3h0M247.6 567.1h0M250.3 566.7h0M303.5 483.9h0M294.3 567.9h0M293.5 567.6h0M295.0 568.4h0M295.3 565.4h0M253.5 585.1h0M258.5 624.2h0M243.6 533.9h0M240.9 591.8h0M242.2 593.4h0M239.3 592.9h0M239.7 591.1h0M291.4 535.1h0M236.3 528.2h0M273.3 609.5h0M252.2 562.8h0M250.4 564.5h0M253.2 563.9h0M251.8 562.5h0M230.9 519.6h0M230.1 520.9h0M256.6 466.3h0M295.4 541.0h0M294.8 541.7h0M295.0 540.7h0M294.6 540.1h0M304.2 565.4h0M306.4 563.9h0M316.6 541.3h0M281.2 517.4h0M282.0 515.6h0M281.4 520.2h0M280.4 518.1h0M270.0 555.2h0M226.0 510.5h0M224.4 510.9h0M225.3 511.8h0M271.5 498.4h0M269.3 497.4h0M295.5 547.2h0M231.7 536.5h0M230.5 537.5h0M231.4 535.5h0M267.6 509.5h0M268.3 509.7h0M266.8 507.5h0M236.7 584.8h0M273.4 609.4h0M303.5 557.9h0M305.0 559.6h0M301.7 556.3h0M261.7 449.1h0M259.7 447.9h0M284.2 452.9h0M283.1 453.7h0M266.9 455.6h0M261.1 488.8h0M261.2 489.2h0M226.7 477.2h0M224.7 476.3h0M228.7 478.0h0M273.2 582.1h0M272.8 583.0h0M273.5 580.9h0M271.9 582.2h0M274.2 551.3h0M275.9 551.9h0M226.3 489.7h0M226.7 488.1h0M225.8 490.8h0M228.3 490.7h0M304.5 529.6h0M305.5 530.2h0M303.0 531.3h0M298.3 521.2h0M299.8 522.0h0M264.9 500.0h0M263.5 501.7h0M265.5 500.7h0M266.1 500.3h0M276.6 602.3h0M275.9 602.1h0M248.4 637.0h0M250.3 638.0h0M257.8 549.3h0M257.5 548.5h0M284.6 570.3h0M286.6 571.1h0M284.3 570.0h0M242.3 575.8h0M271.2 531.4h0M257.7 584.0h0M251.5 610.7h0M251.4 611.9h0M250.7 611.5h0M251.3 610.7h0M269.8 483.3h0M293.7 560.9h0M293.3 560.2h0M293.9 561.0h0M293.9 561.0h0M233.4 475.6h0M238.1 480.4h0M244.0 505.2h0M280.9 563.0h0M280.1 563.2h0M281.5 562.7h0M246.5 489.4h0M246.3 488.6h0M264.2 559.5h0M297.6 565.7h0M296.8 567.1h0M297.0 566.6h0M297.9 564.9h0M270.9 566.1h0M269.7 565.3h0M270.1 566.2h0M270.2 565.6h0M262.4 514.4h0M235.3 448.8h0M302.9 464.7h0M302.2 466.0h0M231.1 544.5h0M270.9 551.9h0M238.4 618.8h0M239.0 620.3h0M238.0 620.0h0M247.0 590.7h0M246.7 590.4h0M249.3 588.4h0M247.5 591.0h0M251.0 550.3h0M251.6 551.9h0M251.8 549.9h0M250.6 548.6h0M224.7 442.1h0M262.5 478.3h0M261.6 479.1h0M259.9 518.2h0M260.5 518.7h0M259.7 518.4h0M252.2 441.3h0M251.1 629.5h0M275.7 497.1h0M287.0 577.8h0M260.7 553.3h0M259.9 553.1h0M262.0 553.6h0M260.4 551.9h0M294.7 512.8h0M293.4 511.5h0M294.1 514.2h0M294.4 513.5h0M289.1 554.6h0M293.5 464.2h0M293.7 463.6h0M293.7 465.2h0M230.3 545.0h0M261.7 595.1h0M262.4 594.8h0M260.0 596.6h0M261.9 594.2h0M228.9 579.1h0M230.2 504.2h0M269.3 606.5h0M264.3 455.5h0M264.7 457.0h0M264.7 498.3h0M250.4 591.0h0M250.1 590.1h0M250.6 590.5h0M290.0 487.1h0M289.9 486.8h0M239.5 565.5h0M239.5 565.4h0M239.7 565.7h0M279.8 518.4h0M279.8 519.6h0M278.5 518.1h0M277.9 598.2h0M308.8 537.5h0M308.4 537.0h0M307.2 537.7h0M278.7 530.2h0M252.9 483.7h0M254.4 483.9h0M252.2 484.8h0M265.1 598.5h0M264.0 599.3h0M265.2 598.7h0M266.5 597.1h0M294.8 537.2h0M297.2 536.9h0M269.1 487.2h0M269.2 487.2h0M241.1 473.9h0M241.2 473.1h0M278.4 508.7h0M226.2 535.4h0M238.3 469.8h0M239.0 469.5h0M236.4 469.4h0M238.0 470.3h0M261.0 575.7h0M249.9 587.6h0M257.1 548.8h0M271.0 580.7h0M270.4 580.9h0M290.4 480.4h0M290.9 480.7h0M237.6 439.4h0M238.3 438.6h0M237.7 438.6h0M234.3 600.6h0M242.7 462.6h0M227.5 456.3h0M228.3 455.0h0M266.4 521.1h0M266.7 520.6h0M267.8 521.2h0M267.5 520.4h0M276.9 538.1h0M225.6 562.3h0M227.8 562.6h0M261.9 587.7h0M263.1 587.2h0M262.7 587.9h0M245.6 454.1h0M258.0 618.8h0M257.6 617.7h0M256.9 618.4h0M241.0 558.6h0M304.1 552.4h0M304.3 551.8h0M303.3 554.0h0M304.2 552.8h0M291.0 455.0h0M272.2 440.4h0M273.7 442.6h0M272.4 439.4h0M271.0 440.7h0M252.3 481.3h0M254.0 483.5h0M253.0 478.8h0M252.3 481.0h0M284.2 576.4h0M281.0 459.1h0M281.2 459.3h0M281.8 459.6h0M283.6 458.2h0M244.1 464.3h0M298.1 531.1h0M297.2 530.9h0M298.0 530.6h0M298.4 530.9h0M230.4 512.1h0M233.9 499.1h0M233.5 499.0h0M264.3 556.4h0M286.8 509.7h0M285.9 509.5h0M288.5 509.7h0M261.0 564.2h0M261.8 564.7h0M316.3 540.3h0M277.3 509.9h0M277.4 511.4h0M308.7 534.4h0M308.1 534.4h0M310.8 535.9h0M290.2 521.5h0M256.0 524.4h0M287.8 495.7h0M288.0 495.1h0M288.6 496.8h0M287.9 496.1h0M258.3 531.7h0M275.6 440.9h0M275.5 441.8h0M274.8 441.5h0M274.4 440.3h0M230.8 563.0h0M250.1 506.4h0M304.5 474.8h0M302.7 473.1h0M304.0 475.9h0M305.0 474.2h0M262.4 535.2h0M245.4 455.2h0M244.7 453.9h0M280.6 573.6h0M280.8 573.1h0M268.1 531.6h0M307.4 469.8h0M306.3 468.5h0M307.3 470.6h0M307.1 469.8h0M246.0 490.7h0M244.9 490.5h0M296.8 566.6h0M296.0 567.1h0M289.1 569.1h0M289.7 568.3h0M290.0 568.9h0M290.7 568.6h0M307.6 520.3h0M308.4 521.7h0M307.2 522.4h0M305.8 518.5h0M287.8 578.2h0M233.9 599.6h0M233.4 598.4h0M273.8 551.3h0M273.7 550.3h0M291.1 553.0h0M317.9 549.2h0M317.4 551.0h0M317.0 548.9h0M319.2 548.4h0M252.4 534.5h0M224.5 523.0h0M288.0 552.2h0M278.0 546.6h0M277.8 545.7h0M278.1 546.8h0M282.4 528.9h0M281.8 528.8h0M283.0 530.0h0M252.1 455.5h0M252.1 456.7h0M280.0 522.6h0M280.2 524.6h0M281.8 522.0h0M237.8 547.4h0M239.2 548.1h0M238.0 547.3h0M238.5 546.4h0M284.8 520.1h0M300.5 540.2h0M299.9 538.2h0M301.3 537.9h0M300.5 539.5h0M244.5 506.8h0M293.8 530.3h0M294.4 531.6h0M294.4 530.2h0M277.1 579.6h0M276.7 580.7h0M278.3 580.3h0M276.7 579.2h0M258.2 585.0h0M241.1 519.9h0M259.6 501.4h0M261.2 501.1h0M260.9 501.6h0M260.2 499.7h0M286.2 506.6h0M286.0 506.2h0M286.3 504.9h0M262.0 510.8h0M299.8 507.5h0M300.5 508.6h0M300.2 506.7h0M300.9 507.8h0M283.0 596.5h0M283.2 597.1h0M282.1 597.8h0M281.8 596.9h0M247.9 563.9h0M248.6 564.4h0M264.7 552.0h0M264.4 551.6h0M291.8 460.7h0M291.5 460.7h0M251.6 513.5h0M271.7 590.1h0M272.1 590.8h0M280.5 463.9h0M234.5 517.1h0M296.4 524.8h0M294.9 525.1h0M297.4 525.4h0M296.8 522.7h0M295.9 524.9h0M296.9 525.3h0M303.0 465.5h0M241.3 605.7h0M241.7 547.6h0M241.2 548.2h0M228.8 502.5h0M229.1 502.4h0M231.4 502.8h0M228.4 504.4h0M251.8 642.6h0M251.7 643.1h0M250.9 640.5h0M235.4 548.9h0M236.9 548.8h0M237.4 548.3h0M235.8 547.8h0M260.7 530.4h0M276.2 473.4h0M300.4 547.5h0M301.1 547.0h0M232.6 480.2h0M287.8 527.3h0M256.7 441.8h0M234.7 556.8h0M235.9 557.7h0M235.7 556.0h0M260.4 531.8h0M235.3 447.6h0M299.8 576.6h0M245.5 497.3h0M245.6 497.2h0M245.4 497.4h0M243.7 498.6h0M228.2 571.5h0M227.1 571.6h0M285.7 490.1h0M285.2 491.5h0M287.2 488.7h0M285.6 489.9h0M252.9 524.7h0M275.1 446.0h0M255.8 555.1h0M255.6 554.4h0M254.7 557.0h0M295.0 506.6h0M286.0 587.1h0M286.9 588.6h0M286.2 585.7h0M287.0 585.4h0M235.7 584.0h0M234.1 583.1h0M236.4 583.4h0M276.7 564.4h0M277.6 566.0h0M275.4 567.3h0M240.3 617.6h0M240.1 618.3h0M238.6 617.0h0M242.1 618.0h0M268.7 565.4h0M270.3 565.8h0M273.0 579.5h0M271.2 579.7h0M251.5 542.4h0M252.0 543.4h0M250.6 541.3h0M240.3 503.1h0M238.6 504.0h0M241.0 502.6h0M259.8 443.0h0M270.9 580.1h0M271.4 579.5h0M279.8 559.9h0M255.0 573.3h0M231.8 573.1h0M248.9 631.9h0M266.9 598.6h0M266.7 599.8h0M251.5 617.2h0M251.7 617.7h0M251.4 616.6h0M251.1 617.9h0M290.7 584.0h0M289.1 585.3h0M291.6 586.0h0M289.2 584.0h0M284.1 504.8h0M284.2 504.2h0M260.9 534.1h0M260.1 535.1h0M278.4 536.2h0M270.3 513.2h0M270.6 514.1h0M268.8 589.1h0M268.4 544.7h0M270.2 543.6h0M286.5 471.3h0M287.5 469.4h0M286.1 470.8h0M265.4 441.3h0M263.2 441.3h0M266.0 441.2h0M267.3 441.2h0M292.3 582.5h0M267.3 501.1h0M268.4 523.1h0M266.9 522.6h0M263.6 518.6h0M264.1 517.3h0M262.1 518.2h0M315.2 542.2h0M315.3 540.6h0M312.1 542.0h0M233.6 611.7h0M267.5 542.2h0M304.7 549.2h0M303.4 549.7h0M306.8 548.1h0M235.4 538.0h0M233.9 539.1h0M235.0 537.7h0M306.3 554.5h0M306.9 555.6h0M279.1 571.4h0M270.2 477.2h0M285.1 461.7h0M286.2 461.7h0M286.4 462.0h0M232.6 541.0h0M233.0 541.3h0M233.5 542.5h0M291.5 525.0h0M291.1 523.0h0M243.6 629.2h0M283.3 539.4h0M283.3 539.4h0M282.8 538.8h0M283.6 538.0h0M237.5 587.9h0M237.4 587.3h0M251.3 484.5h0M251.9 485.5h0M251.2 483.7h0M254.5 572.3h0M254.5 573.2h0M253.4 571.9h0M298.8 522.0h0M299.5 522.0h0M299.6 521.6h0M299.4 521.5h0M277.5 578.3h0M277.0 577.3h0M265.2 564.6h0M257.5 442.3h0M264.1 577.9h0M231.6 476.1h0M245.7 469.2h0M246.6 467.7h0M298.2 520.0h0M299.5 519.0h0M295.5 562.5h0M273.0 597.9h0M244.0 489.9h0M243.9 489.1h0M244.5 489.3h0" stroke="#ffcf00" stroke-width="1.1" stroke-linecap="round"/>
<path d="M226.8 552.3h0M286.2 587.3h0M247.0 555.1h0M261.1 533.0h0M255.4 588.6h0M278.1 598.1h0M279.6 601.2h0M262.5 538.0h0M284.4 517.1h0M270.6 589.9h0M243.3 448.5h0M234.5 612.5h0M229.2 489.4h0M265.1 565.2h0M287.7 562.3h0M241.8 553.0h0M291.1 467.5h0M299.2 533.9h0M245.2 628.9h0M248.6 467.4h0M245.4 496.1h0M241.4 470.8h0M281.9 558.9h0M289.1 523.3h0M248.0 455.3h0M249.9 603.8h0M276.1 565.4h0M253.3 451.6h0M282.9 575.6h0M289.9 478.1h0M261.6 607.1h0M253.6 592.1h0M316.1 550.0h0M284.2 526.9h0M260.6 573.3h0M250.8 546.2h0M288.8 453.2h0M231.0 540.3h0M291.1 524.2h0M244.5 438.5h0M288.7 553.3h0M230.2 443.0h0M228.3 538.5h0M293.4 556.5h0M256.1 583.9h0M299.5 529.8h0M303.7 557.9h0M260.0 552.3h0M282.0 521.9h0M264.4 561.9h0M295.5 534.4h0M302.1 484.7h0M244.0 554.6h0M290.7 471.5h0M236.8 603.2h0M287.2 545.9h0M276.7 481.5h0M267.3 529.5h0M294.5 535.0h0M280.2 549.3h0M286.2 476.7h0M259.5 630.6h0M294.7 475.8h0M270.8 574.8h0M260.9 499.1h0M224.8 477.1h0M268.2 441.2h0M245.4 636.8h0M243.3 562.8h0M268.8 459.6h0M234.5 531.5h0M290.5 466.2h0M244.5 540.5h0M302.6 518.5h0M244.9 490.4h0M239.0 510.7h0M235.1 580.6h0M234.9 454.8h0M269.2 574.2h0M316.0 482.5h0M269.0 618.7h0M310.4 554.9h0M269.2 502.5h0M282.5 589.8h0M305.3 554.0h0M284.1 473.3h0M311.3 533.3h0M232.5 528.5h0M245.0 442.3h0M234.1 542.0h0M294.8 550.0h0M245.7 501.6h0M283.6 523.8h0M240.6 590.2h0M286.0 594.6h0M240.0 480.0h0M240.7 559.8h0M295.4 562.9h0M237.4 502.2h0M261.6 532.3h0M252.5 457.3h0M253.0 548.7h0M289.7 485.2h0M276.5 468.2h0M308.2 542.6h0M253.0 498.0h0M273.4 492.2h0M229.6 469.3h0M251.6 546.7h0M237.2 522.0h0M276.3 583.1h0M238.4 588.9h0M233.9 546.2h0M261.2 610.8h0M289.2 462.2h0M238.9 527.1h0M250.5 515.1h0M266.3 524.6h0M227.6 499.2h0M282.3 468.3h0M261.1 443.1h0M232.2 532.6h0M269.3 492.7h0M272.5 454.8h0M293.0 519.6h0M223.2 536.1h0M250.6 634.6h0M291.4 524.5h0M307.0 530.3h0M268.4 603.5h0M284.4 499.2h0M250.4 560.4h0M271.7 532.0h0M285.5 456.1h0M239.5 613.8h0M227.4 463.4h0M296.9 502.3h0M251.5 477.8h0M240.3 529.8h0M248.9 504.9h0M245.2 482.0h0M293.8 550.5h0M234.4 508.7h0M239.4 534.2h0M248.7 522.5h0M282.2 526.0h0M294.7 460.8h0M255.0 637.5h0M254.2 573.1h0M229.0 528.4h0M236.0 457.1h0M306.9 553.3h0M231.6 588.0h0M272.0 503.0h0M255.9 634.9h0M241.5 475.9h0M243.9 445.3h0M280.8 532.2h0" stroke="#1010e0" stroke-width="1.1" stroke-linecap="round"/>
<path d="M301.9 557.2h0M226.8 479.9h0M226.5 573.0h0M250.9 568.2h0M284.9 486.5h0M273.1 481.4h0M316.3 552.0h0M252.5 639.8h0M224.6 443.1h0M244.9 496.8h0M233.5 557.3h0" stroke="#20c8f0" stroke-width="1.1" stroke-linecap="round"/>
<path d="M264.7 576.7h0M246.0 508.7h0M304.8 566.7h0M234.4 446.9h0M255.1 465.8h0M238.6 541.6h0M290.0 530.7h0M250.2 638.9h0M261.2 582.7h0M243.1 538.8h0M251.2 572.2h0M253.2 603.6h0M283.4 531.9h0M270.9 552.7h0M273.9 613.7h0" stroke="#f0208a" stroke-width="1.1" stroke-linecap="round"/>
<path d="M378.7 461.5h0M378.6 462.8h0M425.7 494.5h0M422.8 495.9h0M411.3 491.7h0M372.3 528.2h0M423.4 489.3h0M426.7 539.7h0M427.3 540.1h0M428.4 540.7h0M426.0 540.2h0M426.6 539.6h0M364.1 576.3h0M364.3 576.2h0M363.9 575.5h0M427.7 536.0h0M368.6 504.8h0M369.6 505.3h0M406.9 547.6h0M405.8 546.7h0M408.2 547.9h0M405.9 547.1h0M406.4 548.0h0M389.2 444.0h0M389.0 445.0h0M435.3 439.1h0M383.2 640.8h0M381.7 640.0h0M348.7 465.8h0M348.6 466.8h0M350.5 466.1h0M350.0 467.1h0M349.3 466.5h0M435.2 534.4h0M419.0 598.0h0M419.6 598.3h0M420.1 597.1h0M421.1 464.8h0M420.7 465.1h0M421.7 464.3h0M419.8 464.6h0M406.6 519.4h0M406.1 519.1h0M406.3 519.2h0M405.3 519.4h0M406.3 519.8h0M385.0 627.5h0M383.6 628.9h0M383.0 627.2h0M385.8 627.0h0M384.4 626.8h0M368.3 439.7h0M412.7 557.2h0M425.9 565.9h0M438.8 452.6h0M438.4 451.8h0M437.1 452.8h0M417.0 645.5h0M416.7 645.3h0M425.9 513.7h0M425.9 514.4h0M425.8 513.0h0M425.9 511.2h0M425.4 514.1h0M376.3 610.4h0M375.5 609.7h0M424.3 569.3h0M393.3 581.4h0M392.8 582.7h0M415.7 572.2h0M416.9 573.4h0M415.4 573.8h0M417.2 571.6h0M396.1 562.3h0M396.4 564.3h0M395.7 563.6h0M362.9 562.9h0M417.9 452.3h0M416.9 451.1h0M417.5 452.5h0M417.3 452.0h0M392.1 552.1h0M391.3 551.4h0M393.3 553.4h0M391.5 552.9h0M391.6 551.7h0M366.2 445.3h0M382.9 544.4h0M382.2 544.9h0M367.5 540.8h0M413.3 483.7h0M412.1 483.9h0M425.7 553.1h0M428.3 621.8h0M428.6 563.4h0M429.3 563.9h0M429.0 563.8h0M427.9 563.4h0M380.0 550.9h0M372.3 439.7h0M432.4 548.9h0M419.1 443.3h0M419.4 444.9h0M354.8 502.1h0M353.8 500.5h0M354.0 502.6h0M427.6 474.0h0M427.1 473.8h0M427.9 473.7h0M389.4 516.1h0M383.4 515.5h0M383.2 515.5h0M389.5 603.3h0M401.5 500.6h0M402.6 499.7h0M400.0 501.7h0M402.7 502.1h0M394.0 615.7h0M393.1 614.9h0M415.9 567.1h0M415.3 568.2h0M349.0 490.0h0M350.2 492.3h0M348.6 489.0h0M346.9 491.3h0M414.0 578.3h0M412.3 578.4h0M414.3 579.8h0M413.6 578.0h0M411.1 494.8h0M406.8 539.6h0M407.0 538.7h0M407.7 539.9h0M406.6 540.7h0M407.1 540.4h0M430.8 455.4h0M430.2 456.0h0M431.6 454.1h0M403.3 568.9h0M373.7 576.0h0M372.0 574.7h0M427.0 479.0h0M388.1 509.1h0M409.3 524.1h0M411.2 522.1h0M413.5 526.2h0M427.2 606.2h0M425.2 606.0h0M430.4 578.7h0M361.7 566.7h0M389.7 535.3h0M390.8 536.2h0M412.0 455.0h0M413.6 454.5h0M431.4 561.4h0M433.2 560.8h0M430.2 561.3h0M408.7 451.0h0M409.4 450.4h0M358.2 478.9h0M356.8 479.6h0M358.1 476.6h0M358.9 479.5h0M361.5 534.6h0M350.5 477.9h0M372.0 522.9h0M370.1 524.5h0M371.8 523.8h0M376.6 601.1h0M380.3 461.2h0M379.3 461.1h0M379.5 459.9h0M360.3 564.0h0M360.1 564.9h0M401.3 472.2h0M402.1 472.0h0M402.1 471.4h0M358.6 462.1h0M359.3 463.4h0M358.6 461.6h0M348.8 449.0h0M349.0 447.9h0M396.2 472.6h0M397.6 474.6h0M395.0 472.0h0M412.7 459.2h0M412.9 458.3h0M413.4 459.0h0M411.6 457.7h0M358.9 518.0h0M358.1 518.7h0M358.5 518.3h0M359.9 518.5h0M410.0 449.5h0M383.7 558.9h0M383.9 560.6h0M393.9 593.2h0M362.4 481.7h0M422.5 482.0h0M423.1 483.0h0M422.7 483.2h0M385.4 523.6h0M378.4 519.9h0M377.9 520.1h0M429.7 508.2h0M395.4 570.7h0M396.0 571.0h0M356.4 492.0h0M355.9 491.7h0M369.4 598.1h0M367.8 597.6h0M368.3 598.1h0M395.5 648.0h0M395.0 472.1h0M393.8 471.3h0M417.7 511.3h0M417.3 512.2h0M418.2 510.5h0M421.1 485.1h0M431.5 523.4h0M431.2 523.3h0M431.8 524.3h0M372.2 458.3h0M372.0 457.4h0M373.7 457.1h0M363.2 523.2h0M433.5 473.5h0M370.0 566.4h0M371.3 567.0h0M394.9 462.7h0M384.7 513.0h0M426.3 575.8h0M426.5 574.7h0M343.9 448.4h0M425.0 618.6h0M394.1 629.4h0M394.1 627.4h0M411.0 543.2h0M358.9 513.1h0M359.5 512.1h0M379.6 599.1h0M369.0 550.4h0M389.4 521.2h0M388.4 521.8h0M388.9 521.2h0M422.6 519.6h0M422.1 521.4h0M423.7 520.8h0M372.9 632.5h0M413.2 507.3h0M367.6 550.7h0M368.5 550.9h0M365.9 598.9h0M396.8 498.3h0M396.3 498.5h0M396.1 498.8h0M396.1 497.3h0M370.7 533.0h0M371.3 600.6h0M370.8 601.9h0M372.3 601.4h0M370.7 601.2h0M371.5 601.3h0M401.6 462.0h0M376.8 551.0h0M376.3 552.1h0M429.4 459.7h0M430.1 459.2h0M409.5 570.8h0M357.7 480.1h0M358.9 478.2h0M358.6 480.2h0M411.5 508.8h0M410.7 509.6h0M409.7 509.6h0M416.4 590.7h0M417.6 591.5h0M376.5 552.8h0M375.4 551.4h0M377.6 553.5h0M363.8 452.5h0M364.4 453.3h0M363.9 452.9h0M421.6 515.3h0M421.8 515.8h0M358.0 573.4h0M428.9 586.8h0M424.3 643.5h0M383.9 538.9h0M405.3 445.1h0M403.5 445.9h0M406.6 445.3h0M405.1 445.9h0M404.7 445.7h0M377.5 447.6h0M351.3 467.8h0M346.1 473.1h0M386.3 562.4h0M387.5 563.4h0M363.1 507.8h0M364.1 507.8h0M362.3 509.2h0M374.4 576.5h0M374.0 576.8h0M421.0 455.7h0M420.5 455.4h0M403.3 642.8h0M405.3 642.6h0M422.1 538.0h0M371.2 453.9h0M397.2 628.8h0M399.1 628.8h0M377.8 475.8h0M376.9 475.9h0M377.2 477.2h0M368.6 524.5h0M375.8 551.5h0M375.6 551.5h0M372.9 520.1h0M372.7 520.5h0M373.9 519.9h0M372.4 519.2h0M373.8 520.9h0M421.1 527.0h0M421.5 527.1h0M421.3 526.2h0M373.4 471.4h0M371.3 470.7h0M372.5 473.2h0M373.8 471.1h0M435.9 521.3h0M379.2 524.9h0M401.6 442.2h0M402.2 442.0h0M400.9 444.2h0M432.5 530.5h0M430.5 529.9h0M432.0 529.8h0M394.3 645.7h0M430.5 481.8h0M430.5 481.4h0M387.2 639.0h0M367.5 530.3h0M370.7 568.3h0M371.8 566.3h0M428.4 485.9h0M428.7 486.9h0M409.6 574.2h0M409.6 573.7h0M389.3 577.6h0M354.1 440.1h0M411.5 538.3h0M410.7 538.7h0M387.9 621.3h0M388.9 622.1h0M388.4 621.7h0M388.6 622.4h0M388.2 620.3h0M401.4 537.4h0M433.5 466.7h0M399.2 511.4h0M374.6 543.7h0M374.1 543.0h0M374.9 543.5h0M402.8 631.1h0M394.9 541.2h0M395.4 531.4h0M394.6 533.2h0M395.4 531.3h0M395.6 531.7h0M393.7 532.6h0M406.8 562.0h0M406.7 561.4h0M398.8 485.4h0M400.2 486.2h0M399.4 439.1h0M362.3 536.3h0M408.5 515.9h0M347.7 506.8h0M347.5 506.0h0M410.6 483.0h0M371.6 607.1h0M371.7 607.8h0M373.3 532.8h0M373.0 533.8h0M374.0 532.3h0M373.9 533.6h0M374.5 533.1h0M353.6 466.4h0M353.1 467.0h0M355.9 467.4h0M355.7 464.1h0M366.1 565.8h0M364.5 565.6h0M366.4 565.8h0M390.5 632.0h0M389.9 631.7h0M390.3 630.6h0M391.5 631.1h0M358.7 512.3h0M368.8 493.4h0M370.6 492.8h0M367.4 494.4h0M427.9 506.1h0M430.0 507.1h0M426.6 504.4h0M427.3 506.9h0M420.0 607.5h0M409.7 550.4h0M411.2 550.3h0M408.1 551.9h0M361.1 468.9h0M361.3 469.5h0M410.8 487.1h0M412.1 486.8h0M412.3 487.0h0M411.9 488.3h0M408.5 485.1h0M356.5 503.1h0M357.4 503.5h0M355.0 503.2h0M357.1 503.8h0M355.5 503.4h0M357.6 513.8h0M361.9 490.1h0M408.4 640.7h0M409.1 640.3h0M408.8 641.6h0M406.8 639.0h0M409.2 640.4h0M406.3 457.3h0M408.5 590.7h0M409.5 590.5h0M409.0 590.9h0M347.0 503.7h0M404.4 555.8h0M405.9 554.8h0M403.4 553.9h0M405.1 555.2h0M405.0 556.7h0M357.9 523.5h0M391.8 510.2h0M392.5 511.3h0M392.2 511.2h0M392.7 511.1h0M393.4 508.7h0M406.5 516.8h0M406.5 516.6h0M407.9 516.3h0M408.5 516.0h0M406.8 518.0h0M381.5 445.9h0M380.8 447.2h0M404.8 574.9h0M404.5 574.6h0M412.7 535.7h0M411.5 536.6h0M369.0 488.2h0M369.5 487.7h0M381.0 616.8h0M378.5 553.0h0M359.5 543.5h0M403.2 518.6h0M409.9 627.7h0M408.7 628.4h0M405.6 491.2h0M403.3 492.1h0M407.0 491.5h0M406.9 491.0h0M386.8 478.3h0M386.5 478.7h0M388.3 477.7h0M409.3 639.9h0M409.0 638.8h0M409.2 640.1h0M409.3 639.3h0M410.5 640.3h0M363.4 447.5h0M416.7 498.6h0M375.2 467.3h0M375.4 465.6h0M375.5 469.3h0M376.5 467.9h0M384.4 452.5h0M385.1 451.4h0M386.7 452.3h0M429.9 580.5h0M429.8 581.3h0M433.3 453.1h0M432.5 454.0h0M419.5 446.9h0M388.1 582.4h0M434.5 452.6h0M433.4 452.6h0M434.2 453.2h0M434.8 453.3h0M387.3 560.7h0M430.3 571.7h0M379.1 485.1h0M378.0 484.4h0M374.7 546.8h0M375.6 548.4h0M375.8 547.3h0M374.3 547.3h0M406.4 612.7h0M405.9 612.1h0M356.0 478.1h0M375.2 600.1h0M425.8 570.8h0M426.2 570.7h0M425.0 571.2h0M359.8 562.3h0M426.9 511.4h0M426.8 512.7h0M434.0 467.8h0M370.0 574.7h0M390.7 536.1h0M374.4 504.9h0M400.4 483.9h0M400.6 483.2h0M401.1 482.5h0M409.7 641.3h0M350.5 501.7h0M349.3 500.5h0M348.8 503.1h0M350.9 501.5h0M352.8 501.6h0M376.4 596.8h0M391.0 461.5h0M391.2 460.9h0M391.8 461.0h0M396.5 520.3h0M361.9 569.9h0M391.2 596.6h0M373.1 550.9h0M373.1 550.6h0M431.9 451.3h0M431.6 450.8h0M431.0 450.3h0M429.5 448.6h0M431.7 449.5h0M430.7 511.1h0M431.8 510.6h0M415.7 484.0h0M382.3 535.5h0M380.5 536.4h0M414.8 480.6h0M415.9 481.0h0M429.0 572.4h0M429.2 572.8h0M362.1 458.2h0M376.4 596.8h0M412.9 443.9h0M412.5 444.0h0M412.5 539.7h0M420.2 441.8h0M432.1 474.2h0M370.7 443.4h0M370.8 443.2h0M370.9 443.5h0M371.1 443.7h0M428.2 452.3h0M427.9 452.8h0M412.9 627.5h0M385.1 554.2h0M349.5 463.2h0M348.2 464.0h0M375.0 507.5h0M407.5 522.1h0M386.2 632.8h0M387.2 632.6h0M436.6 450.2h0M437.6 448.4h0M434.7 449.6h0M378.2 452.9h0M407.7 489.7h0M404.4 489.4h0M408.6 488.8h0M428.7 466.5h0M428.6 465.7h0M429.1 464.8h0M390.1 446.4h0M390.0 447.2h0M422.5 517.0h0M388.2 585.5h0M433.0 544.9h0M432.9 544.3h0M373.3 458.0h0M374.0 455.6h0M383.2 512.3h0M383.4 512.5h0M372.2 609.1h0M345.8 490.6h0M345.8 492.3h0M370.2 521.3h0M409.3 647.1h0M428.3 443.1h0M429.1 443.6h0M429.3 442.7h0M428.2 442.7h0M355.0 565.5h0M355.6 564.2h0M355.3 565.0h0M354.9 565.6h0M357.5 565.4h0M414.2 558.2h0M414.1 558.4h0M414.6 558.0h0M413.3 558.6h0M387.4 509.8h0M373.3 474.5h0M373.4 473.3h0M372.1 475.5h0M373.1 475.3h0M407.6 575.3h0M408.0 576.4h0M384.2 466.1h0M382.7 465.1h0M409.2 582.6h0M408.6 581.5h0M419.2 450.3h0M419.4 452.2h0M419.9 450.7h0M362.4 477.4h0M360.8 476.2h0M402.3 551.2h0M403.2 549.0h0M401.6 548.7h0M402.5 551.6h0M404.3 552.6h0M416.5 496.0h0M366.7 550.8h0M428.0 531.7h0M434.3 537.2h0M381.1 439.5h0M352.7 442.1h0M353.4 442.0h0M354.1 441.2h0M392.0 600.7h0M356.2 509.6h0M357.2 508.8h0M355.8 509.3h0M355.4 508.6h0M356.9 509.4h0M351.3 523.2h0M351.3 522.0h0M352.4 522.8h0M351.2 445.5h0M429.3 512.7h0M428.7 510.6h0M430.7 511.6h0M427.1 513.4h0M430.9 511.8h0M424.3 572.9h0M422.8 572.6h0M432.5 532.4h0M379.4 570.8h0M379.8 571.7h0M379.2 572.3h0M381.2 571.9h0M373.5 570.0h0M378.6 565.4h0M378.6 566.9h0M378.8 566.7h0M433.8 567.0h0M433.6 566.4h0M432.7 568.6h0M362.5 573.3h0M363.1 571.9h0M362.6 571.4h0M362.6 573.5h0M402.4 628.3h0M401.8 629.4h0M403.8 628.3h0M401.4 627.2h0M412.7 441.2h0M359.3 582.2h0M359.4 582.9h0M428.5 614.8h0M352.9 498.6h0M354.2 497.5h0M354.0 499.3h0M351.4 498.2h0M351.2 496.8h0M414.1 512.2h0M413.6 513.6h0M414.8 512.7h0M387.4 455.5h0M388.4 455.1h0M386.4 456.9h0M437.0 466.7h0M398.5 554.3h0M398.5 555.6h0M397.6 553.8h0M397.9 554.2h0M397.1 554.4h0M346.2 458.3h0M344.5 459.1h0M348.4 459.5h0M360.7 495.1h0M375.0 498.4h0M373.2 497.2h0M372.5 499.6h0M389.6 629.7h0M388.9 629.0h0M434.1 561.1h0M436.7 481.0h0M436.9 481.1h0M357.9 503.0h0M359.2 502.2h0M423.1 617.1h0M349.3 496.5h0M348.3 497.9h0M397.9 522.5h0M399.1 521.3h0M397.9 523.2h0M400.1 520.4h0M399.0 522.1h0M385.2 610.9h0M431.3 522.7h0M431.3 520.1h0M431.9 520.9h0M430.3 520.5h0M430.4 522.2h0M414.7 570.7h0M415.1 572.7h0M414.6 570.4h0M415.3 571.2h0M414.9 570.1h0M413.8 508.7h0M353.5 542.0h0M353.2 542.1h0M382.8 540.1h0M409.6 554.9h0M419.6 485.6h0M421.5 485.9h0M421.4 623.4h0M375.1 442.8h0M410.9 564.6h0M412.2 565.0h0M410.8 563.2h0M411.0 564.4h0M399.4 484.5h0M399.0 486.6h0M428.1 535.8h0M425.7 515.7h0M424.1 517.7h0M424.7 516.0h0M426.1 516.8h0M352.5 521.7h0M350.6 522.1h0M403.8 453.4h0M403.0 452.8h0M429.7 552.3h0M429.0 552.2h0M428.9 551.2h0M430.3 551.5h0M429.3 553.1h0M385.1 489.2h0M422.9 492.7h0M422.8 493.3h0M361.2 572.5h0M405.9 579.0h0M403.4 580.3h0M405.2 579.0h0M392.4 561.5h0M351.5 527.5h0M350.5 528.5h0M419.0 563.1h0M421.2 562.8h0M405.3 573.3h0M386.2 460.5h0M437.5 490.6h0M381.4 566.4h0M374.5 621.3h0M379.0 547.9h0M379.1 546.9h0M366.8 486.3h0M353.8 448.3h0M353.6 449.1h0M428.3 461.8h0M430.1 463.7h0M427.2 460.4h0M372.7 471.9h0M343.3 465.7h0M397.9 630.6h0M397.7 630.3h0M396.7 631.2h0M398.1 630.8h0M398.1 629.5h0M416.9 644.8h0M383.5 455.7h0M384.1 455.8h0M396.5 452.9h0M372.5 446.5h0M372.5 447.5h0M385.2 636.0h0M386.6 636.3h0M385.6 634.9h0M384.9 638.0h0M341.2 469.4h0M341.3 469.8h0M376.8 474.4h0M376.1 473.6h0M378.6 474.6h0M378.6 474.4h0M370.9 564.2h0M373.2 565.2h0M373.3 564.9h0M369.7 565.8h0M411.7 451.1h0M373.0 566.3h0M373.4 567.3h0M373.4 564.7h0M373.7 566.2h0M399.0 470.6h0M399.3 470.5h0M391.9 575.1h0M393.5 575.9h0M391.3 574.9h0M393.2 575.7h0M379.3 553.8h0M381.2 554.2h0M377.8 552.7h0M378.2 554.4h0M350.5 451.7h0M379.0 470.2h0M378.0 470.3h0M399.6 638.5h0M399.3 638.1h0M423.8 552.0h0M425.0 551.1h0M424.3 552.4h0M423.7 551.4h0M355.7 484.8h0M356.8 483.5h0M356.5 485.0h0M355.8 484.1h0M356.2 484.5h0M363.7 526.6h0M431.6 458.3h0M430.5 459.0h0M430.5 459.0h0M431.8 459.0h0M431.1 459.6h0M417.8 526.9h0M398.8 557.1h0M399.1 556.9h0M399.7 558.0h0M399.5 558.6h0M383.6 609.0h0M384.7 608.7h0M382.7 609.5h0M418.1 580.4h0M417.5 582.0h0M419.8 580.3h0M417.2 581.0h0M419.1 580.0h0M346.9 506.5h0M346.9 508.0h0M424.2 555.5h0M424.5 555.2h0M424.9 554.6h0M426.2 554.7h0M378.4 485.8h0M368.6 549.1h0M361.3 478.9h0M406.9 642.1h0M407.3 642.1h0M407.0 642.1h0M405.7 642.9h0M405.5 642.6h0M374.3 440.6h0M423.3 643.6h0M349.2 505.0h0M426.7 502.8h0M406.6 512.1h0M407.3 512.8h0M407.4 511.4h0M407.0 509.8h0M406.8 511.1h0M398.4 576.1h0M423.9 608.1h0M422.4 606.8h0M374.9 566.4h0M436.7 482.4h0M428.7 543.6h0M430.2 543.0h0M428.6 542.1h0M353.2 450.7h0M353.6 449.5h0M370.7 557.6h0M370.6 557.1h0M370.6 558.2h0M370.4 559.3h0M369.7 559.5h0M391.4 620.0h0M392.6 620.0h0M391.9 620.3h0M392.0 620.8h0M379.0 455.3h0M404.6 547.7h0M396.8 525.7h0M394.6 524.2h0M396.1 527.2h0M397.3 526.1h0M397.7 526.3h0M405.5 586.5h0M404.5 586.8h0M401.0 463.9h0M412.6 626.5h0M413.7 623.9h0M412.6 626.1h0M414.3 626.4h0M413.4 625.2h0M370.0 554.4h0M353.3 518.8h0M415.8 559.3h0M385.1 648.3h0M357.7 469.4h0M358.8 469.8h0M345.7 496.0h0M346.2 494.5h0M345.1 498.1h0M426.7 591.0h0M365.0 549.2h0M365.6 549.9h0M413.8 644.3h0M375.8 452.9h0M432.9 570.0h0M432.2 571.4h0M432.7 569.4h0M432.9 571.7h0M433.7 571.4h0M365.6 590.2h0M364.5 590.8h0M363.8 589.4h0M364.8 590.9h0M354.2 472.7h0M416.1 566.5h0M415.6 567.2h0M385.3 458.7h0M371.4 599.8h0M372.1 601.2h0M370.9 598.9h0M361.5 524.4h0M362.7 524.3h0M361.3 524.0h0M362.5 523.7h0M361.3 524.2h0M382.2 631.4h0M419.4 560.7h0M381.7 461.4h0M382.6 461.3h0M380.5 511.8h0M381.6 512.6h0M382.2 511.7h0M379.6 512.0h0M342.8 475.4h0M408.8 458.5h0M407.9 456.4h0M409.0 460.4h0M410.2 459.9h0M401.7 491.6h0M386.0 439.9h0M385.2 445.2h0M384.6 444.6h0M386.1 444.8h0M384.6 442.7h0M385.4 446.4h0M382.4 620.2h0M380.9 620.5h0M422.7 517.4h0M361.8 575.5h0M429.1 497.1h0M359.4 512.8h0M408.7 630.4h0M351.2 479.3h0M354.7 438.8h0M395.7 626.0h0M395.8 626.4h0M369.8 490.5h0M386.1 565.3h0M350.9 508.2h0M354.7 532.6h0M415.8 559.6h0M416.4 559.8h0M406.1 621.2h0M404.3 621.2h0M368.5 478.6h0M435.7 465.0h0M421.0 516.9h0M430.0 531.9h0M429.4 532.2h0M429.9 533.0h0M429.6 532.6h0M429.4 530.3h0M377.8 492.6h0M377.5 492.3h0M378.4 493.5h0M389.1 590.3h0M389.6 591.8h0M373.1 584.5h0M373.7 586.0h0M374.5 585.1h0M372.6 585.0h0M372.8 585.5h0M373.7 614.6h0M368.0 572.7h0M367.4 574.0h0M438.1 440.9h0M382.8 461.9h0M381.2 460.6h0M383.8 461.4h0M408.1 552.7h0M409.9 512.1h0M397.3 584.2h0M397.3 584.4h0M428.0 484.3h0M404.8 530.7h0M405.0 529.3h0M406.0 530.3h0M378.2 531.5h0M390.8 500.2h0M388.8 623.7h0M385.0 623.0h0M400.1 570.0h0M424.5 443.0h0M423.8 442.7h0M424.5 443.8h0M424.1 442.0h0M425.4 442.0h0M414.1 644.3h0M370.9 547.3h0M370.7 547.0h0M346.1 499.8h0M345.8 500.4h0M346.2 500.2h0M346.3 500.1h0M389.2 628.4h0M378.1 541.1h0M411.2 629.6h0M409.9 629.3h0M378.1 448.1h0M379.1 448.1h0M434.6 518.9h0M358.2 487.4h0M358.3 487.1h0M354.4 528.6h0M355.7 528.9h0M354.4 529.2h0M356.1 528.1h0M355.3 528.3h0M394.2 646.7h0M394.6 646.1h0M349.1 482.8h0M426.0 455.4h0M380.6 523.7h0M411.9 543.9h0M411.6 545.2h0M411.7 543.2h0M394.5 581.3h0M395.5 580.2h0M395.9 581.5h0M352.7 453.1h0M391.6 583.9h0M354.0 558.5h0M354.3 557.0h0M355.1 557.4h0M364.5 492.0h0M384.0 547.6h0M379.1 549.8h0M377.7 550.1h0M379.2 549.9h0M378.8 548.8h0M436.1 481.4h0M434.4 482.5h0M435.3 480.4h0M434.4 480.2h0M436.6 483.0h0M382.4 483.8h0M402.6 506.9h0M400.9 507.8h0M402.5 507.1h0M402.8 506.0h0M402.2 508.5h0M370.9 467.3h0M369.1 466.3h0M430.2 485.5h0M367.5 531.2h0M368.4 531.6h0M369.9 531.5h0M427.7 594.8h0M427.0 595.4h0M426.6 593.6h0M357.1 517.4h0M385.6 505.3h0M386.5 505.1h0M385.2 504.6h0M385.9 506.1h0M384.4 506.4h0M409.3 454.0h0M409.0 452.5h0M380.9 443.3h0M416.2 478.2h0M416.3 478.9h0M395.5 447.9h0M372.2 459.9h0M371.0 459.3h0M430.8 474.3h0M430.3 474.4h0M428.1 520.2h0M428.7 520.3h0M402.4 583.6h0M387.4 543.3h0M385.7 543.4h0M395.5 499.8h0M393.2 499.8h0M395.9 498.7h0M360.2 549.2h0M359.6 549.1h0M359.4 549.9h0M360.6 550.5h0M360.9 550.9h0M420.6 568.0h0M385.1 648.4h0M364.4 466.0h0M364.2 466.6h0M364.9 467.1h0M364.9 467.0h0M365.9 466.1h0M420.6 512.3h0M366.4 484.4h0M366.1 483.5h0M366.3 484.0h0M366.8 483.3h0M383.5 547.4h0M428.6 584.2h0M429.7 584.7h0M384.3 444.0h0M344.8 461.9h0M346.6 460.9h0M408.8 500.7h0M410.5 635.4h0M410.7 635.2h0M411.3 634.9h0M401.9 642.6h0M409.4 457.4h0M411.1 458.2h0M409.1 456.1h0M428.3 490.3h0M429.2 489.7h0M428.9 490.0h0M427.5 490.7h0M356.7 497.6h0M435.5 520.2h0M368.4 548.4h0M369.7 548.1h0M405.7 565.9h0M360.6 492.7h0M361.7 492.6h0M360.6 492.6h0M356.6 501.1h0M358.8 500.4h0M358.3 501.6h0M356.5 501.1h0M355.7 499.3h0M342.8 466.8h0M386.0 628.6h0M404.6 549.6h0M403.9 549.3h0M403.9 549.8h0M404.8 547.8h0M411.1 494.8h0M411.1 494.9h0M422.1 535.9h0M422.3 535.0h0M409.2 509.5h0M360.6 470.6h0M360.5 470.9h0M360.7 471.2h0M362.5 471.9h0M359.8 469.9h0M434.6 457.0h0M432.7 457.4h0M426.4 474.4h0M431.5 539.6h0M431.4 540.8h0M428.7 540.2h0M429.4 453.8h0M430.7 453.5h0M428.8 453.5h0M360.2 544.5h0M359.9 543.5h0M359.4 542.4h0M360.3 543.9h0M361.1 544.6h0M362.9 565.5h0M397.7 471.9h0M396.7 472.4h0M398.0 471.2h0M403.1 525.3h0M438.9 468.2h0M397.5 583.4h0M397.2 584.5h0M377.8 526.9h0M393.9 480.4h0M393.1 481.7h0M411.1 622.9h0M410.9 622.9h0M412.9 622.5h0M411.3 620.7h0M411.0 621.3h0M380.0 467.9h0M359.2 480.2h0M359.2 478.8h0M360.3 480.8h0M393.8 529.9h0M393.5 528.2h0M395.4 531.4h0M414.5 539.6h0M414.4 540.2h0M414.9 540.2h0M413.4 540.6h0M344.0 452.5h0M345.1 451.6h0M344.5 453.4h0M344.4 454.4h0M342.6 450.3h0M399.1 482.4h0M404.3 638.3h0M405.2 638.5h0M413.1 565.4h0M412.5 567.4h0M415.0 565.5h0M351.1 491.5h0M351.4 492.2h0M406.3 469.8h0M406.4 472.0h0M406.9 469.4h0M416.7 474.2h0M414.1 578.2h0M392.5 593.7h0M420.2 533.2h0M420.9 534.0h0M419.7 532.4h0M419.7 533.1h0M420.3 533.7h0M369.9 513.5h0M363.9 447.5h0M362.7 447.6h0M362.9 448.1h0M364.9 447.6h0M364.9 447.9h0M416.6 478.8h0M415.6 478.8h0M417.4 478.4h0M415.2 477.3h0M434.2 502.1h0M433.6 501.5h0M435.1 503.7h0M395.2 540.2h0M426.6 477.8h0M372.3 443.2h0M422.7 456.3h0M381.5 467.5h0M379.6 466.0h0M381.6 468.3h0M380.9 467.6h0M396.5 540.5h0M387.0 444.1h0M426.9 477.6h0M427.0 478.0h0M425.5 478.7h0M427.8 475.4h0M344.6 463.4h0M342.0 439.1h0M392.6 622.4h0M392.8 623.7h0M394.8 624.9h0M411.4 449.3h0M369.4 596.5h0M368.4 597.5h0M370.0 598.2h0M434.5 459.2h0M433.8 458.7h0M367.0 583.6h0M404.8 481.8h0M405.5 482.0h0M406.6 483.5h0M360.4 566.7h0M366.1 535.9h0M365.5 535.7h0M378.8 600.7h0M377.4 600.7h0M380.9 601.7h0M371.1 578.5h0M397.7 647.2h0M397.6 648.2h0M399.4 646.9h0M397.5 647.8h0M423.3 641.5h0M423.1 642.5h0M422.5 642.1h0M409.1 619.2h0M409.0 619.8h0M411.0 619.1h0M409.7 619.9h0M365.1 455.5h0M365.1 455.1h0M389.3 599.7h0M431.8 498.5h0M411.4 443.9h0M435.5 537.8h0M433.1 517.5h0M433.9 518.8h0M433.6 516.8h0M396.8 521.3h0M396.0 521.9h0M367.2 455.0h0M395.7 625.9h0M394.5 625.0h0M395.7 627.6h0M396.5 626.3h0M397.0 625.8h0M356.0 535.8h0M367.3 550.6h0M434.0 515.8h0M435.1 516.7h0M433.8 514.9h0M421.7 561.3h0M409.7 469.8h0M410.5 471.1h0M409.6 470.2h0M406.9 469.6h0M414.6 555.8h0M398.1 542.6h0M396.5 547.6h0M396.7 547.6h0M396.1 546.3h0M395.8 547.0h0M397.6 546.1h0M426.2 559.7h0M406.3 470.3h0M392.5 523.1h0M395.0 523.2h0M371.5 545.3h0M371.8 545.2h0M371.6 544.9h0M369.3 547.1h0M420.4 637.7h0M376.2 564.7h0M376.9 625.1h0M414.7 541.8h0M413.2 542.3h0M428.1 507.2h0M374.9 619.3h0M374.0 619.9h0M378.2 551.7h0M378.4 552.0h0M370.0 459.5h0M371.6 459.7h0M369.9 458.8h0M369.8 459.4h0M372.4 460.6h0M419.3 520.8h0M409.4 453.6h0M409.4 454.0h0M408.8 454.9h0M408.7 454.0h0M418.3 556.8h0M417.5 555.5h0M417.1 557.0h0M417.5 556.0h0M388.9 559.1h0M390.5 560.5h0M412.7 643.0h0M410.3 516.9h0M409.0 516.9h0M418.4 619.3h0M428.0 438.8h0M426.8 440.5h0M431.6 441.1h0M432.2 439.9h0M430.7 441.9h0M432.7 440.8h0M421.9 516.7h0M363.7 471.4h0M432.3 487.9h0M431.4 487.7h0M431.5 488.8h0M388.1 549.3h0M389.0 550.4h0M418.7 555.7h0M351.3 486.1h0M352.5 486.1h0M422.2 576.7h0M421.6 575.7h0M422.0 576.2h0M409.9 513.4h0M424.2 632.3h0M423.2 632.9h0M424.1 631.7h0M349.0 474.4h0M349.2 474.7h0M406.4 587.3h0M408.9 587.5h0M406.2 587.1h0M405.9 587.0h0M406.7 587.0h0M428.8 542.2h0M428.1 543.2h0M432.5 569.9h0M433.0 571.9h0M434.9 535.8h0M392.3 595.5h0M380.4 591.7h0M381.9 590.7h0M379.8 592.7h0M381.3 592.8h0M382.3 592.0h0M397.2 442.4h0M389.8 620.1h0M389.3 618.1h0M350.3 451.6h0M376.5 526.1h0M376.2 526.8h0M376.5 526.2h0M358.8 479.7h0M386.2 444.8h0M385.1 444.9h0M384.4 444.4h0M362.6 593.9h0M369.9 574.8h0M371.7 574.5h0M369.1 574.4h0M369.5 574.4h0M380.8 464.9h0M382.1 464.9h0M376.7 641.9h0M376.0 641.6h0M376.5 642.9h0M377.5 642.6h0M376.0 640.8h0M401.5 620.3h0M402.3 621.6h0M402.4 621.6h0M348.5 485.4h0M346.9 486.1h0M366.4 575.7h0M432.6 455.3h0M431.7 454.7h0M431.5 454.4h0M432.9 455.9h0M432.6 454.9h0M368.2 446.0h0M366.5 445.5h0M367.8 446.5h0M366.9 447.0h0M400.7 564.3h0M400.3 564.5h0M399.1 564.6h0M369.3 516.6h0M372.3 515.3h0M419.1 544.3h0M369.6 457.2h0M369.7 457.3h0M368.9 457.2h0M376.1 455.7h0M376.9 457.7h0M376.3 456.6h0M380.3 608.6h0M440.7 438.8h0M427.0 502.3h0M433.7 505.3h0M411.4 491.3h0M412.4 490.4h0M411.0 490.5h0M433.4 470.1h0M434.2 468.8h0M432.4 469.5h0M361.1 588.5h0M410.9 453.1h0M420.1 471.3h0M408.8 438.7h0M414.9 569.7h0M424.0 632.6h0M421.4 632.7h0M410.2 489.9h0M409.9 488.1h0M410.0 489.9h0M410.1 457.5h0M411.1 459.4h0M411.3 459.1h0M411.0 456.4h0M412.4 457.9h0M395.8 628.4h0M375.1 459.2h0M375.5 458.1h0M407.0 595.1h0M406.2 594.3h0M407.8 596.8h0M407.6 595.0h0M406.3 595.9h0M389.8 597.4h0M391.9 597.8h0M392.5 597.2h0M390.0 598.1h0M399.4 525.0h0M399.9 525.4h0M355.9 447.4h0M415.8 442.9h0M416.2 442.4h0M415.9 444.1h0M415.9 443.9h0M415.1 440.9h0M427.2 575.6h0M426.3 575.6h0M426.7 574.8h0M426.8 576.6h0M427.4 576.1h0M434.1 534.0h0M382.9 500.9h0M354.1 536.7h0M353.8 537.8h0M413.0 574.6h0M413.8 574.7h0M412.0 574.1h0M376.1 536.4h0M377.9 536.5h0M376.9 535.2h0M373.3 534.5h0M420.9 556.9h0M421.4 556.9h0M423.1 556.1h0M420.8 556.7h0M420.1 555.6h0M398.7 562.1h0M397.9 562.0h0M399.0 562.3h0M398.0 563.5h0M398.7 560.7h0M415.0 598.9h0M371.5 561.8h0M373.4 561.9h0M370.6 561.4h0M417.6 548.1h0M430.2 499.6h0M429.8 498.3h0M430.3 499.9h0M431.1 499.6h0M428.9 500.1h0M391.1 552.6h0M389.9 553.2h0M389.8 553.3h0M392.7 530.4h0M371.8 599.9h0M370.6 602.5h0M371.9 600.8h0M361.6 441.7h0M377.9 509.9h0M358.9 580.4h0M358.5 579.4h0M358.2 580.3h0M359.3 580.9h0M375.6 567.0h0M368.1 615.0h0M400.4 578.2h0M401.3 579.3h0M400.3 578.3h0M428.5 590.5h0M426.1 589.3h0M427.7 589.9h0M402.6 493.2h0M429.8 610.8h0M427.2 610.9h0M368.0 584.3h0M369.9 483.5h0M370.0 486.9h0M378.7 610.1h0M378.1 610.0h0M379.3 609.6h0M378.1 612.0h0M379.1 610.0h0M381.4 506.1h0M380.3 505.9h0M355.9 532.0h0M357.1 534.0h0M356.6 531.2h0M357.1 532.9h0M412.1 444.9h0M412.2 442.5h0M411.7 445.2h0M413.7 494.8h0M385.9 502.0h0M357.6 572.5h0M358.0 571.7h0M379.7 517.2h0M380.0 516.3h0M379.4 517.3h0M409.3 550.4h0M398.4 564.8h0M345.8 463.7h0M385.7 572.3h0M386.1 573.4h0M385.6 572.4h0M396.1 542.9h0M379.2 546.5h0M399.5 522.7h0M399.3 522.3h0M432.3 557.7h0M432.9 556.6h0M431.1 557.3h0M431.9 558.4h0M347.6 445.4h0M347.3 446.2h0M401.3 455.4h0M400.3 455.1h0M400.3 455.6h0M400.2 456.3h0M402.9 454.9h0M380.4 522.1h0M364.2 592.4h0M363.2 593.1h0M364.7 591.1h0M363.8 590.7h0M361.8 590.6h0M367.6 455.8h0M381.1 633.5h0M385.2 528.4h0M389.0 508.3h0M387.9 509.1h0M428.0 457.9h0M387.9 583.2h0M387.9 583.0h0M357.8 445.2h0M384.6 592.2h0M426.3 459.1h0M359.4 465.1h0M360.0 465.0h0M412.6 516.3h0M425.4 643.9h0M422.9 643.0h0M426.6 644.9h0M425.2 643.4h0M375.7 497.0h0M407.2 508.5h0M406.4 509.0h0M347.1 457.6h0M384.5 535.3h0M371.6 552.0h0M371.5 553.2h0M372.2 551.9h0M372.0 553.2h0M386.5 509.9h0M397.5 444.7h0M396.7 443.8h0M398.4 442.1h0M398.1 443.1h0M398.3 444.1h0M417.7 458.5h0M426.0 604.2h0M360.8 468.9h0M360.5 469.5h0M362.4 469.8h0M352.6 519.6h0M352.5 518.9h0M388.3 596.5h0M406.3 439.0h0M372.7 464.3h0M374.4 463.3h0M371.9 463.9h0M426.4 503.0h0M361.1 457.9h0M372.1 504.3h0M371.9 506.5h0M372.0 502.8h0M372.4 504.8h0M371.9 504.3h0M403.2 510.5h0M401.1 511.2h0M367.5 544.6h0M425.7 519.4h0M425.5 520.7h0M425.2 520.2h0M425.0 520.0h0M413.9 550.5h0M423.9 600.3h0M412.1 521.8h0M412.0 524.6h0M354.7 445.1h0M354.6 443.6h0M354.4 445.2h0M354.9 446.6h0M355.0 443.3h0M410.9 539.8h0M395.0 476.1h0M382.4 570.0h0M382.2 570.2h0M382.1 569.9h0M434.6 443.7h0M393.4 635.0h0M407.5 450.8h0M408.7 452.3h0M408.5 448.9h0M408.8 450.4h0M406.8 451.6h0M394.6 519.3h0M395.1 518.7h0M393.5 520.3h0M393.6 521.4h0M395.5 519.3h0M354.7 462.0h0M355.1 462.7h0M354.3 461.9h0M396.9 480.8h0M397.5 481.1h0M398.4 482.9h0M432.7 528.4h0M394.5 521.4h0M353.7 447.6h0M354.3 446.3h0M354.5 447.7h0M351.7 447.4h0M353.8 446.8h0M422.2 532.0h0M391.4 617.0h0M389.8 618.6h0M391.7 615.6h0M349.8 522.3h0M349.4 523.3h0M423.1 486.1h0M423.8 485.8h0M349.5 511.5h0M349.7 512.4h0M348.4 512.2h0M349.8 512.1h0M349.2 512.7h0M400.1 570.4h0M353.7 495.1h0M354.3 495.4h0M432.8 583.2h0M432.8 582.4h0M432.9 584.2h0M397.8 521.9h0M395.7 520.9h0M396.7 521.9h0M382.7 626.3h0M383.0 627.4h0M368.9 523.8h0M367.2 523.3h0M368.9 522.6h0M414.2 456.9h0M416.5 456.4h0M372.4 571.5h0M373.0 571.0h0M394.8 490.4h0M373.7 583.3h0M375.3 582.8h0M354.5 470.6h0M371.9 547.5h0M373.3 548.3h0M372.2 549.2h0M384.7 550.8h0M364.9 540.4h0M365.7 539.4h0M416.5 554.8h0M416.2 556.0h0M416.8 555.5h0M385.0 557.3h0M363.7 587.7h0M350.4 483.3h0M365.3 562.3h0M440.2 441.7h0M364.6 544.2h0M364.5 543.7h0M363.5 546.0h0M363.3 544.4h0M363.0 544.1h0M390.1 517.7h0M390.2 518.4h0M390.6 515.1h0M352.0 524.9h0M369.7 559.5h0M370.1 560.0h0M368.5 560.3h0M371.3 563.5h0M371.2 563.8h0M420.4 616.6h0M421.1 616.0h0M419.3 616.0h0M344.1 456.7h0M343.4 456.9h0M344.3 455.9h0M409.6 592.7h0M409.7 592.3h0M410.8 595.4h0M410.3 591.8h0M409.2 591.4h0M428.9 454.4h0M371.4 604.8h0M369.0 565.5h0M369.9 565.2h0M374.9 478.6h0M374.6 477.9h0M374.3 478.0h0M344.3 442.0h0M345.3 442.0h0M344.3 442.4h0M343.8 442.1h0M344.6 440.8h0M411.0 624.0h0M410.7 624.6h0M430.7 604.2h0M397.4 617.1h0M392.3 599.4h0M392.2 599.3h0M388.9 554.0h0M389.7 473.6h0M391.0 473.6h0M389.6 474.3h0M389.0 475.7h0M350.5 527.7h0M428.2 481.6h0M430.6 482.3h0M428.0 479.5h0M426.0 482.6h0M428.2 482.7h0M362.4 525.1h0M362.0 524.7h0M406.5 539.6h0M407.1 541.1h0M406.3 540.0h0M374.8 611.0h0M374.4 611.0h0M373.9 610.5h0M374.4 610.2h0M375.3 611.4h0M386.8 495.2h0M371.7 481.5h0M372.3 482.6h0M372.4 480.5h0M371.2 482.5h0M371.2 482.1h0M365.5 520.6h0M365.1 521.2h0M364.5 519.3h0M364.6 521.0h0M366.3 521.4h0M428.5 486.7h0M402.2 447.8h0M434.4 445.6h0M433.0 448.3h0M430.1 487.8h0M429.8 488.9h0M422.0 468.9h0M422.1 470.0h0M422.2 467.0h0M412.5 568.3h0M432.0 554.8h0M430.9 553.1h0M372.6 519.1h0M374.5 516.9h0M423.6 535.4h0M401.9 538.3h0M402.6 536.9h0M401.1 539.0h0M402.0 537.3h0M403.1 539.3h0M407.2 482.0h0M376.2 539.8h0M380.1 638.7h0M381.9 641.0h0M379.9 638.9h0M379.2 638.4h0M379.7 638.6h0M426.2 575.1h0M426.6 577.9h0M426.2 594.6h0M349.3 523.7h0M359.0 491.0h0M424.9 492.6h0M425.0 494.5h0M424.0 491.6h0M424.2 492.5h0M402.8 541.6h0M388.1 592.3h0M388.6 592.1h0M387.6 591.4h0M386.7 592.7h0M367.7 463.7h0M367.8 465.0h0M364.3 559.0h0M365.3 558.2h0M363.1 560.5h0M379.4 543.0h0M391.2 592.7h0M368.0 596.3h0M356.5 448.4h0M355.2 447.7h0M410.1 522.8h0M410.4 522.4h0M378.6 632.9h0M422.5 487.6h0M397.2 509.1h0M395.1 510.7h0M398.0 510.0h0M396.9 511.4h0M398.4 508.8h0M344.9 456.5h0M346.2 457.1h0M344.9 457.1h0M369.0 518.3h0M370.7 517.4h0M371.5 532.6h0M381.8 594.4h0M421.4 641.1h0M420.3 642.6h0M384.5 445.3h0M373.6 537.9h0M406.0 617.5h0M362.2 464.4h0M361.5 465.7h0M361.9 464.5h0M351.3 522.6h0M351.1 521.5h0M351.8 522.8h0M427.6 511.1h0M430.1 511.5h0M428.6 510.2h0M430.3 493.4h0M430.0 494.4h0M372.7 476.7h0M368.6 558.0h0M387.5 624.4h0M419.5 483.9h0M374.9 570.5h0M405.0 503.5h0M416.7 464.6h0M415.8 464.7h0M418.7 464.7h0M414.6 466.4h0M416.7 466.1h0M384.5 518.3h0M384.4 517.7h0M384.8 518.0h0M383.4 519.3h0M383.8 518.2h0M407.2 644.9h0M407.2 643.9h0M408.9 644.8h0M406.7 646.0h0M382.8 550.7h0M413.2 559.1h0M413.8 556.5h0M414.6 559.3h0M364.1 587.0h0M364.2 585.9h0M364.2 588.1h0M390.9 485.7h0M393.0 486.0h0M390.1 485.0h0M406.6 442.7h0M406.5 442.4h0M362.5 445.5h0M362.0 445.4h0M391.7 495.5h0M391.7 496.1h0M356.9 543.8h0M354.9 543.0h0M354.3 541.8h0M357.8 543.8h0M357.3 542.2h0M425.5 548.9h0M425.0 548.7h0M425.8 547.3h0M423.8 548.5h0M390.6 643.9h0M422.6 644.6h0M421.7 644.9h0M422.9 644.3h0M386.4 517.4h0M386.8 517.9h0M385.7 516.7h0M404.4 572.5h0M349.5 530.1h0M351.6 531.7h0M350.0 529.9h0M362.6 551.0h0M394.7 514.1h0M383.8 520.4h0M417.8 499.3h0M417.9 500.0h0M417.1 500.5h0M418.5 499.7h0M417.6 498.2h0M387.9 637.7h0M421.6 449.3h0M389.0 564.6h0M387.6 564.0h0M389.7 566.5h0M390.4 564.3h0M399.4 492.7h0M413.8 515.1h0M413.0 514.2h0M362.4 515.9h0M396.8 521.6h0M396.6 521.0h0M396.5 520.2h0M394.8 519.0h0M362.5 442.4h0M364.4 442.6h0M435.4 439.5h0M381.5 626.8h0M430.3 535.7h0M367.1 558.5h0M400.5 503.3h0M398.5 638.4h0M411.6 598.6h0M383.6 518.0h0M351.8 536.8h0M417.6 624.8h0M417.2 625.8h0M418.4 624.5h0M420.7 486.5h0M421.3 485.8h0M421.5 461.1h0M423.1 462.0h0M420.0 460.1h0M419.4 461.3h0M421.2 461.5h0M386.1 512.1h0M384.5 512.8h0M358.7 503.4h0M357.3 503.0h0M415.4 537.0h0M415.6 535.3h0M415.4 537.0h0M382.2 616.5h0M436.3 504.4h0M434.9 504.3h0M435.4 503.0h0M358.5 460.8h0M402.5 573.4h0M384.0 578.6h0M434.4 548.6h0M434.1 548.1h0M414.4 474.8h0M409.6 442.7h0M411.4 443.2h0M411.1 443.6h0M412.7 567.4h0M412.9 567.2h0M414.3 566.9h0M411.8 566.7h0M411.4 566.4h0M397.8 488.8h0M397.5 489.9h0M387.8 583.0h0M351.8 523.5h0M393.7 457.8h0M387.0 560.5h0M386.2 561.6h0M354.4 556.0h0M413.4 628.5h0M413.5 629.0h0M406.9 560.1h0M359.0 512.4h0M360.7 513.4h0M356.6 512.4h0M365.2 581.0h0M348.0 456.2h0M346.8 456.5h0M401.2 518.9h0M399.8 519.7h0M401.2 519.3h0M402.8 517.9h0M400.7 540.8h0M400.1 539.0h0M401.8 538.6h0M401.9 540.8h0M401.0 542.2h0M406.5 547.0h0M388.7 573.8h0M388.8 573.0h0M352.6 520.4h0M356.9 454.6h0M409.1 563.4h0M408.9 518.3h0M410.5 517.1h0M412.0 546.5h0M418.9 509.9h0M378.5 446.8h0M428.7 485.2h0M427.4 486.7h0M429.8 486.3h0M428.2 485.1h0M407.1 576.3h0M407.9 576.5h0M364.1 461.2h0M407.7 486.5h0M408.6 488.1h0M408.8 485.9h0M374.8 640.3h0M354.6 536.4h0M354.7 536.5h0M354.0 535.7h0M354.3 537.3h0M418.4 458.7h0M419.2 459.5h0M418.0 458.8h0M396.0 516.2h0M397.0 515.8h0M395.9 515.7h0M362.6 577.3h0M362.8 575.0h0M361.6 576.7h0M365.2 590.2h0M365.6 591.2h0M380.2 560.3h0M390.4 447.2h0M388.6 449.1h0M403.0 481.7h0M403.9 481.8h0M382.8 468.6h0M422.6 457.3h0M422.7 456.3h0M423.9 458.8h0M421.9 456.2h0M422.1 457.4h0M351.6 463.8h0M391.4 482.3h0M391.0 482.9h0M389.5 482.8h0M392.6 481.6h0M389.9 481.1h0M366.5 457.7h0M374.9 510.4h0M376.2 511.3h0M390.3 522.7h0M363.1 443.6h0M432.4 451.9h0M406.9 640.6h0M405.7 641.1h0M407.0 640.5h0M362.7 533.8h0M362.2 533.3h0M362.4 534.6h0M362.5 534.3h0M363.6 533.5h0M418.6 512.9h0M418.9 514.0h0M426.5 517.1h0M396.0 519.6h0M389.1 526.3h0M388.5 473.1h0M402.8 531.3h0M402.1 531.6h0M403.5 532.1h0M359.4 532.7h0M358.8 532.7h0M347.4 506.9h0M347.8 508.1h0M346.6 507.3h0M366.3 465.3h0M367.4 466.0h0M367.1 464.2h0M364.2 465.9h0M431.0 552.6h0M365.7 538.0h0M367.0 536.8h0M366.4 536.9h0M366.5 539.5h0M366.2 538.7h0M388.8 562.9h0M349.6 461.8h0M427.6 580.9h0M385.7 548.9h0M386.1 547.7h0M385.9 549.1h0M354.2 553.0h0M354.9 552.3h0M353.4 553.7h0M362.7 551.8h0M423.0 454.5h0M424.6 453.1h0M421.0 451.6h0M419.8 451.2h0M395.4 629.3h0M408.7 564.7h0M397.2 440.5h0M399.5 440.7h0M378.7 555.9h0M378.3 556.4h0M378.5 556.0h0M379.9 556.2h0M377.3 557.2h0M364.9 493.2h0M365.8 493.3h0M366.9 511.6h0M367.4 510.5h0M424.2 573.8h0M424.7 572.9h0M425.7 574.8h0M422.3 574.8h0M424.6 573.8h0M406.8 529.0h0M406.8 529.6h0M349.3 449.1h0M399.4 580.9h0M399.6 580.8h0M431.0 564.1h0M403.8 533.7h0M403.6 533.6h0M405.0 535.3h0M404.0 535.0h0M401.3 533.0h0M377.7 459.1h0M375.8 458.9h0M376.3 457.8h0M379.0 458.1h0M378.1 458.0h0M366.2 562.3h0M365.6 561.3h0M383.0 580.5h0M382.8 580.0h0M383.5 580.9h0M385.3 580.0h0M380.6 580.2h0M434.5 439.0h0M421.4 546.1h0M410.6 517.8h0M412.2 517.5h0M390.6 520.4h0M389.6 520.4h0M391.9 520.6h0M390.4 548.0h0M390.1 548.7h0M390.9 549.4h0M390.2 549.6h0M389.2 547.4h0M430.2 452.4h0M430.6 454.3h0M364.6 518.6h0M364.5 518.9h0M364.9 518.3h0M365.7 518.5h0M395.9 548.1h0M381.8 646.5h0M427.8 538.0h0M428.4 535.7h0M428.2 538.4h0M427.3 536.3h0M401.0 503.3h0M401.4 502.5h0M398.8 502.9h0M403.0 503.1h0M400.1 504.5h0M392.9 575.9h0M427.2 632.6h0M426.0 632.4h0M427.3 632.6h0M427.2 631.4h0M368.5 522.7h0M387.1 444.7h0M387.4 444.7h0M386.6 444.6h0M428.4 570.0h0M411.2 583.6h0M410.0 583.7h0M409.3 581.5h0M411.9 582.7h0M423.3 440.8h0M423.6 443.5h0M423.3 440.0h0M408.5 531.4h0M410.0 532.8h0M407.7 531.4h0M408.8 532.7h0M408.3 530.2h0M398.0 450.5h0M397.9 452.3h0M397.5 450.6h0M398.0 449.2h0M407.8 636.2h0M360.8 458.4h0M428.3 516.5h0M363.5 570.3h0M438.5 444.6h0M422.2 636.7h0M424.2 519.0h0M424.6 519.5h0M423.2 518.7h0M423.5 519.4h0M399.3 490.4h0M401.8 448.5h0M404.2 448.2h0M401.1 448.8h0M412.1 537.7h0M432.9 456.3h0M355.8 438.2h0M356.9 572.7h0M356.5 572.5h0M356.8 572.9h0M362.5 585.1h0M361.8 584.8h0M362.9 585.1h0M424.0 508.3h0M424.7 509.5h0M424.3 508.4h0M424.2 509.3h0M423.1 509.0h0M401.5 505.0h0M402.5 506.2h0M399.9 507.2h0M401.6 503.9h0M373.8 559.2h0M376.3 559.0h0M366.6 460.7h0M358.3 513.9h0M396.9 540.1h0M395.7 539.3h0M395.5 541.2h0M431.5 572.3h0M429.3 571.6h0M431.1 573.1h0M421.3 445.2h0M391.9 563.6h0M353.8 473.0h0M354.2 473.2h0M353.9 473.6h0M367.2 575.8h0M405.6 485.9h0M418.5 635.2h0M389.0 572.4h0M401.6 438.7h0M402.1 439.4h0M401.4 439.4h0M385.0 542.7h0M384.4 541.8h0M384.9 543.9h0M364.3 519.6h0M363.0 518.2h0M354.6 561.0h0M354.0 560.1h0M354.7 561.0h0M374.5 620.3h0M416.9 623.3h0M415.6 623.3h0M392.7 605.3h0M384.6 645.1h0M400.8 547.1h0M400.6 546.1h0M382.6 548.1h0M355.6 457.0h0M353.5 458.7h0M430.4 470.4h0M400.6 561.3h0M411.4 470.7h0M411.8 630.5h0M411.7 630.7h0M410.5 630.9h0M411.7 630.1h0M412.3 630.0h0M406.1 458.7h0M406.0 459.9h0M407.0 459.0h0M406.3 460.0h0M404.8 458.1h0M382.2 461.9h0M399.6 464.9h0M382.1 491.4h0M383.7 491.0h0M377.0 439.6h0M390.3 645.4h0M389.8 647.4h0M388.0 455.8h0M423.7 443.2h0M423.5 440.6h0M376.4 625.1h0M397.5 512.9h0M351.3 454.2h0M352.3 454.4h0M404.3 635.1h0M404.2 635.7h0M403.2 634.9h0M404.9 636.3h0M404.8 634.7h0M367.5 499.3h0M369.5 500.8h0M352.2 460.8h0M375.8 546.8h0M374.5 545.8h0M374.2 544.7h0M437.6 492.1h0M437.6 490.8h0M414.2 536.1h0M347.7 484.7h0M344.6 470.2h0M386.9 534.4h0M385.8 533.6h0M405.1 450.6h0M405.7 453.5h0M405.5 450.2h0M403.3 452.4h0M405.9 450.6h0M393.6 516.2h0M393.5 516.8h0M392.7 518.4h0M428.6 532.5h0M429.0 532.0h0M429.6 533.2h0M428.1 533.1h0M416.1 518.6h0M414.9 518.3h0M408.2 486.1h0M408.5 538.4h0M409.5 537.1h0M409.5 538.5h0M426.7 626.0h0M429.1 535.0h0M427.0 535.1h0M358.4 550.6h0M408.3 530.4h0M406.2 528.4h0M409.4 529.4h0M409.4 531.6h0M407.8 530.2h0M353.6 466.2h0M352.8 466.2h0M354.8 465.8h0M400.5 467.5h0M398.9 467.8h0M368.6 460.7h0M369.3 463.2h0M420.3 457.5h0M421.2 456.0h0M420.1 456.8h0M420.4 457.9h0M420.3 457.8h0M408.0 506.4h0M390.8 457.4h0M373.5 472.4h0M374.2 475.8h0M372.7 473.8h0M373.6 473.3h0M372.2 471.5h0M432.3 462.6h0M433.1 441.4h0M432.4 440.2h0M348.5 442.1h0M410.7 481.8h0M399.7 492.9h0M399.2 492.0h0M399.3 493.7h0M401.1 492.0h0M399.8 493.2h0M384.8 625.4h0M385.8 627.2h0M385.1 625.6h0M370.7 473.7h0M351.7 492.9h0M381.7 541.7h0M383.0 542.1h0M382.6 541.2h0M420.3 544.6h0M420.8 544.6h0M419.5 545.0h0M394.2 444.2h0M395.7 483.3h0M394.9 482.0h0M395.3 483.2h0M396.6 484.7h0M393.3 634.3h0M392.8 636.0h0M396.0 635.6h0M393.7 633.6h0M395.1 633.4h0M341.9 444.5h0M343.3 445.8h0M341.7 445.3h0M343.4 445.0h0M342.6 443.9h0M347.4 460.4h0M378.8 585.3h0M373.6 638.5h0M373.6 638.5h0M367.0 573.9h0M367.0 575.2h0M417.7 474.9h0M373.9 590.1h0M373.9 578.9h0M424.9 541.6h0M425.8 541.4h0M424.2 540.1h0M376.1 554.8h0M411.1 628.8h0M409.8 631.0h0M411.2 627.6h0M411.8 627.8h0M410.8 628.6h0M385.1 636.3h0M356.7 538.7h0M355.9 536.9h0M356.5 538.3h0M356.9 539.7h0M356.9 539.1h0M411.1 530.7h0M374.2 527.7h0M406.7 602.5h0M410.6 555.4h0M342.8 478.3h0M430.5 569.0h0M430.3 568.7h0M393.7 547.5h0M392.9 547.6h0M393.6 546.5h0M379.5 439.6h0M379.3 439.4h0M410.9 548.2h0M407.1 557.5h0M359.8 525.5h0M358.9 512.7h0M439.5 459.8h0M374.2 440.4h0M373.1 438.7h0M374.3 440.5h0M385.8 578.6h0M393.4 445.1h0M393.5 445.3h0M392.1 445.9h0M354.9 514.5h0M431.4 484.4h0M392.5 641.3h0M391.9 640.6h0M392.1 642.7h0M394.2 642.5h0M360.4 538.6h0M359.9 537.3h0M424.3 471.8h0M380.7 547.4h0M378.8 547.5h0M380.6 546.8h0M380.8 547.5h0M374.1 459.6h0M372.4 459.6h0M390.5 545.4h0M389.0 545.6h0M391.2 545.3h0M366.3 498.9h0M359.4 450.1h0M362.6 472.8h0M360.1 472.7h0M427.0 528.9h0M341.0 444.0h0M341.4 444.3h0M427.1 530.1h0M411.1 570.0h0M367.2 565.0h0M417.7 511.1h0M418.4 511.0h0M373.7 453.8h0M345.9 494.4h0M345.5 492.7h0M347.4 494.9h0M345.3 495.3h0M392.0 511.4h0M391.9 512.8h0M391.4 511.1h0M391.2 510.6h0M391.4 512.3h0M380.9 451.2h0M378.1 450.6h0M378.2 635.7h0M398.8 617.8h0M391.7 460.0h0M391.8 459.1h0M392.1 459.4h0M411.8 487.9h0M410.7 490.5h0M411.5 488.6h0M400.0 630.9h0M424.4 450.4h0M357.9 542.5h0M396.8 576.3h0M366.5 452.3h0M368.4 450.6h0M357.8 483.5h0M358.7 484.9h0M412.2 506.4h0M373.2 440.3h0M413.0 602.9h0M413.9 602.4h0M414.2 602.4h0M391.9 551.4h0M392.8 550.7h0M391.9 550.1h0M392.4 551.1h0M390.3 550.6h0M383.6 590.7h0M389.3 533.0h0M388.3 532.8h0M389.5 532.6h0M390.2 532.9h0M386.9 532.5h0M423.5 511.1h0M435.8 514.9h0M434.8 512.4h0M410.6 451.7h0M391.4 570.2h0M390.5 569.4h0M391.1 570.0h0M370.0 488.4h0M369.2 489.6h0M370.3 488.9h0M369.1 487.9h0M389.8 507.1h0M370.8 629.3h0M390.9 554.6h0M390.2 555.3h0M392.4 556.5h0M391.2 555.8h0M412.4 483.4h0M411.5 482.6h0M380.6 600.2h0M381.0 601.7h0M379.5 599.9h0M413.4 564.3h0M414.1 563.0h0M413.7 564.4h0M411.8 605.4h0M363.6 506.6h0M363.4 506.6h0M363.5 507.7h0M412.1 495.2h0M376.9 588.7h0M394.5 444.5h0M430.7 558.0h0M429.3 556.9h0M433.8 473.4h0M433.0 472.1h0M384.4 438.9h0M392.4 644.3h0M392.4 643.6h0M401.1 509.9h0M385.4 578.6h0M361.8 570.3h0M360.4 569.7h0M365.3 569.9h0M361.1 569.7h0M361.0 570.1h0M371.3 545.7h0M371.1 544.9h0M356.2 466.5h0M373.5 543.5h0M385.9 611.6h0M386.7 611.0h0M400.6 522.5h0M399.5 521.9h0M420.2 524.5h0M419.0 524.5h0M419.8 526.9h0M419.0 526.1h0M420.6 523.2h0M405.7 509.6h0M405.5 639.7h0M405.9 641.0h0M389.9 563.0h0M389.5 563.0h0M389.6 562.6h0M390.3 563.0h0M390.0 563.4h0M396.5 537.9h0M396.6 536.7h0M398.5 537.9h0M424.4 606.1h0M423.3 604.8h0M383.8 616.9h0M379.6 448.9h0M380.7 449.4h0M379.1 448.4h0M433.3 451.1h0M431.9 450.9h0M433.5 450.7h0M362.9 572.9h0M361.8 572.0h0M361.0 573.8h0M362.2 572.0h0M362.7 574.0h0M389.1 514.8h0M387.6 515.3h0M358.7 522.8h0M346.4 493.4h0M345.8 491.7h0M409.6 544.4h0M413.6 513.9h0M411.5 513.8h0M413.3 512.9h0M397.5 477.7h0M396.6 478.6h0M398.4 477.6h0M372.0 443.6h0M372.1 444.7h0M409.8 478.8h0M409.9 478.4h0M410.5 477.9h0M410.2 478.3h0M349.9 453.4h0M348.9 455.7h0M349.7 454.8h0M352.1 502.2h0M364.9 553.2h0M363.9 551.7h0M375.4 613.2h0M376.8 613.0h0M434.4 515.0h0M412.6 642.3h0M413.6 642.5h0M413.8 642.0h0M413.1 642.5h0M413.5 641.7h0M434.0 531.0h0M434.9 531.3h0M435.0 531.9h0M434.1 529.5h0M433.1 530.7h0M419.9 612.0h0M409.2 451.9h0M410.0 452.0h0M382.8 575.4h0M414.5 549.4h0M415.3 580.8h0M416.1 579.9h0M416.5 582.4h0M414.7 579.9h0M402.6 509.3h0M401.4 509.6h0M427.3 599.1h0M427.0 599.6h0M425.9 599.6h0M427.4 599.5h0M426.0 600.5h0M361.5 552.1h0M361.2 551.8h0M407.3 630.5h0M346.7 507.7h0M346.6 507.0h0M417.9 527.4h0M419.2 527.3h0M418.5 527.4h0M418.1 528.9h0M418.1 447.1h0M418.7 448.5h0M416.9 447.4h0M418.2 501.8h0M417.0 501.4h0M417.7 502.7h0M416.7 502.5h0M416.4 502.2h0M415.6 502.3h0M433.5 522.3h0M365.4 556.4h0M366.0 555.3h0M366.3 555.0h0M365.0 556.4h0M366.7 555.6h0M373.4 596.4h0M357.2 574.2h0M414.3 549.7h0M412.8 549.5h0M414.4 550.6h0M401.4 507.4h0M387.7 512.1h0M387.5 513.5h0M410.1 545.8h0M408.9 545.9h0M409.7 544.8h0M409.0 545.9h0M356.0 571.4h0M383.0 487.8h0M393.4 603.6h0M393.1 602.6h0M393.5 604.1h0M425.0 578.8h0M350.6 518.8h0M344.2 474.7h0M345.9 472.3h0M344.4 473.5h0M343.3 473.3h0M343.7 475.8h0M346.6 442.7h0M411.8 514.1h0M411.1 515.7h0M412.3 513.6h0M411.5 513.9h0M412.1 513.8h0M386.3 624.1h0M407.6 634.1h0M409.7 633.9h0M405.8 635.0h0M407.2 634.4h0M379.2 439.3h0M418.5 572.7h0M417.9 573.6h0M405.5 569.4h0M406.7 568.4h0M405.1 569.9h0M359.6 446.3h0M357.4 445.3h0M399.4 535.3h0M416.8 473.4h0M396.8 453.6h0M394.9 452.9h0M392.4 488.0h0M398.6 507.7h0M368.0 570.3h0M368.1 569.8h0M426.1 512.3h0M432.9 504.8h0M431.1 504.8h0M376.9 444.5h0M377.2 445.2h0M377.3 443.9h0M372.3 581.2h0M399.4 476.0h0M415.9 515.6h0M364.7 533.2h0M366.1 533.5h0M364.8 533.2h0M362.5 533.7h0M362.2 532.4h0M372.7 546.5h0M373.0 547.7h0M373.2 447.3h0M373.8 445.5h0M397.5 639.9h0M398.3 639.4h0M356.2 522.1h0M375.5 574.2h0M387.7 452.3h0M387.6 451.2h0M369.8 548.0h0M370.1 548.2h0M370.8 547.0h0M412.9 455.3h0M388.3 640.9h0M387.9 640.3h0M396.2 621.0h0M432.7 440.8h0M432.7 443.1h0M432.7 440.5h0M407.2 489.1h0M407.0 487.9h0M349.5 514.5h0M414.1 596.2h0M413.8 594.8h0M395.3 496.4h0M395.5 494.1h0M401.2 558.2h0M401.3 558.7h0M402.7 558.6h0M344.8 458.0h0M368.7 451.3h0M428.7 562.6h0M429.0 563.4h0M404.5 620.1h0M405.4 620.2h0M404.0 619.3h0M405.6 620.3h0M405.3 619.8h0M411.5 628.1h0M410.1 628.1h0M364.9 474.9h0M375.7 496.9h0M375.2 496.8h0M350.1 526.5h0M351.3 526.0h0M350.9 526.0h0M380.3 467.0h0M368.9 591.3h0M386.7 632.9h0M387.3 633.0h0M384.3 572.7h0M384.3 572.2h0M383.0 572.6h0M344.2 464.2h0M344.3 462.5h0M343.5 463.9h0M344.4 463.6h0M344.0 464.5h0M347.7 507.7h0M346.8 507.1h0M347.9 507.4h0M347.6 508.2h0M347.7 509.3h0M384.2 592.6h0M383.8 593.2h0M383.5 593.5h0M384.3 591.8h0M382.4 593.0h0M402.6 626.8h0M373.8 606.1h0M402.6 494.6h0M404.9 494.8h0M402.1 494.3h0M403.1 495.3h0M420.6 582.1h0M363.4 454.1h0M362.6 454.1h0M395.2 467.5h0M394.7 469.4h0M395.6 468.3h0M389.8 559.1h0M391.3 559.6h0M388.5 559.1h0M389.1 558.8h0M420.1 644.0h0M404.4 549.5h0M403.5 550.1h0M404.2 550.2h0M355.4 550.7h0M382.0 599.4h0M382.4 598.4h0M380.3 545.3h0M380.9 546.6h0M381.6 545.8h0M379.4 546.8h0M378.8 547.1h0M349.8 527.0h0M431.4 578.1h0M431.9 577.9h0M431.2 577.1h0M432.8 579.9h0M371.3 463.6h0M366.9 485.9h0M365.9 485.9h0M357.0 464.2h0M429.8 536.2h0M389.5 640.9h0M388.2 639.2h0M345.0 452.7h0M344.3 453.2h0M383.7 456.4h0M403.1 625.9h0M404.7 625.3h0M403.3 626.8h0M428.9 499.9h0M428.7 500.1h0M353.9 556.6h0M353.0 497.0h0M355.0 495.6h0M352.1 498.1h0M357.2 547.8h0M357.1 546.2h0M355.9 547.5h0M357.2 547.9h0M356.8 549.5h0M369.2 537.8h0M368.7 538.0h0M387.8 478.7h0M387.0 478.3h0M386.2 479.0h0M418.4 576.6h0M420.0 576.1h0M417.8 574.8h0M418.6 576.3h0M417.4 575.3h0M419.4 555.5h0M419.7 553.7h0M419.5 555.9h0M415.4 514.6h0M370.4 555.0h0M370.9 554.8h0M370.9 554.8h0M370.7 552.4h0M371.0 554.5h0M361.0 551.6h0M360.0 553.9h0M345.2 473.2h0M373.5 572.3h0M372.3 574.2h0M373.3 573.3h0M374.2 570.1h0M372.9 573.2h0M395.3 501.4h0M393.2 501.4h0M396.4 502.2h0M394.1 501.1h0M393.1 501.2h0M362.8 592.3h0M387.7 613.8h0M370.0 462.5h0M370.1 461.6h0M370.2 463.2h0M381.6 530.2h0M366.8 477.8h0M366.8 478.0h0M424.9 496.6h0M372.9 542.5h0M363.0 554.4h0M364.2 554.4h0M420.0 468.9h0M392.0 551.0h0M416.5 558.6h0M416.5 559.9h0M385.1 545.9h0M385.9 546.3h0M384.6 544.6h0M384.5 544.9h0M422.3 558.9h0M358.0 500.0h0M357.0 500.4h0M422.3 643.3h0M419.1 449.4h0M400.2 504.3h0M400.8 504.9h0M400.2 505.2h0M399.8 503.4h0M360.6 513.6h0M390.8 606.0h0M390.6 605.9h0M389.9 604.4h0M403.6 617.6h0M379.8 603.8h0M368.4 560.4h0M397.8 625.3h0M397.7 623.8h0M402.5 574.2h0M370.8 597.5h0M370.5 599.0h0M371.4 597.1h0M370.1 597.5h0M371.1 597.6h0M426.2 519.3h0M425.2 520.7h0M425.4 520.2h0M401.4 619.8h0M435.9 460.1h0M433.3 461.2h0M435.3 458.7h0M436.0 459.8h0M380.5 443.6h0M381.9 438.7h0M380.7 439.8h0M378.2 594.1h0M352.7 452.2h0M403.9 487.8h0M403.0 487.1h0M403.1 489.7h0M391.4 442.2h0M360.8 519.7h0M421.4 583.7h0M385.9 538.7h0M419.8 444.4h0M420.6 443.9h0M417.6 445.6h0M357.6 527.6h0M361.4 504.7h0M403.7 563.3h0M374.0 572.4h0M372.6 571.7h0M399.2 539.6h0M397.3 540.3h0M400.9 539.9h0M398.1 539.7h0M376.3 540.7h0M439.3 443.8h0M439.6 444.3h0M377.6 529.9h0M376.4 530.2h0M373.7 578.8h0M433.8 496.3h0M433.6 495.0h0M434.6 497.9h0M434.5 497.1h0M393.1 625.8h0M391.8 627.9h0M393.4 625.7h0M372.9 630.5h0M394.5 624.0h0M369.0 470.4h0M369.5 470.7h0M369.4 469.8h0M411.4 460.0h0M431.7 510.9h0M416.4 574.4h0M416.2 573.3h0M417.7 573.8h0M416.9 574.6h0M345.6 501.9h0M346.6 502.1h0M419.5 469.3h0M419.3 470.6h0M422.2 621.2h0M423.4 621.3h0M412.8 449.4h0M412.7 450.5h0M412.3 448.3h0M411.5 449.5h0M412.8 448.6h0M386.6 608.1h0M387.7 607.6h0M375.5 478.1h0M372.1 618.8h0M372.2 619.3h0M373.3 617.9h0M365.7 495.4h0M365.0 495.3h0M406.9 492.6h0M405.5 492.9h0M405.4 494.0h0M380.1 606.7h0M380.2 607.2h0M379.0 606.8h0M435.1 471.9h0M373.5 477.7h0M373.6 477.9h0M410.0 484.8h0M411.6 483.4h0M409.8 484.5h0M421.6 539.7h0M421.5 539.5h0M420.7 539.6h0M369.0 500.4h0M368.7 500.8h0M370.1 503.1h0M370.0 501.4h0M367.8 498.6h0M353.3 457.4h0M352.8 456.5h0M353.5 456.7h0M421.8 492.5h0M422.1 493.9h0M424.0 494.5h0M403.1 467.9h0M427.5 499.9h0M431.5 552.8h0M357.8 488.3h0M397.4 621.4h0M421.7 534.5h0M421.4 533.3h0M422.6 534.4h0M422.7 535.2h0M423.0 532.4h0M426.9 453.9h0M388.9 585.4h0M415.3 646.1h0M351.3 541.4h0M351.7 542.2h0M378.4 465.6h0M379.3 464.6h0M377.6 465.9h0M381.4 556.9h0M382.6 554.9h0M381.8 556.0h0M379.8 557.5h0M381.9 556.0h0M377.9 462.4h0M377.0 462.3h0M343.6 447.8h0M343.6 448.4h0M377.2 462.8h0M378.7 465.8h0M400.8 507.9h0M401.7 507.3h0M400.1 509.5h0M386.3 593.4h0M387.5 593.9h0M385.8 594.3h0M386.5 591.7h0M385.9 595.0h0M370.6 564.0h0M364.4 446.1h0M363.4 447.6h0M430.6 478.6h0M419.3 522.1h0M353.5 518.6h0M382.0 567.1h0M381.0 567.7h0M383.3 568.0h0M434.1 545.5h0M356.1 444.3h0M430.3 563.4h0M393.6 535.0h0M367.5 563.2h0M368.2 565.7h0M433.5 517.8h0M432.0 516.5h0M433.6 517.4h0M433.0 519.5h0M434.7 519.4h0M353.6 491.9h0M397.6 574.8h0M408.2 524.6h0M423.5 524.6h0M370.2 463.1h0M427.6 523.6h0M427.2 523.4h0M426.7 525.3h0M411.5 512.4h0M435.8 456.3h0M434.4 455.7h0M410.4 548.0h0M410.4 547.9h0M410.8 550.2h0M409.0 548.8h0M358.9 449.1h0M359.4 448.9h0M422.0 456.7h0M420.4 456.4h0M395.2 516.1h0M395.5 516.9h0M394.0 515.7h0M394.1 516.3h0M395.4 516.4h0M358.3 540.8h0M359.8 541.3h0M358.6 540.5h0M374.2 485.9h0M355.0 557.4h0M356.3 558.0h0M356.2 558.4h0M355.5 497.8h0M356.2 497.9h0M355.6 497.3h0M410.3 517.8h0M410.4 518.4h0M411.3 518.7h0M378.9 502.5h0M378.8 468.5h0M378.5 467.8h0M353.2 493.2h0M365.2 443.7h0M376.2 646.1h0M375.7 645.4h0M420.9 583.1h0M421.1 584.5h0M420.2 583.0h0M353.9 521.9h0M354.3 521.1h0M376.2 581.4h0M344.9 478.7h0M381.6 630.0h0M369.9 560.5h0M385.9 602.7h0M387.3 602.2h0M386.9 603.6h0M370.9 448.5h0M371.2 449.3h0M371.1 446.8h0M373.4 447.0h0M370.1 449.3h0M407.2 547.1h0M406.8 547.8h0M407.5 546.6h0M407.0 544.9h0M362.2 523.1h0M363.1 524.6h0M363.0 522.9h0M364.3 522.0h0M361.8 524.1h0M368.7 487.4h0M426.9 511.4h0M428.3 510.5h0M426.8 511.4h0M397.8 532.9h0M397.7 533.9h0M398.0 535.0h0M396.9 533.1h0M398.9 530.4h0M369.7 560.9h0M370.4 560.1h0M370.0 559.3h0M418.1 446.9h0M355.4 531.8h0M355.6 532.7h0M355.8 534.1h0M400.4 489.5h0M400.8 491.5h0M401.7 489.8h0M400.2 489.5h0M402.0 489.7h0M353.8 488.3h0M353.2 488.2h0M352.5 487.2h0M353.3 488.3h0M371.2 531.8h0M371.1 532.5h0M371.2 530.0h0M371.9 529.3h0M401.7 573.8h0M400.7 573.3h0M398.6 626.1h0M399.4 624.7h0M399.1 626.2h0M400.5 627.5h0M400.5 627.3h0M428.4 539.4h0M428.8 536.9h0M429.7 540.0h0M428.2 539.3h0M429.0 538.7h0M430.2 538.2h0M353.0 455.4h0M353.9 455.4h0M419.2 547.4h0M419.9 546.0h0M418.0 485.7h0M434.7 514.2h0M433.4 515.6h0M436.0 517.5h0M434.9 517.8h0M371.6 532.1h0M436.7 467.3h0M348.2 472.7h0M353.1 524.7h0M374.0 461.7h0M374.6 460.6h0M373.9 462.6h0M374.0 461.9h0M365.4 489.3h0M366.2 488.0h0M364.7 490.4h0M364.5 489.1h0M361.0 493.5h0M360.8 492.9h0M436.4 494.8h0M402.6 451.0h0M412.7 559.0h0M411.0 535.0h0M411.8 535.3h0M351.3 463.8h0M352.0 462.9h0M366.3 588.9h0M389.9 562.5h0M389.8 562.4h0M388.7 563.3h0M390.7 563.5h0M386.3 562.7h0M418.8 478.6h0M419.6 481.0h0M418.6 479.0h0M420.0 478.3h0M376.7 628.2h0M375.0 549.1h0M374.9 548.0h0M376.2 548.3h0M369.4 439.3h0M368.6 440.2h0M353.5 457.9h0M400.7 623.9h0M399.3 625.5h0M399.3 625.1h0M426.8 518.4h0M350.9 481.6h0M351.9 481.6h0M350.4 481.8h0M351.0 481.4h0M350.2 482.0h0M390.8 561.3h0M393.8 501.8h0M394.1 503.7h0M389.8 507.0h0M389.4 508.5h0M424.3 512.1h0M425.5 511.6h0M400.8 533.9h0M400.8 532.2h0M357.5 513.0h0M424.9 501.7h0M379.4 552.3h0M418.8 539.2h0M419.9 538.6h0M419.7 540.9h0M388.4 576.6h0M387.6 574.8h0M387.7 575.6h0M390.3 576.4h0M389.4 576.2h0M430.8 599.4h0M429.7 601.1h0M430.5 601.6h0M419.2 541.1h0M350.3 481.7h0M350.5 482.4h0M350.1 483.0h0M368.9 466.9h0M390.9 521.2h0M393.1 520.0h0M389.7 522.6h0M390.0 521.9h0M390.2 521.0h0M375.4 444.6h0M427.9 541.5h0M427.7 540.6h0M368.2 601.1h0M369.3 600.4h0M369.1 601.9h0M392.7 496.0h0M392.9 496.1h0M424.6 463.9h0M422.2 464.5h0M414.6 557.6h0M413.1 559.3h0M414.6 557.8h0M413.0 555.8h0M393.6 548.0h0M360.1 498.7h0M361.9 499.7h0M403.3 611.8h0M403.7 550.7h0M404.3 549.2h0M413.6 521.5h0M412.4 521.5h0M384.8 581.3h0M356.8 488.1h0M411.8 546.3h0M376.4 587.1h0M355.9 496.1h0M354.0 496.0h0M355.2 494.8h0M354.9 496.6h0M355.0 497.9h0M380.6 567.6h0M380.0 565.9h0M381.0 566.5h0M408.0 563.1h0M418.0 468.5h0M406.5 498.9h0M426.0 579.5h0M425.9 579.9h0M426.5 579.4h0M372.3 461.9h0M422.8 542.5h0M421.7 539.7h0M422.2 541.2h0M422.1 539.6h0M422.5 540.2h0M380.3 630.7h0M379.1 630.8h0M369.6 553.1h0M386.2 564.7h0M387.4 565.0h0M385.6 566.8h0M380.0 443.6h0M380.5 443.5h0M378.9 443.7h0M380.4 443.4h0M371.7 482.8h0M371.7 483.5h0M372.0 481.4h0M380.2 444.6h0M378.5 444.1h0M358.0 479.7h0M420.6 501.6h0M422.4 501.7h0M421.5 502.2h0M418.5 516.2h0M391.0 540.6h0M405.6 507.5h0M371.4 515.4h0M341.0 444.4h0M352.6 542.0h0M389.9 484.3h0M388.0 486.5h0M390.2 485.6h0M382.2 604.9h0M362.6 470.2h0M363.9 470.7h0M363.1 472.5h0M362.5 468.4h0M363.5 469.8h0M376.2 574.4h0M381.6 559.0h0M372.3 506.9h0M399.3 639.8h0M356.6 554.4h0M353.3 512.7h0M375.1 549.4h0M374.9 549.6h0M373.6 548.4h0M377.4 538.2h0M377.3 536.7h0M377.1 539.2h0M377.0 538.9h0M379.1 537.9h0M362.6 475.9h0M434.0 562.9h0M433.9 564.2h0M434.3 564.9h0M433.2 561.8h0M433.2 561.7h0M359.0 453.8h0M355.6 524.2h0M422.7 451.3h0M422.6 449.9h0M422.5 452.1h0M423.6 451.7h0M400.9 476.5h0M387.8 574.5h0M385.9 575.8h0M387.5 574.1h0M375.7 608.3h0M375.6 609.5h0M375.9 609.3h0M376.0 608.5h0M375.7 609.0h0M364.7 442.4h0M366.5 442.1h0M364.2 442.7h0M363.7 442.5h0M364.8 442.6h0M431.5 579.4h0M431.8 579.6h0M397.4 467.8h0M395.0 467.7h0M391.0 485.2h0M391.3 486.8h0M390.1 486.5h0M392.1 485.8h0M389.7 486.9h0M365.4 503.3h0M363.1 502.6h0M365.9 504.1h0M363.5 502.7h0M363.4 457.9h0M424.7 611.9h0M424.2 610.9h0M434.5 449.8h0M435.7 449.9h0M360.9 496.4h0M361.5 497.7h0M362.1 495.8h0M356.0 565.1h0M411.5 637.6h0M411.2 639.1h0M412.3 639.2h0M411.7 638.7h0M404.0 526.3h0M402.7 526.5h0M403.6 529.0h0M404.6 527.7h0M436.4 490.0h0M436.2 491.5h0M385.1 634.3h0M384.6 635.6h0M385.7 636.1h0M385.3 633.6h0M345.2 444.2h0M421.1 544.6h0M364.6 503.8h0M376.6 557.9h0M376.8 556.9h0M404.5 553.3h0M405.8 551.8h0M366.9 614.7h0M368.5 612.9h0M371.6 452.9h0M398.3 491.1h0M361.1 463.0h0M413.6 632.4h0M413.9 631.3h0M413.7 632.3h0M426.9 519.8h0M427.1 518.8h0M429.1 519.1h0M417.6 525.8h0M418.1 525.6h0M416.6 526.0h0M431.7 473.6h0M391.1 636.6h0M392.1 637.6h0M386.6 556.4h0M386.7 554.6h0M386.7 553.0h0M387.4 556.5h0M386.9 556.3h0M414.6 511.0h0M414.8 511.7h0M414.6 511.3h0M400.6 556.1h0M401.2 556.9h0M401.9 556.4h0M400.9 557.1h0M399.4 554.5h0M394.6 465.7h0M395.6 463.8h0M360.8 524.8h0M360.6 522.2h0M348.3 515.6h0M380.3 587.4h0M397.1 563.8h0M396.7 565.5h0M396.9 564.4h0M406.0 488.8h0M406.1 488.1h0M379.8 603.9h0M381.4 603.4h0M379.0 603.6h0M366.2 569.6h0M365.2 568.8h0M348.2 454.3h0M370.4 478.0h0M425.1 625.1h0M424.6 626.0h0M407.4 625.9h0M407.8 625.5h0M409.6 625.9h0M407.9 627.5h0M407.9 627.2h0M370.6 515.2h0M379.2 544.6h0M379.1 544.6h0M397.6 516.8h0M389.4 474.1h0M390.7 472.9h0M360.2 477.5h0M404.3 559.9h0M436.5 460.9h0M436.1 462.1h0M437.0 460.7h0M435.8 460.4h0M435.2 461.4h0M389.8 505.6h0M435.1 517.6h0M435.2 516.8h0M435.2 517.8h0M351.7 515.9h0M352.9 513.8h0M352.7 517.5h0M350.6 515.3h0M353.2 517.4h0M413.9 600.4h0M415.2 600.7h0M428.8 586.0h0M429.9 584.2h0M426.6 587.7h0M419.4 466.1h0M395.8 556.9h0M395.7 525.6h0M352.1 511.1h0M350.3 511.1h0M354.3 510.6h0M352.0 510.0h0M352.4 511.9h0M427.4 509.5h0M426.7 509.0h0M411.9 613.7h0M411.8 613.8h0M431.9 543.9h0M432.9 544.1h0M377.6 575.9h0M374.3 601.0h0M385.3 451.3h0M384.5 451.6h0M386.1 452.7h0M384.7 451.5h0M385.5 450.6h0M383.2 544.8h0M392.7 571.3h0M392.8 571.2h0M377.7 461.8h0M376.8 463.1h0M393.9 561.9h0M392.5 562.7h0M396.2 561.9h0M395.3 560.3h0M395.4 561.5h0M365.9 455.0h0M425.9 525.2h0M416.9 579.5h0M416.8 581.5h0M372.9 468.1h0M350.9 442.5h0M350.4 441.5h0M408.9 556.8h0M409.3 555.8h0M408.5 557.6h0M409.1 557.1h0M409.1 558.5h0M385.8 551.6h0M386.6 552.0h0M404.8 457.4h0M404.6 456.9h0M403.2 459.4h0M393.1 554.9h0M393.5 557.1h0M392.6 555.1h0M416.2 558.1h0M432.9 529.0h0M362.5 465.2h0M373.8 584.0h0M373.4 583.0h0M373.8 583.6h0M417.3 621.7h0M365.3 480.5h0M366.3 584.6h0M366.2 584.7h0M390.9 517.2h0M392.4 516.3h0M389.5 517.2h0M389.4 516.9h0M401.1 586.8h0M400.4 585.7h0M403.3 585.4h0M427.2 515.2h0M428.0 517.0h0M426.5 515.3h0M429.5 514.2h0M369.4 443.3h0M370.2 443.6h0M369.0 443.6h0M369.4 444.0h0M412.8 442.4h0M412.0 443.9h0M388.8 549.6h0M389.2 549.5h0M389.6 549.6h0M390.2 600.5h0M383.1 622.3h0M383.8 621.9h0M383.0 622.0h0M393.1 547.9h0M394.7 549.0h0M394.3 546.4h0M372.2 451.6h0M399.4 465.0h0M379.9 548.7h0M367.0 444.8h0M430.0 533.1h0M426.2 521.2h0M426.3 521.7h0M426.3 519.7h0M426.5 520.8h0M353.4 550.0h0M353.9 549.0h0M366.4 566.5h0M365.2 566.3h0M365.7 566.6h0M367.2 564.8h0M367.2 565.5h0M401.8 484.8h0M356.1 511.9h0M418.5 496.4h0M389.2 482.8h0M387.5 483.6h0M390.7 483.5h0M389.2 481.4h0M359.4 536.0h0M359.3 535.5h0M425.7 634.9h0M411.5 607.5h0M411.3 607.4h0M355.8 505.5h0M356.0 505.4h0M355.1 506.3h0M360.5 508.2h0M360.2 507.6h0M361.3 507.9h0M360.1 507.7h0M361.6 508.8h0M406.8 584.3h0M344.4 477.5h0M343.7 477.9h0M382.0 596.6h0M380.7 596.0h0M380.9 596.3h0M382.8 595.8h0M380.1 596.6h0M408.9 515.4h0M409.3 513.2h0M386.0 630.9h0M386.0 631.5h0M430.4 549.5h0M386.5 458.2h0M344.1 474.5h0M342.5 473.9h0M343.9 473.7h0M342.7 476.3h0M403.6 591.7h0M402.6 592.5h0M374.3 449.5h0M400.6 633.2h0M400.9 633.9h0M414.8 519.5h0M415.1 519.1h0M400.6 576.9h0M399.6 577.4h0M400.5 576.2h0M400.4 576.8h0M392.1 471.6h0M409.3 498.1h0M410.1 498.0h0M408.6 498.1h0M409.5 498.2h0M347.5 465.9h0M348.7 465.5h0M348.6 467.3h0M347.7 466.5h0M348.7 463.4h0M349.7 501.5h0M348.9 502.9h0M349.6 501.1h0M341.5 442.9h0M341.4 443.6h0M341.7 444.4h0M368.3 562.7h0M369.1 564.0h0M369.0 562.0h0M372.9 513.4h0M372.6 512.3h0M371.3 515.2h0M342.7 473.1h0M341.6 472.1h0M345.1 472.7h0M343.5 474.6h0M354.0 455.2h0M354.7 453.8h0M383.6 640.1h0M370.0 469.3h0M411.0 462.2h0M409.6 461.1h0M411.1 462.8h0M398.4 500.0h0M374.2 536.1h0M370.4 469.1h0M394.6 525.0h0M394.9 526.0h0M393.9 525.3h0M347.3 504.2h0M414.9 528.6h0M421.4 603.6h0M421.2 602.8h0M361.6 453.2h0M361.0 454.0h0M381.9 602.9h0M359.6 506.0h0M363.8 475.7h0M404.2 618.0h0M402.2 619.0h0M404.1 617.6h0M403.7 617.8h0M393.2 461.0h0M408.2 530.2h0M372.1 440.3h0M409.8 533.4h0M372.9 486.3h0M410.6 494.9h0M410.0 496.9h0M408.6 495.1h0M392.9 574.7h0M389.6 555.3h0M388.2 554.6h0M362.7 490.4h0M363.6 490.6h0M364.0 490.7h0M363.2 491.0h0M368.4 541.7h0M367.9 542.5h0M369.6 540.7h0M429.5 512.9h0M428.8 512.8h0M429.2 512.4h0M418.8 558.0h0M419.9 557.2h0M418.6 557.5h0M341.8 464.5h0M342.0 464.2h0M424.5 614.3h0M385.9 553.9h0M385.2 553.2h0M421.9 532.7h0M393.8 481.6h0M352.2 438.9h0M428.0 509.6h0M411.6 622.4h0M410.2 622.3h0M412.2 622.8h0M382.9 555.7h0M360.2 462.7h0M360.5 463.1h0M362.4 549.4h0M415.3 487.3h0M429.2 507.9h0M428.8 506.3h0M417.6 477.3h0M413.2 524.1h0M412.5 523.8h0M412.0 523.2h0M397.1 467.3h0M396.7 466.9h0M397.4 467.7h0M397.3 467.4h0M370.5 509.4h0M371.0 509.6h0M371.2 510.2h0M370.7 509.0h0M369.3 511.0h0M358.5 545.5h0M428.0 603.5h0M378.4 474.0h0M432.5 448.7h0M431.9 447.4h0M417.0 508.7h0M416.7 508.4h0M416.4 510.1h0M373.6 462.3h0M372.4 632.9h0M408.5 632.3h0M408.9 630.2h0M408.5 631.4h0M409.3 633.7h0M437.1 486.2h0M436.8 486.6h0M397.5 460.5h0M399.2 460.7h0M397.8 460.7h0M397.7 459.6h0M370.5 553.3h0M390.1 513.3h0M389.1 513.1h0M390.1 513.9h0M418.2 621.1h0M395.0 479.5h0M403.3 491.3h0M403.2 491.8h0M376.7 547.6h0M392.6 498.5h0M390.9 498.1h0M392.4 497.4h0M428.6 469.9h0M427.8 469.3h0M429.6 470.5h0M429.2 469.8h0M384.3 445.9h0M384.6 446.5h0M385.2 445.0h0M357.2 489.3h0M418.0 536.1h0M345.4 470.7h0M345.7 469.4h0M371.3 505.4h0M372.2 503.9h0M372.5 504.3h0M372.1 506.4h0M372.5 506.5h0M425.4 477.1h0M425.4 477.9h0M426.9 489.2h0M427.4 488.9h0M424.7 490.0h0M424.2 489.2h0M424.5 490.6h0M373.8 620.2h0M374.7 621.6h0M410.2 604.7h0M367.3 532.1h0M367.0 533.9h0M437.0 512.4h0M365.4 448.3h0M367.0 447.3h0M365.1 448.7h0M393.6 535.6h0M393.2 534.7h0M428.6 620.0h0M427.5 619.9h0M428.0 621.0h0M393.7 583.5h0M344.9 453.5h0M345.0 454.0h0M346.3 453.0h0M422.3 548.6h0M375.6 601.8h0M374.3 601.3h0M375.5 601.3h0M348.2 473.9h0M348.0 474.3h0M398.1 508.5h0M378.4 538.0h0M384.9 440.7h0M392.8 438.6h0M344.6 486.8h0M344.8 486.2h0M357.9 479.0h0M357.0 478.9h0M429.3 552.5h0M413.3 591.5h0M418.6 502.9h0M417.9 502.5h0M416.8 503.5h0M420.4 502.4h0M417.8 502.6h0M414.0 464.5h0M382.0 494.4h0M372.7 505.5h0M372.5 506.6h0M371.9 506.0h0M422.2 613.6h0M408.9 447.7h0M373.9 466.1h0M373.6 466.0h0M385.4 553.1h0M386.8 551.2h0M364.2 561.3h0M363.2 562.1h0M373.4 495.7h0M373.3 495.0h0M373.9 495.2h0M373.7 495.6h0M365.3 608.6h0M383.3 583.1h0M383.8 583.2h0M378.1 612.8h0M404.6 595.2h0M406.7 596.3h0M403.8 595.7h0M405.1 595.3h0M356.4 525.1h0M356.9 525.5h0M357.2 524.6h0M355.4 524.5h0M370.1 602.8h0M423.5 460.2h0M391.1 525.6h0M357.1 533.8h0M355.2 532.2h0M425.0 473.0h0M416.0 462.9h0M415.8 464.4h0M351.8 514.8h0M351.4 515.1h0M352.8 514.5h0M365.7 516.0h0M391.0 635.4h0M375.4 608.8h0M347.2 453.3h0M400.7 595.6h0M401.3 594.8h0M402.2 595.5h0M401.1 595.4h0M389.9 561.4h0M435.0 484.6h0M373.8 621.3h0M374.7 621.9h0M383.4 636.2h0M379.8 630.5h0M392.0 487.7h0M396.1 562.1h0M395.4 561.8h0M417.3 499.7h0M418.4 499.9h0M417.7 500.0h0M407.9 503.2h0M407.6 502.2h0M358.6 519.8h0M416.7 535.0h0M368.9 482.3h0M369.5 482.5h0M369.1 482.3h0M369.9 482.0h0M402.0 631.6h0M356.7 494.2h0M391.0 561.9h0M390.5 558.6h0M403.4 581.4h0M404.0 581.4h0M405.2 581.3h0M401.9 579.9h0" stroke="#bc8f8f" stroke-width="1.45" stroke-linecap="round"/>
<path d="M369.0 529.2h0M369.1 528.5h0M397.0 609.6h0M394.7 543.2h0M375.9 614.8h0M374.5 615.9h0M377.2 608.6h0M377.0 607.7h0M413.9 557.1h0M386.7 553.5h0M419.7 634.8h0M420.3 634.9h0M404.4 531.5h0M365.5 557.9h0M363.7 557.9h0M361.1 528.2h0M360.1 528.6h0M355.2 540.7h0M349.7 441.3h0M349.7 439.9h0M412.3 461.5h0M362.1 524.3h0M362.7 522.9h0M407.2 472.4h0M436.8 500.1h0M437.2 499.7h0M362.2 560.1h0M362.1 559.4h0M385.2 599.5h0M385.9 600.7h0M397.6 642.6h0M434.4 544.5h0M433.6 543.0h0M387.4 490.5h0M390.2 489.4h0M401.1 537.6h0M399.7 537.8h0M409.3 509.9h0M409.6 510.8h0M353.6 511.6h0M354.0 513.4h0M374.5 523.5h0M378.6 577.0h0M352.1 537.9h0M350.9 538.3h0M363.4 455.9h0M349.0 447.5h0M349.2 446.8h0M395.7 630.5h0M395.1 630.4h0M419.6 637.8h0M395.5 638.5h0M387.1 577.0h0M387.0 577.2h0M426.5 468.5h0M428.7 468.3h0M396.3 469.0h0M385.6 542.2h0M409.8 567.7h0M391.1 524.2h0M355.9 514.1h0M357.0 513.8h0M430.5 534.9h0M431.5 535.2h0M394.3 469.2h0M394.1 468.9h0M412.6 444.8h0M412.8 445.7h0M369.3 570.9h0M370.0 570.8h0M414.5 575.8h0M350.5 453.3h0M350.5 453.9h0M411.5 473.3h0M416.2 492.8h0M415.6 492.4h0M431.8 572.1h0M431.9 571.1h0M390.1 552.7h0M389.4 552.7h0M368.8 479.4h0M368.3 480.0h0M405.8 539.8h0M406.2 539.4h0M412.4 525.8h0M413.3 526.3h0M434.8 496.4h0M435.2 493.6h0M423.0 516.6h0M412.2 503.5h0M412.7 505.6h0M353.7 513.6h0M353.6 513.5h0M365.7 505.6h0M376.1 452.6h0M424.4 480.2h0M424.3 479.5h0M379.8 631.7h0M376.8 481.7h0M377.5 482.8h0M367.3 465.2h0M365.3 464.6h0M433.3 554.9h0M383.0 577.0h0M385.6 576.9h0M401.6 491.3h0M400.8 491.2h0M402.2 446.2h0M406.3 625.9h0M419.9 460.4h0M343.0 469.8h0M350.7 504.7h0M351.2 502.6h0M423.5 543.2h0M424.6 543.4h0M393.1 481.6h0M393.1 482.0h0M371.8 547.3h0M410.8 594.4h0M409.8 593.9h0M394.8 563.9h0M394.8 563.9h0M422.6 527.3h0M422.0 526.9h0M356.3 465.5h0M404.2 587.8h0M404.9 587.2h0M360.4 538.0h0M360.5 537.4h0M373.0 499.6h0M372.9 497.6h0M377.0 553.6h0M377.0 552.3h0M356.7 556.1h0M357.8 558.5h0M374.0 636.5h0M372.7 637.0h0M388.8 630.0h0M388.6 629.6h0M411.8 452.9h0M412.6 453.8h0M406.4 522.5h0M405.8 522.7h0M359.0 530.0h0M359.4 529.4h0M373.7 443.6h0M373.5 443.2h0M412.4 521.9h0M413.9 522.4h0M365.8 453.6h0M376.9 498.0h0M378.5 499.3h0M402.9 502.7h0M366.6 575.3h0M366.0 574.8h0M432.7 496.5h0M431.8 496.5h0M367.1 545.7h0M366.9 544.9h0M352.5 458.9h0M354.4 456.9h0M367.9 548.9h0M366.2 547.5h0M393.5 585.5h0M382.9 514.5h0M384.4 512.0h0M363.2 533.7h0M434.4 480.0h0M433.7 479.6h0M410.9 466.0h0M425.9 501.4h0M421.1 510.4h0M344.1 475.9h0M344.7 475.3h0M361.5 489.8h0M360.3 490.8h0M364.5 531.7h0M363.9 528.9h0M422.4 439.8h0M421.6 439.9h0M436.6 505.3h0M351.7 447.9h0M382.2 572.2h0M399.0 584.6h0M401.0 562.3h0M355.5 492.9h0M360.4 447.7h0M349.4 530.3h0M351.2 529.6h0M364.8 506.9h0M422.8 505.4h0M421.4 504.8h0M367.9 619.6h0M376.0 572.8h0M375.6 571.5h0M424.5 509.6h0M424.3 510.2h0M358.6 535.4h0M358.3 535.0h0M417.1 522.7h0M416.9 524.1h0M362.0 519.2h0M362.5 519.6h0M380.7 459.6h0M379.8 460.0h0M430.5 513.4h0M396.3 492.4h0M375.7 611.3h0M429.3 561.0h0M424.5 450.0h0M358.8 447.8h0M408.0 597.1h0M405.9 595.4h0M370.0 596.3h0M369.9 597.3h0M368.1 617.0h0M369.5 619.2h0M384.2 577.6h0M384.3 577.3h0M398.8 517.1h0M413.6 629.1h0M408.9 543.1h0M408.9 542.6h0M389.0 579.8h0M409.6 603.0h0M410.6 601.3h0M419.7 537.5h0M420.3 538.4h0M385.2 564.2h0M398.3 443.9h0M398.8 444.1h0M423.3 572.6h0M422.8 572.8h0M427.9 458.6h0M373.3 514.2h0M373.7 514.0h0M357.2 463.4h0M355.7 442.4h0M355.1 441.6h0M402.6 637.7h0M403.7 634.6h0M366.6 568.3h0M365.4 568.0h0M407.5 639.9h0M396.7 444.3h0M427.0 498.5h0M427.1 497.6h0M421.9 468.7h0M368.8 613.7h0M369.0 612.0h0M404.0 442.6h0M375.2 507.3h0M374.5 508.0h0M414.7 541.7h0M403.3 570.7h0M403.3 570.5h0M362.7 561.7h0M362.8 561.7h0M419.2 549.7h0M380.3 563.9h0M380.2 563.7h0M376.6 569.8h0M376.8 569.3h0M370.9 543.3h0M435.3 518.1h0M435.1 518.6h0M371.0 565.1h0M370.5 562.9h0M401.6 547.3h0M402.2 548.3h0M400.6 629.5h0M401.7 631.0h0M411.3 461.3h0M438.3 482.1h0M422.4 458.7h0M423.0 459.2h0M433.9 503.3h0M354.9 451.6h0M426.4 494.3h0M429.2 574.1h0M429.2 576.1h0M398.7 565.5h0M399.8 619.5h0M364.3 481.3h0M363.0 483.7h0M435.2 500.0h0M429.0 502.3h0M425.7 516.6h0M429.1 495.6h0M428.8 495.2h0M400.3 624.3h0M399.7 622.5h0M369.9 549.3h0M370.0 549.5h0M357.6 573.6h0M358.3 573.0h0M395.6 600.9h0M396.4 599.7h0M348.7 441.8h0M372.4 560.2h0M364.6 553.7h0M364.4 553.3h0M365.9 601.7h0M366.6 602.1h0M365.6 521.1h0M365.0 520.6h0M366.8 588.9h0M364.2 587.5h0M362.3 495.9h0M361.9 494.3h0M409.6 646.3h0M410.9 646.4h0M366.3 572.7h0M365.4 572.6h0M384.8 635.3h0M384.4 635.4h0M406.5 500.1h0M413.2 640.1h0M416.5 639.2h0M411.0 580.9h0M400.1 528.1h0M400.7 528.7h0M409.2 537.1h0M419.4 536.0h0M419.4 537.3h0M351.7 513.5h0M351.5 512.9h0M366.8 439.9h0M351.6 475.5h0M390.4 519.7h0M389.5 519.1h0M435.8 484.7h0M435.6 484.4h0M349.8 449.4h0M350.1 448.3h0M374.6 538.2h0M399.5 519.5h0M400.5 518.1h0M380.4 563.7h0M381.8 565.1h0M418.5 472.6h0M419.1 474.5h0M430.4 489.8h0M431.6 490.2h0M356.1 543.5h0M355.6 541.7h0M406.9 512.4h0M407.6 513.6h0M423.9 465.9h0M424.5 464.4h0M433.9 476.6h0M434.1 475.9h0M382.2 507.7h0M382.9 510.2h0M347.8 457.2h0M386.8 578.0h0M390.9 500.1h0M389.8 499.2h0M380.2 531.4h0M380.5 531.1h0M381.8 647.7h0M430.4 496.0h0M364.3 522.3h0M364.8 522.9h0M358.0 560.6h0M357.6 561.1h0" stroke="#ffcf00" stroke-width="1.45" stroke-linecap="round"/>
<path d="M364.3 457.1h0M363.1 457.0h0M420.3 604.6h0M421.6 605.1h0M383.5 646.8h0M383.8 647.0h0M395.9 611.3h0M404.0 518.5h0M403.8 516.1h0M392.6 632.5h0M362.6 473.5h0M361.2 472.9h0M414.1 562.4h0M413.3 561.1h0M424.2 637.0h0M423.0 636.7h0M432.9 516.8h0M437.6 439.7h0M357.1 541.0h0M354.5 542.3h0M403.7 640.2h0M403.4 639.7h0M371.1 514.2h0M371.7 514.3h0M434.2 482.6h0M430.4 491.9h0M430.7 493.2h0M390.1 518.8h0M389.3 519.0h0M399.0 525.9h0M399.0 527.3h0M413.3 506.3h0M414.2 505.1h0M384.6 508.5h0M406.4 642.8h0M366.1 502.2h0M366.1 503.0h0M382.0 601.6h0M382.9 601.8h0M428.1 568.6h0M423.2 513.7h0M426.5 560.4h0M416.4 560.3h0M416.8 559.6h0M410.3 465.9h0M383.5 582.1h0M382.5 581.9h0M367.8 519.0h0M390.5 630.7h0M391.8 631.2h0M386.3 632.5h0M433.0 514.7h0M390.2 545.1h0M392.1 544.0h0M425.6 464.0h0M424.9 465.5h0M422.5 520.5h0M422.7 520.6h0M433.7 519.5h0M374.8 475.3h0M380.6 536.6h0M380.7 537.4h0M384.7 567.0h0M386.9 566.2h0M430.7 592.3h0M430.5 591.9h0M419.7 455.2h0M373.1 467.2h0M373.8 466.6h0M409.9 489.5h0M427.9 570.1h0M427.7 570.7h0M404.6 525.8h0M403.2 526.2h0M425.5 516.6h0M358.0 535.0h0M358.5 536.3h0M368.0 528.8h0M367.6 528.8h0M414.7 514.7h0M414.7 512.2h0M376.5 607.8h0M375.3 608.4h0M376.7 492.8h0M377.1 492.3h0M376.5 598.0h0M436.6 515.6h0M391.8 633.8h0M395.9 634.9h0M412.5 630.1h0M361.4 461.3h0M362.0 461.5h0M393.3 571.2h0M410.1 544.7h0M350.8 490.7h0M404.2 503.9h0M353.4 529.6h0M353.2 531.2h0M423.3 528.0h0M395.3 467.2h0M342.9 461.9h0M381.7 575.7h0M426.2 545.7h0M385.1 515.3h0M402.8 600.4h0M428.1 496.1h0M379.0 525.4h0M378.1 525.7h0M414.1 460.0h0M413.8 458.5h0M423.7 642.2h0M402.3 524.4h0M403.9 526.5h0M390.1 611.1h0M419.3 465.0h0M417.6 463.8h0M433.3 490.4h0M432.6 489.3h0M349.5 486.5h0M350.6 485.8h0M413.0 510.7h0M412.6 511.1h0M379.2 633.0h0M380.9 634.3h0M366.9 448.5h0M367.2 448.1h0M427.6 610.5h0M430.2 493.8h0M381.4 528.9h0M380.6 531.3h0M373.4 500.1h0M425.7 524.6h0M427.9 524.3h0M417.1 499.7h0M430.3 502.6h0M429.8 508.4h0M411.4 459.8h0M411.3 459.2h0M436.5 469.1h0M438.1 468.8h0M379.6 573.9h0M394.1 443.3h0M393.7 444.0h0M425.0 502.4h0M381.9 539.9h0M428.2 517.0h0M365.3 524.3h0M423.0 439.9h0M421.5 439.3h0M422.4 495.5h0M370.9 462.1h0M370.3 462.4h0M428.3 455.5h0M430.0 454.4h0M402.3 559.2h0M401.4 557.9h0M353.3 460.7h0M352.9 462.5h0M418.6 558.2h0M419.2 558.6h0M423.2 445.2h0M423.0 446.5h0M412.5 552.6h0M424.5 609.7h0M424.2 609.1h0M395.7 630.1h0M396.4 631.6h0M377.4 639.9h0M356.3 525.4h0M355.7 525.3h0M432.4 470.8h0M357.6 563.2h0M358.7 562.5h0M433.6 442.7h0M433.3 443.2h0M431.9 530.1h0M432.7 530.2h0M362.9 452.3h0M362.0 451.7h0M403.1 603.2h0M404.1 603.2h0M383.8 545.4h0M383.8 544.6h0M415.4 526.4h0M415.3 525.4h0M415.0 492.5h0M414.3 492.0h0M400.8 506.1h0M399.7 504.3h0M352.1 509.8h0M354.1 510.3h0M408.5 501.9h0M378.6 520.7h0M379.3 523.2h0M402.6 546.9h0M429.8 489.3h0M430.1 488.0h0M430.9 468.6h0M430.0 469.6h0M371.4 569.8h0M372.2 569.7h0M400.3 459.4h0M399.1 460.0h0M394.4 561.8h0M380.4 646.1h0M378.5 645.4h0M393.4 619.5h0M414.1 611.4h0M413.9 612.5h0M386.0 643.4h0M366.1 442.7h0M365.3 442.6h0M408.1 443.7h0M392.4 630.5h0M393.3 631.7h0M425.2 462.3h0M366.5 613.9h0M367.2 613.8h0M418.4 615.7h0M399.5 500.7h0M399.1 501.3h0M404.2 480.0h0M414.9 552.1h0M415.1 552.1h0M394.4 613.0h0M393.4 613.5h0M436.4 440.7h0M436.5 440.6h0M395.9 619.5h0M398.3 619.0h0M383.6 618.8h0M416.2 643.9h0M402.1 495.0h0M430.3 512.3h0M428.6 512.2h0M350.8 497.5h0M350.9 497.5h0M409.0 503.7h0M368.9 555.0h0M412.2 474.4h0M411.7 475.2h0M391.0 507.7h0M391.5 508.8h0M418.1 507.4h0M418.7 506.1h0M396.4 613.9h0M397.1 614.1h0M389.3 575.8h0M402.8 445.7h0M402.3 445.6h0M399.5 639.2h0M399.9 641.2h0M414.1 591.0h0M414.5 590.3h0M365.8 480.5h0M387.8 442.0h0M389.0 441.2h0M422.4 511.7h0M429.8 553.5h0M387.0 606.6h0M387.2 607.0h0M431.5 443.9h0M431.2 442.8h0M362.0 489.1h0M369.1 616.8h0M405.6 537.6h0M404.7 525.9h0M405.4 527.5h0M420.2 581.6h0M355.8 448.3h0M354.5 448.1h0M425.7 603.8h0M425.8 603.8h0M371.5 570.5h0M357.5 528.4h0M357.4 528.9h0M391.9 572.1h0M391.9 572.1h0M403.4 442.0h0M344.8 457.6h0M344.8 458.0h0M421.4 451.2h0M419.2 450.8h0M362.2 572.9h0M361.9 572.6h0M406.4 493.4h0M407.3 492.6h0M396.3 626.2h0M395.2 626.9h0M426.9 440.0h0M426.5 439.6h0M434.1 542.4h0M434.7 542.2h0M374.3 518.7h0M374.7 519.2h0M420.6 628.0h0M419.7 626.7h0M368.4 524.7h0M433.1 525.5h0M429.4 543.4h0M428.7 540.6h0M402.3 461.0h0M402.8 460.5h0M425.2 517.4h0M408.0 499.3h0M407.0 499.7h0M407.9 549.8h0M406.3 550.5h0M362.1 478.3h0M362.3 481.6h0M391.9 573.8h0M391.2 573.6h0M374.6 459.6h0M375.9 459.0h0M361.6 453.2h0M429.8 517.0h0M429.2 517.2h0M391.5 464.1h0M389.8 463.0h0M376.2 629.7h0M430.3 476.4h0M395.9 496.2h0M393.2 571.5h0M369.8 558.4h0M368.3 559.1h0M380.4 483.7h0M379.7 483.8h0M426.5 486.2h0M407.2 520.9h0M406.3 520.8h0M360.9 544.8h0M406.2 510.8h0M423.7 514.4h0M416.2 629.8h0M415.5 631.3h0M406.9 524.9h0M410.9 604.6h0M412.6 606.6h0M403.6 570.3h0M367.2 595.6h0M367.7 595.0h0M363.5 560.8h0M360.4 560.6h0M377.0 550.2h0M376.6 549.9h0M376.9 491.6h0M389.5 642.2h0M388.0 641.6h0M410.8 563.3h0M411.6 564.0h0M417.0 471.6h0M428.9 468.4h0M429.1 467.6h0M363.7 440.4h0M388.0 517.4h0M371.1 624.0h0M374.4 623.1h0M357.2 440.4h0M357.6 440.6h0M435.8 441.3h0M374.7 517.9h0M376.3 517.5h0M355.0 554.3h0M427.4 553.3h0M426.7 554.0h0M417.8 502.9h0M388.2 489.8h0M419.7 443.7h0M415.0 572.6h0M359.7 472.0h0M358.3 471.9h0M403.8 579.2h0M433.7 498.1h0M433.2 498.3h0M417.1 608.9h0M375.8 491.3h0M390.6 546.7h0M370.0 509.5h0M370.2 509.6h0M410.9 480.3h0M410.3 479.7h0M384.3 571.4h0M385.1 571.3h0M388.6 492.6h0M388.9 492.8h0M367.3 530.1h0M367.4 529.8h0M423.4 507.4h0M387.9 621.0h0M388.8 621.7h0M430.8 549.1h0M418.1 591.7h0M432.7 494.9h0M432.5 495.4h0M378.6 469.1h0M378.3 469.2h0M381.3 558.4h0M357.0 525.5h0M357.7 524.7h0M373.6 504.0h0M373.9 505.3h0M405.7 499.0h0M404.9 500.9h0M378.8 465.5h0M379.8 464.2h0M409.2 439.4h0M408.8 440.2h0M373.4 484.2h0M372.0 546.0h0M398.5 636.1h0M398.6 636.6h0M357.1 450.1h0M390.1 570.6h0M390.9 571.6h0M372.5 517.3h0M419.0 525.9h0M418.9 525.6h0M401.3 636.4h0M436.6 470.2h0M435.3 470.2h0M416.2 573.9h0M392.5 584.3h0M431.6 463.5h0M432.2 462.8h0M395.0 601.8h0M363.4 514.3h0M362.5 512.2h0M380.0 511.9h0M379.7 511.3h0M365.9 602.4h0M404.0 641.6h0M402.8 641.7h0M424.6 460.6h0M368.9 579.4h0M363.0 475.9h0M384.5 466.5h0M436.6 507.2h0M398.3 555.7h0M347.6 452.6h0M346.0 453.8h0M389.4 622.3h0M390.1 622.6h0M394.6 538.5h0M393.7 538.8h0M435.4 447.8h0M436.9 448.1h0M419.6 576.2h0M419.3 575.7h0M407.8 539.9h0M396.5 540.9h0M414.5 515.9h0M413.7 517.1h0M378.8 464.8h0M401.4 542.7h0M401.0 543.5h0M424.0 555.1h0M425.0 557.2h0M420.9 626.7h0M418.9 627.4h0M386.3 459.7h0M386.7 460.0h0M439.4 461.9h0M425.8 530.6h0M424.9 531.4h0M433.8 513.7h0M434.8 449.5h0M436.9 449.5h0M422.4 548.8h0M373.3 594.1h0M372.5 595.0h0M366.3 538.4h0M409.8 555.4h0M408.6 553.9h0M384.2 532.1h0M383.4 532.4h0M360.5 442.7h0M360.6 442.8h0M417.4 641.3h0M418.0 640.0h0M405.0 543.0h0M427.0 500.2h0M427.0 501.5h0M417.6 472.6h0M399.8 617.9h0M401.0 616.3h0M391.2 467.4h0M413.3 621.6h0M408.5 546.0h0M407.2 545.6h0M404.4 621.1h0M430.8 598.5h0M431.4 599.5h0M382.8 569.8h0M416.4 620.7h0M393.4 644.7h0M398.8 452.1h0M399.4 452.2h0M396.6 488.5h0M397.6 489.0h0M380.5 607.5h0M380.7 606.5h0M401.0 504.6h0M399.6 505.8h0M385.1 639.5h0M386.9 640.0h0M377.9 498.8h0M377.0 498.2h0M403.5 566.3h0M383.7 506.3h0M384.3 506.6h0M385.2 552.1h0M385.2 552.5h0M414.4 568.8h0M429.7 558.4h0M428.5 556.9h0M431.8 556.3h0M430.2 556.4h0M422.8 484.2h0M422.6 486.7h0M358.7 507.9h0M357.4 509.5h0M374.2 580.3h0M423.5 632.4h0M422.2 633.8h0M416.4 571.5h0M353.1 543.7h0M385.4 631.3h0M391.7 535.5h0M424.5 493.6h0M421.9 494.1h0" stroke="#1010e0" stroke-width="1.65" stroke-linecap="round"/>
<path d="M435.1 534.9h0M384.3 503.4h0M396.9 616.1h0M380.5 485.7h0M437.3 485.8h0M376.3 440.8h0M355.9 439.3h0M385.1 544.8h0M395.7 546.2h0M412.3 491.9h0M416.8 471.6h0M393.8 531.0h0M433.3 463.7h0M374.0 477.2h0M369.5 566.1h0M434.2 548.7h0M411.1 449.3h0M392.5 457.1h0M365.7 462.3h0M426.1 556.4h0M399.6 538.8h0M382.8 580.6h0M377.7 594.3h0M359.4 564.1h0M418.0 543.2h0M422.2 560.9h0M375.6 605.1h0M363.0 499.1h0M410.6 639.3h0M370.6 456.2h0M356.7 454.5h0" stroke="#20c8f0" stroke-width="1.45" stroke-linecap="round"/>
<path d="M348.5 520.3h0M371.9 467.8h0M372.5 593.2h0M431.7 570.0h0M413.4 509.0h0M353.3 464.7h0M412.8 529.4h0M361.0 493.2h0M413.8 527.5h0M369.4 493.4h0M413.6 512.6h0M419.5 549.4h0M395.9 453.3h0M370.0 556.5h0M378.6 626.7h0M368.4 558.6h0M422.9 527.6h0M433.4 510.0h0M397.5 478.5h0M387.3 591.7h0M363.1 537.8h0" stroke="#f0208a" stroke-width="1.45" stroke-linecap="round"/>
<path d="M530.1 535.6h0M563.7 507.8h0M565.0 530.1h0M633.2 597.8h0M632.7 597.1h0M573.7 587.1h0M628.1 580.9h0M655.7 466.8h0M656.2 467.0h0M653.3 467.4h0M647.0 491.0h0M648.4 490.0h0M486.3 468.3h0M485.0 467.9h0M535.3 513.3h0M610.8 443.4h0M611.3 444.4h0M609.9 443.8h0M610.9 442.2h0M664.3 490.1h0M637.8 570.3h0M636.9 570.6h0M625.4 611.4h0M625.0 609.3h0M625.8 613.3h0M625.8 611.1h0M665.8 448.2h0M664.6 448.9h0M622.3 600.0h0M622.7 600.4h0M526.4 502.2h0M562.5 492.1h0M561.1 490.0h0M563.5 493.3h0M563.9 492.0h0M561.6 493.5h0M556.5 483.9h0M601.2 459.8h0M584.2 450.1h0M583.2 450.1h0M641.6 561.2h0M587.1 596.8h0M643.4 505.9h0M607.8 495.0h0M651.8 480.6h0M653.3 479.9h0M653.4 479.6h0M651.3 481.3h0M651.9 481.4h0M544.6 563.7h0M630.1 559.9h0M578.5 438.7h0M578.5 438.9h0M579.4 438.6h0M578.9 438.7h0M492.4 533.5h0M614.7 565.0h0M613.8 565.9h0M633.6 553.7h0M639.3 562.9h0M639.7 562.3h0M587.9 586.9h0M587.2 586.3h0M565.4 546.3h0M566.6 546.5h0M541.0 461.7h0M542.4 460.5h0M539.7 463.4h0M541.2 462.4h0M567.6 496.4h0M592.2 554.2h0M591.3 553.9h0M591.5 551.9h0M636.3 446.8h0M634.2 522.9h0M660.5 581.5h0M559.8 566.1h0M559.1 566.4h0M558.8 533.2h0M558.4 534.2h0M625.3 595.6h0M556.8 531.9h0M590.9 512.9h0M592.4 513.0h0M591.1 512.1h0M590.7 513.7h0M625.9 425.3h0M494.6 482.4h0M657.1 560.9h0M565.8 480.9h0M566.0 480.8h0M565.4 479.4h0M506.1 551.1h0M619.2 570.3h0M620.9 570.5h0M619.5 588.2h0M621.0 586.5h0M620.9 587.1h0M619.0 588.8h0M614.9 499.3h0M568.3 554.0h0M568.5 552.9h0M565.8 553.3h0M568.2 553.8h0M579.0 550.1h0M559.8 455.5h0M633.4 464.9h0M654.4 595.7h0M636.0 592.1h0M564.6 569.7h0M642.2 598.2h0M564.8 565.8h0M565.6 564.2h0M471.7 473.3h0M632.0 578.0h0M660.0 444.4h0M562.4 500.3h0M662.8 488.9h0M663.7 489.5h0M579.6 570.5h0M580.6 570.0h0M577.4 572.2h0M579.5 570.5h0M646.7 494.9h0M647.9 495.9h0M580.6 545.8h0M582.3 546.1h0M645.7 573.4h0M617.9 564.1h0M618.4 565.0h0M534.6 543.8h0M534.0 542.0h0M535.4 544.8h0M623.6 622.2h0M513.8 469.6h0M538.6 520.2h0M538.1 519.7h0M548.1 474.5h0M504.0 537.1h0M583.8 531.6h0M583.1 531.6h0M620.2 487.0h0M528.3 482.7h0M528.1 482.6h0M505.9 526.1h0M596.7 526.5h0M529.3 555.3h0M576.1 475.0h0M601.5 534.5h0M600.5 534.3h0M638.1 552.5h0M637.2 553.3h0M639.0 552.9h0M636.9 552.0h0M571.2 584.2h0M569.4 584.5h0M618.2 518.2h0M647.8 499.1h0M600.6 516.4h0M602.6 515.9h0M652.5 568.2h0M651.7 569.0h0M652.9 569.1h0M653.5 569.0h0M583.3 578.1h0M584.5 577.9h0M602.5 585.1h0M602.7 586.5h0M602.2 544.6h0M546.2 575.8h0M544.3 575.0h0M546.4 577.1h0M545.7 574.4h0M590.4 557.9h0M591.1 555.8h0M537.4 505.5h0M623.1 538.4h0M578.2 501.1h0M644.5 505.6h0M651.0 585.5h0M664.7 556.5h0M664.4 557.5h0M663.8 554.3h0M625.0 606.0h0M625.8 606.7h0M635.2 442.2h0M637.1 424.8h0M617.9 538.2h0M618.0 540.0h0M617.2 536.9h0M629.3 558.3h0M556.8 460.1h0M557.4 459.9h0M645.6 595.2h0M557.5 527.9h0M607.7 561.5h0M607.3 562.6h0M623.7 445.6h0M624.6 446.3h0M624.2 446.0h0M623.4 445.7h0M622.8 445.3h0M554.0 507.9h0M553.4 508.6h0M554.7 507.1h0M553.3 507.7h0M601.4 484.5h0M603.2 486.3h0M536.8 454.6h0M536.8 454.3h0M536.1 455.2h0M537.6 455.0h0M535.7 454.6h0M531.3 514.8h0M531.5 514.3h0M638.5 437.9h0M638.6 438.3h0M647.1 441.3h0M645.4 440.5h0M665.3 627.0h0M664.8 627.7h0M664.6 626.4h0M563.7 568.5h0M561.5 569.4h0M565.3 567.1h0M564.1 568.6h0M563.8 568.4h0M645.5 550.9h0M646.9 548.9h0M562.3 520.4h0M564.9 521.6h0M609.0 600.4h0M549.1 506.6h0M653.0 529.0h0M652.9 528.6h0M560.0 533.4h0M650.8 506.2h0M641.9 611.0h0M517.5 483.3h0M561.7 515.4h0M558.7 448.4h0M555.7 488.4h0M554.8 487.0h0M557.6 489.0h0M555.5 488.7h0M630.5 459.4h0M620.0 459.1h0M564.6 540.1h0M650.3 609.8h0M650.3 610.9h0M506.6 478.5h0M508.2 478.1h0M507.6 479.4h0M505.5 479.4h0M566.0 523.1h0M659.4 546.2h0M657.7 546.6h0M658.5 546.0h0M617.6 555.6h0M617.1 556.2h0M617.8 555.8h0M617.4 555.8h0M553.0 467.4h0M530.5 547.8h0M665.1 517.4h0M601.0 521.1h0M649.5 466.8h0M595.7 492.8h0M587.8 586.8h0M650.1 598.5h0M651.3 598.3h0M651.3 597.0h0M616.5 495.9h0M578.4 572.6h0M579.1 571.7h0M579.8 502.2h0M615.9 529.9h0M616.2 530.8h0M615.1 529.2h0M598.2 591.3h0M597.7 592.1h0M617.0 438.0h0M646.0 457.5h0M601.4 512.7h0M600.5 512.8h0M600.5 512.8h0M588.3 508.7h0M647.5 485.1h0M629.0 472.8h0M629.6 472.2h0M634.6 541.4h0M642.3 630.7h0M643.0 631.3h0M631.5 436.6h0M631.2 437.0h0M601.2 546.9h0M516.6 457.6h0M570.5 509.2h0M569.1 507.9h0M596.5 602.7h0M597.9 528.5h0M597.0 529.0h0M598.3 530.1h0M598.0 527.5h0M640.7 575.2h0M641.5 573.2h0M643.0 574.6h0M628.0 567.4h0M626.7 568.4h0M629.2 567.8h0M622.4 486.3h0M622.3 488.0h0M621.8 486.5h0M597.0 533.7h0M617.6 540.9h0M659.5 419.0h0M575.8 478.7h0M577.6 477.6h0M566.7 448.0h0M512.6 524.7h0M636.7 573.3h0M513.1 566.2h0M513.3 567.0h0M624.7 592.1h0M594.3 539.5h0M594.8 540.2h0M595.0 540.0h0M666.6 424.0h0M666.8 422.6h0M579.6 537.5h0M612.6 569.1h0M607.8 540.4h0M608.4 541.5h0M607.3 542.9h0M607.4 538.9h0M608.0 541.6h0M640.8 475.1h0M640.8 472.5h0M639.3 474.5h0M651.3 431.6h0M652.2 431.7h0M651.8 431.8h0M651.3 431.2h0M601.6 460.5h0M601.1 564.6h0M503.9 472.1h0M504.0 471.5h0M641.6 522.3h0M640.7 521.3h0M642.1 519.9h0M641.5 521.2h0M642.5 523.6h0M617.0 555.4h0M646.5 561.4h0M647.1 559.6h0M646.4 561.0h0M513.7 565.0h0M513.6 563.0h0M614.2 520.7h0M613.3 520.4h0M614.8 520.1h0M596.5 543.2h0M596.4 543.3h0M480.2 476.3h0M479.4 475.5h0M633.8 561.5h0M622.7 547.0h0M620.1 545.8h0M553.1 509.6h0M605.8 443.4h0M605.1 442.4h0M605.0 444.2h0M606.2 442.1h0M663.1 552.6h0M573.5 489.7h0M573.4 576.5h0M482.2 473.9h0M616.7 618.6h0M617.0 619.8h0M614.5 620.3h0M619.9 617.8h0M619.0 617.9h0M565.1 534.0h0M517.4 560.1h0M517.5 560.0h0M629.2 598.5h0M630.7 597.1h0M549.9 540.8h0M549.6 541.5h0M640.0 595.2h0M639.8 593.9h0M472.3 509.5h0M622.9 592.7h0M669.7 608.1h0M669.1 609.2h0M567.4 522.8h0M557.4 511.0h0M612.0 587.5h0M536.3 449.8h0M537.2 449.9h0M653.0 505.5h0M652.7 506.2h0M653.9 505.7h0M638.4 508.9h0M650.0 539.8h0M596.0 597.5h0M640.2 428.9h0M639.8 429.7h0M602.2 585.1h0M602.5 586.6h0M621.6 525.1h0M662.4 427.6h0M589.0 536.7h0M550.2 475.8h0M548.6 475.7h0M548.4 476.0h0M550.1 474.4h0M550.1 475.7h0M531.8 482.1h0M602.2 510.0h0M644.0 511.2h0M643.6 509.6h0M642.0 511.1h0M644.2 512.6h0M646.7 510.0h0M577.8 519.3h0M577.4 521.2h0M577.1 518.4h0M664.8 611.1h0M631.7 604.6h0M631.9 604.4h0M631.7 603.3h0M551.9 580.3h0M536.0 544.8h0M535.8 545.8h0M536.3 544.0h0M535.9 545.5h0M536.6 545.5h0M632.4 527.6h0M654.0 600.7h0M654.1 601.5h0M597.8 507.9h0M598.0 507.9h0M599.3 507.6h0M650.8 579.9h0M561.0 442.7h0M638.8 482.8h0M488.8 523.5h0M487.5 523.6h0M489.4 524.0h0M511.3 486.2h0M652.8 592.3h0M652.4 590.1h0M653.8 593.6h0M537.2 455.2h0M537.8 455.3h0M559.6 497.2h0M561.2 497.0h0M560.6 499.0h0M519.9 566.4h0M518.3 566.7h0M561.5 510.9h0M561.3 510.6h0M499.3 551.2h0M586.3 503.8h0M587.1 504.7h0M620.3 607.2h0M618.7 607.5h0M658.6 537.1h0M525.1 467.5h0M626.9 561.9h0M520.0 519.0h0M520.3 516.7h0M522.2 518.6h0M597.5 603.6h0M597.9 604.4h0M596.7 603.0h0M607.5 537.8h0M512.1 476.6h0M669.6 525.4h0M668.7 524.6h0M669.2 524.2h0M559.5 459.7h0M559.7 459.7h0M650.4 568.1h0M629.1 482.4h0M628.4 481.9h0M503.6 545.4h0M590.9 435.5h0M618.8 538.6h0M619.7 540.8h0M557.0 582.2h0M557.7 582.5h0M525.6 530.0h0M525.6 529.1h0M525.9 531.2h0M646.3 558.1h0M635.0 567.4h0M619.4 473.8h0M619.3 474.4h0M619.7 472.6h0M618.6 473.8h0M620.7 473.2h0M630.2 499.7h0M629.5 498.7h0M575.9 518.0h0M668.1 597.0h0M667.1 597.0h0M648.7 618.3h0M650.4 619.5h0M647.5 619.2h0M664.3 608.6h0M551.3 460.6h0M552.3 461.6h0M580.0 532.9h0M579.7 533.6h0M579.4 532.4h0M580.4 531.7h0M547.7 498.1h0M642.8 633.7h0M642.6 634.0h0M503.3 507.5h0M652.4 444.7h0M652.9 444.3h0M651.7 443.8h0M650.5 444.7h0M652.7 444.8h0M554.6 546.8h0M554.9 547.5h0M556.8 547.0h0M593.3 523.7h0M613.7 458.8h0M621.8 434.9h0M621.5 435.7h0M656.5 635.2h0M648.5 576.0h0M649.2 575.6h0M648.8 575.1h0M526.4 484.5h0M527.1 484.8h0M527.4 486.3h0M604.2 577.2h0M603.3 576.8h0M605.2 576.2h0M608.5 553.8h0M540.6 450.3h0M662.1 467.8h0M577.4 548.5h0M579.5 546.9h0M611.0 570.0h0M612.2 570.7h0M610.9 569.9h0M609.9 571.5h0M610.9 572.3h0M542.3 556.2h0M543.3 555.0h0M641.3 596.9h0M608.3 514.8h0M609.3 516.0h0M608.3 513.6h0M608.3 513.9h0M608.0 515.9h0M636.9 623.9h0M637.0 622.0h0M516.6 540.7h0M615.9 466.4h0M615.1 466.3h0M615.4 464.4h0M618.1 605.3h0M618.0 603.5h0M617.9 605.2h0M617.6 604.1h0M617.5 604.6h0M635.9 578.9h0M543.9 509.6h0M553.8 500.7h0M624.2 521.5h0M626.1 521.9h0M579.7 498.8h0M579.5 497.4h0M665.7 436.8h0M539.8 507.4h0M541.4 507.0h0M538.7 506.9h0M541.5 508.1h0M570.1 564.4h0M479.3 542.2h0M478.7 543.4h0M479.3 544.4h0M645.0 541.7h0M513.0 500.0h0M511.6 499.4h0M515.1 499.0h0M514.1 500.1h0M647.0 453.0h0M647.9 453.9h0M646.9 453.2h0M646.6 452.9h0M617.9 584.5h0M618.2 584.9h0M657.7 467.9h0M646.2 477.2h0M623.0 457.1h0M589.2 541.2h0M485.4 466.8h0M656.4 456.1h0M656.6 456.8h0M623.1 622.5h0M640.9 537.9h0M639.9 538.5h0M640.1 537.2h0M641.5 537.5h0M641.3 536.7h0M587.3 555.6h0M559.1 540.7h0M559.8 539.4h0M624.3 567.9h0M518.0 552.0h0M623.5 467.9h0M624.5 468.5h0M469.8 519.0h0M533.9 527.7h0M534.1 526.1h0M534.5 527.2h0M546.9 503.7h0M494.4 501.0h0M495.3 499.9h0M494.7 499.3h0M494.2 501.7h0M562.6 588.4h0M581.7 523.0h0M616.3 550.7h0M650.1 578.5h0M646.2 577.1h0M651.0 580.3h0M651.4 578.7h0M649.6 577.7h0M580.7 567.3h0M578.5 566.1h0M598.0 519.9h0M597.3 521.1h0M598.9 520.0h0M597.0 519.5h0M655.9 523.8h0M656.9 523.4h0M657.0 523.8h0M656.1 524.6h0M643.3 566.5h0M539.1 549.4h0M635.3 434.2h0M571.3 549.8h0M508.2 564.2h0M510.1 566.1h0M506.9 566.0h0M623.5 457.2h0M623.9 456.5h0M622.8 456.4h0M621.5 457.9h0M608.7 495.8h0M608.2 496.1h0M607.6 431.9h0M608.6 432.1h0M647.4 494.9h0M536.8 455.8h0M623.3 567.0h0M623.6 567.1h0M604.4 607.1h0M583.2 474.1h0M583.4 472.8h0M654.5 441.9h0M657.3 442.0h0M651.4 439.5h0M655.8 440.6h0M653.0 440.3h0M590.7 577.5h0M590.9 579.2h0M590.9 578.0h0M589.4 578.0h0M591.4 577.9h0M538.7 531.4h0M646.9 558.4h0M651.6 635.7h0M651.6 636.5h0M621.1 622.7h0M584.2 574.3h0M582.5 573.1h0M584.6 575.2h0M584.5 574.1h0M607.3 481.9h0M607.9 482.2h0M606.8 482.4h0M650.7 554.5h0M667.8 501.6h0M667.1 501.2h0M668.4 501.2h0M668.0 502.3h0M666.2 502.7h0M525.5 483.0h0M526.2 483.2h0M525.8 481.9h0M653.3 560.4h0M602.0 575.9h0M603.4 575.4h0M626.5 598.8h0M544.9 555.1h0M628.7 436.1h0M545.3 524.4h0M544.5 525.8h0M574.6 447.5h0M577.1 448.2h0M575.8 446.3h0M668.1 593.2h0M540.9 548.6h0M540.0 549.0h0M635.7 587.1h0M636.2 585.6h0M649.9 515.6h0M559.6 544.9h0M559.0 546.8h0M559.7 545.5h0M639.5 469.3h0M641.7 574.0h0M636.2 479.2h0M634.9 480.8h0M605.1 550.7h0M628.9 470.2h0M629.4 470.7h0M646.3 632.7h0M647.0 633.3h0M647.4 632.2h0M548.8 518.8h0M549.0 517.8h0M649.3 560.5h0M648.1 559.1h0M584.3 503.6h0M628.4 607.2h0M627.6 607.9h0M657.7 503.1h0M657.6 501.5h0M659.3 504.2h0M657.6 503.8h0M597.3 557.6h0M579.7 468.9h0M579.3 467.5h0M495.7 480.1h0M521.3 502.8h0M521.8 503.1h0M521.1 502.5h0M522.3 504.3h0M646.1 471.9h0M645.6 471.9h0M486.8 468.9h0M487.2 467.8h0M487.1 468.1h0M589.4 576.4h0M588.7 575.0h0M637.1 436.2h0M636.4 435.6h0M639.0 436.2h0M513.5 530.2h0M594.1 512.3h0M596.4 511.8h0M600.0 536.1h0M654.4 473.4h0M659.3 506.0h0M660.7 506.9h0M661.2 505.0h0M659.3 505.5h0M659.4 503.8h0M507.8 460.4h0M578.6 518.2h0M579.0 518.8h0M641.1 462.8h0M500.9 550.6h0M516.0 513.3h0M514.4 514.6h0M559.4 500.1h0M598.9 591.8h0M599.8 592.3h0M599.1 592.4h0M599.2 591.0h0M598.6 592.4h0M581.6 547.0h0M668.3 481.0h0M583.3 598.2h0M527.6 543.7h0M527.6 541.7h0M525.6 546.0h0M582.3 515.7h0M582.9 515.5h0M638.7 617.7h0M587.7 541.3h0M584.2 541.9h0M615.7 604.8h0M617.0 605.3h0M616.6 604.6h0M616.5 604.7h0M592.6 502.1h0M594.0 503.6h0M593.1 501.2h0M661.0 506.8h0M562.0 525.9h0M619.1 460.1h0M667.8 427.7h0M667.3 429.1h0M666.0 425.5h0M666.8 428.3h0M550.3 456.9h0M549.7 457.8h0M551.2 456.5h0M515.9 459.4h0M515.4 458.8h0M614.4 566.5h0M615.6 565.2h0M615.6 566.3h0M579.9 481.3h0M602.1 601.4h0M603.1 601.5h0M599.8 600.4h0M602.9 600.5h0M602.8 600.6h0M608.6 548.9h0M594.7 556.1h0M595.1 556.9h0M594.2 557.5h0M620.0 589.6h0M620.4 589.9h0M620.8 590.7h0M619.3 588.0h0M505.9 566.0h0M506.9 566.2h0M556.8 496.3h0M533.4 543.0h0M553.7 529.3h0M554.5 529.6h0M554.9 530.9h0M634.4 528.0h0M633.9 527.4h0M567.0 515.9h0M567.1 516.6h0M566.5 517.4h0M566.3 517.0h0M565.2 515.1h0M539.0 468.0h0M609.2 453.6h0M551.3 533.4h0M654.0 440.0h0M634.4 544.5h0M575.0 526.9h0M574.7 527.9h0M575.5 525.8h0M648.6 610.8h0M648.0 610.3h0M537.1 558.8h0M536.8 560.4h0M661.6 485.3h0M538.9 492.1h0M541.2 493.3h0M537.0 491.6h0M633.9 577.0h0M642.4 582.4h0M640.5 581.7h0M586.6 569.8h0M559.5 530.3h0M559.4 531.3h0M564.4 512.9h0M563.4 512.8h0M564.4 513.1h0M548.2 499.1h0M548.4 500.2h0M547.9 499.1h0M547.8 499.3h0M634.9 501.8h0M539.4 528.9h0M538.2 528.4h0M538.8 529.2h0M543.9 458.4h0M542.3 458.1h0M532.9 542.3h0M594.4 491.4h0M640.7 559.3h0M643.1 559.6h0M638.5 558.2h0M640.1 559.0h0M626.3 465.1h0M627.1 464.4h0M626.7 464.3h0M496.3 470.7h0M495.4 470.7h0M606.6 460.0h0M606.5 460.5h0M606.9 460.6h0M606.4 458.6h0M606.1 461.5h0M641.4 609.3h0M571.2 527.7h0M572.3 528.5h0M638.6 525.4h0M669.1 492.9h0M613.2 565.9h0M661.3 575.3h0M565.0 458.7h0M664.7 577.6h0M665.6 578.0h0M665.4 576.2h0M663.9 576.5h0M664.5 576.4h0M644.1 484.0h0M644.1 482.2h0M579.6 471.2h0M580.0 470.7h0M579.9 470.9h0M583.8 488.0h0M583.4 489.8h0M491.0 550.5h0M492.1 550.6h0M607.5 536.7h0M607.4 536.8h0M606.5 535.5h0M656.7 563.1h0M654.8 565.7h0M574.5 588.6h0M574.9 589.9h0M574.4 588.4h0M574.9 590.2h0M556.6 455.8h0M534.8 453.4h0M598.0 494.6h0M598.2 495.4h0M584.2 536.0h0M583.6 537.5h0M585.2 506.4h0M636.2 475.6h0M636.8 476.6h0M583.9 579.5h0M565.6 441.9h0M564.4 442.9h0M571.6 461.7h0M552.5 530.0h0M611.1 468.4h0M543.4 492.4h0M619.8 517.7h0M583.3 548.4h0M584.4 548.3h0M584.3 546.8h0M535.7 543.4h0M481.1 496.3h0M481.1 495.1h0M481.8 497.2h0M480.2 496.8h0M482.6 542.1h0M481.9 540.6h0M540.0 490.7h0M622.7 481.3h0M532.4 462.4h0M533.2 463.9h0M532.1 463.2h0M532.8 463.8h0M532.3 461.2h0M514.2 543.3h0M467.1 525.4h0M615.3 554.5h0M617.0 554.8h0M616.2 553.5h0M642.2 459.1h0M501.8 488.5h0M612.1 526.7h0M600.1 572.3h0M599.8 573.3h0M558.5 501.6h0M621.7 483.6h0M622.1 484.2h0M623.2 485.0h0M621.3 483.3h0M604.7 478.2h0M605.6 477.1h0M604.0 479.7h0M664.8 608.7h0M557.1 566.7h0M557.5 566.8h0M556.7 566.6h0M557.2 567.7h0M544.7 453.3h0M543.1 453.8h0M569.3 572.3h0M570.0 571.8h0M532.1 505.9h0M532.5 503.3h0M485.0 498.3h0M651.1 558.2h0M507.8 474.3h0M663.6 484.7h0M662.9 483.9h0M637.6 584.2h0M511.1 459.3h0M510.9 460.5h0M604.7 550.2h0M606.8 548.7h0M655.5 603.3h0M526.4 488.7h0M526.3 487.8h0M527.3 487.9h0M526.1 488.5h0M525.0 488.0h0M532.9 520.0h0M615.5 447.7h0M616.6 447.8h0M616.8 447.8h0M657.7 586.5h0M547.8 582.9h0M654.9 519.0h0M655.2 520.8h0M654.8 518.3h0M654.9 520.4h0M575.5 485.3h0M647.1 618.8h0M562.3 446.9h0M561.5 447.6h0M599.2 471.8h0M637.4 616.5h0M636.5 618.2h0M637.6 614.7h0M639.2 616.5h0M636.7 615.7h0M499.7 544.5h0M664.5 464.6h0M668.3 577.3h0M487.5 513.8h0M489.8 513.2h0M488.4 513.9h0M583.6 525.5h0M659.5 483.9h0M624.2 530.2h0M623.7 528.7h0M570.0 552.7h0M551.2 467.4h0M559.2 580.1h0M668.4 561.2h0M668.5 561.4h0M669.5 559.6h0M618.7 512.6h0M620.1 512.2h0M619.0 513.4h0M618.6 510.9h0M619.4 511.7h0M612.1 519.4h0M610.1 520.4h0M612.0 519.9h0M557.6 559.5h0M557.5 560.0h0M604.6 586.9h0M626.5 622.3h0M566.3 532.8h0M603.9 450.6h0M541.4 469.9h0M541.4 470.3h0M541.5 468.9h0M652.1 452.0h0M511.7 540.9h0M627.3 486.2h0M627.7 485.6h0M626.2 486.4h0M626.0 486.8h0M497.5 556.1h0M474.9 471.4h0M490.2 509.0h0M491.2 508.6h0M491.0 508.9h0M490.5 508.5h0M659.4 528.8h0M550.3 546.5h0M595.4 525.2h0M597.2 525.0h0M593.7 561.3h0M561.3 503.9h0M600.2 468.2h0M600.9 469.1h0M599.1 470.4h0M581.6 562.8h0M580.9 563.3h0M580.6 563.0h0M580.5 562.1h0M581.8 564.4h0M595.1 590.5h0M593.7 590.1h0M594.1 590.9h0M639.1 520.7h0M638.8 520.8h0M584.2 543.9h0M581.8 548.9h0M631.5 581.9h0M519.4 541.5h0M519.0 540.4h0M519.8 541.4h0M517.8 541.9h0M518.5 542.0h0M526.9 523.4h0M576.5 557.7h0M625.0 536.4h0M626.0 535.6h0M624.5 535.9h0M595.5 512.4h0M595.3 512.5h0M662.6 456.7h0M632.2 476.9h0M652.7 556.2h0M504.8 559.1h0M642.6 443.0h0M642.9 441.5h0M580.3 542.3h0M662.8 486.9h0M557.8 577.3h0M558.4 577.4h0M606.5 564.2h0M591.6 553.2h0M591.7 552.6h0M627.0 449.8h0M583.8 515.3h0M642.2 543.9h0M641.7 542.5h0M637.7 488.6h0M664.4 424.3h0M662.8 424.2h0M644.9 422.4h0M644.3 422.5h0M544.0 541.6h0M542.7 541.2h0M589.2 496.3h0M590.5 497.1h0M469.4 470.9h0M469.8 471.0h0M469.3 470.9h0M648.7 504.7h0M648.7 503.8h0M647.6 503.7h0M648.5 504.5h0M592.9 561.5h0M592.1 560.9h0M590.4 439.8h0M577.6 459.0h0M594.1 518.8h0M650.3 576.0h0M651.1 574.9h0M467.5 514.8h0M466.5 514.9h0M466.5 513.9h0M468.8 516.8h0M662.0 640.4h0M661.8 640.4h0M660.6 640.1h0M661.9 640.2h0M664.1 640.0h0M513.1 483.7h0M512.9 484.3h0M633.3 480.7h0M613.8 579.9h0M613.0 579.9h0M561.0 459.5h0M560.2 461.2h0M561.6 457.8h0M588.0 600.0h0M608.1 487.4h0M592.3 541.0h0M642.4 610.0h0M643.3 609.4h0M628.2 499.4h0M629.9 499.7h0M661.6 528.3h0M662.6 529.1h0M511.3 465.8h0M537.6 506.6h0M659.4 455.6h0M657.4 455.2h0M468.3 544.2h0M621.5 567.1h0M489.9 527.6h0M489.6 527.2h0M608.3 516.4h0M549.3 582.7h0M551.1 581.2h0M667.7 565.6h0M496.3 471.8h0M495.1 471.6h0M665.8 532.9h0M629.7 474.5h0M585.9 572.7h0M586.5 573.0h0M584.5 572.4h0M580.9 523.2h0M579.4 523.6h0M579.6 523.5h0M581.1 522.9h0M580.5 524.2h0M533.2 555.3h0M533.5 553.7h0M468.7 495.9h0M664.4 485.0h0M665.9 511.7h0M664.4 512.2h0M666.2 512.4h0M667.1 511.3h0M666.6 513.4h0M634.6 576.7h0M566.9 535.8h0M567.7 535.1h0M565.6 536.7h0M566.5 535.9h0M565.4 535.8h0M475.6 525.1h0M474.4 524.7h0M475.0 526.1h0M536.7 502.9h0M537.6 503.3h0M537.8 502.4h0M563.2 541.7h0M609.8 538.9h0M648.1 562.6h0M637.1 587.6h0M636.2 586.8h0M637.5 587.0h0M635.4 587.7h0M617.0 615.5h0M644.1 439.4h0M643.9 439.4h0M664.0 564.1h0M478.9 477.3h0M477.4 478.7h0M630.2 587.2h0M653.0 425.5h0M653.8 426.1h0M654.6 426.5h0M651.9 427.5h0M652.4 425.6h0M616.2 612.6h0M527.9 515.5h0M529.5 515.5h0M615.7 494.2h0M615.5 494.4h0M615.3 494.0h0M593.9 599.0h0M501.1 479.7h0M589.2 587.5h0M588.7 588.1h0M619.6 427.6h0M603.4 432.5h0M603.0 432.9h0M590.7 441.3h0M623.8 619.7h0M623.2 618.8h0M625.6 621.5h0M540.8 495.3h0M622.5 520.2h0M622.8 519.5h0M543.8 560.3h0M666.2 518.2h0M662.9 516.6h0M640.3 579.7h0M591.2 463.8h0M532.6 573.2h0M620.4 496.0h0M621.3 495.7h0M621.6 495.0h0M576.0 573.4h0M574.2 572.4h0M593.3 447.6h0M594.0 445.9h0M655.1 480.8h0M655.4 479.5h0M605.5 609.2h0M604.1 610.7h0M604.7 609.6h0M604.5 609.2h0M603.3 609.4h0M578.6 555.9h0M577.6 556.9h0M579.2 555.4h0M578.4 554.4h0M576.6 555.3h0M655.8 499.5h0M476.4 540.2h0M601.0 590.7h0M657.6 441.4h0M658.5 440.7h0M658.5 441.3h0M642.1 473.1h0M664.9 562.5h0M665.5 563.6h0M665.1 561.6h0M664.4 563.3h0M658.0 461.3h0M643.8 625.6h0M622.4 536.9h0M648.6 506.1h0M650.6 506.0h0M648.5 506.2h0M650.1 571.0h0M563.4 557.4h0M561.7 558.2h0M665.9 509.6h0M604.7 441.4h0M605.0 441.2h0M605.6 441.4h0M553.1 451.8h0M547.6 550.8h0M548.1 549.6h0M542.1 522.5h0M661.4 564.8h0M591.9 561.5h0M590.9 562.2h0M631.0 467.1h0M611.1 562.8h0M610.4 563.4h0M611.8 561.5h0M627.8 624.4h0M523.7 541.1h0M668.1 417.2h0M667.4 417.6h0M666.7 416.1h0M499.9 505.0h0M535.2 476.8h0M535.2 477.6h0M528.7 533.0h0M604.4 466.8h0M603.7 467.1h0M605.1 466.1h0M605.5 467.5h0M604.7 467.4h0M563.3 493.7h0M563.5 494.7h0M609.7 477.2h0M607.5 596.9h0M642.6 514.2h0M645.0 490.4h0M646.0 489.0h0M644.9 490.9h0M570.4 537.3h0M569.4 537.3h0M592.0 602.9h0M591.8 601.7h0M609.3 578.7h0M562.9 445.4h0M563.4 446.0h0M593.7 446.9h0M593.9 446.0h0M644.2 432.4h0M646.4 583.4h0M646.0 585.0h0M645.2 584.7h0M646.8 582.4h0M477.8 482.2h0M476.4 483.5h0M655.5 417.3h0M655.4 417.0h0M598.6 499.2h0M599.0 500.9h0M598.6 499.1h0M598.7 499.6h0M660.7 520.3h0M519.7 482.1h0M521.3 483.2h0M651.8 417.2h0M549.7 482.7h0M550.0 483.7h0M549.3 483.0h0M519.0 477.4h0M520.4 477.1h0M636.0 537.0h0M649.9 625.1h0M649.7 626.9h0M577.7 582.2h0M576.1 582.9h0M631.3 616.7h0M630.9 616.7h0M533.6 507.4h0M534.9 507.6h0M603.9 570.5h0M643.7 490.9h0M546.1 507.8h0M546.8 508.3h0M545.6 506.0h0M641.9 437.0h0M645.2 435.8h0M642.5 436.2h0M615.5 564.1h0M614.1 565.5h0M616.8 562.9h0M605.0 460.5h0M615.4 585.7h0M616.3 585.8h0M572.9 508.6h0M644.6 586.8h0M607.0 553.5h0M605.8 555.8h0M607.4 553.8h0M605.8 554.3h0M653.7 539.1h0M573.5 563.8h0M496.8 489.1h0M622.2 612.5h0M483.8 545.4h0M650.6 504.0h0M667.1 465.6h0M641.4 615.8h0M642.9 615.7h0M641.6 616.5h0M607.4 587.4h0M608.2 587.5h0M606.1 588.7h0M668.7 607.4h0M669.0 607.4h0M669.4 605.7h0M668.3 427.6h0M667.8 428.1h0M558.8 549.3h0M558.7 549.4h0M559.3 549.8h0M620.5 465.5h0M622.5 550.7h0M603.2 442.2h0M538.5 553.5h0M538.2 554.2h0M537.0 553.9h0M642.5 632.6h0M617.7 540.4h0M619.7 540.8h0M584.3 467.2h0M583.9 466.2h0M607.2 549.8h0M666.7 590.4h0M666.8 589.7h0M521.1 560.6h0M522.3 561.1h0M663.4 497.6h0M620.7 532.8h0M624.7 570.0h0M625.7 569.9h0M623.0 570.9h0M625.9 570.0h0M622.6 569.4h0M660.5 501.0h0M535.3 544.6h0M535.8 543.8h0M468.0 476.7h0M516.5 464.4h0M555.8 476.4h0M554.3 475.3h0M569.5 448.6h0M536.0 462.1h0M537.4 463.6h0M534.7 462.5h0M535.7 463.5h0M536.9 460.2h0M586.4 507.8h0M586.9 510.7h0M586.1 509.3h0M585.4 507.8h0M637.4 474.0h0M615.2 559.3h0M614.7 560.4h0M635.7 486.2h0M528.4 476.2h0M528.5 477.0h0M622.0 448.8h0M561.6 547.7h0M562.2 548.7h0M644.0 456.0h0M644.3 456.4h0M615.9 614.8h0M558.5 471.7h0M577.1 565.5h0M468.8 504.5h0M467.4 504.0h0M577.6 549.0h0M578.8 549.1h0M578.0 546.6h0M577.7 548.7h0M636.4 630.8h0M528.0 453.9h0M529.1 456.6h0M528.7 454.2h0M528.6 454.4h0M528.6 453.8h0M652.5 523.2h0M635.7 557.1h0M660.8 534.4h0M660.6 536.0h0M660.5 532.5h0M659.8 559.3h0M659.5 534.6h0M659.9 535.1h0M638.9 538.7h0M639.1 537.2h0M640.7 538.9h0M499.2 511.7h0M533.7 494.4h0M533.3 495.6h0M653.7 496.7h0M656.6 611.0h0M656.9 610.9h0M655.1 609.6h0M607.4 556.2h0M607.9 555.7h0M608.0 451.1h0M653.5 610.9h0M559.6 525.2h0M577.6 485.3h0M579.2 485.2h0M539.2 527.5h0M497.5 487.8h0M498.5 488.5h0M497.8 489.2h0M496.2 488.8h0M497.8 488.5h0M646.1 575.9h0M634.5 480.2h0M634.1 479.0h0M635.7 480.3h0M633.6 479.2h0M530.0 495.6h0M530.0 494.1h0M529.3 495.2h0M667.1 567.6h0M650.9 552.5h0M650.4 552.8h0M652.3 552.8h0M649.6 628.9h0M554.2 526.5h0M554.8 527.3h0M596.0 600.5h0M595.3 600.3h0M595.8 602.0h0M595.6 600.4h0M658.3 556.2h0M659.0 557.7h0M657.8 555.0h0M634.4 622.5h0M636.6 621.0h0M633.5 621.6h0M635.8 622.1h0M640.0 424.0h0M640.7 424.3h0M649.3 422.0h0M528.1 524.6h0M529.0 525.2h0M529.7 524.7h0M528.9 523.7h0M527.5 524.0h0M589.5 514.6h0M559.4 522.5h0M593.2 478.1h0M591.9 478.1h0M528.8 540.3h0M527.8 539.1h0M529.5 539.7h0M590.1 562.1h0M654.6 586.4h0M531.0 485.8h0M530.0 486.4h0M599.8 580.5h0M567.1 568.6h0M649.7 492.5h0M649.7 491.6h0M633.9 534.8h0M634.1 534.9h0M635.1 535.8h0M599.0 499.7h0M600.5 499.7h0M600.9 498.4h0M597.1 500.6h0M600.7 500.3h0M552.7 535.6h0M667.5 507.6h0M668.9 507.2h0M668.0 507.5h0M590.1 465.5h0M587.6 466.6h0M568.1 587.6h0M534.0 570.4h0M533.8 571.5h0M535.0 570.4h0M532.7 570.9h0M608.3 509.1h0M644.3 555.4h0M645.4 556.4h0M659.0 639.6h0M659.8 638.0h0M659.3 637.8h0M660.3 638.5h0M659.3 638.2h0M659.0 566.7h0M652.8 613.6h0M650.2 614.8h0M652.1 613.6h0M548.2 516.9h0M667.8 521.9h0M668.4 522.1h0M666.7 520.7h0M641.4 625.3h0M563.0 447.1h0M468.7 539.1h0M642.3 623.7h0M626.6 530.6h0M627.0 531.9h0M626.2 530.3h0M626.7 533.1h0M626.8 530.5h0M503.8 499.3h0M503.8 498.8h0M504.3 501.6h0M503.1 500.1h0M630.8 579.1h0M631.8 578.0h0M630.2 577.1h0M629.5 577.7h0M631.6 578.5h0M602.3 463.2h0M662.7 629.3h0M582.2 546.2h0M581.9 545.4h0M580.7 546.1h0M581.9 545.5h0M582.8 546.5h0M586.9 497.5h0M585.8 497.6h0M586.5 499.0h0M589.4 495.7h0M585.5 498.2h0M530.2 457.8h0M531.2 528.3h0M532.1 526.9h0M530.4 527.8h0M573.6 498.5h0M573.8 498.1h0M574.5 498.4h0M572.8 498.9h0M572.5 498.1h0M647.5 574.4h0M664.6 619.2h0M563.5 572.9h0M569.4 570.7h0M567.9 571.0h0M630.0 528.0h0M578.7 553.9h0M577.6 552.1h0M577.6 554.4h0M570.6 504.0h0M494.4 543.2h0M494.2 542.9h0M600.2 527.5h0M600.7 526.9h0M599.6 527.3h0M601.2 526.9h0M601.0 527.0h0M557.9 461.0h0M651.0 473.7h0M650.0 473.5h0M613.3 567.5h0M612.8 567.9h0M487.1 498.0h0M610.9 533.3h0M666.2 470.9h0M577.2 555.7h0M557.4 500.7h0M559.3 500.7h0M642.6 474.2h0M578.5 499.5h0M575.6 500.4h0M578.8 500.8h0M579.6 502.4h0M576.8 452.5h0M576.5 451.4h0M660.2 640.1h0M660.2 640.6h0M660.9 639.3h0M615.0 552.9h0M563.8 451.0h0M563.3 449.8h0M632.1 468.5h0M586.0 551.5h0M585.7 550.2h0M585.5 552.8h0M584.9 551.5h0M592.2 588.1h0M591.3 588.4h0M601.0 516.7h0M601.6 517.3h0M600.3 515.2h0M628.5 436.0h0M651.1 585.7h0M650.4 587.0h0M650.4 586.4h0M631.7 527.3h0M642.5 597.7h0M547.3 481.5h0M656.9 512.7h0M655.2 515.3h0M658.7 512.4h0M561.0 574.5h0M563.5 573.2h0M565.4 582.4h0M565.1 581.3h0M564.7 583.7h0M628.4 610.8h0M628.5 611.9h0M652.6 494.3h0M650.8 494.7h0M587.5 545.0h0M587.5 546.5h0M615.2 483.4h0M616.3 484.0h0M615.8 482.7h0M614.9 484.6h0M610.4 472.7h0M609.2 472.3h0M599.4 574.0h0M598.1 573.2h0M599.9 557.8h0M598.6 560.0h0M600.8 557.7h0M574.2 563.7h0M575.2 564.6h0M574.9 563.8h0M573.5 565.1h0M573.6 563.5h0M634.6 512.1h0M608.9 529.5h0M609.6 530.6h0M610.1 529.0h0M611.6 566.9h0M612.6 566.6h0M611.0 567.4h0M610.2 566.9h0M611.9 565.3h0M658.3 604.6h0M660.2 607.5h0M521.3 572.2h0M522.8 573.3h0M666.1 425.4h0M665.1 563.4h0M666.8 564.2h0M523.5 511.1h0M602.5 444.0h0M621.1 580.6h0M622.1 580.4h0M621.6 579.1h0M621.5 581.1h0M621.6 580.3h0M504.4 551.6h0M600.7 554.1h0M601.9 555.0h0M633.8 522.7h0M631.4 522.5h0M588.3 555.7h0M604.5 528.3h0M605.0 527.0h0M651.4 481.8h0M623.5 609.9h0M622.2 608.7h0M622.8 609.6h0M565.2 523.5h0M623.2 589.2h0M631.3 551.9h0M649.6 608.9h0M649.4 611.6h0M647.8 607.4h0M650.9 608.3h0M649.7 608.3h0M629.0 521.0h0M668.4 604.5h0M649.5 513.3h0M594.1 439.9h0M654.8 445.5h0M619.8 602.5h0M613.2 614.0h0M654.7 425.9h0M662.8 469.7h0M579.7 544.9h0M624.8 562.2h0M646.6 473.9h0M646.7 474.3h0M613.4 525.4h0M614.5 524.5h0M634.0 624.4h0M664.7 489.7h0M649.3 461.5h0M649.1 462.9h0M619.4 567.1h0M620.1 567.5h0M625.3 516.4h0M618.2 558.2h0M630.1 495.6h0M511.6 547.5h0M511.0 546.8h0M514.0 520.0h0M661.9 474.3h0M531.0 467.6h0M529.4 466.3h0M645.1 485.6h0M652.8 610.1h0M652.6 610.2h0M654.6 609.9h0M652.6 610.4h0M651.1 608.9h0M591.9 577.6h0M647.0 584.2h0M647.6 583.4h0M647.4 585.0h0M575.7 515.4h0M661.6 524.7h0M525.1 471.3h0M523.5 470.6h0M526.4 472.7h0M524.5 470.1h0M537.9 500.1h0M641.4 622.6h0M641.8 622.4h0M640.8 622.1h0M641.1 623.2h0M641.5 622.6h0M664.9 502.3h0M636.0 595.5h0M636.1 595.7h0M637.3 594.5h0M540.5 452.3h0M627.9 572.7h0M495.4 466.1h0M495.6 466.2h0M496.7 465.7h0M554.6 530.9h0M555.1 531.8h0M553.2 529.7h0M522.8 511.1h0M621.4 457.8h0M574.6 580.4h0M574.2 581.0h0M574.2 581.3h0M575.4 582.0h0M575.1 579.3h0M513.3 474.8h0M514.2 475.4h0M653.2 495.3h0M651.8 494.7h0M644.2 456.7h0M644.5 455.7h0M644.6 454.8h0M643.1 455.9h0M625.4 469.2h0M623.7 469.1h0M623.3 562.6h0M623.8 561.9h0M619.9 491.0h0M619.1 491.1h0M625.6 490.5h0M590.2 585.3h0M590.7 585.0h0M561.4 527.6h0M559.4 528.2h0M600.2 466.8h0M598.7 467.6h0M651.6 535.5h0M654.0 535.3h0M653.0 536.1h0M650.6 532.1h0M653.3 534.9h0M596.8 476.1h0M597.1 476.4h0M577.1 574.0h0M577.4 575.6h0M576.8 572.1h0M606.8 577.2h0M607.8 576.9h0M606.2 577.4h0M607.2 577.8h0M605.2 575.8h0M612.4 610.9h0M611.8 584.0h0M591.0 527.0h0M638.0 563.1h0M506.9 473.1h0M635.5 446.9h0M633.7 446.7h0M622.6 431.8h0M620.5 508.0h0M598.5 516.7h0M561.4 572.9h0M651.1 626.9h0M660.8 435.3h0M635.1 523.6h0M634.3 522.7h0M634.4 522.7h0M635.7 522.6h0M526.8 489.2h0M530.2 490.1h0M525.7 487.3h0M524.6 489.0h0M526.2 489.5h0M635.0 591.1h0M636.2 592.6h0M634.6 589.9h0M632.7 590.7h0M574.7 561.7h0M573.4 562.4h0M535.6 535.7h0M582.0 457.1h0M580.9 456.3h0M605.0 538.6h0M604.0 539.6h0M605.1 538.5h0M577.1 480.9h0M575.4 480.4h0M649.3 516.4h0M506.4 537.3h0M572.0 574.2h0M569.9 575.3h0M496.1 548.3h0M525.8 569.6h0M525.6 570.0h0M509.7 541.6h0M638.8 467.0h0M564.4 500.6h0M565.5 500.2h0M624.5 541.6h0M622.9 542.9h0M665.1 497.8h0M663.3 499.0h0M666.2 498.0h0M665.5 499.4h0M665.1 497.8h0M627.7 509.6h0M555.6 447.9h0M555.8 448.7h0M497.0 547.8h0M523.9 496.9h0M637.3 497.0h0M622.9 602.2h0M652.2 439.4h0M653.9 440.5h0M569.5 548.7h0M529.0 484.7h0M529.2 485.5h0M527.7 484.3h0M545.3 524.9h0M512.0 477.8h0M512.4 478.3h0M634.1 482.1h0M581.5 510.3h0M612.2 615.3h0M611.2 614.7h0M610.4 582.5h0M634.4 577.1h0M487.7 494.6h0M644.0 466.3h0M643.2 465.4h0M643.1 466.1h0M669.6 589.8h0M643.0 460.1h0M645.8 579.4h0M487.7 545.2h0M488.4 545.6h0M486.0 545.3h0M608.0 481.3h0M667.7 547.4h0M668.4 548.3h0M661.8 627.0h0M662.1 628.3h0M660.1 627.5h0M634.0 575.0h0M601.0 551.9h0M646.2 538.5h0M621.4 593.7h0M619.7 592.9h0M620.2 594.0h0M549.8 528.2h0M549.0 525.7h0M571.8 578.7h0M623.6 611.8h0M623.3 611.5h0M657.8 497.6h0M658.4 497.7h0M605.1 475.4h0M650.9 509.7h0M506.5 555.3h0M506.8 555.9h0M624.4 579.5h0M623.6 578.9h0M570.3 479.8h0M617.2 555.2h0M618.1 555.1h0M618.2 555.3h0M595.7 577.3h0M525.6 558.2h0M570.6 557.9h0M571.0 556.0h0M560.6 459.2h0M559.1 458.1h0M561.1 458.5h0M565.1 557.3h0M565.6 558.0h0M580.4 456.3h0M578.8 457.3h0M581.3 456.6h0M605.8 609.5h0M656.8 428.7h0M655.2 428.4h0M654.4 430.3h0M656.0 427.0h0M594.8 535.3h0M647.8 594.7h0M544.2 533.9h0M544.3 534.3h0M545.3 533.3h0M544.3 533.6h0M544.8 535.0h0M579.5 514.0h0M581.9 512.7h0M664.5 529.5h0M664.6 530.6h0M664.3 477.5h0M667.0 476.0h0M577.2 455.9h0M575.4 455.6h0M607.8 586.5h0M651.1 465.0h0M650.8 464.3h0M626.5 576.9h0M626.5 577.7h0M627.8 576.4h0M625.6 577.1h0M627.0 576.3h0M607.2 447.9h0M607.3 448.1h0M574.9 574.3h0M575.2 574.2h0M574.6 576.4h0M575.3 575.6h0M661.1 626.3h0M661.9 625.3h0M582.7 536.7h0M605.6 557.8h0M605.8 558.5h0M655.0 415.8h0M656.9 415.7h0M560.7 529.0h0M660.5 556.6h0M659.8 558.9h0M554.2 513.2h0M552.4 512.0h0M553.8 512.2h0M553.2 513.6h0M555.8 510.4h0M638.1 459.4h0M640.8 578.5h0M605.4 565.2h0M524.7 548.2h0M660.8 433.2h0M661.2 433.2h0M660.3 432.8h0M662.8 432.8h0M660.9 433.0h0M664.2 577.5h0M665.1 577.8h0M634.5 491.8h0M614.3 499.5h0M481.0 526.7h0M624.2 598.1h0M624.8 597.9h0M626.4 481.9h0M619.2 602.2h0M620.5 600.8h0M613.6 560.0h0M612.7 559.5h0M606.7 469.0h0M603.4 496.2h0M603.2 497.9h0M656.5 418.4h0M557.8 497.6h0M558.1 495.8h0M559.2 495.9h0M558.0 497.4h0M555.3 496.8h0M607.4 513.0h0M607.0 513.2h0M607.8 511.8h0M608.0 514.2h0M654.6 456.6h0M578.6 537.4h0M610.2 449.2h0M610.4 449.7h0M610.6 449.3h0M535.5 510.0h0M610.9 444.9h0M484.9 476.0h0M578.3 469.8h0M640.1 585.5h0M644.7 494.6h0M644.5 493.8h0M571.5 552.7h0M542.7 571.8h0M523.0 566.3h0M555.4 526.7h0M542.3 525.5h0M541.3 524.1h0M585.1 446.1h0M604.5 598.8h0M603.6 597.9h0M606.1 598.7h0M618.7 616.8h0M648.2 599.5h0M647.4 600.5h0M639.6 556.5h0M639.2 556.2h0M643.0 539.9h0M551.2 465.1h0M551.2 465.4h0M509.4 514.3h0M508.5 513.4h0M596.4 584.6h0M596.8 584.8h0M596.2 584.1h0M612.7 435.5h0M612.0 437.1h0M612.4 436.5h0M611.4 436.1h0M613.0 435.9h0M556.8 459.5h0M570.7 531.9h0M572.3 532.0h0M571.2 530.7h0M571.7 530.5h0M570.0 532.2h0M632.7 439.7h0M632.3 439.6h0M519.7 496.7h0M519.9 494.9h0M666.0 478.8h0M640.3 548.0h0M641.1 547.5h0M564.9 579.9h0M565.1 577.8h0M615.9 571.9h0M585.1 526.4h0M585.3 524.9h0M651.6 485.9h0M652.3 486.0h0M592.9 544.9h0M591.4 544.2h0M591.7 545.1h0M593.3 546.4h0M620.5 547.9h0M645.8 490.2h0M643.3 490.9h0M648.1 489.3h0M645.7 492.5h0M611.6 598.6h0M611.3 597.4h0M666.3 608.4h0M619.7 507.0h0M659.9 472.7h0M534.4 500.1h0M590.2 563.9h0M646.7 488.5h0M648.2 486.5h0M523.0 558.2h0M522.9 557.6h0M634.2 437.3h0M632.3 438.5h0M630.0 455.6h0M631.6 457.7h0M541.3 488.3h0M539.8 488.3h0M623.4 517.5h0M622.4 517.1h0M621.8 517.7h0M623.5 516.4h0M550.5 490.5h0M550.3 489.7h0M640.5 577.6h0M574.3 557.1h0M575.0 555.8h0M574.2 555.5h0M574.9 555.9h0M575.5 557.8h0M612.1 428.7h0M571.0 582.3h0M570.2 582.7h0M669.2 482.8h0M669.6 481.1h0M641.3 559.0h0M603.6 570.4h0M540.3 525.7h0M538.9 525.8h0M540.5 525.0h0M541.2 527.3h0M623.7 458.0h0M583.0 559.1h0M586.8 513.3h0M588.0 513.4h0M638.4 437.3h0M511.1 486.4h0M511.4 487.0h0M512.3 487.5h0M524.8 550.8h0M623.0 532.5h0M658.9 620.6h0M509.1 551.7h0M510.6 552.2h0M507.4 551.6h0M507.4 551.9h0M573.5 524.0h0M573.3 523.8h0M644.9 444.7h0M650.7 521.9h0M651.3 522.9h0M652.2 522.6h0M595.2 435.1h0M594.8 434.6h0M600.2 542.4h0M649.5 566.5h0M582.1 446.7h0M638.4 588.6h0M636.3 588.1h0M637.2 621.9h0M577.8 544.1h0M577.9 592.2h0M527.6 537.0h0M549.6 539.9h0M484.7 549.3h0M538.2 528.9h0M540.4 529.4h0M607.2 607.3h0M607.4 607.0h0M532.7 540.1h0M641.5 556.5h0M510.8 545.4h0M608.7 533.0h0M521.4 513.4h0M522.5 513.3h0M566.0 583.3h0M621.6 466.0h0M621.1 466.3h0M646.6 438.0h0M647.1 438.7h0M645.2 436.3h0M647.5 438.5h0M645.0 436.7h0M544.2 564.1h0M544.4 564.4h0M665.3 501.3h0M665.2 501.5h0M665.2 501.0h0M629.1 448.5h0M629.3 448.8h0M627.9 448.4h0M629.1 449.6h0M475.6 497.5h0M475.4 496.2h0M563.7 534.0h0M600.0 540.7h0M605.7 463.0h0M648.2 562.0h0M647.2 561.9h0M649.4 561.4h0M657.5 520.7h0M607.4 568.1h0M667.9 436.2h0M668.3 434.7h0M665.9 434.7h0M498.5 554.6h0M497.0 554.2h0M656.8 466.0h0M655.9 466.7h0M656.4 465.4h0M647.3 539.0h0M598.2 552.4h0M668.4 519.9h0M481.8 541.5h0M481.2 540.4h0M482.0 541.4h0M606.4 563.6h0M563.9 531.6h0M520.3 545.2h0M519.5 545.9h0M522.3 546.4h0M577.3 594.8h0M668.2 464.3h0M585.9 451.2h0M586.7 450.9h0M585.7 450.2h0M586.6 453.1h0M568.1 549.8h0M588.2 535.1h0M587.6 535.2h0M547.3 520.3h0M567.3 556.5h0M567.7 556.7h0M599.7 600.4h0M658.9 555.1h0M659.6 554.2h0M658.1 553.6h0M588.9 474.9h0M516.5 546.0h0M536.1 528.1h0M481.0 485.1h0M544.8 532.6h0M618.9 490.1h0M490.6 473.2h0M491.3 471.4h0M583.7 474.8h0M651.1 595.8h0M652.2 596.5h0M652.4 595.5h0M613.5 548.6h0M522.6 538.6h0M525.0 536.7h0M523.9 538.2h0M522.5 537.7h0M602.9 548.1h0M602.4 547.4h0M603.3 547.8h0M666.1 498.0h0M646.6 547.0h0M646.9 546.5h0M628.3 470.9h0M627.7 470.0h0M627.2 470.1h0M582.7 490.4h0M583.2 489.4h0M583.1 489.7h0M584.1 490.8h0M621.2 476.5h0M619.5 474.7h0M544.2 539.1h0M645.3 600.5h0M644.8 599.6h0M596.2 594.1h0M597.4 593.5h0M567.6 567.7h0M594.3 450.0h0M600.9 534.9h0M599.6 534.8h0M561.3 524.3h0M561.0 525.6h0M560.2 524.6h0M559.6 523.4h0M562.3 526.0h0M659.5 585.6h0M638.0 434.5h0M636.5 434.2h0M638.8 436.0h0M537.7 511.6h0M538.0 512.6h0M646.7 515.9h0M553.2 514.5h0M559.2 479.5h0M560.4 479.4h0M557.7 480.2h0M560.3 479.6h0M591.5 596.3h0M526.3 478.4h0M637.1 482.6h0M633.7 541.2h0M634.1 541.9h0M599.3 450.7h0M600.2 450.7h0M600.7 470.4h0M625.6 475.5h0M623.1 476.7h0M648.6 430.8h0M583.0 549.8h0M526.1 477.6h0M614.8 584.5h0M614.9 583.6h0M612.9 584.0h0M486.6 469.0h0M662.2 452.6h0M660.2 451.6h0M623.2 460.2h0M652.2 548.1h0M511.9 491.4h0M511.4 491.9h0M513.4 492.0h0M639.9 492.0h0M570.3 552.2h0M560.8 529.6h0M562.2 529.1h0M580.5 539.8h0M581.7 541.1h0M556.5 512.0h0M615.8 430.8h0M558.6 577.9h0M557.9 577.6h0M618.5 564.5h0M571.6 532.6h0M565.7 500.9h0M633.0 623.8h0M569.8 452.7h0M569.6 451.8h0M570.5 452.0h0M600.3 495.8h0M612.7 507.2h0M536.6 466.9h0M535.3 466.2h0M613.1 464.3h0M574.5 546.3h0M562.7 445.6h0M561.4 444.1h0M642.0 494.7h0M598.8 479.0h0M599.6 478.6h0M597.9 478.3h0M598.9 479.1h0M632.7 450.7h0M639.2 539.7h0M638.8 540.2h0M598.5 527.4h0M646.5 456.8h0M646.0 456.3h0M616.8 595.5h0M526.3 533.7h0M613.6 587.9h0M613.6 585.3h0M638.8 579.0h0M556.7 516.4h0M557.1 516.0h0M556.1 516.4h0M558.0 517.5h0M608.1 456.3h0M506.3 502.4h0M506.8 500.6h0M632.8 463.0h0M629.8 461.0h0M632.4 463.1h0M565.4 530.0h0M566.2 529.8h0M657.8 539.9h0M658.5 539.8h0M657.7 540.0h0M657.8 540.8h0M656.3 539.7h0M588.3 589.9h0M589.5 589.1h0M636.4 576.7h0M567.3 528.5h0M568.1 528.5h0M564.0 525.3h0M564.2 524.5h0M629.2 475.2h0M628.3 473.5h0M629.3 474.2h0M514.9 517.8h0M538.3 576.3h0M642.3 505.7h0M506.4 564.4h0M655.4 592.1h0M655.8 590.9h0M656.1 591.1h0M655.7 592.2h0M654.7 591.8h0M510.2 563.2h0M590.5 513.8h0M591.2 514.8h0M591.5 514.1h0M635.7 561.8h0M636.3 562.8h0M634.9 560.9h0M620.0 467.1h0M635.0 469.6h0M634.2 468.9h0M576.9 490.2h0M654.4 488.9h0M601.9 520.5h0M637.8 478.4h0M667.3 556.9h0M641.3 536.9h0M642.2 536.3h0M640.2 536.5h0M616.5 614.1h0M531.4 520.2h0M608.4 493.7h0M608.5 492.1h0M550.4 455.7h0M551.3 455.2h0M658.5 528.8h0M656.5 527.5h0M559.5 566.7h0M543.2 526.9h0M664.9 512.9h0M664.4 512.2h0M665.2 511.5h0M665.9 513.3h0M594.9 554.1h0M667.7 544.4h0M597.9 500.8h0M597.9 499.5h0M581.6 482.5h0M582.4 482.8h0M625.9 427.9h0M625.6 428.1h0M617.7 586.6h0M619.1 585.1h0M617.6 588.1h0M634.2 568.1h0M569.0 576.3h0M569.8 577.4h0M548.4 503.1h0M548.8 501.7h0M662.5 621.1h0M622.8 566.9h0M553.6 499.2h0M598.2 494.5h0M544.8 479.8h0M544.4 478.5h0M600.5 533.2h0M600.6 532.8h0M615.2 498.3h0M544.5 538.9h0M615.1 445.5h0M465.7 507.6h0M663.5 521.1h0M664.6 587.5h0M570.7 473.1h0M653.3 457.9h0M652.9 458.1h0M653.3 459.1h0M638.2 480.9h0M651.7 592.4h0M593.0 545.4h0M623.5 469.9h0M623.7 469.2h0M629.1 600.1h0M628.2 598.3h0M628.5 601.0h0M467.4 531.1h0M596.3 501.9h0M644.7 544.9h0M669.2 448.4h0M669.5 448.2h0M669.5 449.9h0M653.1 540.7h0M653.0 541.2h0M602.8 561.7h0M625.7 593.1h0M632.0 552.5h0M648.1 436.3h0M634.0 429.0h0M660.0 567.2h0M660.2 566.9h0M560.4 565.3h0M636.4 556.3h0M637.3 555.0h0M618.6 569.8h0M617.6 570.4h0M619.0 570.0h0M584.7 588.6h0M643.5 443.1h0M642.2 442.5h0M623.2 451.6h0M559.1 487.4h0M558.5 488.4h0M558.6 488.1h0M558.7 488.8h0M560.9 487.0h0M529.7 571.6h0M585.6 527.9h0M519.0 502.5h0M634.0 505.0h0M632.4 504.8h0M635.0 506.0h0M634.4 504.1h0M631.3 580.9h0M631.0 579.1h0M624.0 444.9h0M623.7 445.1h0M560.3 581.4h0M645.6 495.1h0M645.6 494.9h0M635.7 615.9h0M637.3 614.4h0M635.8 615.0h0M635.1 614.8h0M568.5 574.5h0M585.8 596.6h0M615.7 479.9h0M616.2 478.2h0M572.7 531.4h0M510.6 462.2h0M509.9 460.9h0M654.9 439.9h0M625.7 483.2h0M624.4 483.9h0M625.7 483.7h0M500.1 550.6h0M658.6 438.4h0M499.2 482.9h0M649.9 495.5h0M649.1 496.0h0M576.7 553.9h0M658.8 473.4h0M611.6 617.6h0M594.3 531.8h0M639.5 579.7h0M490.2 510.6h0M610.3 559.5h0M616.4 479.4h0M617.3 479.6h0M617.4 480.4h0M613.7 529.2h0M613.6 529.3h0M576.5 585.8h0M667.8 491.1h0M668.6 489.0h0M669.6 490.5h0M577.4 462.8h0M468.9 508.5h0M516.6 470.5h0M516.6 471.8h0M621.5 454.2h0M622.5 454.0h0M488.4 482.4h0M488.9 483.9h0M488.1 483.2h0M488.9 483.9h0M611.5 472.1h0M535.9 556.7h0M546.8 552.2h0M564.4 450.0h0M608.7 598.4h0M554.7 577.9h0M629.5 571.6h0M580.5 565.8h0M581.4 564.7h0M661.2 528.8h0M660.7 527.5h0M657.7 554.9h0M586.6 465.7h0M585.1 465.8h0M585.9 466.2h0M573.6 489.5h0M655.5 532.1h0M654.7 533.4h0M647.5 569.9h0M647.2 570.7h0M604.9 471.7h0M605.9 471.6h0M524.4 476.4h0M523.8 475.8h0M525.6 476.2h0M592.7 440.4h0M490.5 466.9h0M490.1 465.9h0M490.3 466.9h0M565.2 458.3h0M567.1 457.7h0M565.0 458.7h0M567.3 458.7h0M564.7 458.3h0M607.2 562.5h0M607.6 563.8h0M607.1 562.8h0M556.7 586.6h0M588.5 456.4h0M665.6 604.3h0M621.7 544.4h0M606.6 475.1h0M668.8 640.3h0M666.0 639.9h0M601.0 506.3h0M578.4 523.0h0M579.6 523.9h0M559.3 497.5h0M579.2 542.6h0M667.3 518.9h0M481.1 490.8h0M629.2 558.1h0M600.2 533.5h0M666.3 598.0h0M667.8 598.3h0M668.7 596.9h0M666.2 597.9h0M552.6 502.1h0M635.4 630.1h0M603.9 449.9h0M606.2 556.8h0M640.2 481.0h0M639.7 482.1h0M639.5 480.6h0M489.9 501.7h0M489.9 502.9h0M489.5 500.9h0M490.6 500.5h0M490.5 501.8h0M612.8 587.6h0M613.5 587.9h0M613.2 588.0h0M602.3 462.7h0M602.4 461.2h0M598.0 466.1h0M597.2 467.5h0M598.8 466.7h0M603.9 553.4h0M660.7 464.5h0M661.0 465.7h0M653.2 487.4h0M653.5 486.2h0M623.8 482.6h0M624.2 482.0h0M563.9 574.7h0M564.6 575.1h0M607.7 492.0h0M560.0 487.9h0M560.4 489.1h0M539.4 492.0h0M484.8 548.4h0M486.7 547.9h0M577.8 573.0h0M564.9 563.2h0M594.7 522.7h0M594.6 523.2h0M597.2 468.3h0M596.8 469.3h0M622.5 455.5h0M623.1 456.9h0M623.0 455.6h0M603.4 578.2h0M602.5 578.7h0M602.3 579.8h0M604.1 578.4h0M546.5 505.7h0M623.6 603.1h0M623.6 602.4h0M624.8 601.7h0M653.5 573.5h0M654.0 572.8h0M651.3 575.1h0M596.8 435.0h0M630.5 560.6h0M630.3 561.0h0M630.3 559.4h0M593.2 526.9h0M594.4 528.1h0M602.7 458.0h0M602.3 459.0h0M642.3 425.7h0M544.9 558.2h0M544.3 558.0h0M543.7 557.3h0M546.3 557.3h0M659.7 468.6h0M658.3 469.5h0M661.4 468.7h0M659.8 470.4h0M614.5 540.4h0M614.0 539.6h0M613.9 541.7h0M629.7 593.3h0M562.6 526.3h0M563.7 526.4h0M563.1 528.5h0M634.1 424.7h0M470.9 532.3h0M649.0 614.5h0M609.7 545.5h0M610.3 545.4h0M609.9 546.0h0M609.9 544.4h0M611.3 544.7h0M591.9 518.7h0M591.9 518.4h0M631.1 491.5h0M632.2 491.2h0M515.9 502.7h0M517.5 501.8h0M515.3 504.4h0M523.1 469.2h0M641.8 496.1h0M610.4 591.8h0M512.5 536.6h0M626.5 618.2h0M569.7 589.1h0M575.9 593.8h0M513.3 569.5h0M642.8 492.4h0M643.0 491.0h0M643.2 492.0h0M647.8 579.7h0M598.9 554.7h0M666.3 592.1h0M667.7 592.6h0M546.2 498.6h0M583.8 533.3h0M616.0 493.4h0M583.4 588.4h0M664.1 420.6h0M634.8 451.9h0M572.8 545.0h0M636.2 484.2h0M483.3 487.4h0M530.1 495.9h0M530.3 495.2h0M527.9 496.5h0M528.7 495.5h0M530.0 496.8h0M537.3 517.1h0M540.4 535.7h0M540.0 535.1h0M540.3 534.9h0M540.0 535.1h0M563.4 575.0h0M561.3 567.8h0M621.0 511.8h0M650.4 609.6h0M649.3 609.6h0M615.5 550.5h0M605.7 541.8h0M605.4 541.6h0M544.7 558.1h0M544.5 559.0h0M556.4 578.1h0M650.2 597.7h0M650.4 598.2h0M650.6 597.5h0M659.2 431.9h0M651.3 620.4h0M619.6 591.5h0M620.3 591.3h0M662.4 467.3h0M630.4 608.1h0M611.3 511.0h0M579.3 438.0h0M513.5 486.2h0M512.4 485.9h0M511.9 488.3h0M574.9 524.9h0M669.6 632.8h0M633.1 612.8h0M499.3 554.5h0M656.6 454.5h0M557.6 453.5h0M651.1 604.3h0M651.6 605.3h0M558.2 444.8h0M650.5 453.4h0M582.4 556.4h0M581.2 556.4h0M581.9 554.0h0M666.5 468.3h0M666.0 469.0h0M666.7 467.8h0M590.5 558.5h0M590.4 558.3h0M549.1 557.1h0M648.7 545.7h0M647.4 547.5h0M648.9 543.6h0M638.1 620.8h0M637.8 620.4h0M636.2 621.7h0M637.2 620.4h0M638.4 620.7h0M639.7 611.4h0M569.4 490.6h0M597.0 486.3h0M505.0 534.5h0M579.1 496.0h0M579.1 498.3h0M529.6 481.4h0M516.8 471.0h0M635.1 599.7h0M632.6 601.2h0M651.2 555.4h0M536.1 577.7h0M470.6 484.1h0M642.3 598.5h0M638.1 456.0h0M578.0 526.4h0M578.8 526.5h0M577.9 525.9h0M616.8 431.2h0M604.9 494.7h0M603.8 494.7h0M604.7 494.8h0M605.4 493.2h0M604.2 494.1h0M661.3 465.2h0M659.9 465.1h0M589.6 552.6h0M559.4 581.2h0M559.8 579.6h0M577.8 545.3h0M579.4 546.7h0M578.2 544.6h0M577.9 545.4h0M664.0 613.2h0M504.7 468.8h0M625.5 485.6h0M623.8 485.8h0M625.8 484.8h0M609.8 613.7h0M588.9 477.0h0M587.8 475.5h0M568.1 500.9h0M569.0 501.7h0M567.9 500.5h0M569.4 501.3h0M568.3 501.2h0M662.1 615.1h0M663.1 614.7h0M642.8 488.8h0M643.4 489.7h0M641.3 489.0h0M624.1 479.3h0M629.3 466.2h0M629.5 465.5h0M630.1 465.6h0M626.4 465.0h0M628.5 467.1h0M596.0 569.4h0M553.3 504.8h0M553.1 505.4h0M553.7 508.1h0M554.9 505.3h0M552.1 505.6h0M619.3 571.7h0M619.1 571.5h0M618.0 571.1h0M626.1 540.2h0M627.2 540.5h0M627.7 541.7h0M625.8 540.8h0M468.9 518.6h0M469.7 517.0h0M469.8 517.3h0M618.5 610.2h0M530.9 515.8h0M648.1 517.7h0M528.9 553.6h0M527.9 555.1h0M526.8 552.5h0M530.2 553.3h0M527.9 555.8h0M618.5 510.8h0M618.8 509.7h0M620.7 512.0h0M669.5 425.9h0M669.7 425.7h0M506.9 536.5h0M505.5 536.1h0M506.7 536.0h0M560.3 538.1h0M549.0 490.6h0M605.5 516.4h0M547.6 552.1h0M548.1 551.2h0M580.5 543.6h0M655.7 592.1h0M545.2 459.9h0M544.5 459.8h0M545.1 460.2h0M593.9 597.2h0M593.7 597.3h0M592.3 597.6h0M615.7 583.7h0M613.9 583.5h0M615.4 583.2h0M615.7 584.3h0M616.9 584.4h0M506.6 495.5h0M507.7 496.1h0M507.1 494.0h0M505.5 496.0h0M662.4 526.1h0M660.2 525.9h0M662.1 526.1h0M663.8 526.0h0M668.4 592.3h0M543.6 456.7h0M627.9 531.0h0M628.0 532.3h0M627.7 531.7h0M627.8 530.4h0M628.2 531.7h0M637.3 499.1h0M639.6 579.9h0M634.6 533.0h0M478.1 550.8h0M480.2 551.8h0M558.7 569.2h0M560.7 568.7h0M629.4 452.6h0M630.7 453.2h0M656.7 441.0h0M656.5 439.2h0M656.0 439.4h0M656.7 440.5h0M645.6 624.0h0M593.5 562.0h0M594.1 562.7h0M667.0 529.2h0M666.3 530.0h0M666.6 527.0h0M646.4 616.7h0M646.6 617.9h0M569.9 512.3h0M568.9 511.5h0M570.1 511.7h0M568.6 511.3h0M571.2 512.5h0M634.1 430.9h0M634.8 430.2h0M635.1 431.9h0M635.4 430.4h0M634.7 431.3h0M528.6 552.5h0M520.7 564.8h0M522.4 564.7h0M521.6 563.6h0M586.1 545.3h0M662.7 533.1h0M569.9 532.9h0M574.8 558.8h0M575.5 556.5h0M604.2 602.2h0M604.2 602.1h0M585.5 474.3h0M584.5 475.0h0M584.1 473.7h0M651.4 526.0h0M651.8 525.9h0M651.3 526.6h0M558.2 532.3h0M558.5 532.7h0M558.6 532.4h0M558.0 532.3h0M631.6 572.0h0M633.4 573.6h0M631.7 573.2h0M631.3 572.3h0M622.3 580.2h0M623.7 580.0h0M622.9 577.9h0M623.7 579.8h0M630.4 605.5h0M629.4 604.7h0M533.7 496.3h0M515.9 563.8h0M515.4 563.7h0M516.5 564.3h0M576.4 451.2h0M574.5 450.2h0M577.6 451.2h0M576.3 451.9h0M574.0 452.1h0M651.5 517.0h0M653.0 517.9h0M587.8 451.8h0M469.4 488.2h0M531.6 573.8h0M531.7 573.8h0M506.0 479.0h0M625.6 481.6h0M655.5 430.8h0M573.8 541.1h0M654.0 527.3h0M654.3 528.3h0M609.3 560.5h0M627.4 441.0h0M629.3 441.4h0M628.1 441.2h0M625.2 442.4h0M565.6 571.3h0M564.0 571.2h0M586.6 517.6h0M473.3 511.2h0M665.2 501.4h0M664.6 503.0h0M639.3 577.2h0M643.8 477.6h0M545.0 490.3h0M526.5 502.9h0M525.7 501.2h0M619.4 503.4h0M618.4 504.1h0M618.7 502.5h0M571.5 445.0h0M651.3 638.5h0M574.6 594.2h0M574.7 594.3h0M659.4 554.5h0M488.0 488.6h0M647.6 483.6h0M648.2 486.2h0M648.1 484.0h0M648.2 485.6h0M625.5 438.3h0M637.7 464.5h0M638.1 465.2h0M637.3 467.1h0M585.0 510.4h0M586.7 510.8h0M585.0 507.2h0M559.7 518.6h0M589.3 597.6h0M621.9 439.6h0M621.2 439.2h0M535.0 545.5h0M619.0 578.9h0M595.0 596.8h0M556.9 463.5h0M556.3 462.0h0M560.4 509.5h0M594.8 604.1h0M509.9 471.7h0M510.9 472.0h0M509.7 473.0h0M511.2 471.7h0M606.3 567.6h0M637.5 496.1h0M636.5 497.7h0M511.0 540.9h0M618.5 570.0h0M628.2 527.0h0M622.4 507.5h0M622.9 508.1h0M620.8 507.4h0M621.6 507.9h0M621.8 506.7h0M614.0 525.7h0M614.7 523.5h0M613.6 526.7h0M615.1 526.7h0M533.3 469.8h0M534.7 470.4h0M619.9 440.5h0M548.2 540.1h0M646.3 592.5h0M562.3 581.6h0M608.6 513.6h0M607.9 514.1h0M609.4 511.5h0M608.4 514.3h0M629.8 566.7h0M630.4 567.8h0M624.8 578.0h0M625.1 580.2h0M624.3 575.5h0M661.0 586.6h0M628.9 472.0h0M628.5 475.0h0M579.5 534.7h0M539.2 460.9h0M653.6 491.4h0M563.5 476.5h0M565.8 538.0h0M626.0 571.4h0M627.9 535.4h0M627.1 534.5h0M592.6 513.5h0M578.8 561.9h0M495.1 489.9h0M634.5 552.8h0M580.4 575.1h0M629.8 503.2h0M628.5 502.9h0M645.6 466.3h0M623.3 478.8h0M624.4 479.6h0M553.2 461.4h0M551.0 462.5h0M645.6 530.3h0M643.8 491.9h0M643.3 492.3h0M643.8 493.0h0M644.8 491.4h0M655.4 460.1h0M657.7 458.8h0M630.2 610.2h0M654.9 443.8h0M652.8 444.2h0M653.6 442.9h0M653.7 443.5h0M658.0 445.3h0M620.4 519.8h0M591.8 434.6h0M642.8 477.1h0M664.3 464.6h0M555.8 585.4h0M481.1 478.8h0M480.7 479.2h0M481.1 477.1h0M599.9 512.1h0M600.9 513.2h0M600.2 511.8h0M571.9 582.5h0M603.2 598.8h0M588.7 461.0h0M639.6 623.5h0M637.9 621.5h0M587.0 548.0h0M587.3 548.7h0M588.2 546.8h0M641.8 498.5h0M635.9 466.9h0M610.6 538.8h0M609.5 538.3h0M644.1 536.0h0M523.0 541.7h0M523.6 542.4h0M667.1 499.1h0M579.7 462.7h0M579.0 464.3h0M581.6 462.6h0M592.0 447.5h0M600.5 562.6h0M655.1 419.0h0M654.9 419.8h0M654.9 419.2h0M574.0 442.3h0M578.2 504.8h0M668.3 546.7h0M669.5 545.8h0M582.4 545.2h0M647.0 510.5h0M618.1 479.2h0M619.3 480.8h0M616.5 479.3h0M618.0 478.1h0M537.2 496.5h0M537.8 494.7h0M643.4 505.5h0M518.8 467.0h0M591.8 509.5h0M591.9 508.4h0M587.2 542.7h0M586.3 542.6h0M585.8 543.9h0M518.1 460.3h0M582.0 561.8h0M582.0 562.3h0M657.8 526.6h0M473.2 515.0h0M635.6 526.9h0M586.7 525.7h0M636.2 469.0h0M615.0 471.6h0M629.2 470.2h0M537.4 577.5h0M536.8 576.6h0M668.8 422.7h0M588.2 471.9h0M588.3 470.6h0M598.9 527.2h0M598.6 525.4h0M600.2 527.2h0M659.8 508.5h0M597.9 593.0h0M558.0 519.7h0M557.0 518.4h0M557.2 519.4h0M597.8 465.4h0M598.7 468.5h0M597.1 465.7h0M595.9 466.6h0M599.3 466.6h0M540.7 478.4h0M651.4 460.1h0M662.9 606.7h0M663.9 606.5h0M664.9 461.1h0M505.2 538.8h0M657.4 416.0h0M604.8 556.1h0M567.2 447.2h0M528.1 554.1h0M530.0 554.2h0M526.5 553.4h0M537.5 500.0h0M621.4 591.0h0M622.6 590.4h0M621.7 590.8h0M621.1 589.1h0M623.9 590.1h0M480.6 544.6h0M472.7 532.5h0M470.6 533.9h0M472.3 531.0h0M471.1 531.7h0M646.3 511.5h0M644.1 512.0h0M645.4 509.1h0M574.3 588.6h0M600.6 444.7h0M599.6 445.3h0M601.3 444.9h0M601.4 443.7h0M606.2 528.1h0M607.4 530.0h0M649.7 553.1h0M611.8 450.0h0M610.9 449.9h0M553.6 474.9h0M617.9 583.0h0M618.6 583.6h0M616.7 582.1h0M546.6 541.8h0M648.9 625.5h0M533.2 540.6h0M665.3 494.1h0M604.0 499.0h0M603.2 498.3h0M652.6 624.8h0M654.0 540.0h0M653.8 540.2h0M654.2 539.2h0M621.0 460.3h0M620.9 460.2h0M620.1 458.8h0M561.6 496.0h0M561.4 498.2h0M624.3 445.1h0M624.1 445.1h0M625.3 447.1h0M622.2 497.1h0M576.0 554.6h0M607.4 529.6h0M652.5 563.5h0M653.5 562.4h0M652.5 562.9h0M612.2 551.2h0M613.0 551.0h0M609.9 552.4h0M613.4 553.0h0M586.6 515.2h0M588.2 514.8h0M607.3 463.0h0M607.4 462.9h0M518.2 564.0h0M519.3 563.8h0M518.1 562.9h0M648.0 556.2h0M658.6 573.4h0M602.9 495.7h0M602.1 494.7h0M602.3 495.4h0M624.6 619.1h0M623.4 619.2h0M623.5 619.4h0M523.2 475.3h0M611.5 511.2h0M597.4 591.8h0M597.7 591.8h0M635.4 479.7h0M655.8 581.5h0M657.9 581.1h0M656.3 580.5h0M626.9 523.4h0M649.6 515.1h0M588.8 517.6h0M610.2 431.0h0M608.5 430.7h0M611.5 431.1h0M609.3 430.8h0M567.6 519.4h0M619.7 449.9h0M651.9 609.9h0M653.1 611.9h0M651.9 610.4h0M641.5 612.1h0M589.0 599.2h0M589.9 596.9h0M561.3 545.2h0M657.4 523.7h0M626.4 568.1h0M627.9 568.6h0M469.5 540.2h0M658.2 556.2h0M622.6 500.6h0M622.7 500.1h0M623.7 498.1h0M490.7 469.2h0M552.1 578.4h0M552.8 579.3h0M622.3 488.9h0M632.3 601.4h0M622.2 483.6h0M623.0 485.3h0M582.3 577.1h0M583.7 460.9h0M564.2 517.0h0M565.5 517.9h0M566.1 517.5h0M557.9 469.4h0M564.6 473.2h0M565.0 473.4h0M574.7 546.8h0M575.6 547.0h0M642.0 551.6h0M642.3 552.7h0M558.4 506.9h0M551.2 484.3h0M552.6 484.1h0M644.1 598.6h0M650.2 636.4h0M651.8 636.3h0M509.4 542.1h0M592.2 442.0h0M592.1 440.2h0M592.0 495.6h0M592.8 497.8h0M618.3 594.1h0M620.1 595.0h0M589.7 529.4h0M488.1 548.4h0M615.7 500.7h0M617.2 501.3h0M652.3 621.1h0M653.6 624.1h0M543.6 533.5h0M544.1 534.0h0M507.3 514.9h0M648.2 600.7h0M594.2 538.8h0M594.9 537.9h0M621.2 612.9h0M665.0 613.1h0M666.0 614.4h0M663.4 614.5h0M614.4 437.2h0M634.1 544.7h0M634.3 543.3h0M617.5 484.1h0M623.0 540.3h0M622.4 540.3h0M642.4 557.5h0M642.0 558.0h0M660.5 558.6h0M598.4 580.0h0M652.4 470.6h0M601.7 553.3h0M626.1 470.2h0M640.4 509.5h0M609.9 540.2h0M609.6 540.3h0M609.5 539.9h0M628.9 607.0h0M549.3 538.2h0M650.8 587.4h0M651.0 589.7h0M605.9 516.8h0M548.4 568.0h0M621.7 458.1h0M621.3 457.0h0M634.5 576.5h0M637.6 425.8h0M637.7 425.1h0M636.2 426.5h0M556.1 501.6h0M555.1 500.6h0M576.4 527.3h0M589.3 546.4h0M590.2 547.4h0M636.2 490.6h0M476.9 521.1h0M476.7 520.1h0M593.3 542.2h0M593.7 541.5h0M593.6 543.5h0M662.2 501.3h0M660.5 502.2h0M628.0 572.0h0M627.4 572.5h0M627.9 570.8h0M628.3 571.3h0M544.6 560.9h0M544.2 559.5h0M545.3 560.4h0M544.8 561.4h0M544.9 560.2h0M633.0 621.8h0M634.0 622.7h0M552.6 564.9h0M553.2 564.8h0M554.0 564.9h0M540.5 519.0h0M603.9 558.9h0M473.7 548.7h0M483.9 507.1h0M521.2 467.4h0M521.9 466.8h0M520.4 468.5h0M520.7 466.5h0M474.6 542.8h0M474.9 541.6h0M592.2 437.7h0M592.8 437.3h0M592.4 436.5h0M632.8 435.0h0M632.8 433.1h0M633.2 434.7h0M632.6 433.2h0M667.2 540.2h0M666.8 540.6h0M667.4 539.2h0M638.8 425.0h0M638.7 425.0h0M611.4 595.1h0M611.1 596.7h0M611.4 597.2h0M610.4 594.7h0M610.9 593.6h0M578.7 540.7h0M583.8 460.1h0M591.8 467.2h0M663.6 535.3h0M543.6 574.8h0M663.4 616.5h0M606.7 552.5h0M662.0 621.1h0M661.3 620.5h0M625.3 542.3h0M626.5 543.7h0M597.5 582.7h0M517.3 461.8h0M516.1 460.2h0M656.3 510.4h0M525.2 542.7h0M624.4 576.1h0M642.8 443.6h0M593.6 570.2h0M595.1 571.4h0M552.5 495.3h0M552.9 494.8h0M632.8 552.7h0M631.7 552.4h0M632.8 553.7h0M634.6 551.6h0M633.0 553.7h0M629.5 495.9h0M629.3 497.0h0M631.5 497.5h0M628.7 496.6h0M629.6 494.4h0M663.3 583.8h0M663.2 584.2h0M664.5 583.9h0M661.8 584.9h0M646.2 466.2h0M646.0 465.8h0M600.8 479.6h0M600.6 527.0h0M601.6 526.3h0M598.9 527.3h0M622.9 537.4h0M617.0 557.0h0M616.9 557.7h0M616.4 555.5h0M614.3 557.4h0M616.4 555.6h0M540.6 472.8h0M622.5 514.5h0M598.7 575.8h0M469.4 510.8h0M469.2 511.1h0M477.7 527.3h0M605.5 525.5h0M614.3 461.9h0M614.5 460.8h0M550.5 576.6h0M586.0 587.9h0M609.8 486.4h0M610.0 486.1h0M609.2 486.2h0M608.9 487.0h0M610.0 485.4h0M631.3 555.2h0M632.1 556.0h0M568.9 526.2h0M569.2 527.0h0M567.7 527.1h0M652.0 477.3h0M653.6 475.8h0M651.6 476.2h0M652.9 572.3h0M653.7 572.5h0M554.3 561.3h0M556.4 559.7h0M657.1 585.6h0M658.4 587.4h0M659.2 585.8h0M656.5 585.6h0M658.2 586.0h0M668.9 638.3h0M631.6 484.4h0M618.7 429.8h0M537.4 491.8h0M625.0 607.8h0M625.6 608.3h0M624.9 608.6h0M626.0 609.3h0M639.8 463.0h0M640.8 451.1h0M540.8 563.6h0M634.6 603.2h0M487.4 538.0h0M544.2 580.2h0M633.2 490.2h0M624.1 519.9h0M592.3 580.5h0M592.3 580.6h0M606.7 492.2h0M636.6 605.1h0M638.5 607.0h0M637.4 605.4h0M543.6 550.1h0M542.4 550.3h0M614.1 517.2h0M614.8 517.8h0M615.8 518.0h0M617.3 534.1h0M656.4 535.0h0M655.7 535.6h0M661.4 423.2h0M663.1 424.1h0M661.0 421.8h0M660.0 423.7h0M660.9 422.0h0M579.1 582.6h0M620.5 445.2h0M621.4 443.5h0M645.8 571.8h0M604.4 511.0h0M603.5 510.0h0M604.3 512.2h0M606.5 598.2h0M662.1 574.5h0M664.2 613.5h0M664.3 613.7h0M662.3 643.2h0M627.7 452.6h0M574.7 565.9h0M575.1 565.8h0M500.3 466.9h0M636.3 435.3h0M635.5 436.3h0M607.8 565.9h0M606.7 565.0h0M654.3 548.1h0M655.5 548.3h0M655.2 548.2h0M654.0 546.9h0M562.4 478.6h0M629.6 554.6h0M569.4 513.7h0M615.9 584.7h0M483.2 553.4h0M483.1 551.6h0M483.1 554.2h0M482.8 552.7h0M623.0 567.5h0M518.5 543.9h0M519.8 544.4h0M517.8 543.7h0M572.7 583.2h0M573.9 584.2h0M574.5 582.6h0M572.4 584.2h0M635.0 623.5h0M655.7 425.2h0M654.9 427.0h0M660.8 427.7h0M660.6 427.3h0M662.3 427.7h0M660.3 426.6h0M656.8 572.9h0M656.7 573.7h0M656.1 573.7h0M581.2 460.2h0M654.3 539.1h0M654.7 538.5h0M654.0 539.7h0M644.3 592.2h0M656.0 440.4h0M651.3 605.7h0M652.4 605.4h0M653.2 606.3h0M656.8 503.3h0M655.8 503.8h0M634.6 608.9h0M626.4 534.2h0M627.3 534.6h0M618.8 556.8h0M646.7 625.8h0M645.3 458.6h0M645.1 459.7h0M645.5 460.1h0M645.6 456.3h0M644.9 456.7h0M606.5 574.5h0M605.9 574.4h0M597.1 464.6h0M558.3 571.3h0M635.5 520.9h0M636.5 522.2h0M533.0 496.3h0M532.5 496.3h0M530.6 496.6h0M530.4 480.3h0M528.8 481.0h0M529.7 479.6h0M531.1 481.3h0M658.9 609.2h0M658.5 608.7h0M658.2 607.8h0M658.5 609.1h0M657.7 608.6h0M668.9 441.1h0M547.1 490.4h0M656.4 618.8h0M620.1 533.2h0M557.1 569.8h0M555.4 569.7h0M556.8 569.0h0M556.7 568.9h0M608.2 514.1h0M577.6 493.2h0M577.9 494.9h0M576.3 493.7h0M565.9 540.8h0M566.9 540.8h0M645.8 609.5h0M566.2 525.2h0M567.4 526.1h0M566.6 524.9h0M564.1 464.9h0M588.9 581.5h0M589.1 583.1h0M587.5 582.6h0M589.4 582.9h0M588.4 581.7h0M488.7 476.1h0M573.8 544.3h0M574.1 544.2h0M574.1 543.7h0M654.6 636.3h0M656.5 637.2h0M637.6 543.0h0M638.7 545.9h0M571.6 574.8h0M572.9 575.7h0M571.7 574.9h0M570.3 575.6h0M572.4 574.1h0M541.7 456.7h0M552.0 490.6h0M575.5 498.7h0M662.9 428.6h0M571.6 542.9h0M651.9 613.4h0M617.5 547.8h0M615.4 547.2h0M616.5 547.5h0M614.3 503.6h0M662.6 599.6h0M621.3 426.6h0M588.6 435.6h0M654.6 467.8h0M664.6 569.7h0M562.5 532.4h0M563.2 533.2h0M563.1 532.4h0M652.4 497.7h0M652.4 497.5h0M652.3 497.4h0M653.7 497.3h0M589.4 587.7h0M548.9 496.1h0M550.5 496.3h0M585.8 506.3h0M606.4 581.8h0M646.9 429.2h0M661.9 443.9h0M612.1 560.8h0M611.9 560.8h0M611.9 560.1h0M612.8 561.6h0M613.6 559.5h0M609.9 566.7h0M609.3 569.0h0M628.0 455.0h0M629.2 455.2h0M573.2 519.9h0M572.4 520.1h0M572.2 519.0h0M610.9 448.3h0M599.7 554.5h0M600.6 553.6h0M599.2 553.6h0M599.1 553.4h0M640.2 426.6h0M607.4 549.7h0M566.0 559.8h0M645.3 610.5h0M646.4 611.4h0M646.1 611.8h0M600.7 477.3h0M639.8 477.8h0M639.4 478.4h0M571.3 459.7h0M663.8 547.7h0M664.2 546.1h0M539.0 580.4h0M666.7 461.2h0M666.4 461.2h0M661.8 628.9h0M521.8 476.0h0M494.5 466.3h0M609.6 572.1h0M569.3 565.0h0M542.8 522.2h0M651.7 425.2h0M648.8 439.9h0M647.1 440.3h0M648.2 438.8h0M650.0 439.4h0M618.8 509.2h0M618.2 507.3h0M628.1 568.0h0M633.1 518.5h0M520.7 503.6h0M621.8 454.0h0M520.0 495.2h0M656.2 434.8h0M591.3 533.1h0M617.9 448.0h0M618.8 446.4h0M618.5 448.3h0M618.5 446.2h0M618.0 448.0h0M611.3 564.7h0M612.3 565.1h0M612.2 566.0h0M576.1 518.3h0M575.2 519.0h0M667.4 490.7h0M669.2 491.1h0M649.6 465.6h0M649.3 465.7h0M649.2 464.2h0M561.8 535.0h0M561.2 536.1h0M560.1 537.0h0M626.8 559.5h0M594.1 576.3h0M604.4 522.2h0M635.2 476.6h0M636.8 477.8h0M634.6 475.7h0M644.6 615.5h0M601.4 466.3h0M582.4 560.6h0M581.2 560.1h0M582.3 561.0h0M582.7 561.8h0M583.1 561.7h0M669.5 541.5h0M668.4 540.8h0M564.6 561.4h0M565.2 560.7h0M564.8 561.2h0M669.4 544.3h0M668.6 543.2h0M668.0 544.0h0M669.1 543.8h0M615.1 595.2h0M496.2 549.7h0M545.1 466.5h0M543.5 466.5h0M545.2 466.5h0M580.3 544.7h0M579.5 544.1h0M593.8 600.9h0M600.8 564.3h0M610.4 433.6h0M610.0 433.6h0M608.7 432.9h0M611.2 435.4h0M664.2 545.2h0M665.1 546.9h0M583.0 459.1h0M582.4 461.3h0M634.3 474.8h0M634.1 474.8h0M598.1 520.3h0M602.9 526.8h0M603.1 528.1h0M601.6 526.8h0M590.1 510.7h0M590.0 510.1h0M637.9 525.8h0M639.5 526.5h0M638.8 527.4h0M658.1 423.7h0M658.9 423.3h0M642.9 511.4h0M615.7 447.7h0M585.5 506.0h0M648.0 421.4h0M647.0 421.1h0M647.8 421.0h0M504.2 544.5h0M664.0 485.1h0M621.9 458.2h0M623.8 458.1h0M578.1 572.1h0M577.3 572.9h0M630.5 574.9h0M633.6 500.4h0M633.3 501.6h0M582.6 596.8h0M582.5 596.0h0M662.4 534.4h0M661.4 534.8h0M661.4 533.7h0M663.8 535.5h0M604.7 591.0h0M564.4 540.7h0M620.0 535.8h0M620.1 535.8h0M619.7 536.3h0M553.9 479.3h0M636.2 629.9h0M660.6 623.1h0M662.2 623.0h0M571.3 535.4h0M571.3 534.6h0M570.1 535.3h0M580.4 488.8h0M608.3 463.5h0M608.7 463.4h0M608.5 462.8h0M636.7 439.5h0M638.1 438.9h0M616.0 506.5h0M655.9 604.8h0M546.6 462.1h0M645.4 524.1h0M612.2 535.1h0M611.3 536.4h0M666.4 607.8h0M659.8 469.7h0M589.9 556.8h0M541.1 492.0h0M494.9 479.5h0M540.1 519.3h0M540.5 519.3h0M540.1 518.1h0M652.8 495.2h0M652.9 495.3h0M643.6 530.4h0M643.1 530.2h0M644.1 531.8h0M653.5 588.7h0M653.9 589.2h0M652.8 587.0h0M602.0 544.5h0M660.7 591.6h0M589.9 456.6h0M569.0 454.0h0M567.6 454.8h0M663.7 529.5h0M661.1 529.7h0M569.1 586.9h0M630.0 480.6h0M630.7 477.9h0M628.8 480.3h0M660.4 600.6h0M660.0 600.0h0M661.1 600.2h0M659.2 606.6h0M658.8 607.1h0M658.7 606.9h0M658.6 606.5h0M658.5 609.1h0M534.1 530.9h0M611.7 455.9h0M502.2 472.3h0M502.6 472.6h0M503.5 472.9h0M500.5 474.6h0M625.0 488.5h0M621.0 507.6h0M658.9 592.8h0M595.4 596.5h0M594.5 597.0h0M593.1 558.2h0M594.1 558.4h0M593.0 557.9h0M593.4 558.9h0M604.1 462.6h0M652.0 492.1h0M652.1 492.4h0M653.5 491.4h0M507.1 556.2h0M508.1 555.3h0M506.6 555.0h0M582.8 505.3h0M663.3 471.9h0M467.2 512.1h0M467.2 513.8h0M467.4 511.5h0M643.9 477.0h0M644.5 476.0h0M645.3 477.4h0M625.9 501.2h0M624.8 500.9h0M657.6 568.5h0M606.9 478.0h0M667.7 517.6h0M668.4 518.3h0M668.2 516.8h0M668.4 516.1h0M668.4 516.2h0M661.7 496.7h0M661.4 497.4h0M596.7 476.6h0M579.7 457.8h0M580.3 458.2h0M580.2 458.9h0M578.5 458.1h0M580.0 453.6h0M599.6 456.4h0M600.9 456.0h0M597.8 456.4h0M600.2 456.3h0M504.7 558.4h0M504.8 559.7h0M505.1 557.4h0M505.0 557.8h0M503.2 559.6h0M475.8 478.0h0M475.1 477.5h0M538.3 533.8h0M537.6 534.5h0M491.3 556.7h0M492.7 558.0h0M492.6 555.6h0M578.9 546.8h0M608.0 470.7h0M607.7 472.3h0M511.1 463.8h0M510.9 464.8h0M625.9 478.4h0M624.8 478.7h0M582.7 541.4h0M582.3 541.5h0M659.3 634.5h0M659.6 635.7h0M660.3 633.5h0M659.7 618.1h0M530.6 485.7h0M632.8 524.9h0M659.2 629.7h0M657.8 630.0h0M579.4 459.9h0M662.9 430.9h0M570.5 535.5h0M476.7 498.3h0M475.4 496.6h0M531.7 546.5h0M532.1 545.1h0M532.2 545.8h0M531.6 545.1h0M529.6 546.3h0M555.6 446.5h0M613.9 600.5h0M615.8 601.8h0M649.0 618.5h0M650.6 619.0h0M657.0 486.2h0M656.3 485.4h0M658.1 487.3h0M654.9 620.4h0M581.7 581.4h0M582.5 582.7h0M582.0 584.1h0M649.1 624.4h0M653.2 569.3h0M547.5 535.0h0M547.3 536.1h0M661.4 629.1h0M661.0 628.5h0M628.0 463.0h0M628.8 463.4h0M611.3 600.3h0M610.3 598.7h0M610.8 601.6h0M596.3 564.5h0M617.7 472.9h0M617.6 472.8h0M617.6 473.9h0M559.2 465.1h0M544.8 456.0h0M656.1 599.9h0M641.9 427.1h0M641.5 427.2h0M640.1 426.9h0M642.6 429.0h0M641.8 427.0h0M516.2 557.7h0M514.3 558.4h0M500.9 481.1h0M643.6 606.6h0M643.2 606.8h0M665.4 433.4h0M660.6 599.7h0M539.9 577.5h0M539.9 577.8h0M630.6 622.1h0M496.6 483.5h0M498.5 482.1h0M506.7 475.7h0M507.1 475.1h0M504.6 474.6h0M507.0 476.1h0M506.9 475.6h0M627.5 519.5h0M498.1 531.8h0M560.9 570.5h0M617.6 515.2h0M568.4 579.6h0M668.8 577.5h0M667.5 577.2h0M552.6 464.1h0M553.5 464.5h0M553.3 463.1h0M552.7 463.7h0M507.6 504.1h0M509.8 504.6h0M506.9 503.8h0M614.9 487.4h0M614.5 489.8h0M614.2 486.3h0M663.7 573.9h0M641.5 442.6h0M640.0 440.8h0M632.9 436.2h0M633.5 435.6h0M634.2 435.8h0M633.9 435.0h0M566.8 474.5h0M666.6 462.4h0M629.3 562.8h0M632.7 472.4h0M638.7 460.8h0M638.1 460.3h0M638.4 460.2h0M619.4 476.7h0M617.2 477.4h0M618.3 476.8h0M523.4 466.7h0M524.7 467.0h0M523.6 465.8h0M522.0 465.6h0M620.6 497.6h0M547.6 490.9h0M547.9 490.5h0M545.8 490.6h0M548.4 489.7h0M546.4 490.2h0M645.9 590.1h0M647.5 592.0h0M644.5 589.7h0M644.7 589.8h0M646.1 590.4h0M667.3 519.8h0M668.2 521.3h0M665.7 520.9h0M667.9 520.2h0M666.1 519.8h0M543.9 448.8h0M543.7 448.3h0M510.6 544.2h0M511.2 543.9h0M528.6 506.0h0M596.8 439.2h0M595.8 439.8h0M535.3 509.0h0M535.7 509.8h0M625.3 583.0h0M625.8 583.8h0M591.7 467.6h0M625.4 601.8h0M561.9 581.4h0M561.7 581.3h0M661.2 483.6h0M598.4 529.5h0M597.2 528.0h0M599.8 528.6h0M552.2 550.2h0M640.8 633.0h0M611.9 449.8h0M611.5 450.0h0M587.9 512.5h0M587.5 512.3h0M539.0 501.9h0M540.2 502.1h0M539.6 502.4h0M538.6 502.9h0M638.0 611.4h0M638.2 611.0h0M658.4 456.7h0M658.0 457.8h0M550.1 556.3h0M504.2 464.7h0M626.3 461.0h0M625.8 462.4h0M627.5 460.8h0M628.1 461.9h0M626.9 461.3h0M523.3 551.3h0M523.2 551.1h0M521.6 549.8h0M646.9 569.9h0M597.3 505.9h0M619.9 500.2h0M619.7 501.3h0M618.8 499.8h0M579.7 531.8h0M534.1 502.7h0M635.5 625.9h0M635.9 482.0h0M604.8 588.8h0M604.6 589.4h0M644.7 622.5h0M643.1 622.3h0M594.9 457.2h0M636.5 599.6h0M637.8 599.4h0M668.7 532.7h0M660.9 586.4h0M668.3 609.7h0M550.1 471.2h0M549.8 472.1h0M549.4 471.7h0M585.5 556.3h0M584.9 556.0h0M512.4 467.1h0M654.1 508.0h0M655.3 508.9h0M626.3 592.9h0M669.6 590.6h0M631.7 488.8h0M632.6 488.1h0M630.9 489.2h0M632.6 490.9h0M645.5 611.2h0M638.8 596.5h0M587.2 465.3h0M534.5 521.4h0M534.8 522.3h0M544.3 505.8h0M561.6 574.0h0M560.8 573.5h0M559.5 573.9h0M624.8 463.1h0M626.7 463.9h0M563.3 556.3h0M563.9 554.9h0M563.7 555.8h0M561.2 554.4h0M562.8 557.6h0M524.5 492.6h0M600.8 549.7h0M601.7 548.4h0M620.7 427.9h0M622.9 430.0h0M622.3 429.0h0M618.9 576.8h0M575.4 566.9h0M575.6 566.3h0M625.0 434.9h0M624.2 436.4h0M563.6 474.3h0M563.2 473.8h0M611.9 573.0h0M632.0 585.9h0M566.3 458.7h0M619.6 571.3h0M620.7 571.6h0M619.3 570.6h0M517.9 470.2h0M625.9 606.3h0M619.8 622.8h0M620.0 621.9h0M631.4 552.2h0M630.8 552.2h0M621.9 617.2h0M664.7 430.9h0M586.2 440.3h0M586.1 439.5h0M491.6 550.8h0M522.4 488.8h0M521.4 488.2h0M531.1 574.2h0M530.1 574.6h0M544.4 493.8h0M604.4 504.6h0M603.4 504.1h0M646.4 602.2h0M668.2 415.2h0M586.7 462.9h0M638.1 471.3h0M638.0 473.1h0M638.9 470.4h0M637.9 471.0h0M613.5 440.7h0M615.4 439.6h0M541.3 526.2h0M541.5 526.2h0M540.2 525.6h0M611.3 469.8h0M657.9 534.9h0M657.4 534.6h0M607.5 567.0h0M607.3 567.1h0M606.3 567.4h0M606.9 565.2h0M663.4 495.0h0M656.8 573.5h0M627.3 561.0h0M576.6 567.8h0M612.7 537.5h0M612.1 612.5h0M612.2 612.1h0M618.5 617.0h0M617.5 616.9h0M595.5 483.0h0M595.7 483.1h0M572.7 538.7h0M572.0 539.0h0M572.8 539.4h0M572.7 538.4h0M572.6 538.8h0M545.9 505.3h0M545.7 505.7h0M524.0 505.5h0M516.7 502.5h0M637.2 478.7h0M665.4 447.0h0M665.9 447.1h0M664.2 446.2h0M629.5 483.4h0M669.1 523.3h0M578.8 478.7h0M579.0 479.1h0M651.9 457.0h0M661.0 616.9h0M614.8 517.3h0M615.2 518.3h0M614.4 518.4h0M613.3 515.8h0M549.8 555.8h0M643.3 551.0h0M643.3 549.8h0M629.1 445.5h0M630.1 444.8h0M629.1 445.8h0M501.0 556.0h0M500.9 555.7h0M659.1 474.2h0M656.8 473.4h0M659.7 474.0h0M614.4 603.0h0M613.2 602.2h0M653.0 609.4h0M619.3 526.7h0M551.9 450.6h0M573.4 443.2h0M590.8 598.7h0M635.7 573.3h0M466.0 524.6h0M493.2 540.5h0M493.8 539.4h0M590.9 479.4h0M639.8 563.4h0M642.5 564.0h0M638.8 564.4h0M539.0 535.9h0M537.9 537.0h0M637.8 525.3h0M638.4 525.1h0M637.4 523.6h0M638.9 525.0h0M622.6 594.5h0M656.0 496.4h0M654.6 497.6h0M624.9 437.2h0M620.4 513.9h0M620.9 512.8h0M621.4 514.7h0M620.7 512.5h0M575.5 502.4h0M662.3 518.2h0M619.3 596.8h0M619.3 595.1h0M600.7 457.0h0M603.0 456.4h0M644.0 442.4h0M644.6 442.8h0M644.4 442.9h0M579.4 507.6h0M579.4 508.4h0M579.4 507.3h0M565.7 491.1h0M601.1 458.0h0M602.7 458.6h0M600.7 458.2h0M575.5 509.8h0M576.2 508.9h0M575.4 510.3h0M549.8 554.9h0M546.9 446.9h0M569.1 505.8h0M569.7 506.7h0M569.3 505.9h0M599.5 539.8h0M657.6 495.9h0M603.7 562.9h0M653.4 611.7h0M652.6 611.5h0M583.5 549.3h0M594.1 435.5h0M645.0 505.6h0M644.9 504.8h0M644.6 506.0h0M542.6 453.7h0M543.3 452.7h0M543.0 453.0h0M543.1 452.9h0M657.3 425.8h0M656.7 428.4h0M638.2 573.2h0M593.5 510.1h0M591.7 509.4h0M594.1 508.4h0M555.8 583.6h0M554.7 581.7h0M556.5 585.2h0M644.4 439.8h0M663.5 565.7h0M662.9 565.2h0M664.3 565.9h0M663.6 567.4h0M662.8 564.6h0M529.5 469.6h0M526.9 491.3h0M526.1 489.3h0M527.5 490.7h0M553.6 454.5h0M641.0 484.5h0M615.3 448.4h0M663.8 545.8h0M581.8 564.1h0M581.3 565.1h0M661.1 490.1h0M666.8 487.7h0M665.5 487.4h0M616.6 509.8h0M586.8 531.0h0M587.0 531.0h0M595.0 573.9h0M541.7 573.1h0M542.4 573.5h0M538.8 572.7h0M541.1 572.9h0M540.2 573.1h0M585.0 492.6h0M584.8 492.8h0M591.8 495.6h0M592.9 494.8h0M543.2 536.4h0M543.5 536.3h0M543.4 537.1h0M640.5 504.3h0M506.3 541.3h0M572.7 593.5h0M578.2 563.8h0M611.9 606.1h0M611.7 606.7h0M612.6 606.1h0M617.6 470.5h0M644.0 477.3h0M580.6 589.1h0M580.7 590.0h0M578.6 589.0h0M578.6 589.3h0M582.6 588.3h0M590.9 440.9h0M547.9 540.4h0M544.2 546.0h0M614.7 467.5h0M642.5 528.7h0M642.5 527.8h0M644.1 440.0h0M580.3 529.2h0M581.3 529.5h0M523.7 457.2h0M522.8 457.3h0M521.9 460.0h0M524.4 458.4h0M660.6 526.8h0M541.3 464.0h0M647.5 443.2h0M648.3 443.4h0M585.2 474.3h0M585.7 474.2h0M513.8 558.3h0M525.3 556.9h0M545.5 451.6h0M520.2 463.3h0M519.1 463.9h0M520.3 461.6h0M537.1 460.2h0M539.0 460.2h0M650.8 590.4h0M650.1 591.3h0M525.1 535.2h0M525.8 534.9h0M662.7 421.1h0M663.7 421.1h0M662.9 421.5h0M622.3 584.7h0M658.0 549.0h0M631.1 555.2h0M524.3 512.2h0M535.0 457.3h0M496.6 556.4h0M497.6 555.8h0M497.8 556.7h0M570.7 504.0h0M570.6 505.7h0M494.0 473.0h0M493.5 472.7h0M589.2 515.6h0M646.1 614.4h0M646.1 614.3h0M645.6 613.0h0M647.2 614.4h0M645.6 612.7h0M603.2 494.4h0M526.6 509.3h0M527.1 509.5h0M525.4 509.9h0M527.7 509.1h0M640.4 574.7h0M640.9 575.6h0M496.4 548.8h0M664.4 561.3h0M665.3 561.3h0M665.7 562.6h0M551.8 493.2h0M548.2 574.5h0M628.5 619.9h0M628.8 619.2h0M628.3 619.9h0M555.5 537.6h0M554.8 538.2h0M554.7 536.9h0M553.9 538.7h0M554.1 536.4h0M550.5 537.3h0M616.3 581.5h0M650.7 436.3h0M619.6 596.2h0M620.5 596.6h0M637.2 550.5h0M527.9 517.6h0M526.8 518.5h0M528.3 518.5h0M529.5 517.1h0M527.4 518.8h0M565.8 513.4h0M563.8 513.1h0M565.2 513.1h0M564.6 512.8h0M565.8 512.9h0M652.6 587.0h0M555.8 516.0h0M556.6 515.3h0M556.0 518.7h0M555.4 514.9h0M556.8 515.1h0M561.5 479.6h0M562.1 479.9h0M563.2 479.2h0M563.7 491.7h0M565.2 492.3h0M660.8 426.9h0M660.9 428.9h0M569.6 456.3h0M569.8 456.3h0M469.8 479.8h0M511.1 476.6h0M651.2 471.4h0M600.3 569.2h0M650.4 558.2h0M648.9 557.6h0M516.8 458.3h0M516.9 458.2h0M651.2 445.4h0M650.2 445.0h0M546.1 518.8h0M545.4 516.3h0M636.7 616.0h0M636.4 617.7h0M586.8 541.0h0M586.2 540.4h0M626.0 512.1h0M590.2 456.1h0M590.4 457.6h0M590.6 455.7h0M588.1 456.4h0M580.0 585.4h0M608.3 468.1h0M608.4 467.9h0M607.9 466.7h0M523.8 453.9h0M480.5 539.4h0M603.9 531.5h0M640.6 611.6h0M640.2 612.3h0M641.0 453.3h0M601.2 601.8h0M512.1 564.8h0M512.6 566.0h0M511.6 563.4h0M512.3 565.7h0M518.0 477.9h0M560.3 518.3h0M574.7 491.8h0M573.8 491.5h0M620.3 600.5h0M620.8 602.1h0M656.2 604.1h0M521.8 514.0h0M523.2 513.6h0M570.5 547.0h0M557.2 532.2h0M556.3 532.4h0M556.2 533.4h0M666.5 440.9h0M629.1 567.4h0M629.4 579.8h0M629.5 579.6h0M630.1 579.0h0M654.7 420.7h0M655.9 420.8h0M654.3 421.2h0M654.0 421.9h0M605.8 568.3h0M545.6 531.3h0M545.2 531.3h0M539.7 541.8h0M541.1 541.5h0M539.3 542.6h0M651.3 595.9h0M652.5 596.9h0M647.2 423.6h0M519.4 502.2h0M520.3 502.2h0M601.8 480.8h0M601.5 481.9h0M601.7 482.6h0M603.1 480.9h0M542.5 528.0h0M630.4 600.2h0M655.3 565.1h0M654.8 564.8h0M654.8 565.1h0M661.6 442.4h0M514.0 565.8h0M515.2 565.2h0M513.6 566.9h0M515.0 564.8h0M511.8 565.5h0M502.9 508.2h0M503.6 508.6h0M503.1 507.6h0M622.9 613.8h0M622.3 613.8h0M633.6 558.4h0M632.5 541.9h0M522.7 533.4h0M623.3 474.9h0M582.4 556.7h0M583.4 556.9h0M582.7 556.9h0M570.2 543.0h0M636.3 515.3h0M636.8 514.3h0M635.9 513.1h0M637.1 514.4h0M623.0 478.4h0M624.8 477.7h0M623.7 478.6h0M623.6 476.9h0M623.1 478.8h0M537.3 509.4h0M475.4 536.3h0M475.9 537.1h0M476.6 537.0h0M476.1 536.8h0M650.3 482.1h0M651.1 483.0h0M649.9 482.0h0M648.8 481.4h0M649.3 482.8h0M646.0 431.4h0M593.4 529.0h0M594.9 529.0h0M596.1 529.8h0M594.0 529.9h0M592.9 530.7h0M616.5 525.4h0M616.8 526.0h0M638.4 527.7h0M639.2 527.8h0M637.0 528.6h0M532.2 526.7h0M531.0 525.5h0M530.2 527.8h0M531.8 527.2h0M633.8 507.8h0M634.3 508.3h0M633.5 508.3h0M633.7 507.9h0M597.2 529.1h0M604.3 469.5h0M604.3 469.3h0M594.2 551.6h0M649.8 580.7h0M650.9 579.5h0M493.3 527.3h0M588.7 569.0h0M587.3 568.9h0M477.2 486.4h0M476.4 485.5h0M477.4 485.5h0M565.7 503.8h0M608.7 452.7h0M608.0 451.8h0M608.4 453.5h0M607.6 452.7h0M634.2 551.8h0M633.5 552.4h0M573.7 563.9h0M578.8 591.9h0M656.3 528.2h0M648.0 538.8h0M647.9 539.4h0M649.6 540.6h0M649.0 538.9h0M624.8 524.7h0M624.1 524.6h0M545.3 582.4h0M652.5 491.8h0M650.8 440.5h0M648.1 472.6h0M569.2 542.2h0M498.9 476.9h0M498.9 477.1h0M498.6 476.5h0M498.5 478.1h0M654.0 533.9h0M655.9 532.7h0M655.1 532.8h0M614.5 555.4h0M584.8 575.6h0M513.3 561.3h0M514.4 561.2h0M514.0 560.5h0M618.5 526.1h0M497.1 541.1h0M661.2 504.5h0M634.6 487.6h0M596.5 444.2h0M598.2 444.4h0M596.9 443.9h0M561.1 556.9h0M561.7 557.9h0M572.9 469.3h0M658.5 568.3h0M649.0 457.1h0M656.3 459.0h0M615.1 527.1h0M637.2 426.0h0M635.4 425.4h0M661.2 527.5h0M598.6 554.9h0M597.7 554.5h0M597.7 556.5h0M667.5 594.9h0M576.8 496.6h0M636.4 582.5h0M637.1 582.9h0M635.4 582.4h0M502.4 490.3h0M504.0 488.0h0M502.6 491.1h0M612.6 506.0h0M612.3 505.0h0M644.9 605.5h0M645.2 604.1h0M576.3 561.3h0M541.7 467.1h0M629.8 449.6h0M600.2 531.1h0M600.8 530.7h0M557.9 448.6h0M555.8 448.5h0M557.7 448.6h0M659.6 431.5h0M615.0 583.1h0M612.8 581.6h0M529.8 510.4h0M517.2 505.0h0M518.3 505.2h0M658.8 557.7h0M530.5 483.3h0M570.6 517.4h0M570.0 515.6h0M570.3 516.5h0M506.7 461.5h0M507.3 462.3h0M507.8 460.7h0M506.8 461.3h0M627.5 469.3h0M645.9 453.2h0M551.9 496.1h0M659.1 512.5h0M657.7 512.7h0M658.8 514.3h0M659.6 513.3h0M573.9 516.5h0M508.9 527.8h0M483.8 516.4h0M576.2 445.8h0M575.1 444.5h0M585.6 518.4h0M586.1 517.7h0M584.3 518.8h0M602.7 607.5h0M603.7 606.7h0M579.8 560.3h0M578.8 560.0h0M563.2 573.1h0M555.9 543.3h0M557.7 543.4h0M556.2 545.9h0M554.8 543.1h0M603.0 596.6h0M601.8 596.3h0M602.1 596.9h0M602.3 597.6h0M603.5 598.1h0M490.5 487.8h0M528.8 473.2h0M613.8 593.1h0M612.9 590.6h0M508.7 532.2h0M564.1 555.8h0M564.6 556.0h0M564.3 556.4h0M653.0 599.6h0M653.0 600.2h0M640.4 544.8h0M640.6 545.0h0M641.0 473.6h0M641.0 472.8h0M517.4 560.8h0M517.5 561.9h0M650.3 506.2h0M649.2 506.3h0M582.9 547.6h0M608.0 582.2h0M635.3 452.4h0M659.4 543.4h0M659.7 543.0h0M660.4 544.4h0M642.3 493.1h0M640.8 494.0h0M656.0 612.3h0M654.7 612.1h0M527.4 518.1h0M642.1 461.5h0M642.5 462.1h0M641.5 463.1h0M598.8 468.5h0M598.8 467.0h0M598.3 468.1h0M508.0 526.8h0M614.0 454.0h0M555.4 554.1h0M577.9 596.1h0M579.1 596.5h0M659.2 481.5h0M597.2 551.5h0M596.1 551.9h0M598.2 542.3h0M600.5 543.5h0M606.4 545.9h0M607.5 545.7h0M586.8 569.9h0M609.2 521.8h0M609.4 522.5h0M609.2 521.5h0M510.4 464.0h0M509.0 463.3h0M511.0 465.4h0M545.9 503.8h0M546.1 504.3h0M567.4 516.0h0M512.4 493.5h0M511.4 494.0h0M567.3 496.7h0M566.7 494.6h0M567.3 496.4h0M565.1 498.2h0M654.4 524.3h0M613.7 480.8h0M604.8 461.7h0M644.5 621.7h0M644.4 621.0h0M634.8 579.5h0M518.3 484.7h0M517.4 486.7h0M597.6 526.4h0M597.7 525.7h0M599.4 554.3h0M644.2 493.1h0M599.3 546.8h0M597.4 547.2h0M599.5 546.7h0M600.0 545.9h0M598.1 547.9h0M660.9 555.4h0M660.7 554.8h0M669.3 513.8h0M598.5 547.8h0M597.7 546.3h0M537.4 499.8h0M537.1 501.2h0M615.6 508.9h0M614.6 509.0h0M603.2 535.7h0M603.9 537.3h0M602.8 534.9h0M602.9 536.3h0M604.4 535.6h0M636.3 537.9h0M636.7 538.1h0M618.2 551.7h0M619.2 551.9h0M618.1 552.2h0M618.3 552.5h0M619.1 553.3h0M590.3 463.3h0M592.6 462.6h0M614.9 605.1h0M604.7 470.1h0M634.0 584.0h0M633.0 583.9h0M632.1 584.6h0M634.2 583.6h0M609.6 542.5h0M511.7 560.9h0M510.1 558.8h0M511.8 559.5h0M511.9 559.8h0M584.6 570.2h0M602.4 531.9h0M640.4 588.6h0M495.1 531.1h0M494.5 530.5h0M494.0 530.9h0M493.2 531.4h0M494.3 530.0h0M643.1 512.4h0M644.4 512.0h0M641.8 512.9h0M643.9 512.3h0M643.3 512.5h0M596.4 549.8h0M650.8 460.0h0M633.1 541.6h0M545.9 460.7h0M546.4 459.5h0M544.3 461.7h0M546.4 460.1h0M651.0 503.7h0M652.3 504.0h0M659.1 617.0h0M661.6 617.7h0M498.2 477.9h0M499.9 478.3h0M656.3 631.3h0M654.9 630.9h0M539.3 578.3h0M538.5 578.7h0M566.0 534.9h0M566.6 535.9h0M659.9 602.2h0M664.4 478.4h0M623.3 456.0h0M622.2 455.4h0M623.0 455.7h0M477.6 526.3h0M477.7 525.3h0M477.2 526.1h0M523.6 504.7h0M666.8 593.2h0M666.5 594.1h0M542.9 541.9h0M543.3 541.9h0M542.5 540.9h0M639.0 492.3h0M644.8 629.9h0M593.7 574.3h0M593.8 476.3h0M595.2 477.1h0M594.8 476.9h0M633.1 509.7h0M631.6 509.4h0M631.9 508.3h0M632.4 509.6h0M595.9 496.4h0M596.1 495.8h0M573.2 572.4h0M640.8 527.6h0M619.6 530.6h0M620.2 531.0h0M621.0 529.8h0M558.1 474.2h0M526.1 532.7h0M610.1 443.9h0M610.7 444.8h0M609.0 443.1h0M611.9 443.1h0M608.6 443.7h0M557.6 528.8h0M556.7 529.4h0M602.7 465.8h0M666.2 475.5h0M567.7 541.1h0M651.6 530.6h0M652.1 529.5h0M619.8 610.3h0M618.7 608.9h0M636.8 593.1h0M568.8 567.7h0M569.5 568.3h0M568.5 568.5h0M567.5 568.3h0M560.2 532.5h0M560.4 531.2h0M560.9 532.6h0M560.8 533.0h0M546.1 554.8h0M547.4 553.7h0M547.7 553.0h0M653.6 595.3h0M652.8 593.9h0M572.9 523.1h0M497.3 480.2h0M666.1 453.4h0M537.5 532.3h0M582.7 515.1h0M583.1 515.2h0M583.8 515.8h0M513.7 494.1h0M513.9 494.9h0M650.0 468.7h0M651.7 468.1h0M651.0 470.2h0M652.1 468.1h0M569.1 545.2h0M567.3 546.2h0M564.1 529.5h0M624.1 481.3h0M659.2 611.1h0M579.0 464.8h0M580.1 463.5h0M599.1 474.6h0M600.5 475.4h0M617.5 594.1h0M617.7 593.3h0M592.9 465.6h0M635.2 616.9h0M636.5 617.5h0M626.8 607.0h0M625.7 607.1h0M626.6 605.3h0M509.7 468.6h0M508.8 467.1h0M509.9 468.1h0M652.1 521.7h0M653.0 519.9h0M504.3 464.7h0M504.8 463.8h0M599.9 554.4h0M542.1 461.0h0M547.0 574.1h0M546.7 573.3h0M664.4 478.8h0M614.1 520.5h0M613.5 482.2h0M470.4 495.1h0M470.2 495.5h0M659.1 543.8h0M552.0 502.0h0M552.7 502.6h0M552.1 499.7h0M626.7 475.9h0M545.1 525.5h0M666.0 469.3h0M480.4 482.7h0M480.4 481.7h0M480.1 482.9h0M480.5 481.2h0M481.9 481.2h0M498.6 516.0h0M531.6 534.0h0M531.0 534.0h0M658.0 478.0h0M658.5 476.4h0M657.0 478.5h0M657.0 475.3h0M662.2 428.2h0M548.9 503.6h0M545.8 503.9h0M547.9 502.6h0M511.9 520.6h0M513.4 522.7h0M512.6 521.1h0M615.5 582.5h0M613.3 582.3h0M614.5 582.3h0M615.0 582.6h0M614.6 581.0h0M622.5 493.1h0M622.6 494.3h0M622.2 495.0h0M622.4 495.1h0M635.1 429.6h0M554.8 461.1h0M523.1 528.0h0M527.8 572.3h0M537.4 534.7h0M598.4 588.3h0M599.1 587.9h0M599.7 587.3h0M623.2 458.0h0M640.8 438.5h0M623.5 576.3h0M643.4 523.7h0M645.7 555.2h0M646.5 555.6h0M647.9 554.1h0M659.9 483.7h0M554.7 490.3h0M629.6 606.4h0M546.8 485.1h0M546.5 485.5h0M547.0 485.1h0M545.9 485.6h0M661.8 423.0h0M632.2 550.3h0M632.8 550.1h0M643.9 560.9h0M576.9 591.9h0M647.8 533.6h0M647.2 534.2h0M649.4 533.1h0M579.7 555.9h0M651.5 516.8h0M599.9 543.9h0M556.2 494.4h0M605.5 594.0h0M630.1 610.1h0M561.2 538.9h0M562.2 537.9h0M561.3 537.5h0M561.7 538.0h0M643.0 475.4h0M643.5 477.5h0M660.8 550.8h0M635.5 627.4h0M634.6 627.3h0M598.3 440.4h0M597.3 438.3h0M602.1 602.4h0M603.2 529.2h0M603.1 528.9h0M603.3 529.2h0M605.7 529.6h0M604.1 529.2h0M576.7 577.1h0M577.7 578.4h0M558.7 518.9h0M561.0 518.0h0M539.5 454.1h0M541.6 454.7h0M537.9 453.6h0M635.8 566.7h0M473.1 544.6h0M650.7 527.8h0M649.5 525.7h0M651.2 528.1h0M650.2 526.7h0M650.4 524.8h0M590.8 470.1h0M590.3 468.8h0M658.4 619.9h0M657.1 621.7h0M658.3 620.3h0M580.1 456.5h0M598.3 506.3h0M615.2 523.2h0M616.3 524.0h0M532.1 503.0h0M532.0 503.1h0M531.6 502.7h0M608.4 598.4h0M597.3 463.5h0M597.0 464.0h0M597.7 463.5h0M583.5 547.6h0M610.5 451.9h0M609.8 450.7h0M610.1 451.5h0M633.0 606.5h0M663.8 538.2h0M577.7 563.9h0M577.7 564.1h0M587.1 447.3h0M614.8 591.0h0M631.7 541.6h0M631.0 542.0h0M633.3 541.3h0M631.5 541.4h0M487.6 475.4h0M654.5 434.4h0M640.2 430.7h0M639.8 430.8h0M640.7 431.5h0M593.4 586.2h0M613.4 449.9h0M540.1 537.3h0M501.9 559.6h0M499.3 558.0h0M502.2 559.0h0M553.6 566.3h0M503.5 545.8h0M504.3 545.4h0M503.5 546.1h0M503.2 545.4h0M503.3 546.1h0M591.5 590.0h0M596.4 478.3h0M637.5 482.5h0M638.3 481.0h0M635.1 483.1h0M505.6 558.5h0M506.3 557.8h0M603.4 458.4h0M648.5 493.1h0M571.5 458.7h0M646.2 506.6h0M647.3 505.8h0M615.7 579.5h0M616.7 579.6h0M661.3 597.1h0M661.4 598.0h0M660.0 598.2h0M661.8 597.6h0M662.6 597.2h0M637.9 528.6h0M633.2 508.6h0M553.3 544.6h0M553.6 544.8h0M552.5 545.4h0M567.3 543.6h0M629.9 615.9h0M628.3 615.2h0M624.1 587.7h0M579.3 493.5h0M637.5 591.8h0M636.3 590.8h0M636.5 590.2h0M636.3 507.4h0M637.3 505.6h0M588.7 512.0h0M577.9 533.8h0M646.3 430.1h0M646.6 430.4h0M645.9 428.0h0M668.4 609.1h0M669.2 608.9h0M668.6 609.2h0M641.7 441.3h0M641.4 441.7h0M566.1 568.5h0M628.3 530.4h0M565.9 492.2h0M566.9 493.2h0M566.0 491.2h0M550.4 461.3h0M551.6 461.8h0M659.0 494.9h0M658.0 493.2h0M595.0 454.1h0M602.0 525.1h0M564.5 586.5h0M565.2 588.2h0M562.8 581.5h0M599.5 592.1h0M587.2 561.8h0M664.0 528.8h0M569.1 461.9h0M586.5 543.3h0M535.9 520.8h0M581.6 516.4h0M581.6 517.8h0M554.9 464.0h0M555.5 463.7h0M554.2 465.2h0M556.4 465.5h0M599.7 446.6h0M598.6 448.4h0M600.4 447.9h0M470.9 524.1h0M621.4 448.3h0M620.1 447.3h0M621.5 449.8h0M633.9 607.2h0M631.5 469.2h0M544.3 486.7h0M547.5 451.3h0M546.3 451.4h0M664.6 580.9h0M606.1 458.8h0M550.8 558.6h0M551.5 559.2h0M642.6 607.6h0M627.0 452.7h0M625.4 452.9h0M626.1 454.1h0M570.1 441.8h0M486.0 549.3h0M503.8 557.0h0M638.6 473.8h0M623.4 491.6h0M662.8 568.2h0M493.0 464.7h0M493.6 466.0h0M542.7 468.3h0M564.8 515.8h0M538.8 534.8h0M596.2 516.3h0M597.9 515.3h0M655.9 545.2h0M653.6 441.7h0M654.2 442.9h0M655.0 441.4h0M564.1 501.5h0M563.3 501.2h0M565.3 502.1h0M516.7 496.4h0M516.8 494.4h0M565.7 531.3h0M566.0 531.8h0M574.9 453.7h0M659.2 456.1h0M529.2 502.4h0M528.7 504.3h0M513.2 570.0h0M543.1 553.9h0M543.5 554.1h0M543.0 554.0h0M543.8 555.0h0M640.9 488.2h0M640.4 489.4h0M640.8 486.7h0M575.2 522.7h0M575.2 522.4h0M576.0 522.5h0M623.9 436.8h0M610.3 602.3h0M610.1 601.9h0M613.9 430.7h0M550.8 484.1h0M550.3 483.8h0M572.3 505.1h0M572.1 506.4h0M603.1 449.0h0M643.1 567.8h0M660.6 572.3h0M660.5 571.6h0M659.9 571.5h0M620.2 428.8h0M658.3 565.1h0M659.0 565.3h0M657.1 564.9h0M658.9 565.3h0M608.1 610.6h0M619.8 426.3h0M619.0 604.1h0M621.2 602.5h0M620.3 604.9h0M647.3 470.7h0M646.8 469.9h0M647.1 470.6h0M587.2 589.9h0M588.0 589.8h0M585.6 591.1h0M639.3 494.9h0M555.5 540.6h0M630.1 578.1h0M548.3 502.4h0M533.3 550.1h0M617.0 537.3h0M590.3 570.3h0M589.3 569.9h0M590.7 570.1h0M628.2 606.2h0M559.7 510.3h0M560.8 510.4h0M559.4 510.2h0M560.9 509.9h0M557.7 510.3h0M558.8 493.7h0M557.9 494.9h0M633.8 622.2h0M551.9 497.2h0M521.3 473.1h0M522.6 472.1h0M528.9 510.4h0M528.8 511.3h0M530.1 509.1h0M572.1 575.4h0M571.3 574.9h0M570.8 576.0h0M572.5 576.0h0M571.3 575.8h0M637.0 531.1h0M602.5 570.6h0M601.4 571.4h0M606.6 478.9h0M641.7 580.3h0M665.8 575.6h0M667.7 575.0h0M667.1 574.8h0M666.0 575.9h0M665.2 549.5h0M664.8 550.3h0M669.7 588.0h0M598.2 605.5h0M599.4 605.2h0M659.7 598.1h0M660.8 598.0h0M598.9 457.6h0M598.3 455.9h0M564.0 502.3h0M572.7 543.7h0M572.6 543.7h0M573.9 544.8h0M571.5 543.4h0M573.4 545.8h0M594.4 487.7h0M594.0 487.2h0M594.2 486.8h0M594.3 487.4h0M617.4 608.4h0M616.6 608.8h0M638.8 541.6h0M640.4 540.0h0M621.1 574.4h0M508.3 479.6h0M615.7 534.7h0M614.5 534.0h0M616.0 533.4h0M616.4 534.4h0M615.4 534.0h0M548.0 503.6h0M549.4 504.9h0M546.7 502.0h0M549.7 503.2h0M566.7 490.9h0M564.6 490.0h0M496.7 550.7h0M509.7 486.9h0M596.8 522.7h0M596.7 522.3h0M597.2 523.4h0M663.9 537.2h0M661.8 537.3h0M657.7 420.6h0M653.0 460.5h0M504.5 516.1h0M660.7 443.6h0M618.3 606.9h0M625.5 600.1h0M623.8 600.1h0M611.3 508.4h0M610.5 509.6h0M507.2 566.3h0M507.7 567.3h0M509.4 566.9h0M626.0 550.3h0M535.3 472.3h0M534.5 470.3h0M533.9 471.4h0M534.3 473.1h0M535.5 473.2h0M609.4 496.4h0M608.4 497.6h0M579.0 543.8h0M475.7 545.7h0M637.1 430.6h0M636.5 430.0h0M637.2 430.8h0M665.8 625.1h0M666.0 624.7h0M666.1 627.0h0M665.4 627.8h0M580.7 593.8h0M566.1 449.4h0M567.8 551.2h0M567.3 551.7h0M591.1 494.0h0M652.4 435.5h0M575.4 550.4h0M527.4 495.1h0M547.7 480.4h0M628.3 573.1h0M622.6 471.5h0M622.3 471.7h0M502.4 524.8h0M503.1 545.9h0M642.9 557.4h0M643.2 556.5h0M571.3 556.6h0M663.6 482.7h0M540.3 539.0h0M588.2 593.8h0M588.9 592.8h0M624.7 429.4h0M548.7 543.7h0M548.0 542.4h0M614.0 467.9h0M612.3 468.3h0M614.5 467.8h0M614.6 468.2h0M614.2 466.2h0M620.6 514.2h0M655.1 543.6h0M559.7 535.1h0M547.2 504.8h0M523.3 467.7h0M556.3 498.7h0M554.7 499.6h0M556.2 500.2h0M621.3 515.6h0M649.4 474.3h0M650.8 473.4h0M648.2 473.4h0M648.1 554.8h0M514.7 518.9h0M514.9 518.8h0M585.5 559.8h0M630.1 565.1h0M641.1 475.3h0M641.9 474.8h0M648.7 425.2h0M642.9 466.6h0M644.1 467.5h0M643.8 465.8h0M621.4 533.2h0M598.6 440.9h0M598.6 441.9h0M658.4 581.8h0M659.5 583.4h0M656.4 583.5h0M632.7 534.6h0M597.5 502.7h0M597.4 500.7h0M595.6 503.0h0M546.2 456.0h0M607.0 581.7h0M607.6 581.3h0M606.0 581.3h0M606.6 581.1h0M626.8 573.8h0M626.0 573.6h0M494.9 556.6h0M495.6 555.8h0M494.0 556.9h0M494.8 555.8h0M494.2 555.6h0M635.9 543.3h0M635.0 542.6h0M575.7 457.6h0M648.7 572.9h0M647.5 573.8h0M647.5 571.8h0M643.7 518.4h0M651.9 581.7h0M651.1 581.1h0M651.6 581.5h0M653.3 579.2h0M554.0 582.2h0M496.5 548.3h0M634.1 599.4h0M633.8 599.6h0M634.5 600.7h0M635.2 597.6h0M634.6 598.9h0M471.8 547.3h0M508.2 556.1h0M528.8 540.2h0M550.4 498.4h0M641.0 605.7h0M640.0 606.4h0M639.9 605.9h0M582.4 585.6h0M582.5 587.0h0M582.6 586.1h0M580.2 586.2h0M583.2 583.4h0M653.4 482.2h0M653.2 482.0h0M653.9 481.2h0M654.2 482.5h0M654.3 482.4h0M644.7 488.4h0M508.6 548.1h0M541.0 454.3h0M648.7 516.1h0M649.1 516.9h0M604.9 536.8h0M604.1 535.6h0M604.5 536.4h0M623.2 465.9h0M623.5 464.3h0M625.0 465.2h0M623.6 466.4h0M623.0 466.4h0M661.0 442.1h0M660.6 442.5h0M637.3 581.6h0M636.1 582.4h0M638.9 582.4h0M604.3 537.1h0M602.5 537.7h0M597.9 535.7h0M599.5 520.3h0M583.6 575.5h0M507.1 546.3h0M564.6 460.2h0M592.1 559.4h0M621.2 490.6h0M621.7 490.2h0M655.9 594.5h0M637.2 432.4h0M636.6 432.9h0M637.3 432.5h0M605.7 598.7h0M622.2 483.6h0M667.2 460.5h0M527.6 563.6h0M528.6 562.9h0M599.0 567.3h0M634.4 570.0h0M616.6 548.2h0M617.5 547.8h0M626.4 552.6h0M628.0 553.0h0M627.5 554.4h0M626.3 552.6h0M628.5 551.6h0M664.5 475.7h0M665.1 476.3h0M663.1 475.4h0M642.0 463.7h0M567.6 443.3h0M566.4 444.7h0M610.8 525.7h0M610.4 524.4h0M593.8 473.4h0M541.3 469.5h0M540.2 469.1h0M542.2 469.9h0M542.6 469.9h0M643.8 607.7h0M643.1 606.9h0M638.2 545.4h0M639.0 545.2h0M606.8 604.8h0M627.0 621.3h0M628.4 623.4h0M658.7 436.9h0M665.8 593.8h0M664.2 592.6h0M489.2 476.2h0M625.1 485.5h0M627.2 485.0h0M623.8 485.3h0M585.4 545.7h0M536.6 488.3h0M536.1 489.2h0M596.4 545.5h0M591.2 445.8h0M591.1 444.0h0M654.5 459.4h0M578.2 452.5h0M577.4 451.8h0M580.8 454.6h0M577.6 452.0h0M579.1 453.0h0M576.2 534.4h0M575.1 535.8h0M577.3 534.4h0M575.9 533.4h0M638.6 461.0h0M637.6 460.9h0M640.3 459.9h0M638.5 462.0h0M646.1 438.8h0M603.7 517.4h0M603.4 518.8h0M593.1 505.4h0M593.4 505.0h0M591.8 503.2h0M593.4 505.3h0M497.5 476.0h0M497.9 476.4h0M519.1 561.1h0M520.5 562.1h0M520.2 561.7h0M667.9 522.3h0M668.7 522.3h0M542.0 516.0h0M466.1 479.4h0M466.2 478.7h0M467.2 478.8h0M650.1 589.5h0M649.8 590.1h0M607.5 435.7h0M608.8 435.6h0M525.5 567.1h0M525.6 567.1h0M524.7 566.2h0M487.5 521.3h0M573.3 500.4h0M573.4 500.3h0M537.1 561.6h0M657.4 585.1h0M593.0 475.7h0M592.9 477.2h0M593.3 474.7h0M593.0 474.4h0M593.8 476.3h0M507.6 547.9h0M507.4 547.7h0M538.1 513.1h0M538.5 511.9h0M538.3 513.8h0M537.3 511.8h0M559.2 576.4h0M599.4 607.2h0M600.0 608.0h0M663.1 541.0h0M495.4 535.0h0M605.9 512.1h0M658.6 441.3h0M659.0 440.7h0M517.5 521.8h0M518.4 523.1h0M517.1 521.4h0M569.3 581.7h0M569.0 582.4h0M594.1 546.0h0M562.7 547.2h0M606.9 453.6h0M606.3 453.4h0M607.8 452.4h0M606.8 453.0h0M541.8 513.9h0M650.9 418.4h0M649.4 418.8h0M652.1 416.8h0M545.0 460.7h0M558.7 447.2h0M638.5 522.9h0M611.3 497.4h0M609.2 496.2h0M611.7 498.0h0M611.3 496.7h0M610.6 497.2h0M620.9 471.7h0M620.9 471.4h0M589.3 484.0h0M653.5 470.2h0M566.9 539.8h0M619.6 567.1h0M620.1 567.5h0M567.1 569.8h0M567.1 570.2h0M566.1 569.9h0M647.6 520.0h0M508.6 536.6h0M582.4 437.5h0M659.0 563.6h0M564.1 541.4h0M564.0 540.4h0M577.5 556.9h0M577.6 557.5h0M577.7 441.9h0M558.8 556.7h0M558.5 555.6h0M557.7 558.4h0M557.8 558.4h0M560.6 555.8h0M573.8 581.7h0M575.8 581.6h0M558.3 488.7h0M652.2 585.8h0M653.3 585.7h0M652.2 588.0h0M652.4 586.1h0M653.9 586.4h0M563.6 563.7h0M469.0 471.1h0M468.2 471.7h0M596.2 588.0h0M599.3 457.7h0M599.9 457.1h0M502.9 534.9h0M503.6 534.3h0M503.0 535.6h0M501.4 534.2h0M661.0 516.4h0M661.0 514.9h0M660.9 516.0h0M636.0 507.0h0M482.3 533.7h0M481.0 533.5h0M481.7 534.2h0M640.2 543.0h0M646.6 434.4h0M646.3 434.0h0M646.4 435.0h0M645.0 435.1h0M645.3 569.4h0M646.5 570.5h0M601.4 449.4h0M601.0 449.1h0M602.9 448.1h0M603.1 448.3h0M593.2 475.6h0M585.6 499.7h0M604.2 501.3h0M622.6 597.0h0M625.3 595.6h0M621.2 597.7h0M609.1 605.4h0M632.5 620.7h0M639.6 577.3h0M640.5 575.9h0M638.8 577.6h0M639.5 579.2h0M647.5 627.8h0M517.3 488.6h0M639.7 488.6h0M640.2 489.2h0M557.4 449.2h0M506.4 482.4h0M505.6 482.3h0M656.6 607.5h0M658.2 608.0h0M638.0 437.0h0M638.8 435.7h0M637.4 438.0h0M592.3 545.8h0M583.1 525.2h0M584.5 526.3h0M641.5 470.9h0M594.5 477.6h0M593.7 478.6h0M647.9 450.6h0M541.6 521.7h0M601.2 558.1h0M601.5 559.4h0M600.8 557.3h0M599.7 558.2h0M602.4 557.6h0M612.6 549.7h0M612.0 549.5h0M564.1 481.8h0M507.9 463.1h0M507.0 464.4h0M603.8 558.3h0M605.0 559.5h0" stroke="#bc8f8f" stroke-width="1.35" stroke-linecap="round"/>
<path d="M588.8 528.8h0M570.5 455.4h0M569.9 454.4h0M502.8 547.8h0M503.0 547.7h0M652.1 586.9h0M640.9 431.0h0M640.2 430.8h0M634.3 446.3h0M467.5 503.0h0M491.2 478.9h0M539.2 576.8h0M578.0 548.5h0M532.8 456.2h0M531.3 455.1h0M550.8 554.5h0M551.2 555.0h0M622.5 623.5h0M620.4 623.4h0M555.2 531.5h0M591.3 546.2h0M543.4 449.1h0M543.6 449.3h0M638.0 556.9h0M637.7 557.4h0M581.6 514.3h0M580.6 513.4h0M498.3 501.3h0M501.3 501.4h0M583.3 462.5h0M582.4 462.4h0M607.4 522.8h0M606.6 523.0h0M661.0 533.0h0M624.8 571.6h0M484.2 483.2h0M482.0 482.7h0M478.5 533.2h0M480.1 532.9h0M581.2 585.5h0M647.1 490.8h0M574.3 591.0h0M575.8 591.9h0M619.6 525.4h0M637.6 565.5h0M637.0 566.1h0M624.8 551.8h0M664.5 591.4h0M652.1 529.1h0M651.6 529.0h0M618.4 488.9h0M600.9 440.8h0M599.7 441.6h0M538.7 484.3h0M497.0 544.3h0M496.9 543.5h0M564.5 501.8h0M562.7 500.7h0M584.6 535.9h0M525.5 564.2h0M525.7 564.6h0M643.7 437.2h0M644.1 436.1h0M537.1 474.1h0M537.2 475.5h0M636.6 562.7h0M636.1 563.2h0M619.0 570.7h0M593.1 580.6h0M593.8 580.8h0M528.6 500.8h0M638.8 466.1h0M639.1 465.1h0M633.3 464.9h0M638.2 427.7h0M638.2 428.0h0M669.3 592.2h0M669.5 593.1h0M645.7 491.1h0M645.4 491.6h0M647.2 577.7h0M648.1 576.1h0M597.7 538.8h0M597.4 538.4h0M537.1 450.3h0M537.2 449.9h0M646.4 530.8h0M662.9 539.5h0M614.0 526.0h0M622.8 539.8h0M623.2 540.4h0M568.6 502.6h0M568.2 503.2h0M628.8 461.6h0M629.5 463.4h0M552.1 530.4h0M553.4 529.0h0M554.3 465.3h0M569.2 586.9h0M622.6 430.7h0M621.6 430.9h0M486.3 526.6h0M487.6 527.7h0M635.9 582.4h0M499.2 504.1h0M500.1 505.4h0M568.7 498.4h0M570.0 496.9h0M536.7 457.5h0M537.3 459.9h0M486.1 476.6h0M521.7 461.3h0M629.4 468.7h0M630.4 469.6h0M647.1 480.3h0M645.8 482.1h0M652.9 589.5h0M521.7 565.1h0M522.2 565.6h0M488.7 545.4h0M666.8 645.2h0M651.2 533.7h0M649.5 535.1h0M664.8 595.1h0M502.2 553.9h0M502.5 552.6h0M590.7 565.9h0M603.9 587.4h0M603.3 586.9h0M622.9 474.2h0M620.6 474.9h0M595.8 573.5h0M595.8 572.9h0M642.4 506.3h0M560.0 529.1h0M561.1 528.6h0M574.7 517.5h0M574.3 516.8h0M656.9 429.8h0M493.3 534.6h0M493.2 534.2h0M595.4 594.8h0M534.0 471.7h0M498.5 514.0h0M499.2 514.2h0M525.3 515.6h0M524.2 516.7h0M587.8 568.8h0M588.3 568.6h0M620.8 446.3h0M599.5 486.2h0M599.2 486.2h0M538.7 465.8h0M661.0 610.7h0M624.0 613.7h0M647.2 618.3h0M647.5 617.8h0M615.5 611.5h0M641.1 475.7h0M528.0 512.1h0M527.2 512.9h0M662.5 529.6h0M663.3 530.3h0M536.1 566.9h0M537.9 567.4h0M513.1 486.4h0M651.8 508.2h0M651.0 508.3h0M643.9 461.9h0M644.4 461.9h0M612.2 601.2h0M611.9 603.9h0M646.3 591.9h0M657.9 507.6h0M643.2 537.7h0M643.6 533.9h0M642.2 531.8h0M612.7 594.4h0M560.2 575.9h0M668.3 578.4h0M661.3 600.2h0M661.8 601.6h0M660.4 575.8h0M521.2 472.2h0M520.8 472.0h0M580.8 476.3h0M626.5 593.2h0M629.2 593.7h0M637.8 483.7h0M538.2 527.5h0M611.8 564.8h0M611.0 565.2h0M653.1 416.4h0M557.2 577.4h0M559.1 577.6h0M652.9 454.5h0M656.2 607.6h0M657.6 460.4h0M654.7 418.7h0M553.7 458.0h0M553.8 457.8h0M538.7 479.1h0M634.8 584.1h0M635.7 584.2h0M610.7 560.2h0M471.1 525.5h0M663.3 464.0h0M580.2 485.9h0M620.4 621.6h0M622.8 622.3h0M540.5 536.2h0M542.0 536.3h0M612.4 548.9h0M557.5 448.5h0M558.1 446.9h0M587.4 444.5h0M657.4 417.8h0M611.6 588.5h0M611.6 587.8h0M655.0 633.3h0M655.7 446.2h0M553.5 579.5h0M557.4 517.1h0M557.0 517.5h0M664.2 546.8h0M665.2 546.5h0M580.0 547.7h0M578.8 549.2h0M618.3 513.8h0M667.9 514.9h0M666.9 514.7h0M562.1 517.0h0M610.0 526.5h0M608.9 525.7h0M494.9 542.5h0M563.6 551.9h0M668.2 508.3h0M502.5 501.9h0M501.1 501.1h0M547.2 484.0h0M607.3 595.9h0M607.7 485.9h0M667.3 607.0h0M642.6 457.3h0M643.6 497.6h0M633.1 561.3h0M527.9 519.4h0M657.0 539.4h0M558.8 496.6h0M559.6 498.1h0M588.4 567.2h0M586.9 569.4h0M652.8 486.1h0M616.4 600.9h0M616.3 601.8h0M633.0 564.2h0M633.5 565.6h0M579.4 525.0h0M566.0 576.8h0M564.6 575.6h0M643.4 484.3h0M647.4 430.5h0M647.8 429.6h0M571.6 517.4h0M621.6 546.9h0M613.8 434.7h0M615.0 434.0h0M632.0 612.3h0M601.6 594.7h0M642.0 466.1h0M641.9 466.0h0M609.9 571.8h0M609.0 573.1h0M644.7 631.4h0M644.2 630.3h0M661.8 418.4h0M663.3 419.4h0M628.9 454.7h0M506.8 537.6h0M612.0 525.1h0M610.7 525.1h0M587.8 520.5h0M587.1 519.8h0M668.0 604.8h0M624.5 535.0h0M615.5 435.8h0M589.9 437.1h0M664.6 442.8h0M666.4 441.4h0M635.0 482.8h0M581.4 597.2h0M623.3 491.2h0M510.0 561.1h0M509.3 561.1h0M667.6 594.9h0M667.5 595.8h0M637.5 578.4h0M607.7 561.7h0M608.8 560.8h0M479.5 551.1h0M478.8 549.6h0M600.5 543.1h0M589.4 503.2h0M590.5 503.7h0M503.7 468.6h0M603.8 577.1h0M554.4 546.5h0M603.3 537.6h0M603.4 538.2h0M661.1 479.3h0M661.4 478.1h0M652.3 477.2h0M508.8 488.1h0M509.5 488.3h0M556.4 523.6h0M594.1 515.3h0M594.1 514.3h0M570.4 504.4h0M571.3 505.2h0M491.1 471.8h0M491.0 473.0h0M584.8 564.2h0M584.9 563.4h0M610.5 537.8h0M610.1 537.9h0M615.5 448.9h0M648.8 535.0h0M556.8 509.9h0M646.3 423.7h0M645.9 424.9h0M610.1 469.7h0M554.7 445.2h0M553.8 447.7h0M549.3 504.5h0M485.3 521.4h0M485.3 521.1h0M580.1 473.3h0M653.7 483.7h0M655.2 482.7h0M575.7 507.3h0M576.1 507.7h0M594.8 513.3h0M668.3 573.8h0M615.6 566.4h0M614.2 566.1h0M515.5 518.9h0M516.7 518.7h0M624.1 617.8h0M574.8 537.8h0M570.5 519.5h0M663.6 589.4h0M616.1 538.4h0M617.8 537.7h0M614.9 577.0h0M613.7 578.5h0M658.7 534.1h0M660.1 532.7h0M550.2 534.2h0M551.2 534.0h0M533.5 505.8h0M540.5 454.6h0M537.5 480.5h0M613.5 574.9h0M613.2 575.4h0M622.9 525.7h0M622.1 526.7h0M589.2 508.9h0M642.8 460.4h0M552.3 501.9h0M551.4 500.7h0M541.2 573.4h0M614.8 618.0h0M640.7 528.7h0M640.9 529.2h0M623.3 551.5h0M624.0 551.6h0M669.2 577.3h0M669.0 577.6h0M629.8 510.1h0M630.6 510.0h0M633.7 540.7h0M635.2 541.7h0M663.4 501.4h0M661.8 562.5h0M661.6 563.1h0M615.3 567.8h0M615.0 568.6h0M474.1 541.9h0M475.4 540.7h0M556.9 528.5h0M555.6 528.5h0M599.4 592.0h0M599.2 592.1h0M478.5 511.3h0M645.5 491.2h0M512.7 544.1h0M637.3 461.1h0M639.0 459.6h0M579.9 451.6h0M579.2 452.3h0M570.3 445.1h0M588.1 514.5h0M587.5 514.8h0M495.3 497.8h0M639.0 518.0h0M637.3 517.0h0M652.7 483.9h0M653.7 564.5h0M654.5 563.2h0M518.0 489.9h0M547.9 505.0h0M548.1 506.2h0M668.7 558.6h0M669.0 557.6h0M656.9 613.6h0M607.1 450.1h0M607.1 448.0h0M668.6 490.1h0M619.4 616.6h0M560.2 492.0h0M560.0 490.4h0M643.6 428.2h0M478.8 514.2h0M521.1 546.4h0M520.1 545.6h0M562.1 516.5h0M561.4 514.9h0M535.9 526.0h0M567.1 460.6h0M566.3 459.5h0M658.0 518.4h0M634.4 568.7h0M656.3 436.5h0M657.7 438.1h0M642.1 601.9h0M642.8 601.7h0M628.6 484.1h0M629.3 485.3h0M603.0 469.0h0M600.5 485.0h0M601.0 484.2h0M553.6 548.2h0M614.4 585.2h0M621.6 442.3h0M621.4 441.4h0M638.2 440.9h0M609.8 613.3h0M655.7 533.8h0M574.1 491.0h0M630.7 594.4h0M604.1 455.1h0M476.9 506.2h0M617.3 570.9h0M641.7 498.6h0M642.7 498.1h0M565.6 468.4h0M565.7 468.3h0M623.2 587.8h0M656.5 515.6h0M619.3 437.2h0M588.5 517.9h0M483.0 474.1h0M481.3 474.5h0M597.3 601.8h0M595.9 602.3h0M474.0 542.0h0M666.2 483.3h0M666.4 484.5h0M656.5 478.6h0M656.0 477.3h0M553.2 488.5h0M648.1 482.0h0M647.7 481.5h0M539.6 474.7h0M508.6 476.3h0M509.3 476.2h0M645.4 595.2h0M645.3 595.5h0M633.9 629.9h0M595.1 567.2h0M594.6 566.7h0M549.9 549.1h0M530.7 503.4h0M530.6 502.6h0M469.9 477.7h0M643.7 480.0h0M644.4 479.1h0" stroke="#ffcf00" stroke-width="1.35" stroke-linecap="round"/>
<path d="M615.2 615.5h0M615.1 617.8h0M614.4 574.5h0M616.1 572.8h0M667.3 540.4h0M666.1 540.8h0M622.3 589.3h0M622.5 590.0h0M630.3 543.2h0M632.4 543.7h0M653.8 582.8h0M646.7 538.8h0M649.8 538.4h0M499.2 520.4h0M609.0 477.9h0M607.7 476.0h0M598.4 538.0h0M625.0 594.3h0M625.5 594.4h0M609.1 521.3h0M654.9 539.7h0M655.5 539.8h0M642.1 449.4h0M525.0 541.8h0M625.7 475.6h0M624.0 476.5h0M652.2 554.4h0M652.7 555.0h0M635.0 578.0h0M644.8 566.7h0M638.7 473.4h0M637.1 472.5h0M640.4 589.1h0M611.6 606.8h0M610.5 607.5h0M551.8 514.6h0M604.0 459.2h0M651.0 497.4h0M651.9 498.0h0M642.0 603.3h0M616.1 597.9h0M617.9 597.7h0M623.6 573.6h0M622.4 571.7h0M658.3 635.5h0M657.2 636.4h0M583.8 564.0h0M571.0 582.7h0M604.3 444.5h0M665.6 464.3h0M584.8 483.7h0M556.0 453.9h0M544.7 458.1h0M500.5 525.2h0M662.6 571.3h0M661.7 570.5h0M627.9 525.3h0M628.7 526.2h0M643.6 608.2h0M587.7 577.8h0M588.4 580.2h0M662.4 465.6h0M660.9 466.3h0M583.2 568.2h0M642.7 472.7h0M641.1 471.8h0M660.5 491.4h0M659.7 490.2h0M585.9 550.1h0M603.9 521.4h0M584.5 555.7h0M572.3 539.5h0M572.0 540.5h0M645.1 517.5h0M646.4 517.2h0M546.7 471.8h0M546.7 471.9h0M665.7 469.6h0M666.0 471.2h0M566.5 567.6h0M627.6 468.7h0M635.7 618.7h0M611.2 452.6h0M609.6 452.5h0M612.5 527.5h0M638.1 624.1h0M583.5 585.3h0M583.1 585.2h0M668.8 492.2h0M611.3 613.8h0M610.5 614.2h0M615.6 611.1h0M614.9 610.6h0M614.4 599.6h0M633.0 485.9h0M589.0 471.6h0M658.6 433.6h0M658.3 433.0h0M580.1 452.5h0M663.5 565.8h0M664.6 565.4h0M650.4 432.8h0M651.6 434.3h0M663.2 509.0h0M612.1 536.3h0M634.8 524.4h0M642.2 516.7h0M573.0 554.9h0M572.5 555.8h0M633.7 582.7h0M630.5 558.4h0M637.6 532.2h0M638.1 531.8h0M633.0 572.9h0M558.6 457.5h0M559.2 457.8h0M596.8 604.9h0M596.5 605.2h0M660.3 506.8h0M660.5 506.6h0M564.5 532.1h0M564.6 531.0h0M616.3 566.4h0M615.0 567.4h0M565.5 524.8h0M564.3 525.2h0M607.7 531.5h0M638.5 612.8h0M637.9 611.7h0M639.0 606.4h0M638.3 607.1h0M658.2 574.5h0M658.2 574.6h0M611.8 465.4h0M631.7 616.5h0M623.7 583.6h0M624.7 585.0h0M647.6 427.8h0M620.4 560.1h0M620.3 559.6h0M669.7 518.6h0M603.1 554.6h0M603.4 553.7h0M618.5 538.9h0M634.9 477.0h0M636.9 478.1h0M633.0 435.9h0M632.1 436.2h0M663.0 590.0h0M641.4 505.5h0M635.2 515.7h0M635.7 516.6h0M627.8 449.5h0M633.7 459.6h0M522.3 484.2h0M632.9 621.6h0M613.0 551.2h0M645.9 499.8h0M646.0 499.8h0M638.8 485.6h0M638.4 485.0h0M647.4 427.2h0M646.4 456.1h0M617.0 618.9h0M617.5 618.5h0M648.2 636.7h0M659.6 452.2h0M661.3 451.1h0M651.9 563.6h0M651.2 563.1h0M654.6 530.5h0M652.8 529.3h0M586.9 481.4h0M586.5 480.7h0M620.4 555.8h0M620.0 556.6h0M631.6 487.3h0M666.7 584.8h0M647.9 615.1h0M647.5 616.4h0M523.1 565.6h0M585.6 462.1h0M585.8 462.3h0M578.3 477.1h0M578.0 476.7h0M661.8 574.6h0M661.3 545.2h0M586.4 530.8h0M654.1 522.4h0M654.7 522.9h0M669.5 474.8h0M665.4 470.7h0M620.9 601.6h0M668.1 413.1h0M666.9 413.2h0M658.2 532.3h0M629.6 543.6h0M628.9 544.1h0M551.4 560.2h0M661.9 469.4h0M548.5 469.3h0M549.3 471.0h0M575.9 510.2h0M576.0 510.0h0M640.0 567.6h0M639.9 567.2h0M549.5 539.7h0M603.9 509.7h0M589.0 505.2h0M663.8 518.1h0M628.0 449.8h0M628.2 450.8h0M642.6 614.6h0M539.4 510.4h0M538.2 508.8h0M614.2 611.0h0M649.8 433.4h0M649.5 434.3h0M548.0 556.6h0M549.0 557.3h0M630.4 530.8h0M597.5 558.0h0M586.2 538.9h0M586.7 537.2h0M614.7 472.6h0M615.1 470.6h0M639.8 455.1h0M665.0 493.8h0M563.6 525.9h0M563.7 527.2h0M590.1 522.0h0M589.5 520.7h0M508.7 491.8h0M508.2 493.2h0M648.2 602.7h0M664.5 435.8h0M553.3 493.1h0M574.8 545.2h0M575.1 544.3h0M641.2 578.6h0M668.6 490.1h0M663.0 517.7h0M664.2 517.8h0M666.7 540.3h0M643.7 511.4h0M643.0 511.7h0M570.8 444.1h0M619.6 497.5h0M619.6 496.9h0M662.1 526.5h0M649.5 452.4h0M649.2 453.4h0M669.1 479.5h0M669.4 478.8h0M628.8 436.3h0M628.0 437.4h0M607.3 499.8h0M638.5 466.4h0M631.2 479.6h0M492.7 466.9h0M493.5 468.4h0M543.0 458.9h0M551.7 565.1h0M551.8 566.0h0M572.7 592.5h0M570.9 591.8h0M608.4 486.7h0M605.1 504.9h0M656.2 491.7h0M656.1 491.1h0M663.8 585.9h0M658.3 577.5h0M659.6 578.2h0M618.8 592.2h0M620.1 593.7h0M629.7 598.8h0M666.7 419.4h0M668.0 462.0h0M666.4 461.9h0M667.8 628.2h0M668.7 627.1h0M533.9 500.9h0M600.2 446.7h0M649.4 560.8h0M544.8 552.8h0M657.3 598.5h0M599.1 449.9h0M504.3 527.4h0M505.1 525.5h0M645.0 628.1h0M648.5 628.3h0M634.9 568.1h0M635.0 569.7h0M547.7 533.9h0M547.4 533.8h0M636.8 474.3h0M648.2 567.8h0M639.1 459.6h0M602.2 550.9h0M602.2 550.8h0M541.3 527.9h0M617.3 521.7h0M614.4 521.3h0M642.1 474.5h0M642.0 474.6h0M640.6 432.7h0M602.7 445.2h0M663.9 427.7h0M662.9 427.8h0M645.2 534.7h0M664.5 483.2h0M664.0 483.7h0" stroke="#1010e0" stroke-width="1.4" stroke-linecap="round"/>
<path d="M645.5 589.7h0M589.5 470.1h0M610.8 579.6h0M574.1 463.0h0M566.1 466.4h0M619.2 515.6h0M622.0 596.0h0M623.2 515.6h0M581.9 494.9h0M528.7 521.9h0M605.5 573.0h0M620.0 559.6h0M598.6 516.8h0M656.2 620.6h0M512.1 512.7h0M593.4 542.3h0M601.8 556.7h0M617.4 432.1h0M537.6 499.5h0M613.7 445.1h0M598.7 531.1h0M618.2 444.2h0M601.0 448.9h0M615.2 567.7h0M549.2 508.4h0M538.3 539.5h0" stroke="#20c8f0" stroke-width="1.35" stroke-linecap="round"/>
<path d="M634.1 440.5h0M652.5 525.1h0M493.6 472.7h0M659.1 486.2h0M615.9 474.1h0M546.2 531.2h0M654.5 598.5h0M553.6 491.7h0M642.4 526.9h0M594.3 523.1h0M655.4 613.8h0" stroke="#f0208a" stroke-width="1.35" stroke-linecap="round"/></g>
<text x="17.2" y="690.4" font-size="23.8" font-weight="bold">E</text>
<g><line x1="23.0" y1="703.5" x2="103.1" y2="802.9" stroke="#f4a258" stroke-width="0.9"/>
<ellipse cx="23.0" cy="698.0" rx="2.7" ry="4.0" fill="none" stroke="#a3324f" stroke-width="1.0"/>
<ellipse cx="103.1" cy="796.8" rx="2.9" ry="3.9" fill="none" stroke="#f4a258" stroke-width="0.7"/>
<circle cx="23.0" cy="703.5" r="4.7" fill="#bc8f8f"/>
<circle cx="103.1" cy="802.9" r="2.9" fill="#8c5e5e"/>
<text x="29.6" y="705.2" font-size="7.9">Macrophage</text>
<text x="36.8" y="805.3" font-size="7.9">Pro. Macrophage</text>
<line x1="122.8" y1="704.5" x2="172.7" y2="803.2" stroke="#fde9c0" stroke-width="0.6"/>
<line x1="122.8" y1="704.5" x2="203.7" y2="707.7" stroke="#fde9c0" stroke-width="0.8"/>
<line x1="203.7" y1="707.7" x2="172.7" y2="803.2" stroke="#fbd38e" stroke-width="0.6"/>
<line x1="156.1" y1="721.2" x2="172.7" y2="803.2" stroke="#f8bf74" stroke-width="0.8"/>
<line x1="122.8" y1="704.5" x2="156.1" y2="721.2" stroke="#e8553a" stroke-width="1.2"/>
<line x1="156.1" y1="721.2" x2="203.7" y2="707.7" stroke="#f06c48" stroke-width="1.0"/>
<ellipse cx="122.5" cy="698.6" rx="3.0" ry="3.9" fill="none" stroke="#fde9c0" stroke-width="0.7"/>
<ellipse cx="156.1" cy="714.3" rx="3.6" ry="4.3" fill="none" stroke="#ef7a58" stroke-width="0.9"/>
<ellipse cx="203.7" cy="701.4" rx="3.6" ry="4.2" fill="none" stroke="#f8bf74" stroke-width="0.8"/>
<ellipse cx="173.0" cy="797.0" rx="3.0" ry="4.0" fill="none" stroke="#fde9c0" stroke-width="0.6"/>
<circle cx="122.8" cy="704.5" r="3.0" fill="#8c5e5e"/>
<circle cx="156.1" cy="721.2" r="4.8" fill="#bc8f8f"/>
<circle cx="203.7" cy="707.7" r="3.1" fill="#ffd700"/>
<circle cx="172.7" cy="803.2" r="3.0" fill="#e3ad08"/>
<text x="110.5" y="700.4" font-size="8.18">Pro. Macrophage</text>
<text x="110.9" y="731.1" font-size="8.18">Macrophage</text>
<text x="183.2" y="698.3" font-size="8.18">ILC &amp; T</text>
<text x="123.1" y="803.8" font-size="8.18">Pro. ILC &amp; T</text>
<line x1="283.8" y1="739.5" x2="286.2" y2="682.3" stroke="#fbd38e" stroke-width="0.5" stroke-opacity="0.8"/>
<line x1="283.8" y1="739.5" x2="234.3" y2="723.5" stroke="#fbd38e" stroke-width="0.5" stroke-opacity="0.8"/>
<line x1="283.8" y1="739.5" x2="280.1" y2="724.8" stroke="#fbd38e" stroke-width="0.5" stroke-opacity="0.8"/>
<line x1="283.8" y1="739.5" x2="319.6" y2="726.6" stroke="#fbd38e" stroke-width="0.5" stroke-opacity="0.8"/>
<line x1="283.8" y1="739.5" x2="310.8" y2="777.9" stroke="#fbd38e" stroke-width="0.5" stroke-opacity="0.8"/>
<line x1="283.8" y1="739.5" x2="240.9" y2="794.7" stroke="#fbd38e" stroke-width="0.5" stroke-opacity="0.8"/>
<line x1="283.8" y1="739.5" x2="288.3" y2="735.4" stroke="#fbd38e" stroke-width="0.5" stroke-opacity="0.8"/>
<line x1="283.8" y1="739.5" x2="277.7" y2="740.5" stroke="#fbd38e" stroke-width="0.5" stroke-opacity="0.8"/>
<line x1="283.8" y1="739.5" x2="286.7" y2="747.7" stroke="#fbd38e" stroke-width="0.5" stroke-opacity="0.8"/>
<line x1="288.3" y1="735.4" x2="286.2" y2="682.3" stroke="#fbd38e" stroke-width="0.5" stroke-opacity="0.8"/>
<line x1="288.3" y1="735.4" x2="234.3" y2="723.5" stroke="#fbd38e" stroke-width="0.5" stroke-opacity="0.8"/>
<line x1="288.3" y1="735.4" x2="280.1" y2="724.8" stroke="#fbd38e" stroke-width="0.5" stroke-opacity="0.8"/>
<line x1="288.3" y1="735.4" x2="319.6" y2="726.6" stroke="#fbd38e" stroke-width="0.5" stroke-opacity="0.8"/>
<line x1="288.3" y1="735.4" x2="310.8" y2="777.9" stroke="#fbd38e" stroke-width="0.5" stroke-opacity="0.8"/>
<line x1="288.3" y1="735.4" x2="240.9" y2="794.7" stroke="#fbd38e" stroke-width="0.5" stroke-opacity="0.8"/>
<line x1="288.3" y1="735.4" x2="277.7" y2="740.5" stroke="#fbd38e" stroke-width="0.5" stroke-opacity="0.8"/>
<line x1="288.3" y1="735.4" x2="283.8" y2="739.5" stroke="#fbd38e" stroke-width="0.5" stroke-opacity="0.8"/>
<line x1="288.3" y1="735.4" x2="286.7" y2="747.7" stroke="#fbd38e" stroke-width="0.5" stroke-opacity="0.8"/>
<line x1="277.7" y1="740.5" x2="286.2" y2="682.3" stroke="#fbd38e" stroke-width="0.5" stroke-opacity="0.8"/>
<line x1="277.7" y1="740.5" x2="234.3" y2="723.5" stroke="#fbd38e" stroke-width="0.5" stroke-opacity="0.8"/>
<line x1="277.7" y1="740.5" x2="280.1" y2="724.8" stroke="#fbd38e" stroke-width="0.5" stroke-opacity="0.8"/>
<line x1="277.7" y1="740.5" x2="319.6" y2="726.6" stroke="#fbd38e" stroke-width="0.5" stroke-opacity="0.8"/>
<line x1="277.7" y1="740.5" x2="310.8" y2="777.9" stroke="#fbd38e" stroke-width="0.5" stroke-opacity="0.8"/>
<line x1="277.7" y1="740.5" x2="240.9" y2="794.7" stroke="#fbd38e" stroke-width="0.5" stroke-opacity="0.8"/>
<line x1="277.7" y1="740.5" x2="288.3" y2="735.4" stroke="#fbd38e" stroke-width="0.5" stroke-opacity="0.8"/>
<line x1="277.7" y1="740.5" x2="283.8" y2="739.5" stroke="#fbd38e" stroke-width="0.5" stroke-opacity="0.8"/>
<line x1="277.7" y1="740.5" x2="286.7" y2="747.7" stroke="#fbd38e" stroke-width="0.5" stroke-opacity="0.8"/>
<line x1="286.7" y1="747.7" x2="286.2" y2="682.3" stroke="#fbd38e" stroke-width="0.5" stroke-opacity="0.8"/>
<line x1="286.7" y1="747.7" x2="234.3" y2="723.5" stroke="#fbd38e" stroke-width="0.5" stroke-opacity="0.8"/>
<line x1="286.7" y1="747.7" x2="280.1" y2="724.8" stroke="#fbd38e" stroke-width="0.5" stroke-opacity="0.8"/>
<line x1="286.7" y1="747.7" x2="319.6" y2="726.6" stroke="#fbd38e" stroke-width="0.5" stroke-opacity="0.8"/>
<line x1="286.7" y1="747.7" x2="310.8" y2="777.9" stroke="#fbd38e" stroke-width="0.5" stroke-opacity="0.8"/>
<line x1="286.7" y1="747.7" x2="240.9" y2="794.7" stroke="#fbd38e" stroke-width="0.5" stroke-opacity="0.8"/>
<line x1="286.7" y1="747.7" x2="288.3" y2="735.4" stroke="#fbd38e" stroke-width="0.5" stroke-opacity="0.8"/>
<line x1="286.7" y1="747.7" x2="277.7" y2="740.5" stroke="#fbd38e" stroke-width="0.5" stroke-opacity="0.8"/>
<line x1="286.7" y1="747.7" x2="283.8" y2="739.5" stroke="#fbd38e" stroke-width="0.5" stroke-opacity="0.8"/>
<line x1="286.2" y1="682.3" x2="234.3" y2="723.5" stroke="#fde9c0" stroke-width="0.5"/>
<line x1="286.2" y1="682.3" x2="319.6" y2="726.6" stroke="#fde9c0" stroke-width="0.5"/>
<line x1="319.6" y1="726.6" x2="310.8" y2="777.9" stroke="#fde9c0" stroke-width="0.5"/>
<line x1="234.3" y1="723.5" x2="283.8" y2="739.5" stroke="#f4a258" stroke-width="0.9"/>
<line x1="234.3" y1="723.5" x2="288.3" y2="735.4" stroke="#f4a258" stroke-width="0.8"/>
<line x1="234.3" y1="723.5" x2="277.7" y2="740.5" stroke="#f8bf74" stroke-width="0.8"/>
<line x1="234.3" y1="723.5" x2="280.1" y2="724.8" stroke="#f8bf74" stroke-width="0.6"/>
<line x1="286.2" y1="682.3" x2="283.8" y2="739.5" stroke="#f4a258" stroke-width="0.8"/>
<line x1="286.2" y1="682.3" x2="288.3" y2="735.4" stroke="#f8bf74" stroke-width="0.7"/>
<line x1="286.2" y1="682.3" x2="280.1" y2="724.8" stroke="#f8bf74" stroke-width="0.6"/>
<line x1="319.6" y1="726.6" x2="288.3" y2="735.4" stroke="#f4a258" stroke-width="0.9"/>
<line x1="319.6" y1="726.6" x2="283.8" y2="739.5" stroke="#f4a258" stroke-width="0.8"/>
<line x1="319.6" y1="726.6" x2="277.7" y2="740.5" stroke="#f8bf74" stroke-width="0.6"/>
<line x1="310.8" y1="777.9" x2="283.8" y2="739.5" stroke="#f4a258" stroke-width="0.9"/>
<line x1="310.8" y1="777.9" x2="286.7" y2="747.7" stroke="#f8bf74" stroke-width="0.7"/>
<line x1="310.8" y1="777.9" x2="288.3" y2="735.4" stroke="#f8bf74" stroke-width="0.6"/>
<line x1="240.9" y1="794.7" x2="283.8" y2="739.5" stroke="#f4a258" stroke-width="0.9"/>
<line x1="240.9" y1="794.7" x2="277.7" y2="740.5" stroke="#f8bf74" stroke-width="0.8"/>
<line x1="240.9" y1="794.7" x2="288.3" y2="735.4" stroke="#f8bf74" stroke-width="0.6"/>
<line x1="280.1" y1="724.8" x2="283.8" y2="739.5" stroke="#e8553a" stroke-width="0.9"/>
<line x1="280.1" y1="724.8" x2="277.7" y2="740.5" stroke="#ef7048" stroke-width="0.8"/>
<line x1="280.1" y1="724.8" x2="288.3" y2="735.4" stroke="#e8553a" stroke-width="0.8"/>
<ellipse cx="237.5" cy="790.5" rx="3.8" ry="4.2" fill="none" stroke="#fde9c0" stroke-width="0.6"/>
<ellipse cx="284.0" cy="733.5" rx="4.5" ry="4.5" fill="none" stroke="#f8bf74" stroke-width="0.5"/>
<circle cx="286.2" cy="682.3" r="2.9" fill="#00bfff"/>
<circle cx="234.3" cy="723.5" r="2.9" fill="#6495ed"/>
<circle cx="280.1" cy="724.8" r="3.0" fill="#daa520"/>
<circle cx="319.6" cy="726.6" r="3.0" fill="#ff1493"/>
<circle cx="310.8" cy="777.9" r="3.0" fill="#8080ff"/>
<circle cx="240.9" cy="794.7" r="3.0" fill="#ba55d3"/>
<circle cx="288.3" cy="735.4" r="3.2" fill="#ffd700"/>
<circle cx="277.7" cy="740.5" r="3.1" fill="#8c5e5e"/>
<circle cx="283.8" cy="739.5" r="5.0" fill="#bc8f8f"/>
<circle cx="286.7" cy="747.7" r="3.1" fill="#0000ff"/>
<text x="289.0" y="684.0" font-size="7.68">B</text>
<text x="216.8" y="719.8" font-size="7.68">Pro. B</text>
<text x="258.2" y="721.4" font-size="7.68">Pro. ILC &amp; T</text>
<text x="313.4" y="722.3" font-size="7.68">NK</text>
<text x="286.9" y="731.5" font-size="7.68">ILC &amp; T</text>
<text x="214.3" y="743.3" font-size="7.68">Pro. Macrophage</text>
<text x="286.9" y="745.4" font-size="7.68">Macrophage</text>
<text x="263.8" y="757.0" font-size="7.68">Dendritic</text>
<text x="280.7" y="787.8" font-size="7.68">Pro. Dendritic</text>
<text x="228.6" y="802.0" font-size="7.68">Pro. NK</text>
<line x1="406.6" y1="724.2" x2="373.5" y2="685.9" stroke="#fbd38e" stroke-width="0.5" stroke-opacity="0.8"/>
<line x1="406.6" y1="724.2" x2="426.1" y2="692.5" stroke="#fbd38e" stroke-width="0.5" stroke-opacity="0.8"/>
<line x1="406.6" y1="724.2" x2="426.1" y2="713.3" stroke="#fbd38e" stroke-width="0.5" stroke-opacity="0.8"/>
<line x1="406.6" y1="724.2" x2="440.4" y2="755.4" stroke="#fbd38e" stroke-width="0.5" stroke-opacity="0.8"/>
<line x1="406.6" y1="724.2" x2="355.5" y2="797.7" stroke="#fbd38e" stroke-width="0.5" stroke-opacity="0.8"/>
<line x1="406.6" y1="724.2" x2="371.9" y2="731.3" stroke="#fbd38e" stroke-width="0.5" stroke-opacity="0.8"/>
<line x1="406.6" y1="724.2" x2="395.0" y2="730.5" stroke="#fbd38e" stroke-width="0.5" stroke-opacity="0.8"/>
<line x1="406.6" y1="724.2" x2="406.0" y2="717.4" stroke="#fbd38e" stroke-width="0.5" stroke-opacity="0.8"/>
<line x1="406.6" y1="724.2" x2="419.5" y2="728.2" stroke="#fbd38e" stroke-width="0.5" stroke-opacity="0.8"/>
<line x1="395.0" y1="730.5" x2="373.5" y2="685.9" stroke="#fbd38e" stroke-width="0.5" stroke-opacity="0.8"/>
<line x1="395.0" y1="730.5" x2="426.1" y2="692.5" stroke="#fbd38e" stroke-width="0.5" stroke-opacity="0.8"/>
<line x1="395.0" y1="730.5" x2="426.1" y2="713.3" stroke="#fbd38e" stroke-width="0.5" stroke-opacity="0.8"/>
<line x1="395.0" y1="730.5" x2="440.4" y2="755.4" stroke="#fbd38e" stroke-width="0.5" stroke-opacity="0.8"/>
<line x1="395.0" y1="730.5" x2="355.5" y2="797.7" stroke="#fbd38e" stroke-width="0.5" stroke-opacity="0.8"/>
<line x1="395.0" y1="730.5" x2="371.9" y2="731.3" stroke="#fbd38e" stroke-width="0.5" stroke-opacity="0.8"/>
<line x1="395.0" y1="730.5" x2="406.0" y2="717.4" stroke="#fbd38e" stroke-width="0.5" stroke-opacity="0.8"/>
<line x1="395.0" y1="730.5" x2="419.5" y2="728.2" stroke="#fbd38e" stroke-width="0.5" stroke-opacity="0.8"/>
<line x1="395.0" y1="730.5" x2="406.6" y2="724.2" stroke="#fbd38e" stroke-width="0.5" stroke-opacity="0.8"/>
<line x1="419.5" y1="728.2" x2="373.5" y2="685.9" stroke="#fbd38e" stroke-width="0.5" stroke-opacity="0.8"/>
<line x1="419.5" y1="728.2" x2="426.1" y2="692.5" stroke="#fbd38e" stroke-width="0.5" stroke-opacity="0.8"/>
<line x1="419.5" y1="728.2" x2="426.1" y2="713.3" stroke="#fbd38e" stroke-width="0.5" stroke-opacity="0.8"/>
<line x1="419.5" y1="728.2" x2="440.4" y2="755.4" stroke="#fbd38e" stroke-width="0.5" stroke-opacity="0.8"/>
<line x1="419.5" y1="728.2" x2="355.5" y2="797.7" stroke="#fbd38e" stroke-width="0.5" stroke-opacity="0.8"/>
<line x1="419.5" y1="728.2" x2="371.9" y2="731.3" stroke="#fbd38e" stroke-width="0.5" stroke-opacity="0.8"/>
<line x1="419.5" y1="728.2" x2="395.0" y2="730.5" stroke="#fbd38e" stroke-width="0.5" stroke-opacity="0.8"/>
<line x1="419.5" y1="728.2" x2="406.0" y2="717.4" stroke="#fbd38e" stroke-width="0.5" stroke-opacity="0.8"/>
<line x1="419.5" y1="728.2" x2="406.6" y2="724.2" stroke="#fbd38e" stroke-width="0.5" stroke-opacity="0.8"/>
<line x1="406.0" y1="717.4" x2="373.5" y2="685.9" stroke="#fbd38e" stroke-width="0.5" stroke-opacity="0.8"/>
<line x1="406.0" y1="717.4" x2="426.1" y2="692.5" stroke="#fbd38e" stroke-width="0.5" stroke-opacity="0.8"/>
<line x1="406.0" y1="717.4" x2="426.1" y2="713.3" stroke="#fbd38e" stroke-width="0.5" stroke-opacity="0.8"/>
<line x1="406.0" y1="717.4" x2="440.4" y2="755.4" stroke="#fbd38e" stroke-width="0.5" stroke-opacity="0.8"/>
<line x1="406.0" y1="717.4" x2="355.5" y2="797.7" stroke="#fbd38e" stroke-width="0.5" stroke-opacity="0.8"/>
<line x1="406.0" y1="717.4" x2="371.9" y2="731.3" stroke="#fbd38e" stroke-width="0.5" stroke-opacity="0.8"/>
<line x1="406.0" y1="717.4" x2="395.0" y2="730.5" stroke="#fbd38e" stroke-width="0.5" stroke-opacity="0.8"/>
<line x1="406.0" y1="717.4" x2="419.5" y2="728.2" stroke="#fbd38e" stroke-width="0.5" stroke-opacity="0.8"/>
<line x1="406.0" y1="717.4" x2="406.6" y2="724.2" stroke="#fbd38e" stroke-width="0.5" stroke-opacity="0.8"/>
<line x1="373.5" y1="685.9" x2="355.5" y2="797.7" stroke="#fde9c0" stroke-width="0.5"/>
<line x1="355.5" y1="797.7" x2="440.4" y2="755.4" stroke="#fde9c0" stroke-width="0.5"/>
<line x1="373.5" y1="685.9" x2="440.4" y2="755.4" stroke="#fde9c0" stroke-width="0.5"/>
<line x1="426.1" y1="692.5" x2="440.4" y2="755.4" stroke="#fbd38e" stroke-width="0.5"/>
<line x1="371.9" y1="731.3" x2="355.5" y2="797.7" stroke="#fde9c0" stroke-width="0.5"/>
<line x1="373.5" y1="685.9" x2="406.6" y2="724.2" stroke="#f4a258" stroke-width="0.9"/>
<line x1="373.5" y1="685.9" x2="406.0" y2="717.4" stroke="#f4a258" stroke-width="0.8"/>
<line x1="373.5" y1="685.9" x2="419.5" y2="728.2" stroke="#f8bf74" stroke-width="0.7"/>
<line x1="373.5" y1="685.9" x2="426.1" y2="692.5" stroke="#f8bf74" stroke-width="0.6"/>
<line x1="426.1" y1="692.5" x2="406.6" y2="724.2" stroke="#f4a258" stroke-width="0.9"/>
<line x1="426.1" y1="692.5" x2="406.0" y2="717.4" stroke="#f4a258" stroke-width="0.8"/>
<line x1="426.1" y1="692.5" x2="395.0" y2="730.5" stroke="#f8bf74" stroke-width="0.7"/>
<line x1="426.1" y1="692.5" x2="371.9" y2="731.3" stroke="#f8bf74" stroke-width="0.6"/>
<line x1="371.9" y1="731.3" x2="406.6" y2="724.2" stroke="#e8553a" stroke-width="1.0"/>
<line x1="371.9" y1="731.3" x2="419.5" y2="728.2" stroke="#e8553a" stroke-width="0.9"/>
<line x1="371.9" y1="731.3" x2="406.0" y2="717.4" stroke="#ef7048" stroke-width="0.8"/>
<line x1="371.9" y1="731.3" x2="426.1" y2="713.3" stroke="#f4a258" stroke-width="0.7"/>
<line x1="395.0" y1="730.5" x2="426.1" y2="713.3" stroke="#e8553a" stroke-width="0.8"/>
<line x1="395.0" y1="730.5" x2="406.6" y2="724.2" stroke="#e8553a" stroke-width="0.9"/>
<line x1="440.4" y1="755.4" x2="406.6" y2="724.2" stroke="#f4a258" stroke-width="0.9"/>
<line x1="440.4" y1="755.4" x2="406.0" y2="717.4" stroke="#f4a258" stroke-width="0.7"/>
<line x1="440.4" y1="755.4" x2="371.9" y2="731.3" stroke="#f8bf74" stroke-width="0.6"/>
<line x1="355.5" y1="797.7" x2="406.6" y2="724.2" stroke="#f8bf74" stroke-width="0.7"/>
<line x1="355.5" y1="797.7" x2="395.0" y2="730.5" stroke="#f8bf74" stroke-width="0.6"/>
<line x1="355.5" y1="797.7" x2="419.5" y2="728.2" stroke="#fbd38e" stroke-width="0.6"/>
<line x1="355.5" y1="797.7" x2="406.0" y2="717.4" stroke="#fbd38e" stroke-width="0.6"/>
<line x1="426.1" y1="713.3" x2="406.6" y2="724.2" stroke="#e8553a" stroke-width="0.9"/>
<line x1="426.1" y1="713.3" x2="406.0" y2="717.4" stroke="#f4a258" stroke-width="0.8"/>
<ellipse cx="374.0" cy="679.3" rx="7.0" ry="5.2" fill="none" stroke="#fbd38e" stroke-width="0.6"/>
<ellipse cx="426.1" cy="686.6" rx="7.4" ry="5.0" fill="none" stroke="#f8bf74" stroke-width="0.6"/>
<ellipse cx="405.0" cy="711.2" rx="5.5" ry="4.0" fill="none" stroke="#fbd38e" stroke-width="0.6"/>
<ellipse cx="428.5" cy="707.8" rx="5.5" ry="4.0" fill="none" stroke="#fde9c0" stroke-width="0.6"/>
<ellipse cx="442.0" cy="748.5" rx="5.5" ry="5.0" fill="none" stroke="#fde9c0" stroke-width="0.6"/>
<ellipse cx="393.5" cy="724.8" rx="5.0" ry="4.5" fill="none" stroke="#fde9c0" stroke-width="0.6"/>
<circle cx="373.5" cy="685.9" r="3.0" fill="#6495ed"/>
<circle cx="426.1" cy="692.5" r="3.0" fill="#00bfff"/>
<circle cx="426.1" cy="713.3" r="3.0" fill="#8080ff"/>
<circle cx="440.4" cy="755.4" r="3.0" fill="#ff1493"/>
<circle cx="355.5" cy="797.7" r="3.0" fill="#ba55d3"/>
<circle cx="371.9" cy="731.3" r="3.0" fill="#daa520"/>
<circle cx="395.0" cy="730.5" r="3.4" fill="#ffd700"/>
<circle cx="406.0" cy="717.4" r="3.5" fill="#0000ff"/>
<circle cx="419.5" cy="728.2" r="3.3" fill="#8c5e5e"/>
<circle cx="406.6" cy="724.2" r="5.0" fill="#bc8f8f"/>
<text x="346.8" y="688.8" font-size="7.9">Pro. B</text>
<text x="423.6" y="688.8" font-size="7.9">B</text>
<text x="420.5" y="710.0" font-size="7.9">Pro. Dendritic</text>
<text x="368.2" y="717.4" font-size="7.9">Dendritic</text>
<text x="410.1" y="724.3" font-size="7.9">Macrophage</text>
<text x="335.1" y="728.0" font-size="7.9">Pro. ILC &amp; T</text>
<text x="381.7" y="741.9" font-size="7.9">ILC &amp; T</text>
<text x="409.7" y="737.2" font-size="7.9">Pro. Macrophage</text>
<text x="432.6" y="765.2" font-size="7.9">NK</text>
<text x="359.6" y="800.5" font-size="7.9">Pro. NK</text>
<line x1="559.5" y1="727.2" x2="557.4" y2="685.9" stroke="#fbd38e" stroke-width="0.5" stroke-opacity="0.8"/>
<line x1="559.5" y1="727.2" x2="525.2" y2="706.8" stroke="#fbd38e" stroke-width="0.5" stroke-opacity="0.8"/>
<line x1="559.5" y1="727.2" x2="609.1" y2="711.5" stroke="#fbd38e" stroke-width="0.5" stroke-opacity="0.8"/>
<line x1="559.5" y1="727.2" x2="542.5" y2="742.6" stroke="#fbd38e" stroke-width="0.5" stroke-opacity="0.8"/>
<line x1="559.5" y1="727.2" x2="582.0" y2="741.5" stroke="#fbd38e" stroke-width="0.5" stroke-opacity="0.8"/>
<line x1="559.5" y1="727.2" x2="552.3" y2="797.1" stroke="#fbd38e" stroke-width="0.5" stroke-opacity="0.8"/>
<line x1="559.5" y1="727.2" x2="550.9" y2="729.3" stroke="#fbd38e" stroke-width="0.5" stroke-opacity="0.8"/>
<line x1="559.5" y1="727.2" x2="556.4" y2="721.5" stroke="#fbd38e" stroke-width="0.5" stroke-opacity="0.8"/>
<line x1="559.5" y1="727.2" x2="567.3" y2="723.5" stroke="#fbd38e" stroke-width="0.5" stroke-opacity="0.8"/>
<line x1="550.9" y1="729.3" x2="557.4" y2="685.9" stroke="#fbd38e" stroke-width="0.5" stroke-opacity="0.8"/>
<line x1="550.9" y1="729.3" x2="525.2" y2="706.8" stroke="#fbd38e" stroke-width="0.5" stroke-opacity="0.8"/>
<line x1="550.9" y1="729.3" x2="609.1" y2="711.5" stroke="#fbd38e" stroke-width="0.5" stroke-opacity="0.8"/>
<line x1="550.9" y1="729.3" x2="542.5" y2="742.6" stroke="#fbd38e" stroke-width="0.5" stroke-opacity="0.8"/>
<line x1="550.9" y1="729.3" x2="582.0" y2="741.5" stroke="#fbd38e" stroke-width="0.5" stroke-opacity="0.8"/>
<line x1="550.9" y1="729.3" x2="552.3" y2="797.1" stroke="#fbd38e" stroke-width="0.5" stroke-opacity="0.8"/>
<line x1="550.9" y1="729.3" x2="556.4" y2="721.5" stroke="#fbd38e" stroke-width="0.5" stroke-opacity="0.8"/>
<line x1="550.9" y1="729.3" x2="567.3" y2="723.5" stroke="#fbd38e" stroke-width="0.5" stroke-opacity="0.8"/>
<line x1="550.9" y1="729.3" x2="559.5" y2="727.2" stroke="#fbd38e" stroke-width="0.5" stroke-opacity="0.8"/>
<line x1="556.4" y1="721.5" x2="557.4" y2="685.9" stroke="#fbd38e" stroke-width="0.5" stroke-opacity="0.8"/>
<line x1="556.4" y1="721.5" x2="525.2" y2="706.8" stroke="#fbd38e" stroke-width="0.5" stroke-opacity="0.8"/>
<line x1="556.4" y1="721.5" x2="609.1" y2="711.5" stroke="#fbd38e" stroke-width="0.5" stroke-opacity="0.8"/>
<line x1="556.4" y1="721.5" x2="542.5" y2="742.6" stroke="#fbd38e" stroke-width="0.5" stroke-opacity="0.8"/>
<line x1="556.4" y1="721.5" x2="582.0" y2="741.5" stroke="#fbd38e" stroke-width="0.5" stroke-opacity="0.8"/>
<line x1="556.4" y1="721.5" x2="552.3" y2="797.1" stroke="#fbd38e" stroke-width="0.5" stroke-opacity="0.8"/>
<line x1="556.4" y1="721.5" x2="550.9" y2="729.3" stroke="#fbd38e" stroke-width="0.5" stroke-opacity="0.8"/>
<line x1="556.4" y1="721.5" x2="567.3" y2="723.5" stroke="#fbd38e" stroke-width="0.5" stroke-opacity="0.8"/>
<line x1="556.4" y1="721.5" x2="559.5" y2="727.2" stroke="#fbd38e" stroke-width="0.5" stroke-opacity="0.8"/>
<line x1="567.3" y1="723.5" x2="557.4" y2="685.9" stroke="#fbd38e" stroke-width="0.5" stroke-opacity="0.8"/>
<line x1="567.3" y1="723.5" x2="525.2" y2="706.8" stroke="#fbd38e" stroke-width="0.5" stroke-opacity="0.8"/>
<line x1="567.3" y1="723.5" x2="609.1" y2="711.5" stroke="#fbd38e" stroke-width="0.5" stroke-opacity="0.8"/>
<line x1="567.3" y1="723.5" x2="542.5" y2="742.6" stroke="#fbd38e" stroke-width="0.5" stroke-opacity="0.8"/>
<line x1="567.3" y1="723.5" x2="582.0" y2="741.5" stroke="#fbd38e" stroke-width="0.5" stroke-opacity="0.8"/>
<line x1="567.3" y1="723.5" x2="552.3" y2="797.1" stroke="#fbd38e" stroke-width="0.5" stroke-opacity="0.8"/>
<line x1="567.3" y1="723.5" x2="550.9" y2="729.3" stroke="#fbd38e" stroke-width="0.5" stroke-opacity="0.8"/>
<line x1="567.3" y1="723.5" x2="556.4" y2="721.5" stroke="#fbd38e" stroke-width="0.5" stroke-opacity="0.8"/>
<line x1="567.3" y1="723.5" x2="559.5" y2="727.2" stroke="#fbd38e" stroke-width="0.5" stroke-opacity="0.8"/>
<line x1="557.4" y1="685.9" x2="609.1" y2="711.5" stroke="#fde9c0" stroke-width="0.5"/>
<line x1="557.4" y1="685.9" x2="525.2" y2="706.8" stroke="#fbd38e" stroke-width="0.5"/>
<line x1="542.5" y1="742.6" x2="582.0" y2="741.5" stroke="#fde9c0" stroke-width="0.5"/>
<line x1="525.2" y1="706.8" x2="559.5" y2="727.2" stroke="#f4a258" stroke-width="0.9"/>
<line x1="525.2" y1="706.8" x2="556.4" y2="721.5" stroke="#f4a258" stroke-width="0.8"/>
<line x1="525.2" y1="706.8" x2="567.3" y2="723.5" stroke="#f8bf74" stroke-width="0.6"/>
<line x1="557.4" y1="685.9" x2="559.5" y2="727.2" stroke="#f8bf74" stroke-width="0.8"/>
<line x1="557.4" y1="685.9" x2="556.4" y2="721.5" stroke="#f8bf74" stroke-width="0.7"/>
<line x1="557.4" y1="685.9" x2="542.5" y2="742.6" stroke="#f8bf74" stroke-width="0.6"/>
<line x1="609.1" y1="711.5" x2="559.5" y2="727.2" stroke="#f4a258" stroke-width="0.9"/>
<line x1="609.1" y1="711.5" x2="567.3" y2="723.5" stroke="#f4a258" stroke-width="0.8"/>
<line x1="609.1" y1="711.5" x2="556.4" y2="721.5" stroke="#f8bf74" stroke-width="0.6"/>
<line x1="542.5" y1="742.6" x2="559.5" y2="727.2" stroke="#e8553a" stroke-width="0.9"/>
<line x1="542.5" y1="742.6" x2="550.9" y2="729.3" stroke="#f4a258" stroke-width="0.8"/>
<line x1="542.5" y1="742.6" x2="556.4" y2="721.5" stroke="#f4a258" stroke-width="0.7"/>
<line x1="582.0" y1="741.5" x2="559.5" y2="727.2" stroke="#f4a258" stroke-width="0.8"/>
<line x1="582.0" y1="741.5" x2="567.3" y2="723.5" stroke="#f8bf74" stroke-width="0.7"/>
<line x1="552.3" y1="797.1" x2="559.5" y2="727.2" stroke="#f8bf74" stroke-width="0.7"/>
<line x1="552.3" y1="797.1" x2="556.4" y2="721.5" stroke="#fbd38e" stroke-width="0.5"/>
<line x1="552.3" y1="797.1" x2="557.4" y2="685.9" stroke="#fbd38e" stroke-width="0.5"/>
<ellipse cx="557.4" cy="679.3" rx="5.0" ry="4.8" fill="none" stroke="#fde9c0" stroke-width="0.6"/>
<ellipse cx="526.5" cy="700.0" rx="4.5" ry="4.5" fill="none" stroke="#fde9c0" stroke-width="0.6"/>
<ellipse cx="552.3" cy="790.9" rx="5.2" ry="5.0" fill="none" stroke="#f0603c" stroke-width="1.3"/>
<ellipse cx="568.0" cy="716.5" rx="5.0" ry="4.5" fill="none" stroke="#fde9c0" stroke-width="0.6"/>
<ellipse cx="540.5" cy="736.0" rx="5.0" ry="4.5" fill="none" stroke="#fde9c0" stroke-width="0.5"/>
<circle cx="557.4" cy="685.9" r="3.0" fill="#00bfff"/>
<circle cx="525.2" cy="706.8" r="3.0" fill="#6495ed"/>
<circle cx="609.1" cy="711.5" r="3.0" fill="#ff1493"/>
<circle cx="542.5" cy="742.6" r="3.0" fill="#daa520"/>
<circle cx="582.0" cy="741.5" r="3.0" fill="#8080ff"/>
<circle cx="552.3" cy="797.1" r="3.0" fill="#ba55d3"/>
<circle cx="550.9" cy="729.3" r="3.3" fill="#ffd700"/>
<circle cx="556.4" cy="721.5" r="3.3" fill="#8c5e5e"/>
<circle cx="567.3" cy="723.5" r="3.3" fill="#0000ff"/>
<circle cx="559.5" cy="727.2" r="5.0" fill="#bc8f8f"/>
<text x="563.2" y="689.1" font-size="7.9">B</text>
<text x="500.6" y="703.9" font-size="7.9">Pro. B</text>
<text x="606.5" y="707.5" font-size="7.9">NK</text>
<text x="498.6" y="717.4" font-size="7.9">Pro. Macrophage</text>
<text x="570.7" y="726.3" font-size="7.9">Dendritic</text>
<text x="517.6" y="730.6" font-size="7.9">ILC &amp; T</text>
<text x="563.6" y="736.2" font-size="7.9">Macrophage</text>
<text x="501.6" y="752.5" font-size="7.9">Pro. ILC &amp; T</text>
<text x="575.4" y="751.5" font-size="7.9">Pro. Dendritic</text>
<text x="559.1" y="799.9" font-size="7.9">Pro. NK</text></g>
</g></svg></body></html>
